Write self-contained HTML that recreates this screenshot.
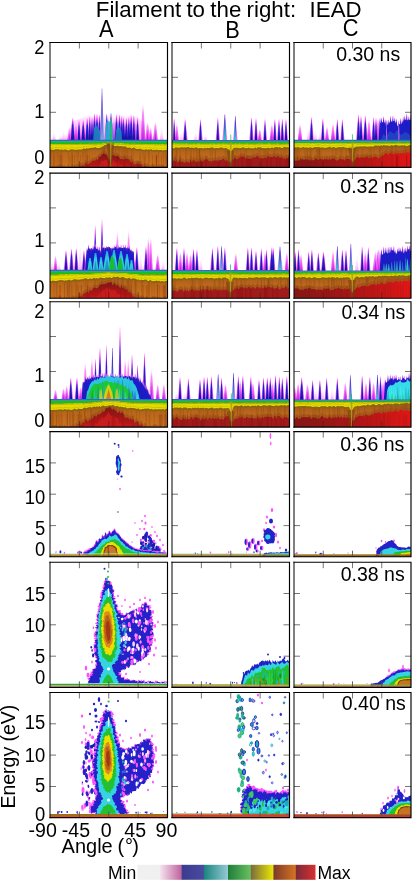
<!DOCTYPE html><html><head><meta charset="utf-8"><style>html,body{margin:0;padding:0;background:#fff;overflow:hidden}svg{display:block;will-change:transform}text{font-family:"Liberation Sans",sans-serif;fill:#000}</style></head><body>
<svg xmlns="http://www.w3.org/2000/svg" width="413" height="881" viewBox="0 0 413 881">
<defs>
<linearGradient id="gB" x1="0" y1="0" x2="0" y2="1">
 <stop offset="0" stop-color="#ff80ff" stop-opacity="0.6"/><stop offset="0.1" stop-color="#ff40ff"/><stop offset="0.22" stop-color="#a830e4"/><stop offset="0.34" stop-color="#3020d0"/><stop offset="0.65" stop-color="#1c1cc4"/><stop offset="1" stop-color="#16169e"/></linearGradient>
<filter id="soft" x="-5%" y="-5%" width="110%" height="110%"><feGaussianBlur stdDeviation="0.45"/></filter>
<linearGradient id="gH" x1="0" y1="0" x2="0" y2="1">
 <stop offset="0" stop-color="#ffffff" stop-opacity="0"/><stop offset="0.25" stop-color="#ffa0ff"/><stop offset="0.6" stop-color="#ff50ff"/><stop offset="1" stop-color="#ff40ff"/></linearGradient>
<linearGradient id="gM" x1="0" y1="0" x2="0" y2="1">
 <stop offset="0" stop-color="#ffffff" stop-opacity="0"/><stop offset="0.3" stop-color="#ff90ff"/><stop offset="1" stop-color="#f030f0"/></linearGradient>
<linearGradient id="gP" x1="0" y1="0" x2="0" y2="1">
 <stop offset="0" stop-color="#ffffff" stop-opacity="0"/><stop offset="1" stop-color="#ffa8ff"/></linearGradient>
<linearGradient id="gT" x1="0" y1="0" x2="0" y2="1">
 <stop offset="0" stop-color="#7040e0"/><stop offset="0.25" stop-color="#2a30d0"/><stop offset="0.6" stop-color="#2090c8"/><stop offset="1" stop-color="#30d0d0"/></linearGradient>
<linearGradient id="gBlk" x1="0" y1="0" x2="0" y2="1">
 <stop offset="0" stop-color="#ff60ff"/><stop offset="0.07" stop-color="#c040f0"/><stop offset="0.15" stop-color="#3a22d4"/><stop offset="0.3" stop-color="#1e1ed0"/><stop offset="1" stop-color="#1a1ab8"/></linearGradient>
<linearGradient id="gCy" x1="0" y1="0" x2="0" y2="1">
 <stop offset="0" stop-color="#20a0d8"/><stop offset="0.4" stop-color="#30d8e0"/><stop offset="1" stop-color="#28c0c8"/></linearGradient>
<linearGradient id="gRed" x1="0" y1="0" x2="0" y2="1">
 <stop offset="0" stop-color="#7e1414"/><stop offset="0.5" stop-color="#a81818"/><stop offset="1" stop-color="#c81c1c"/></linearGradient>
<linearGradient id="gRedR" x1="0" y1="0" x2="1" y2="0">
 <stop offset="0" stop-color="#861818"/><stop offset="0.5" stop-color="#a81818"/><stop offset="1" stop-color="#e01818"/></linearGradient>
<linearGradient id="gOr" x1="0" y1="0" x2="0" y2="1">
 <stop offset="0" stop-color="#94521a"/><stop offset="0.45" stop-color="#b8661c"/><stop offset="1" stop-color="#cc7420"/></linearGradient>
<clipPath id="cl00"><rect x="50.0" y="42.5" width="117.50" height="124.80"/></clipPath><clipPath id="cl01"><rect x="172.0" y="42.5" width="117.50" height="124.80"/></clipPath><clipPath id="cl02"><rect x="294.0" y="42.5" width="117.00" height="124.80"/></clipPath><clipPath id="cl10"><rect x="50.0" y="173.1" width="117.50" height="125.10"/></clipPath><clipPath id="cl11"><rect x="172.0" y="173.1" width="117.50" height="125.10"/></clipPath><clipPath id="cl12"><rect x="294.0" y="173.1" width="117.00" height="125.10"/></clipPath><clipPath id="cl20"><rect x="50.0" y="301.7" width="117.50" height="125.40"/></clipPath><clipPath id="cl21"><rect x="172.0" y="301.7" width="117.50" height="125.40"/></clipPath><clipPath id="cl22"><rect x="294.0" y="301.7" width="117.00" height="125.40"/></clipPath><clipPath id="cl30"><rect x="50.0" y="431.6" width="117.50" height="125.10"/></clipPath><clipPath id="cl31"><rect x="172.0" y="431.6" width="117.50" height="125.10"/></clipPath><clipPath id="cl32"><rect x="294.0" y="431.6" width="117.00" height="125.10"/></clipPath><clipPath id="cl40"><rect x="50.0" y="562.2" width="117.50" height="125.10"/></clipPath><clipPath id="cl41"><rect x="172.0" y="562.2" width="117.50" height="125.10"/></clipPath><clipPath id="cl42"><rect x="294.0" y="562.2" width="117.00" height="125.10"/></clipPath><clipPath id="cl50"><rect x="50.0" y="692.5" width="117.50" height="125.10"/></clipPath><clipPath id="cl51"><rect x="172.0" y="692.5" width="117.50" height="125.10"/></clipPath><clipPath id="cl52"><rect x="294.0" y="692.5" width="117.00" height="125.10"/></clipPath></defs>
<rect width="413" height="881" fill="#fff"/>
<g clip-path="url(#cl00)">
<g filter="url(#soft)">
<polygon points="68.0,140.2 72.0,121.0 80.0,119.0 92.0,113.0 100.0,112.0 112.0,112.0 124.0,115.0 136.0,116.0 142.0,121.0 146.0,140.2" fill="url(#gH)" opacity="0.35"/>
<polygon points="52.1,140.2 54.0,130.0 55.9,140.2" fill="url(#gP)" />
<polygon points="58.7,140.2 60.6,133.0 62.5,140.2" fill="url(#gP)" />
<polygon points="61.6,140.2 63.5,128.0 65.5,140.2" fill="url(#gP)" />
<polygon points="64.5,140.2 66.4,130.0 68.4,140.2" fill="url(#gP)" />
<polygon points="69.8,140.2 72.7,115.5 75.6,140.2" fill="url(#gH)" opacity="0.85"/>
<polygon points="76.7,140.2 79.0,117.5 81.3,140.2" fill="url(#gH)" opacity="0.85"/>
<polygon points="80.5,140.2 83.2,117.5 85.9,140.2" fill="url(#gH)" opacity="0.85"/>
<polygon points="84.6,140.2 87.2,115.5 89.8,140.2" fill="url(#gH)" opacity="0.85"/>
<polygon points="87.5,140.2 89.8,113.8 92.1,140.2" fill="url(#gH)" opacity="0.85"/>
<polygon points="91.6,140.2 94.5,111.5 97.4,140.2" fill="url(#gH)" opacity="0.85"/>
<polygon points="94.1,140.2 97.0,111.3 99.9,140.2" fill="url(#gH)" opacity="0.85"/>
<polygon points="97.0,140.2 99.5,112.5 102.0,140.2" fill="url(#gH)" opacity="0.85"/>
<polygon points="113.8,140.2 116.5,111.9 119.2,140.2" fill="url(#gH)" opacity="0.85"/>
<polygon points="116.8,140.2 119.5,112.3 122.2,140.2" fill="url(#gH)" opacity="0.85"/>
<polygon points="120.9,140.2 123.5,115.1 126.1,140.2" fill="url(#gH)" opacity="0.85"/>
<polygon points="123.8,140.2 126.4,115.5 129.0,140.2" fill="url(#gH)" opacity="0.85"/>
<polygon points="126.4,140.2 128.8,114.5 131.2,140.2" fill="url(#gH)" opacity="0.85"/>
<polygon points="128.6,140.2 131.2,112.5 133.8,140.2" fill="url(#gH)" opacity="0.85"/>
<polygon points="131.4,140.2 133.8,113.0 136.2,140.2" fill="url(#gH)" opacity="0.85"/>
<polygon points="135.3,140.2 137.6,115.0 139.9,140.2" fill="url(#gH)" opacity="0.85"/>
<polygon points="140.6,140.2 142.8,100.5 143.2,100.5 145.4,140.2" fill="url(#gM)" />
<polygon points="145.2,140.2 147.4,120.0 147.8,120.0 150.0,140.2" fill="url(#gM)" />
<polygon points="153.0,140.2 155.2,120.0 155.6,120.0 157.8,140.2" fill="url(#gM)" />
<polygon points="159.6,140.2 161.6,124.0 163.6,140.2" fill="url(#gP)" />
<polygon points="104.1,140.2 106.8,111.9 109.5,140.2" fill="url(#gH)" opacity="0.85"/>
<polygon points="108.1,140.2 111.0,110.7 113.9,140.2" fill="url(#gH)" opacity="0.85"/>
<polygon points="73.6,140.2 75.8,121.0 76.2,121.0 78.4,140.2" fill="url(#gM)" />
<polygon points="89.8,140.2 92.0,114.5 94.2,140.2" fill="url(#gH)" opacity="0.85"/>
<polygon points="111.7,140.2 113.8,116.0 114.2,116.0 116.3,140.2" fill="url(#gM)" />
<polygon points="119.5,140.2 121.8,113.5 124.1,140.2" fill="url(#gH)" opacity="0.85"/>
<polygon points="133.5,140.2 135.6,118.0 136.0,118.0 138.1,140.2" fill="url(#gM)" />
<polygon points="148.3,140.2 150.3,126.0 150.7,126.0 152.7,140.2" fill="url(#gM)" />
<polygon points="67.3,140.2 69.3,126.0 69.7,126.0 71.7,140.2" fill="url(#gM)" />
<polygon points="70.8,140.2 72.5,118.0 73.0,118.0 74.6,140.2" fill="url(#gB)" />
<polygon points="77.6,140.2 78.8,120.0 79.2,120.0 80.4,140.2" fill="url(#gB)" />
<polygon points="81.4,140.2 83.0,120.0 83.5,120.0 85.0,140.2" fill="url(#gB)" />
<polygon points="85.5,140.2 87.0,118.0 87.5,118.0 88.9,140.2" fill="url(#gB)" />
<polygon points="88.5,140.2 89.5,116.3 90.0,116.3 91.1,140.2" fill="url(#gB)" />
<polygon points="92.6,140.2 94.2,114.0 94.8,114.0 96.4,140.2" fill="url(#gB)" />
<polygon points="95.1,140.2 96.8,113.8 97.2,113.8 98.9,140.2" fill="url(#gB)" />
<polygon points="98.0,140.2 99.2,115.0 99.8,115.0 101.0,140.2" fill="url(#gB)" />
<polygon points="114.7,140.2 116.2,114.4 116.8,114.4 118.3,140.2" fill="url(#gB)" />
<polygon points="117.7,140.2 119.2,114.8 119.8,114.8 121.3,140.2" fill="url(#gB)" />
<polygon points="121.8,140.2 123.2,117.6 123.8,117.6 125.2,140.2" fill="url(#gB)" />
<polygon points="124.7,140.2 126.2,118.0 126.7,118.0 128.1,140.2" fill="url(#gB)" />
<polygon points="127.4,140.2 128.6,117.0 129.1,117.0 130.2,140.2" fill="url(#gB)" />
<polygon points="129.5,140.2 130.9,115.0 131.4,115.0 132.9,140.2" fill="url(#gB)" />
<polygon points="132.4,140.2 133.6,115.5 134.1,115.5 135.2,140.2" fill="url(#gB)" />
<polygon points="136.2,140.2 137.3,117.5 137.8,117.5 139.0,140.2" fill="url(#gB)" />
<polygon points="142.3,140.2 143.0,118.4 143.7,140.2" fill="#7a24d8" opacity="0.65"/>
<polygon points="146.9,140.2 147.6,129.1 148.3,140.2" fill="#7a24d8" opacity="0.65"/>
<polygon points="154.7,140.2 155.4,129.1 156.1,140.2" fill="#7a24d8" opacity="0.65"/>
<polygon points="105.0,140.2 106.5,114.4 107.0,114.4 108.6,140.2" fill="url(#gT)" />
<polygon points="109.1,140.2 110.8,113.2 111.2,113.2 112.9,140.2" fill="url(#gT)" />
<polygon points="75.3,140.2 76.0,129.6 76.7,140.2" fill="#7a24d8" opacity="0.65"/>
<polygon points="90.8,140.2 91.8,117.0 92.2,117.0 93.2,140.2" fill="url(#gB)" />
<polygon points="113.4,140.2 114.0,126.9 114.6,140.2" fill="#7a24d8" opacity="0.65"/>
<polygon points="120.5,140.2 121.5,116.0 122.0,116.0 123.1,140.2" fill="url(#gB)" />
<polygon points="135.2,140.2 135.8,128.0 136.4,140.2" fill="#7a24d8" opacity="0.65"/>
<polygon points="149.9,140.2 150.5,132.4 151.1,140.2" fill="#7a24d8" opacity="0.65"/>
<polygon points="68.9,140.2 69.5,132.4 70.1,140.2" fill="#7a24d8" opacity="0.65"/>
<polygon points="93.2,140.2 94.0,128.0 96.0,125.0 98.0,127.0 100.0,131.0 100.6,140.2" fill="#2290c0" opacity="0.8"/>
<polygon points="105.0,140.2 105.8,124.0 107.5,120.0 109.5,122.0 111.0,119.0 112.6,124.0 113.0,140.2" fill="#26a8cc" opacity="0.85"/>
<polygon points="115.0,140.2 116.0,130.0 118.0,126.0 120.0,128.0 121.6,132.0 122.0,140.2" fill="#2290c0" opacity="0.75"/>
<polygon points="99.9,140.2 102.0,86.1 104.1,140.2" fill="url(#gH)" opacity="0.85"/>
<polygon points="100.8,140.2 101.8,88.6 102.2,88.6 103.2,140.2" fill="url(#gT)" />
<polygon points="110.4,140.2 111.0,118.0 111.5,118.0 112.0,140.2" fill="#20c848" />
<polygon points="50.0,140.2 167.5,140.2 167.5,168.3 50.0,168.3" fill="url(#gOr)" />
<path d="M103.2 144.2V167.3 M115.8 144.2V167.3 M158.6 144.2V167.3 M104.7 144.2V167.3 M109.7 144.2V167.3 M119.0 144.2V167.3 M71.7 144.2V167.3 M110.1 144.2V167.3 M124.0 144.2V167.3 M143.2 144.2V167.3 M61.1 144.2V167.3 M85.6 144.2V167.3 M60.7 144.2V167.3 M145.1 144.2V167.3 M131.5 144.2V167.3 M54.9 144.2V167.3 M165.4 144.2V167.3 M163.4 144.2V167.3 M126.8 144.2V167.3 M122.3 144.2V167.3 M68.5 144.2V167.3 M51.8 144.2V167.3 M112.1 144.2V167.3 M57.0 144.2V167.3 M72.3 144.2V167.3 M78.4 144.2V167.3 M53.5 144.2V167.3 M104.5 144.2V167.3 M101.8 144.2V167.3 M149.0 144.2V167.3 M111.0 144.2V167.3 M125.2 144.2V167.3 M108.7 144.2V167.3 M127.8 144.2V167.3 M103.7 144.2V167.3 M82.7 144.2V167.3 M167.2 144.2V167.3 M167.0 144.2V167.3 M148.7 144.2V167.3 M133.2 144.2V167.3 M87.0 144.2V167.3 M77.0 144.2V167.3 M84.0 144.2V167.3 M58.3 144.2V167.3 M140.0 144.2V167.3" stroke="#7a3a0c" stroke-opacity="0.25" stroke-width="0.8"/>
<polygon points="50.0,165.6 51.1,165.9 52.2,165.7 53.3,165.7 54.4,165.6 55.5,166.3 56.6,165.0 57.7,166.2 58.8,164.1 59.9,165.0 61.0,165.1 62.1,164.4 63.2,166.3 64.3,164.9 65.4,166.4 66.5,166.9 67.6,164.6 68.7,166.6 69.8,166.3 70.9,165.8 72.0,163.7 73.1,165.0 74.2,165.5 75.3,164.4 76.4,164.2 77.5,164.4 78.6,163.9 79.7,164.9 80.8,162.9 81.9,162.5 83.0,162.6 84.1,162.9 85.2,160.3 86.3,159.2 87.4,161.8 88.5,161.1 89.6,160.6 90.7,159.4 91.8,158.2 92.9,157.6 94.0,157.6 95.1,157.7 96.2,155.9 97.3,157.0 98.4,156.1 99.5,152.9 100.6,154.2 101.7,151.5 102.8,151.3 103.9,150.0 105.0,151.4 106.1,151.1 107.2,152.9 108.3,155.5 109.4,156.3 110.5,158.9 111.6,153.3 112.7,151.9 113.8,152.0 114.9,152.9 116.0,153.5 117.1,153.1 118.2,153.2 119.3,154.3 120.4,156.1 121.5,156.0 122.6,156.0 123.7,156.9 124.8,155.4 125.9,155.4 127.0,155.8 128.1,156.3 129.2,156.4 130.3,158.8 131.4,160.1 132.5,158.0 133.6,160.2 134.7,161.5 135.8,161.3 136.9,159.8 138.0,161.8 139.1,161.0 140.2,161.1 141.3,161.0 142.4,163.0 143.5,164.7 144.6,162.5 145.7,163.0 146.8,164.2 147.9,163.5 149.0,164.9 150.1,165.8 151.2,165.0 152.3,163.8 153.4,163.8 154.5,164.4 155.6,165.9 156.7,166.8 157.8,165.5 158.9,164.3 160.0,164.7 161.1,165.4 162.2,164.5 163.3,164.6 164.4,165.7 165.5,167.0 166.6,165.1 167.5,166.0 167.5,168.3 50.0,168.3" fill="#94481a" opacity="0.55"/>
<polygon points="50.0,168.6 51.1,168.9 52.2,168.7 53.3,168.7 54.4,168.6 55.5,169.3 56.6,168.0 57.7,169.2 58.8,167.1 59.9,168.0 61.0,168.1 62.1,167.4 63.2,169.3 64.3,167.9 65.4,169.4 66.5,169.9 67.6,167.6 68.7,169.6 69.8,169.3 70.9,168.8 72.0,166.7 73.1,168.0 74.2,168.5 75.3,167.4 76.4,167.2 77.5,167.4 78.6,166.9 79.7,167.9 80.8,165.9 81.9,165.5 83.0,165.6 84.1,165.9 85.2,163.3 86.3,162.2 87.4,164.8 88.5,164.1 89.6,163.6 90.7,162.4 91.8,161.2 92.9,160.6 94.0,160.6 95.1,160.7 96.2,158.9 97.3,160.0 98.4,159.1 99.5,155.9 100.6,157.2 101.7,154.5 102.8,154.3 103.9,153.0 105.0,154.4 106.1,154.1 107.2,155.9 108.3,158.5 109.4,159.3 110.5,161.9 111.6,156.3 112.7,154.9 113.8,155.0 114.9,155.9 116.0,156.5 117.1,156.1 118.2,156.2 119.3,157.3 120.4,159.1 121.5,159.0 122.6,159.0 123.7,159.9 124.8,158.4 125.9,158.4 127.0,158.8 128.1,159.3 129.2,159.4 130.3,161.8 131.4,163.1 132.5,161.0 133.6,163.2 134.7,164.5 135.8,164.3 136.9,162.8 138.0,164.8 139.1,164.0 140.2,164.1 141.3,164.0 142.4,166.0 143.5,167.7 144.6,165.5 145.7,166.0 146.8,167.2 147.9,166.5 149.0,167.9 150.1,168.8 151.2,168.0 152.3,166.8 153.4,166.8 154.5,167.4 155.6,168.9 156.7,169.8 157.8,168.5 158.9,167.3 160.0,167.7 161.1,168.4 162.2,167.5 163.3,167.6 164.4,168.7 165.5,170.0 166.6,168.1 167.5,169.0 167.5,168.3 50.0,168.3" fill="url(#gRed)" />
<polygon points="50.0,169.1 51.1,170.2 52.2,170.7 53.3,168.1 54.4,169.9 55.5,169.7 56.6,169.5 57.7,167.3 58.8,167.0 59.9,168.3 61.0,169.7 62.1,167.8 63.2,168.7 64.3,168.0 65.4,170.0 66.5,170.4 67.6,168.2 68.7,170.5 69.8,166.9 70.9,169.7 72.0,170.0 73.1,167.2 74.2,169.3 75.3,168.7 76.4,170.2 77.5,167.3 78.6,168.5 79.7,169.8 80.8,168.9 81.9,167.6 83.0,166.7 84.1,169.9 85.2,168.1 86.3,170.1 87.4,166.8 88.5,169.4 89.6,169.3 90.7,169.7 91.8,166.2 92.9,167.6 94.0,166.3 95.1,169.0 96.2,167.2 97.3,168.1 98.4,164.5 99.5,164.7 100.6,163.8 101.7,160.3 102.8,160.4 103.9,160.9 105.0,159.8 106.1,159.9 107.2,160.4 108.3,164.3 109.4,163.8 110.5,165.6 111.6,163.5 112.7,161.7 113.8,159.9 114.9,162.4 116.0,163.8 117.1,161.9 118.2,162.5 119.3,165.7 120.4,165.3 121.5,165.0 122.6,165.0 123.7,168.7 124.8,167.4 125.9,167.9 127.0,167.2 128.1,168.6 129.2,169.0 130.3,167.4 131.4,166.5 132.5,170.1 133.6,169.8 134.7,166.4 135.8,168.5 136.9,169.0 138.0,168.0 139.1,169.2 140.2,170.1 141.3,168.7 142.4,168.0 143.5,167.3 144.6,167.5 145.7,167.2 146.8,167.0 147.9,167.5 149.0,169.9 150.1,168.7 151.2,169.8 152.3,170.3 153.4,169.9 154.5,167.0 155.6,170.4 156.7,167.2 157.8,169.8 158.9,170.1 160.0,169.4 161.1,168.5 162.2,167.3 163.3,167.3 164.4,169.5 165.5,168.0 166.6,169.1 167.5,169.0 167.5,168.3 50.0,168.3" fill="#cc1e1e" opacity="0.85"/>
<path d="M156.4 155.2V167.3 M130.6 155.2V167.3 M140.1 155.2V167.3 M156.3 155.2V167.3 M80.5 155.2V167.3 M124.7 155.2V167.3 M156.3 155.2V167.3 M152.5 155.2V167.3 M117.3 155.2V167.3 M69.9 155.2V167.3 M98.4 155.2V167.3 M166.8 155.2V167.3 M62.1 155.2V167.3 M87.5 155.2V167.3 M161.6 155.2V167.3 M102.8 155.2V167.3 M74.5 155.2V167.3 M87.2 155.2V167.3 M156.8 155.2V167.3 M89.4 155.2V167.3 M100.2 155.2V167.3 M123.8 155.2V167.3 M144.7 155.2V167.3 M107.8 155.2V167.3 M59.6 155.2V167.3 M117.4 155.2V167.3 M54.1 155.2V167.3 M61.1 155.2V167.3 M72.4 155.2V167.3 M131.5 155.2V167.3" stroke="#600808" stroke-opacity="0.18" stroke-width="0.8"/>
<polygon points="50.0,144.0 51.3,144.0 52.6,144.0 53.9,143.8 55.2,143.8 56.5,143.9 57.8,143.8 59.1,144.0 60.4,144.0 61.7,143.9 63.0,143.9 64.3,143.9 65.6,143.7 66.9,143.8 68.2,143.7 69.5,144.0 70.8,143.6 72.1,143.9 73.4,143.6 74.7,143.8 76.0,143.7 77.3,143.7 78.6,143.9 79.9,143.5 81.2,143.5 82.5,143.8 83.8,143.7 85.1,143.5 86.4,143.8 87.7,143.8 89.0,143.5 90.3,143.6 91.6,143.4 92.9,143.5 94.2,143.6 95.5,143.4 96.8,143.6 98.1,143.3 99.4,143.4 100.7,143.5 102.0,143.2 103.3,143.1 104.6,143.0 105.9,142.8 107.2,142.6 108.5,142.4 109.8,142.8 111.1,142.9 112.4,143.0 113.7,142.9 115.0,142.9 116.3,142.9 117.6,143.1 118.9,143.2 120.2,143.0 121.5,143.1 122.8,143.2 124.1,143.3 125.4,143.5 126.7,143.5 128.0,143.3 129.3,143.7 130.6,143.6 131.9,143.6 133.2,143.5 134.5,143.6 135.8,143.6 137.1,143.8 138.4,143.6 139.7,143.8 141.0,143.6 142.3,143.9 143.6,143.6 144.9,143.8 146.2,143.8 147.5,143.9 148.8,143.7 150.1,143.9 151.4,143.8 152.7,143.9 154.0,144.0 155.3,144.2 156.6,144.0 157.9,144.2 159.2,143.9 160.5,144.3 161.8,144.1 163.1,144.0 164.4,144.3 165.7,144.3 167.0,144.0 167.5,144.2 167.5,152.1 167.0,151.6 165.7,151.8 164.4,151.8 163.1,152.2 161.8,151.7 160.5,151.9 159.2,151.8 157.9,151.8 156.6,151.2 155.3,151.8 154.0,151.6 152.7,152.1 151.4,150.8 150.1,151.6 148.8,151.0 147.5,151.7 146.2,150.7 144.9,151.5 143.6,151.5 142.3,151.4 141.0,150.7 139.7,150.3 138.4,150.8 137.1,150.9 135.8,150.6 134.5,149.5 133.2,149.2 131.9,150.2 130.6,149.8 129.3,149.1 128.0,149.7 126.7,149.1 125.4,148.1 124.1,148.4 122.8,148.1 121.5,148.0 120.2,147.8 118.9,148.1 117.6,147.4 116.3,147.7 115.0,147.8 113.7,147.5 112.4,147.1 111.1,146.4 109.8,145.2 108.5,145.3 107.2,146.1 105.9,146.9 104.6,146.7 103.3,148.1 102.0,148.4 100.7,149.2 99.4,149.9 98.1,149.7 96.8,149.8 95.5,148.9 94.2,149.3 92.9,149.5 91.6,149.5 90.3,149.7 89.0,150.0 87.7,150.4 86.4,150.1 85.1,150.8 83.8,150.1 82.5,151.0 81.2,151.3 79.9,151.2 78.6,151.4 77.3,151.5 76.0,151.6 74.7,151.8 73.4,151.0 72.1,151.3 70.8,151.0 69.5,151.9 68.2,152.2 66.9,151.6 65.6,151.4 64.3,151.3 63.0,151.7 61.7,151.1 60.4,151.9 59.1,151.1 57.8,151.0 56.5,151.1 55.2,151.0 53.9,151.9 52.6,151.6 51.3,151.6 50.0,151.0" fill="#8a6414" />
<polygon points="50.0,144.0 51.3,144.0 52.6,144.0 53.9,143.8 55.2,143.8 56.5,143.9 57.8,143.8 59.1,144.0 60.4,144.0 61.7,143.9 63.0,143.9 64.3,143.9 65.6,143.7 66.9,143.8 68.2,143.7 69.5,144.0 70.8,143.6 72.1,143.9 73.4,143.6 74.7,143.8 76.0,143.7 77.3,143.7 78.6,143.9 79.9,143.5 81.2,143.5 82.5,143.8 83.8,143.7 85.1,143.5 86.4,143.8 87.7,143.8 89.0,143.5 90.3,143.6 91.6,143.4 92.9,143.5 94.2,143.6 95.5,143.4 96.8,143.6 98.1,143.3 99.4,143.4 100.7,143.5 102.0,143.2 103.3,143.1 104.6,143.0 105.9,142.8 107.2,142.6 108.5,142.4 109.8,142.8 111.1,142.9 112.4,143.0 113.7,142.9 115.0,142.9 116.3,142.9 117.6,143.1 118.9,143.2 120.2,143.0 121.5,143.1 122.8,143.2 124.1,143.3 125.4,143.5 126.7,143.5 128.0,143.3 129.3,143.7 130.6,143.6 131.9,143.6 133.2,143.5 134.5,143.6 135.8,143.6 137.1,143.8 138.4,143.6 139.7,143.8 141.0,143.6 142.3,143.9 143.6,143.6 144.9,143.8 146.2,143.8 147.5,143.9 148.8,143.7 150.1,143.9 151.4,143.8 152.7,143.9 154.0,144.0 155.3,144.2 156.6,144.0 157.9,144.2 159.2,143.9 160.5,144.3 161.8,144.1 163.1,144.0 164.4,144.3 165.7,144.3 167.0,144.0 167.5,144.2 167.5,150.3 167.0,149.8 165.7,150.0 164.4,150.0 163.1,150.4 161.8,149.9 160.5,150.1 159.2,150.0 157.9,150.0 156.6,149.4 155.3,150.0 154.0,149.8 152.7,150.3 151.4,149.0 150.1,149.8 148.8,149.2 147.5,149.9 146.2,148.9 144.9,149.7 143.6,149.7 142.3,149.6 141.0,148.9 139.7,148.5 138.4,149.0 137.1,149.1 135.8,148.8 134.5,147.7 133.2,147.4 131.9,148.4 130.6,148.0 129.3,147.3 128.0,147.9 126.7,147.3 125.4,146.3 124.1,146.6 122.8,146.3 121.5,146.2 120.2,146.0 118.9,146.3 117.6,145.6 116.3,145.9 115.0,146.0 113.7,145.7 112.4,145.3 111.1,144.6 109.8,143.4 108.5,143.5 107.2,144.3 105.9,145.1 104.6,144.9 103.3,146.3 102.0,146.6 100.7,147.4 99.4,148.1 98.1,147.9 96.8,148.0 95.5,147.1 94.2,147.5 92.9,147.7 91.6,147.7 90.3,147.9 89.0,148.2 87.7,148.6 86.4,148.3 85.1,149.0 83.8,148.3 82.5,149.2 81.2,149.5 79.9,149.4 78.6,149.6 77.3,149.7 76.0,149.8 74.7,150.0 73.4,149.2 72.1,149.5 70.8,149.2 69.5,150.1 68.2,150.4 66.9,149.8 65.6,149.6 64.3,149.5 63.0,149.9 61.7,149.3 60.4,150.1 59.1,149.3 57.8,149.2 56.5,149.3 55.2,149.2 53.9,150.1 52.6,149.8 51.3,149.8 50.0,149.2" fill="#e4dc00" />
<polygon points="50.0,144.4 51.3,144.4 52.6,144.4 53.9,144.2 55.2,144.2 56.5,144.3 57.8,144.2 59.1,144.4 60.4,144.4 61.7,144.3 63.0,144.3 64.3,144.3 65.6,144.1 66.9,144.2 68.2,144.1 69.5,144.4 70.8,144.0 72.1,144.3 73.4,144.0 74.7,144.2 76.0,144.1 77.3,144.1 78.6,144.3 79.9,143.9 81.2,143.9 82.5,144.2 83.8,144.1 85.1,143.9 86.4,144.2 87.7,144.2 89.0,143.9 90.3,144.0 91.6,143.8 92.9,143.9 94.2,144.0 95.5,143.8 96.8,144.0 98.1,143.7 99.4,143.8 100.7,143.9 102.0,143.6 103.3,143.5 104.6,143.4 105.9,143.2 107.2,143.0 108.5,142.8 109.8,143.2 111.1,143.3 112.4,143.4 113.7,143.3 115.0,143.3 116.3,143.3 117.6,143.5 118.9,143.6 120.2,143.4 121.5,143.5 122.8,143.6 124.1,143.7 125.4,143.9 126.7,143.9 128.0,143.7 129.3,144.1 130.6,144.0 131.9,144.0 133.2,143.9 134.5,144.0 135.8,144.0 137.1,144.2 138.4,144.0 139.7,144.2 141.0,144.0 142.3,144.3 143.6,144.0 144.9,144.2 146.2,144.2 147.5,144.3 148.8,144.1 150.1,144.3 151.4,144.2 152.7,144.3 154.0,144.4 155.3,144.6 156.6,144.4 157.9,144.6 159.2,144.3 160.5,144.7 161.8,144.5 163.1,144.4 164.4,144.7 165.7,144.7 167.0,144.4 167.5,144.6 167.5,145.5 167.0,145.3 165.7,145.6 164.4,145.6 163.1,145.3 161.8,145.4 160.5,145.6 159.2,145.2 157.9,145.5 156.6,145.3 155.3,145.5 154.0,145.3 152.7,145.2 151.4,145.1 150.1,145.2 148.8,145.0 147.5,145.2 146.2,145.1 144.9,145.1 143.6,144.9 142.3,145.2 141.0,144.9 139.7,145.1 138.4,144.9 137.1,145.1 135.8,144.9 134.5,144.9 133.2,144.8 131.9,144.9 130.6,144.9 129.3,145.0 128.0,144.6 126.7,144.8 125.4,144.8 124.1,144.6 122.8,144.5 121.5,144.4 120.2,144.3 118.9,144.5 117.6,144.4 116.3,144.2 115.0,144.2 113.7,144.2 112.4,144.3 111.1,144.2 109.8,144.1 108.5,143.7 107.2,143.9 105.9,144.1 104.6,144.3 103.3,144.4 102.0,144.5 100.7,144.8 99.4,144.7 98.1,144.6 96.8,144.9 95.5,144.7 94.2,144.9 92.9,144.8 91.6,144.7 90.3,144.9 89.0,144.8 87.7,145.1 86.4,145.1 85.1,144.8 83.8,145.0 82.5,145.1 81.2,144.8 79.9,144.8 78.6,145.2 77.3,145.0 76.0,145.0 74.7,145.1 73.4,144.9 72.1,145.2 70.8,144.9 69.5,145.3 68.2,145.0 66.9,145.1 65.6,145.0 64.3,145.2 63.0,145.2 61.7,145.2 60.4,145.3 59.1,145.3 57.8,145.1 56.5,145.2 55.2,145.1 53.9,145.1 52.6,145.3 51.3,145.3 50.0,145.3" fill="#a8a010" opacity="0.8"/>
<polygon points="50.0,147.0 51.3,147.6 52.6,147.6 53.9,147.9 55.2,147.0 56.5,147.1 57.8,147.0 59.1,147.1 60.4,147.9 61.7,147.1 63.0,147.7 64.3,147.3 65.6,147.4 66.9,147.6 68.2,148.2 69.5,147.9 70.8,147.0 72.1,147.3 73.4,147.0 74.7,147.8 76.0,147.6 77.3,147.5 78.6,147.4 79.9,147.2 81.2,147.3 82.5,147.0 83.8,146.1 85.1,146.8 86.4,146.1 87.7,146.4 89.0,146.0 90.3,145.7 91.6,145.5 92.9,145.5 94.2,145.3 95.5,144.9 96.8,145.8 98.1,145.7 99.4,145.9 100.7,145.2 102.0,144.4 103.3,144.1 104.6,142.7 105.9,142.9 107.2,142.1 108.5,141.3 109.8,141.2 111.1,142.4 112.4,143.1 113.7,143.5 115.0,143.8 116.3,143.7 117.6,143.4 118.9,144.1 120.2,143.8 121.5,144.0 122.8,144.1 124.1,144.4 125.4,144.1 126.7,145.1 128.0,145.7 129.3,145.1 130.6,145.8 131.9,146.2 133.2,145.2 134.5,145.5 135.8,146.6 137.1,146.9 138.4,146.8 139.7,146.3 141.0,146.7 142.3,147.4 143.6,147.5 144.9,147.5 146.2,146.7 147.5,147.7 148.8,147.0 150.1,147.6 151.4,146.8 152.7,148.1 154.0,147.6 155.3,147.8 156.6,147.2 157.9,147.8 159.2,147.8 160.5,147.9 161.8,147.7 163.1,148.2 164.4,147.8 165.7,147.8 167.0,147.6 167.5,148.1 167.5,148.9 167.0,148.4 165.7,148.6 164.4,148.6 163.1,149.0 161.8,148.5 160.5,148.7 159.2,148.6 157.9,148.6 156.6,148.0 155.3,148.6 154.0,148.4 152.7,148.9 151.4,147.6 150.1,148.4 148.8,147.8 147.5,148.5 146.2,147.5 144.9,148.3 143.6,148.3 142.3,148.2 141.0,147.5 139.7,147.1 138.4,147.6 137.1,147.7 135.8,147.4 134.5,146.3 133.2,146.0 131.9,147.0 130.6,146.6 129.3,145.9 128.0,146.5 126.7,145.9 125.4,144.9 124.1,145.2 122.8,144.9 121.5,144.8 120.2,144.6 118.9,144.9 117.6,144.2 116.3,144.5 115.0,144.6 113.7,144.3 112.4,143.9 111.1,143.2 109.8,142.0 108.5,142.1 107.2,142.9 105.9,143.7 104.6,143.5 103.3,144.9 102.0,145.2 100.7,146.0 99.4,146.7 98.1,146.5 96.8,146.6 95.5,145.7 94.2,146.1 92.9,146.3 91.6,146.3 90.3,146.5 89.0,146.8 87.7,147.2 86.4,146.9 85.1,147.6 83.8,146.9 82.5,147.8 81.2,148.1 79.9,148.0 78.6,148.2 77.3,148.3 76.0,148.4 74.7,148.6 73.4,147.8 72.1,148.1 70.8,147.8 69.5,148.7 68.2,149.0 66.9,148.4 65.6,148.2 64.3,148.1 63.0,148.5 61.7,147.9 60.4,148.7 59.1,147.9 57.8,147.8 56.5,147.9 55.2,147.8 53.9,148.7 52.6,148.4 51.3,148.4 50.0,147.8" fill="#b0a010" opacity="0.45"/>
<polygon points="50.0,141.2 167.5,141.2 167.5,144.2 167.0,144.0 165.7,144.3 164.4,144.3 163.1,144.0 161.8,144.1 160.5,144.3 159.2,143.9 157.9,144.2 156.6,144.0 155.3,144.2 154.0,144.0 152.7,143.9 151.4,143.8 150.1,143.9 148.8,143.7 147.5,143.9 146.2,143.8 144.9,143.8 143.6,143.6 142.3,143.9 141.0,143.6 139.7,143.8 138.4,143.6 137.1,143.8 135.8,143.6 134.5,143.6 133.2,143.5 131.9,143.6 130.6,143.6 129.3,143.7 128.0,143.3 126.7,143.5 125.4,143.5 124.1,143.3 122.8,143.2 121.5,143.1 120.2,143.0 118.9,143.2 117.6,143.1 116.3,142.9 115.0,142.9 113.7,142.9 112.4,143.0 111.1,142.9 109.8,142.8 108.5,142.4 107.2,142.6 105.9,142.8 104.6,143.0 103.3,143.1 102.0,143.2 100.7,143.5 99.4,143.4 98.1,143.3 96.8,143.6 95.5,143.4 94.2,143.6 92.9,143.5 91.6,143.4 90.3,143.6 89.0,143.5 87.7,143.8 86.4,143.8 85.1,143.5 83.8,143.7 82.5,143.8 81.2,143.5 79.9,143.5 78.6,143.9 77.3,143.7 76.0,143.7 74.7,143.8 73.4,143.6 72.1,143.9 70.8,143.6 69.5,144.0 68.2,143.7 66.9,143.8 65.6,143.7 64.3,143.9 63.0,143.9 61.7,143.9 60.4,144.0 59.1,144.0 57.8,143.8 56.5,143.9 55.2,143.8 53.9,143.8 52.6,144.0 51.3,144.0 50.0,144.0" fill="#16c024" />
<polygon points="50.0,139.7 167.5,139.7 167.5,140.9 50.0,140.9" fill="#2a6cd4" />
<polygon points="50.0,140.9 167.5,140.9 167.5,141.4 50.0,141.4" fill="#30b8b0" />
<polygon points="106.3,143.2 114.3,143.2 111.6,167.3 109.6,167.3" fill="#7a3c10" opacity="0.55"/>
<polygon points="109.8,142.2 111.8,142.2 111.3,150.2 111.1,167.3 110.5,167.3 110.3,150.2" fill="#b0a018" opacity="0.9"/>
<polygon points="110.4,134.2 111.2,134.2 111.3,142.2 110.3,142.2" fill="#20b060" opacity="0.8"/>
</g>
</g>
<g clip-path="url(#cl01)">
<g filter="url(#soft)">
<polygon points="172.3,140.5 174.2,116.3 176.1,140.5" fill="url(#gH)" opacity="0.85"/>
<polygon points="174.8,140.5 176.6,121.7 177.0,121.7 178.8,140.5" fill="url(#gM)" />
<polygon points="179.4,140.5 181.2,130.0 183.0,140.5" fill="url(#gP)" />
<polygon points="182.8,140.5 185.2,117.0 187.6,140.5" fill="url(#gH)" opacity="0.85"/>
<polygon points="193.9,140.5 195.7,130.0 197.5,140.5" fill="url(#gP)" />
<polygon points="198.3,140.5 200.5,117.0 202.7,140.5" fill="url(#gH)" opacity="0.85"/>
<polygon points="203.6,140.5 205.4,133.0 207.2,140.5" fill="url(#gP)" />
<polygon points="215.7,140.5 217.8,115.5 220.0,140.5" fill="url(#gH)" opacity="0.85"/>
<polygon points="222.4,140.5 224.8,111.9 227.2,140.5" fill="url(#gH)" opacity="0.85"/>
<polygon points="233.2,140.5 235.3,113.8 237.5,140.5" fill="url(#gH)" opacity="0.85"/>
<polygon points="249.3,140.5 251.5,115.3 253.7,140.5" fill="url(#gH)" opacity="0.85"/>
<polygon points="253.8,140.5 256.0,116.0 258.1,140.5" fill="url(#gH)" opacity="0.85"/>
<polygon points="257.8,140.5 259.6,127.5 260.0,127.5 261.8,140.5" fill="url(#gM)" />
<polygon points="262.9,140.5 265.0,116.8 267.1,140.5" fill="url(#gH)" opacity="0.85"/>
<polygon points="269.6,140.5 271.6,122.3 272.0,122.3 274.1,140.5" fill="url(#gM)" />
<polygon points="272.7,140.5 274.8,116.8 276.9,140.5" fill="url(#gH)" opacity="0.85"/>
<polygon points="276.9,140.5 279.0,116.8 281.1,140.5" fill="url(#gH)" opacity="0.85"/>
<polygon points="280.2,140.5 282.3,116.5 284.4,140.5" fill="url(#gH)" opacity="0.85"/>
<polygon points="283.9,140.5 286.0,116.8 288.1,140.5" fill="url(#gH)" opacity="0.85"/>
<polygon points="173.2,140.5 173.9,118.8 174.4,118.8 175.2,140.5" fill="url(#gB)" />
<polygon points="176.3,140.5 176.8,130.2 177.3,140.5" fill="#7a24d8" opacity="0.65"/>
<polygon points="183.8,140.5 184.9,119.5 185.4,119.5 186.6,140.5" fill="url(#gB)" />
<polygon points="199.3,140.5 200.2,119.5 200.8,119.5 201.7,140.5" fill="url(#gB)" />
<polygon points="216.6,140.5 217.6,118.0 218.1,118.0 219.0,140.5" fill="url(#gB)" />
<polygon points="223.4,140.5 224.6,114.4 225.1,114.4 226.2,140.5" fill="url(#gT)" />
<polygon points="234.1,140.5 235.1,116.3 235.6,116.3 236.5,140.5" fill="url(#gT)" />
<polygon points="250.3,140.5 251.2,117.8 251.8,117.8 252.7,140.5" fill="url(#gB)" />
<polygon points="254.8,140.5 255.8,118.5 256.2,118.5 257.2,140.5" fill="url(#gB)" />
<polygon points="259.3,140.5 259.8,133.3 260.3,140.5" fill="#7a24d8" opacity="0.65"/>
<polygon points="263.8,140.5 264.8,119.3 265.2,119.3 266.2,140.5" fill="url(#gB)" />
<polygon points="271.2,140.5 271.8,130.5 272.4,140.5" fill="#7a24d8" opacity="0.65"/>
<polygon points="273.6,140.5 274.6,119.3 275.1,119.3 276.0,140.5" fill="url(#gB)" />
<polygon points="277.8,140.5 278.8,119.3 279.2,119.3 280.2,140.5" fill="url(#gB)" />
<polygon points="281.1,140.5 282.1,119.0 282.6,119.0 283.5,140.5" fill="url(#gB)" />
<polygon points="284.8,140.5 285.8,119.3 286.2,119.3 287.2,140.5" fill="url(#gB)" />
<polygon points="172.0,140.5 289.5,140.5 289.5,168.3 172.0,168.3" fill="url(#gOr)" />
<path d="M191.4 144.5V167.3 M253.0 144.5V167.3 M246.6 144.5V167.3 M228.3 144.5V167.3 M197.4 144.5V167.3 M265.1 144.5V167.3 M266.9 144.5V167.3 M232.2 144.5V167.3 M231.3 144.5V167.3 M199.7 144.5V167.3 M172.4 144.5V167.3 M215.6 144.5V167.3 M240.8 144.5V167.3 M180.1 144.5V167.3 M265.3 144.5V167.3 M199.3 144.5V167.3 M199.3 144.5V167.3 M177.0 144.5V167.3 M289.2 144.5V167.3 M258.8 144.5V167.3 M274.8 144.5V167.3 M244.4 144.5V167.3 M176.0 144.5V167.3 M210.6 144.5V167.3 M230.5 144.5V167.3 M185.6 144.5V167.3 M283.9 144.5V167.3 M215.3 144.5V167.3 M190.2 144.5V167.3 M268.1 144.5V167.3 M186.7 144.5V167.3 M281.0 144.5V167.3 M225.2 144.5V167.3 M236.9 144.5V167.3 M212.3 144.5V167.3 M229.0 144.5V167.3 M194.0 144.5V167.3 M176.4 144.5V167.3 M273.7 144.5V167.3 M199.6 144.5V167.3 M263.7 144.5V167.3 M196.5 144.5V167.3 M285.8 144.5V167.3 M277.0 144.5V167.3 M260.7 144.5V167.3" stroke="#7a3a0c" stroke-opacity="0.25" stroke-width="0.8"/>
<polygon points="172.0,159.2 173.1,157.4 174.2,157.4 175.3,158.7 176.4,156.9 177.5,159.2 178.6,159.2 179.7,156.8 180.8,158.9 181.9,158.3 183.0,158.7 184.1,159.7 185.2,159.8 186.3,157.9 187.4,159.3 188.5,159.1 189.6,159.7 190.7,156.6 191.8,159.5 192.9,157.2 194.0,156.9 195.1,158.4 196.2,159.1 197.3,159.5 198.4,157.6 199.5,159.1 200.6,156.5 201.7,159.4 202.8,157.2 203.9,158.0 205.0,156.6 206.1,156.3 207.2,156.1 208.3,158.0 209.4,157.8 210.5,158.6 211.6,158.7 212.7,157.2 213.8,158.6 214.9,156.4 216.0,158.6 217.1,156.5 218.2,158.7 219.3,156.9 220.4,157.0 221.5,157.2 222.6,155.7 223.7,155.7 224.8,157.2 225.9,158.2 227.0,156.7 228.1,158.6 229.2,159.1 230.3,160.6 231.4,160.2 232.5,156.2 233.6,156.5 234.7,154.0 235.8,155.9 236.9,156.4 238.0,155.6 239.1,155.2 240.2,153.4 241.3,153.6 242.4,154.0 243.5,153.5 244.6,153.6 245.7,156.3 246.8,154.3 247.9,156.0 249.0,155.6 250.1,155.6 251.2,156.0 252.3,155.3 253.4,154.1 254.5,154.5 255.6,154.2 256.7,153.1 257.8,153.1 258.9,154.7 260.0,154.6 261.1,156.0 262.2,154.9 263.3,155.6 264.4,154.5 265.5,154.8 266.6,155.6 267.7,153.1 268.8,153.1 269.9,154.4 271.0,153.9 272.1,154.4 273.2,153.2 274.3,153.6 275.4,153.4 276.5,155.0 277.6,153.2 278.7,153.2 279.8,155.3 280.9,154.5 282.0,153.2 283.1,156.1 284.2,154.7 285.3,156.2 286.4,155.2 287.5,154.9 288.6,154.5 289.5,154.8 289.5,168.3 172.0,168.3" fill="#94481a" opacity="0.55"/>
<polygon points="172.0,162.2 173.1,160.4 174.2,160.4 175.3,161.7 176.4,159.9 177.5,162.2 178.6,162.2 179.7,159.8 180.8,161.9 181.9,161.3 183.0,161.7 184.1,162.7 185.2,162.8 186.3,160.9 187.4,162.3 188.5,162.1 189.6,162.7 190.7,159.6 191.8,162.5 192.9,160.2 194.0,159.9 195.1,161.4 196.2,162.1 197.3,162.5 198.4,160.6 199.5,162.1 200.6,159.5 201.7,162.4 202.8,160.2 203.9,161.0 205.0,159.6 206.1,159.3 207.2,159.1 208.3,161.0 209.4,160.8 210.5,161.6 211.6,161.7 212.7,160.2 213.8,161.6 214.9,159.4 216.0,161.6 217.1,159.5 218.2,161.7 219.3,159.9 220.4,160.0 221.5,160.2 222.6,158.7 223.7,158.7 224.8,160.2 225.9,161.2 227.0,159.7 228.1,161.6 229.2,162.1 230.3,163.6 231.4,163.2 232.5,159.2 233.6,159.5 234.7,157.0 235.8,158.9 236.9,159.4 238.0,158.6 239.1,158.2 240.2,156.4 241.3,156.6 242.4,157.0 243.5,156.5 244.6,156.6 245.7,159.3 246.8,157.3 247.9,159.0 249.0,158.6 250.1,158.6 251.2,159.0 252.3,158.3 253.4,157.1 254.5,157.5 255.6,157.2 256.7,156.1 257.8,156.1 258.9,157.7 260.0,157.6 261.1,159.0 262.2,157.9 263.3,158.6 264.4,157.5 265.5,157.8 266.6,158.6 267.7,156.1 268.8,156.1 269.9,157.4 271.0,156.9 272.1,157.4 273.2,156.2 274.3,156.6 275.4,156.4 276.5,158.0 277.6,156.2 278.7,156.2 279.8,158.3 280.9,157.5 282.0,156.2 283.1,159.1 284.2,157.7 285.3,159.2 286.4,158.2 287.5,157.9 288.6,157.5 289.5,157.8 289.5,168.3 172.0,168.3" fill="#a01a1a" />
<path d="M235.3 155.5V167.3 M206.0 155.5V167.3 M175.5 155.5V167.3 M248.8 155.5V167.3 M196.7 155.5V167.3 M202.2 155.5V167.3 M218.7 155.5V167.3 M247.4 155.5V167.3 M288.2 155.5V167.3 M226.2 155.5V167.3 M288.7 155.5V167.3 M288.6 155.5V167.3 M200.5 155.5V167.3 M180.5 155.5V167.3 M190.8 155.5V167.3 M270.9 155.5V167.3 M242.4 155.5V167.3 M279.8 155.5V167.3 M286.2 155.5V167.3 M248.9 155.5V167.3 M234.9 155.5V167.3 M179.9 155.5V167.3 M174.8 155.5V167.3 M266.6 155.5V167.3 M251.0 155.5V167.3 M261.7 155.5V167.3 M238.5 155.5V167.3 M251.2 155.5V167.3 M247.0 155.5V167.3 M277.2 155.5V167.3" stroke="#600808" stroke-opacity="0.18" stroke-width="0.8"/>
<polygon points="172.0,143.5 173.3,143.2 174.6,143.1 175.9,143.5 177.2,143.2 178.5,143.2 179.8,143.4 181.1,143.3 182.4,143.5 183.7,143.2 185.0,143.5 186.3,143.3 187.6,143.4 188.9,143.5 190.2,143.4 191.5,143.5 192.8,143.4 194.1,143.2 195.4,143.5 196.7,143.4 198.0,143.3 199.3,143.2 200.6,143.5 201.9,143.4 203.2,143.5 204.5,143.5 205.8,143.5 207.1,143.4 208.4,143.4 209.7,143.4 211.0,143.3 212.3,143.6 213.6,143.3 214.9,143.5 216.2,143.6 217.5,143.4 218.8,143.2 220.1,143.5 221.4,143.5 222.7,143.3 224.0,143.2 225.3,143.4 226.6,143.2 227.9,143.6 229.2,143.4 230.5,143.4 231.8,143.4 233.1,143.5 234.4,143.6 235.7,143.3 237.0,143.4 238.3,143.4 239.6,143.3 240.9,143.5 242.2,143.4 243.5,143.4 244.8,143.5 246.1,143.4 247.4,143.3 248.7,143.6 250.0,143.4 251.3,143.4 252.6,143.4 253.9,143.6 255.2,143.6 256.5,143.4 257.8,143.4 259.1,143.3 260.4,143.6 261.7,143.3 263.0,143.5 264.3,143.4 265.6,143.4 266.9,143.4 268.2,143.3 269.5,143.3 270.8,143.5 272.1,143.6 273.4,143.5 274.7,143.4 276.0,143.6 277.3,143.3 278.6,143.4 279.9,143.6 281.2,143.7 282.5,143.5 283.8,143.6 285.1,143.5 286.4,143.5 287.7,143.5 289.0,143.7 289.5,143.5 289.5,149.1 289.0,149.2 287.7,148.7 286.4,149.2 285.1,148.6 283.8,148.8 282.5,149.8 281.2,149.8 279.9,148.8 278.6,149.2 277.3,148.7 276.0,148.8 274.7,149.1 273.4,150.0 272.1,149.1 270.8,149.7 269.5,150.0 268.2,149.4 266.9,150.0 265.6,149.8 264.3,150.1 263.0,149.7 261.7,149.9 260.4,148.8 259.1,149.4 257.8,148.9 256.5,150.2 255.2,149.1 253.9,150.2 252.6,149.7 251.3,150.2 250.0,149.7 248.7,149.2 247.4,150.1 246.1,149.9 244.8,150.0 243.5,149.1 242.2,149.3 240.9,149.8 239.6,150.1 238.3,149.5 237.0,149.5 235.7,149.6 234.4,149.5 233.1,150.2 231.8,152.3 230.5,153.0 229.2,151.4 227.9,150.7 226.6,150.1 225.3,149.5 224.0,150.2 222.7,149.5 221.4,149.3 220.1,149.3 218.8,150.0 217.5,149.7 216.2,149.9 214.9,150.0 213.6,149.7 212.3,149.1 211.0,149.4 209.7,149.9 208.4,149.8 207.1,149.5 205.8,150.0 204.5,149.5 203.2,150.3 201.9,149.8 200.6,149.8 199.3,149.7 198.0,150.0 196.7,149.0 195.4,149.4 194.1,149.9 192.8,149.6 191.5,149.4 190.2,149.8 188.9,148.9 187.6,148.9 186.3,149.4 185.0,149.1 183.7,149.4 182.4,149.0 181.1,149.0 179.8,149.5 178.5,149.3 177.2,149.6 175.9,148.8 174.6,150.0 173.3,150.0 172.0,150.0" fill="#8a6414" />
<polygon points="172.0,143.5 173.3,143.2 174.6,143.1 175.9,143.5 177.2,143.2 178.5,143.2 179.8,143.4 181.1,143.3 182.4,143.5 183.7,143.2 185.0,143.5 186.3,143.3 187.6,143.4 188.9,143.5 190.2,143.4 191.5,143.5 192.8,143.4 194.1,143.2 195.4,143.5 196.7,143.4 198.0,143.3 199.3,143.2 200.6,143.5 201.9,143.4 203.2,143.5 204.5,143.5 205.8,143.5 207.1,143.4 208.4,143.4 209.7,143.4 211.0,143.3 212.3,143.6 213.6,143.3 214.9,143.5 216.2,143.6 217.5,143.4 218.8,143.2 220.1,143.5 221.4,143.5 222.7,143.3 224.0,143.2 225.3,143.4 226.6,143.2 227.9,143.6 229.2,143.4 230.5,143.4 231.8,143.4 233.1,143.5 234.4,143.6 235.7,143.3 237.0,143.4 238.3,143.4 239.6,143.3 240.9,143.5 242.2,143.4 243.5,143.4 244.8,143.5 246.1,143.4 247.4,143.3 248.7,143.6 250.0,143.4 251.3,143.4 252.6,143.4 253.9,143.6 255.2,143.6 256.5,143.4 257.8,143.4 259.1,143.3 260.4,143.6 261.7,143.3 263.0,143.5 264.3,143.4 265.6,143.4 266.9,143.4 268.2,143.3 269.5,143.3 270.8,143.5 272.1,143.6 273.4,143.5 274.7,143.4 276.0,143.6 277.3,143.3 278.6,143.4 279.9,143.6 281.2,143.7 282.5,143.5 283.8,143.6 285.1,143.5 286.4,143.5 287.7,143.5 289.0,143.7 289.5,143.5 289.5,147.3 289.0,147.4 287.7,146.9 286.4,147.4 285.1,146.8 283.8,147.0 282.5,148.0 281.2,148.0 279.9,147.0 278.6,147.4 277.3,146.9 276.0,147.0 274.7,147.3 273.4,148.2 272.1,147.3 270.8,147.9 269.5,148.2 268.2,147.6 266.9,148.2 265.6,148.0 264.3,148.3 263.0,147.9 261.7,148.1 260.4,147.0 259.1,147.6 257.8,147.1 256.5,148.4 255.2,147.3 253.9,148.4 252.6,147.9 251.3,148.4 250.0,147.9 248.7,147.4 247.4,148.3 246.1,148.1 244.8,148.2 243.5,147.3 242.2,147.5 240.9,148.0 239.6,148.3 238.3,147.7 237.0,147.7 235.7,147.8 234.4,147.7 233.1,148.4 231.8,150.5 230.5,151.2 229.2,149.6 227.9,148.9 226.6,148.3 225.3,147.7 224.0,148.4 222.7,147.7 221.4,147.5 220.1,147.5 218.8,148.2 217.5,147.9 216.2,148.1 214.9,148.2 213.6,147.9 212.3,147.3 211.0,147.6 209.7,148.1 208.4,148.0 207.1,147.7 205.8,148.2 204.5,147.7 203.2,148.5 201.9,148.0 200.6,148.0 199.3,147.9 198.0,148.2 196.7,147.2 195.4,147.6 194.1,148.1 192.8,147.8 191.5,147.6 190.2,148.0 188.9,147.1 187.6,147.1 186.3,147.6 185.0,147.3 183.7,147.6 182.4,147.2 181.1,147.2 179.8,147.7 178.5,147.5 177.2,147.8 175.9,147.0 174.6,148.2 173.3,148.2 172.0,148.2" fill="#e4dc00" />
<polygon points="172.0,143.9 173.3,143.6 174.6,143.5 175.9,143.9 177.2,143.6 178.5,143.6 179.8,143.8 181.1,143.7 182.4,143.9 183.7,143.6 185.0,143.9 186.3,143.7 187.6,143.8 188.9,143.9 190.2,143.8 191.5,143.9 192.8,143.8 194.1,143.6 195.4,143.9 196.7,143.8 198.0,143.7 199.3,143.6 200.6,143.9 201.9,143.8 203.2,143.9 204.5,143.9 205.8,143.9 207.1,143.8 208.4,143.8 209.7,143.8 211.0,143.7 212.3,144.0 213.6,143.7 214.9,143.9 216.2,144.0 217.5,143.8 218.8,143.6 220.1,143.9 221.4,143.9 222.7,143.7 224.0,143.6 225.3,143.8 226.6,143.6 227.9,144.0 229.2,143.8 230.5,143.8 231.8,143.8 233.1,143.9 234.4,144.0 235.7,143.7 237.0,143.8 238.3,143.8 239.6,143.7 240.9,143.9 242.2,143.8 243.5,143.8 244.8,143.9 246.1,143.8 247.4,143.7 248.7,144.0 250.0,143.8 251.3,143.8 252.6,143.8 253.9,144.0 255.2,144.0 256.5,143.8 257.8,143.8 259.1,143.7 260.4,144.0 261.7,143.7 263.0,143.9 264.3,143.8 265.6,143.8 266.9,143.8 268.2,143.7 269.5,143.7 270.8,143.9 272.1,144.0 273.4,143.9 274.7,143.8 276.0,144.0 277.3,143.7 278.6,143.8 279.9,144.0 281.2,144.1 282.5,143.9 283.8,144.0 285.1,143.9 286.4,143.9 287.7,143.9 289.0,144.1 289.5,143.9 289.5,144.8 289.0,145.0 287.7,144.8 286.4,144.8 285.1,144.8 283.8,144.9 282.5,144.8 281.2,145.0 279.9,144.9 278.6,144.7 277.3,144.6 276.0,144.9 274.7,144.7 273.4,144.8 272.1,144.9 270.8,144.8 269.5,144.6 268.2,144.6 266.9,144.7 265.6,144.7 264.3,144.7 263.0,144.8 261.7,144.6 260.4,144.9 259.1,144.6 257.8,144.7 256.5,144.7 255.2,144.9 253.9,144.9 252.6,144.7 251.3,144.7 250.0,144.7 248.7,144.9 247.4,144.6 246.1,144.7 244.8,144.8 243.5,144.7 242.2,144.7 240.9,144.8 239.6,144.6 238.3,144.7 237.0,144.7 235.7,144.6 234.4,144.9 233.1,144.8 231.8,144.7 230.5,144.7 229.2,144.7 227.9,144.9 226.6,144.5 225.3,144.7 224.0,144.5 222.7,144.6 221.4,144.8 220.1,144.8 218.8,144.5 217.5,144.7 216.2,144.9 214.9,144.8 213.6,144.6 212.3,144.9 211.0,144.6 209.7,144.7 208.4,144.7 207.1,144.7 205.8,144.8 204.5,144.8 203.2,144.8 201.9,144.7 200.6,144.8 199.3,144.5 198.0,144.6 196.7,144.7 195.4,144.8 194.1,144.5 192.8,144.7 191.5,144.8 190.2,144.7 188.9,144.8 187.6,144.7 186.3,144.6 185.0,144.8 183.7,144.5 182.4,144.8 181.1,144.6 179.8,144.7 178.5,144.5 177.2,144.5 175.9,144.8 174.6,144.4 173.3,144.5 172.0,144.8" fill="#a8a010" opacity="0.8"/>
<polygon points="172.0,146.0 173.3,146.0 174.6,146.0 175.9,144.8 177.2,145.6 178.5,145.3 179.8,145.5 181.1,145.0 182.4,145.0 183.7,145.4 185.0,145.1 186.3,145.4 187.6,144.9 188.9,144.9 190.2,145.8 191.5,145.4 192.8,145.6 194.1,145.9 195.4,145.4 196.7,145.0 198.0,146.0 199.3,145.7 200.6,145.8 201.9,145.8 203.2,146.3 204.5,145.5 205.8,146.0 207.1,145.5 208.4,145.8 209.7,145.9 211.0,145.4 212.3,145.1 213.6,145.7 214.9,146.0 216.2,145.9 217.5,145.7 218.8,146.0 220.1,145.3 221.4,145.3 222.7,145.5 224.0,146.2 225.3,145.5 226.6,146.1 227.9,146.7 229.2,147.4 230.5,149.0 231.8,148.3 233.1,146.2 234.4,145.5 235.7,145.6 237.0,145.5 238.3,145.5 239.6,146.1 240.9,145.8 242.2,145.3 243.5,145.1 244.8,146.0 246.1,145.9 247.4,146.1 248.7,145.2 250.0,145.7 251.3,146.2 252.6,145.7 253.9,146.2 255.2,145.1 256.5,146.2 257.8,144.9 259.1,145.4 260.4,144.8 261.7,145.9 263.0,145.7 264.3,146.1 265.6,145.8 266.9,146.0 268.2,145.4 269.5,146.0 270.8,145.7 272.1,145.1 273.4,146.0 274.7,145.1 276.0,144.8 277.3,144.7 278.6,145.2 279.9,144.8 281.2,145.8 282.5,145.8 283.8,144.8 285.1,144.6 286.4,145.2 287.7,144.7 289.0,145.2 289.5,145.1 289.5,145.9 289.0,146.0 287.7,145.5 286.4,146.0 285.1,145.4 283.8,145.6 282.5,146.6 281.2,146.6 279.9,145.6 278.6,146.0 277.3,145.5 276.0,145.6 274.7,145.9 273.4,146.8 272.1,145.9 270.8,146.5 269.5,146.8 268.2,146.2 266.9,146.8 265.6,146.6 264.3,146.9 263.0,146.5 261.7,146.7 260.4,145.6 259.1,146.2 257.8,145.7 256.5,147.0 255.2,145.9 253.9,147.0 252.6,146.5 251.3,147.0 250.0,146.5 248.7,146.0 247.4,146.9 246.1,146.7 244.8,146.8 243.5,145.9 242.2,146.1 240.9,146.6 239.6,146.9 238.3,146.3 237.0,146.3 235.7,146.4 234.4,146.3 233.1,147.0 231.8,149.1 230.5,149.8 229.2,148.2 227.9,147.5 226.6,146.9 225.3,146.3 224.0,147.0 222.7,146.3 221.4,146.1 220.1,146.1 218.8,146.8 217.5,146.5 216.2,146.7 214.9,146.8 213.6,146.5 212.3,145.9 211.0,146.2 209.7,146.7 208.4,146.6 207.1,146.3 205.8,146.8 204.5,146.3 203.2,147.1 201.9,146.6 200.6,146.6 199.3,146.5 198.0,146.8 196.7,145.8 195.4,146.2 194.1,146.7 192.8,146.4 191.5,146.2 190.2,146.6 188.9,145.7 187.6,145.7 186.3,146.2 185.0,145.9 183.7,146.2 182.4,145.8 181.1,145.8 179.8,146.3 178.5,146.1 177.2,146.4 175.9,145.6 174.6,146.8 173.3,146.8 172.0,146.8" fill="#b0a010" opacity="0.45"/>
<polygon points="172.0,141.5 289.5,141.5 289.5,143.5 289.0,143.7 287.7,143.5 286.4,143.5 285.1,143.5 283.8,143.6 282.5,143.5 281.2,143.7 279.9,143.6 278.6,143.4 277.3,143.3 276.0,143.6 274.7,143.4 273.4,143.5 272.1,143.6 270.8,143.5 269.5,143.3 268.2,143.3 266.9,143.4 265.6,143.4 264.3,143.4 263.0,143.5 261.7,143.3 260.4,143.6 259.1,143.3 257.8,143.4 256.5,143.4 255.2,143.6 253.9,143.6 252.6,143.4 251.3,143.4 250.0,143.4 248.7,143.6 247.4,143.3 246.1,143.4 244.8,143.5 243.5,143.4 242.2,143.4 240.9,143.5 239.6,143.3 238.3,143.4 237.0,143.4 235.7,143.3 234.4,143.6 233.1,143.5 231.8,143.4 230.5,143.4 229.2,143.4 227.9,143.6 226.6,143.2 225.3,143.4 224.0,143.2 222.7,143.3 221.4,143.5 220.1,143.5 218.8,143.2 217.5,143.4 216.2,143.6 214.9,143.5 213.6,143.3 212.3,143.6 211.0,143.3 209.7,143.4 208.4,143.4 207.1,143.4 205.8,143.5 204.5,143.5 203.2,143.5 201.9,143.4 200.6,143.5 199.3,143.2 198.0,143.3 196.7,143.4 195.4,143.5 194.1,143.2 192.8,143.4 191.5,143.5 190.2,143.4 188.9,143.5 187.6,143.4 186.3,143.3 185.0,143.5 183.7,143.2 182.4,143.5 181.1,143.3 179.8,143.4 178.5,143.2 177.2,143.2 175.9,143.5 174.6,143.1 173.3,143.2 172.0,143.5" fill="#16c024" />
<polygon points="172.0,140.0 289.5,140.0 289.5,141.2 172.0,141.2" fill="#2a6cd4" />
<polygon points="172.0,141.2 289.5,141.2 289.5,141.7 172.0,141.7" fill="#30b8b0" />
<polygon points="226.3,150.8 234.3,150.8 231.6,167.3 229.6,167.3" fill="#7a3c10" opacity="0.55"/>
<polygon points="229.8,142.5 231.8,142.5 231.3,157.8 231.1,167.3 230.5,167.3 230.3,157.8" fill="#b0a018" opacity="0.9"/>
<polygon points="230.4,134.5 231.2,134.5 231.3,142.5 230.3,142.5" fill="#20b060" opacity="0.8"/>
</g>
</g>
<g clip-path="url(#cl02)">
<g filter="url(#soft)">
<polygon points="297.8,140.3 299.8,122.4 300.2,122.4 302.2,140.3" fill="url(#gM)" />
<polygon points="306.7,140.3 309.0,124.0 311.3,140.3" fill="url(#gP)" />
<polygon points="309.1,140.3 311.5,114.8 313.9,140.3" fill="url(#gH)" opacity="0.85"/>
<polygon points="313.7,140.3 315.5,128.0 317.3,140.3" fill="url(#gP)" />
<polygon points="318.2,140.3 320.0,130.0 321.8,140.3" fill="url(#gP)" />
<polygon points="320.7,140.3 322.8,116.3 324.9,140.3" fill="url(#gH)" opacity="0.85"/>
<polygon points="325.0,140.3 326.8,125.0 327.2,125.0 329.0,140.3" fill="url(#gM)" />
<polygon points="330.8,140.3 332.8,121.7 333.2,121.7 335.2,140.3" fill="url(#gM)" />
<polygon points="335.2,140.3 337.3,117.0 339.4,140.3" fill="url(#gH)" opacity="0.85"/>
<polygon points="340.2,140.3 342.4,117.0 344.5,140.3" fill="url(#gH)" opacity="0.85"/>
<polygon points="356.0,140.3 358.5,112.5 361.0,140.3" fill="url(#gH)" opacity="0.85"/>
<polygon points="358.6,140.3 361.0,113.5 363.4,140.3" fill="url(#gH)" opacity="0.85"/>
<polygon points="362.7,140.3 365.3,113.2 367.9,140.3" fill="url(#gH)" opacity="0.85"/>
<polygon points="366.8,140.3 368.8,117.0 369.2,117.0 371.2,140.3" fill="url(#gM)" />
<polygon points="371.2,140.3 373.6,115.0 376.0,140.3" fill="url(#gH)" opacity="0.85"/>
<polygon points="373.8,140.3 376.0,115.5 378.2,140.3" fill="url(#gH)" opacity="0.85"/>
<polygon points="375.8,140.3 377.8,116.0 378.2,116.0 380.2,140.3" fill="url(#gM)" />
<polygon points="299.4,140.3 300.0,130.5 300.6,140.3" fill="#7a24d8" opacity="0.65"/>
<polygon points="310.1,140.3 311.2,117.3 311.8,117.3 312.9,140.3" fill="url(#gB)" />
<polygon points="321.6,140.3 322.6,118.8 323.1,118.8 324.0,140.3" fill="url(#gB)" />
<polygon points="326.5,140.3 327.0,131.9 327.5,140.3" fill="#7a24d8" opacity="0.65"/>
<polygon points="332.4,140.3 333.0,130.1 333.6,140.3" fill="#7a24d8" opacity="0.65"/>
<polygon points="336.1,140.3 337.1,119.5 337.6,119.5 338.5,140.3" fill="url(#gB)" />
<polygon points="341.2,140.3 342.1,119.5 342.6,119.5 343.6,140.3" fill="url(#gB)" />
<polygon points="357.0,140.3 358.2,115.0 358.8,115.0 360.0,140.3" fill="url(#gB)" />
<polygon points="359.6,140.3 360.8,116.0 361.2,116.0 362.4,140.3" fill="url(#gB)" />
<polygon points="363.7,140.3 365.1,115.7 365.6,115.7 366.9,140.3" fill="url(#gB)" />
<polygon points="368.4,140.3 369.0,127.5 369.6,140.3" fill="#7a24d8" opacity="0.65"/>
<polygon points="372.2,140.3 373.4,117.5 373.9,117.5 375.0,140.3" fill="url(#gB)" />
<polygon points="374.8,140.3 375.8,118.0 376.2,118.0 377.2,140.3" fill="url(#gB)" />
<polygon points="377.4,140.3 378.0,126.9 378.6,140.3" fill="#7a24d8" opacity="0.65"/>
<polygon points="377.6,140.3 380.0,115.5 382.4,140.3" fill="url(#gH)" opacity="0.85"/>
<polygon points="379.1,140.3 381.6,115.6 384.1,140.3" fill="url(#gH)" opacity="0.85"/>
<polygon points="381.1,140.3 383.6,114.2 386.1,140.3" fill="url(#gH)" opacity="0.85"/>
<polygon points="382.5,140.3 385.2,116.9 387.9,140.3" fill="url(#gH)" opacity="0.85"/>
<polygon points="384.1,140.3 386.9,117.7 389.7,140.3" fill="url(#gH)" opacity="0.85"/>
<polygon points="386.5,140.3 388.8,117.3 391.1,140.3" fill="url(#gH)" opacity="0.85"/>
<polygon points="388.2,140.3 390.6,113.8 392.9,140.3" fill="url(#gH)" opacity="0.85"/>
<polygon points="390.3,140.3 392.9,113.6 395.5,140.3" fill="url(#gH)" opacity="0.85"/>
<polygon points="392.4,140.3 394.8,115.2 397.1,140.3" fill="url(#gH)" opacity="0.85"/>
<polygon points="394.0,140.3 396.5,116.6 399.0,140.3" fill="url(#gH)" opacity="0.85"/>
<polygon points="396.1,140.3 398.6,118.6 401.0,140.3" fill="url(#gH)" opacity="0.85"/>
<polygon points="398.2,140.3 400.8,115.9 403.3,140.3" fill="url(#gH)" opacity="0.85"/>
<polygon points="400.7,140.3 403.1,114.6 405.6,140.3" fill="url(#gH)" opacity="0.85"/>
<polygon points="402.1,140.3 404.8,113.2 407.4,140.3" fill="url(#gH)" opacity="0.85"/>
<polygon points="404.1,140.3 406.7,111.5 409.4,140.3" fill="url(#gH)" opacity="0.85"/>
<polygon points="406.4,140.3 408.8,113.7 411.3,140.3" fill="url(#gH)" opacity="0.85"/>
<polygon points="408.4,140.3 410.9,112.4 413.4,140.3" fill="url(#gH)" opacity="0.85"/>
<polygon points="380.5,140.3 380.0,123.2 381.5,122.3 383.0,122.2 384.5,122.6 386.0,125.9 387.5,124.8 389.0,123.2 390.5,120.9 392.0,121.7 393.5,121.1 395.0,121.4 396.5,124.5 398.0,126.5 399.5,123.8 401.0,124.5 402.5,121.9 404.0,120.3 405.5,119.5 407.0,120.4 408.5,119.5 410.0,119.9 411.5,119.6 412.0,119.0 411.5,140.3" fill="#1c1cb8" />
<polygon points="378.6,140.3 379.8,118.0 380.2,118.0 381.4,140.3" fill="url(#gBlk)" />
<polygon points="380.1,140.3 381.3,118.1 381.8,118.1 383.1,140.3" fill="url(#gBlk)" />
<polygon points="382.0,140.3 383.3,116.7 383.8,116.7 385.1,140.3" fill="url(#gBlk)" />
<polygon points="383.4,140.3 384.9,119.4 385.4,119.4 386.9,140.3" fill="url(#gBlk)" />
<polygon points="385.1,140.3 386.6,120.2 387.1,120.2 388.7,140.3" fill="url(#gBlk)" />
<polygon points="387.4,140.3 388.5,119.8 389.0,119.8 390.2,140.3" fill="url(#gBlk)" />
<polygon points="389.2,140.3 390.3,116.3 390.8,116.3 392.0,140.3" fill="url(#gBlk)" />
<polygon points="391.3,140.3 392.6,116.1 393.1,116.1 394.5,140.3" fill="url(#gBlk)" />
<polygon points="393.4,140.3 394.5,117.7 395.0,117.7 396.1,140.3" fill="url(#gBlk)" />
<polygon points="394.9,140.3 396.2,119.1 396.7,119.1 398.0,140.3" fill="url(#gBlk)" />
<polygon points="397.1,140.3 398.3,121.1 398.8,121.1 400.0,140.3" fill="url(#gBlk)" />
<polygon points="399.1,140.3 400.5,118.4 401.0,118.4 402.4,140.3" fill="url(#gBlk)" />
<polygon points="401.7,140.3 402.9,117.1 403.4,117.1 404.6,140.3" fill="url(#gBlk)" />
<polygon points="403.0,140.3 404.5,115.7 405.0,115.7 406.5,140.3" fill="url(#gBlk)" />
<polygon points="405.1,140.3 406.5,114.0 407.0,114.0 408.4,140.3" fill="url(#gBlk)" />
<polygon points="407.3,140.3 408.6,116.2 409.1,116.2 410.3,140.3" fill="url(#gBlk)" />
<polygon points="409.3,140.3 410.7,114.9 411.2,114.9 412.5,140.3" fill="url(#gBlk)" />
<polygon points="386.0,140.3 386.6,118.0 387.2,140.3" fill="url(#gM)" />
<polygon points="398.0,140.3 398.8,118.0 399.6,140.3" fill="url(#gM)" />
<polygon points="381.0,140.3 383.0,134.0 386.0,136.0 390.0,131.0 394.0,134.0 397.0,130.0 401.0,135.0 405.0,132.0 409.0,134.0 412.0,140.3" fill="#2a8ac8" opacity="0.35"/>
<polygon points="294.0,140.3 411.0,140.3 411.0,168.3 294.0,168.3" fill="url(#gOr)" />
<path d="M295.4 144.3V167.3 M307.2 144.3V167.3 M340.0 144.3V167.3 M374.0 144.3V167.3 M310.2 144.3V167.3 M307.2 144.3V167.3 M321.1 144.3V167.3 M382.6 144.3V167.3 M311.2 144.3V167.3 M380.7 144.3V167.3 M371.5 144.3V167.3 M310.0 144.3V167.3 M356.7 144.3V167.3 M346.4 144.3V167.3 M342.3 144.3V167.3 M410.6 144.3V167.3 M304.9 144.3V167.3 M296.4 144.3V167.3 M404.0 144.3V167.3 M341.1 144.3V167.3 M317.2 144.3V167.3 M332.6 144.3V167.3 M336.7 144.3V167.3 M405.7 144.3V167.3 M318.6 144.3V167.3 M319.4 144.3V167.3 M362.4 144.3V167.3 M358.0 144.3V167.3 M405.6 144.3V167.3 M392.1 144.3V167.3 M335.6 144.3V167.3 M317.9 144.3V167.3 M391.9 144.3V167.3 M409.7 144.3V167.3 M297.6 144.3V167.3 M380.0 144.3V167.3 M395.6 144.3V167.3 M370.2 144.3V167.3 M319.5 144.3V167.3 M387.2 144.3V167.3 M379.4 144.3V167.3 M316.7 144.3V167.3 M369.0 144.3V167.3 M319.6 144.3V167.3 M298.8 144.3V167.3" stroke="#7a3a0c" stroke-opacity="0.25" stroke-width="0.8"/>
<polygon points="294.0,156.0 295.1,157.8 296.2,157.8 297.3,157.6 298.4,157.3 299.5,157.5 300.6,155.0 301.7,156.8 302.8,155.7 303.9,157.0 305.0,156.2 306.1,156.5 307.2,156.5 308.3,156.6 309.4,157.2 310.5,157.7 311.6,155.9 312.7,157.2 313.8,157.4 314.9,156.0 316.0,155.2 317.1,156.2 318.2,157.0 319.3,156.3 320.4,155.3 321.5,156.8 322.6,155.7 323.7,157.3 324.8,155.2 325.9,156.4 327.0,155.8 328.1,157.5 329.2,155.1 330.3,157.2 331.4,155.9 332.5,155.7 333.6,155.3 334.7,156.0 335.8,157.2 336.9,157.4 338.0,157.3 339.1,156.3 340.2,155.3 341.3,156.2 342.4,156.7 343.5,155.8 344.6,157.8 345.7,155.4 346.8,155.9 347.9,156.0 349.0,156.0 350.1,155.9 351.2,157.5 352.3,158.9 353.4,160.5 354.5,157.4 355.6,155.7 356.7,154.2 357.8,153.7 358.9,154.8 360.0,155.2 361.1,153.4 362.2,155.0 363.3,153.8 364.4,155.1 365.5,154.2 366.6,153.6 367.7,153.6 368.8,155.4 369.9,154.7 371.0,153.4 372.1,155.7 373.2,154.0 374.3,154.0 375.4,153.2 376.5,154.0 377.6,154.8 378.7,155.7 379.8,154.0 380.9,154.0 382.0,152.1 383.1,153.0 384.2,151.2 385.3,150.6 386.4,149.9 387.5,151.4 388.6,151.8 389.7,149.4 390.8,150.3 391.9,149.3 393.0,151.1 394.1,151.5 395.2,149.3 396.3,150.8 397.4,149.7 398.5,150.1 399.6,150.4 400.7,149.9 401.8,150.6 402.9,149.7 404.0,150.1 405.1,149.7 406.2,149.9 407.3,149.1 408.4,149.7 409.5,148.9 410.6,150.3 411.0,150.0 411.0,168.3 294.0,168.3" fill="#94481a" opacity="0.55"/>
<polygon points="294.0,159.0 295.1,160.8 296.2,160.8 297.3,160.6 298.4,160.3 299.5,160.5 300.6,158.0 301.7,159.8 302.8,158.7 303.9,160.0 305.0,159.2 306.1,159.5 307.2,159.5 308.3,159.6 309.4,160.2 310.5,160.7 311.6,158.9 312.7,160.2 313.8,160.4 314.9,159.0 316.0,158.2 317.1,159.2 318.2,160.0 319.3,159.3 320.4,158.3 321.5,159.8 322.6,158.7 323.7,160.3 324.8,158.2 325.9,159.4 327.0,158.8 328.1,160.5 329.2,158.1 330.3,160.2 331.4,158.9 332.5,158.7 333.6,158.3 334.7,159.0 335.8,160.2 336.9,160.4 338.0,160.3 339.1,159.3 340.2,158.3 341.3,159.2 342.4,159.7 343.5,158.8 344.6,160.8 345.7,158.4 346.8,158.9 347.9,159.0 349.0,159.0 350.1,158.9 351.2,160.5 352.3,161.9 353.4,163.5 354.5,160.4 355.6,158.7 356.7,157.2 357.8,156.7 358.9,157.8 360.0,158.2 361.1,156.4 362.2,158.0 363.3,156.8 364.4,158.1 365.5,157.2 366.6,156.6 367.7,156.6 368.8,158.4 369.9,157.7 371.0,156.4 372.1,158.7 373.2,157.0 374.3,157.0 375.4,156.2 376.5,157.0 377.6,157.8 378.7,158.7 379.8,157.0 380.9,157.0 382.0,155.1 383.1,156.0 384.2,154.2 385.3,153.6 386.4,152.9 387.5,154.4 388.6,154.8 389.7,152.4 390.8,153.3 391.9,152.3 393.0,154.1 394.1,154.5 395.2,152.3 396.3,153.8 397.4,152.7 398.5,153.1 399.6,153.4 400.7,152.9 401.8,153.6 402.9,152.7 404.0,153.1 405.1,152.7 406.2,152.9 407.3,152.1 408.4,152.7 409.5,151.9 410.6,153.3 411.0,153.0 411.0,168.3 294.0,168.3" fill="url(#gRedR)" />
<path d="M347.7 155.3V167.3 M396.7 155.3V167.3 M297.7 155.3V167.3 M327.0 155.3V167.3 M406.5 155.3V167.3 M371.7 155.3V167.3 M309.0 155.3V167.3 M334.8 155.3V167.3 M396.9 155.3V167.3 M345.6 155.3V167.3 M297.3 155.3V167.3 M398.9 155.3V167.3 M309.2 155.3V167.3 M369.0 155.3V167.3 M366.5 155.3V167.3 M347.9 155.3V167.3 M406.6 155.3V167.3 M314.7 155.3V167.3 M364.8 155.3V167.3 M307.3 155.3V167.3 M407.0 155.3V167.3 M310.9 155.3V167.3 M354.0 155.3V167.3 M391.4 155.3V167.3 M397.3 155.3V167.3 M305.4 155.3V167.3 M396.6 155.3V167.3 M392.6 155.3V167.3 M330.9 155.3V167.3 M382.5 155.3V167.3" stroke="#600808" stroke-opacity="0.18" stroke-width="0.8"/>
<polygon points="294.0,142.8 295.3,142.9 296.6,142.9 297.9,143.1 299.2,143.0 300.5,143.1 301.8,142.8 303.1,143.0 304.4,143.1 305.7,143.0 307.0,143.1 308.3,143.1 309.6,142.9 310.9,142.7 312.2,143.0 313.5,142.8 314.8,142.7 316.1,143.0 317.4,143.1 318.7,143.1 320.0,143.1 321.3,142.8 322.6,142.7 323.9,142.7 325.2,143.1 326.5,142.7 327.8,142.7 329.1,142.7 330.4,142.7 331.7,142.7 333.0,142.8 334.3,142.7 335.6,142.8 336.9,143.0 338.2,142.7 339.5,143.0 340.8,142.9 342.1,142.9 343.4,142.9 344.7,142.9 346.0,142.9 347.3,142.7 348.6,142.7 349.9,142.7 351.2,142.8 352.5,143.0 353.8,142.8 355.1,142.6 356.4,142.8 357.7,142.9 359.0,142.8 360.3,142.9 361.6,142.6 362.9,142.6 364.2,142.8 365.5,142.6 366.8,142.7 368.1,142.7 369.4,142.6 370.7,142.6 372.0,142.5 373.3,142.9 374.6,142.8 375.9,142.9 377.2,142.7 378.5,142.9 379.8,142.9 381.1,142.7 382.4,142.7 383.7,142.7 385.0,142.6 386.3,142.6 387.6,142.8 388.9,142.6 390.2,142.8 391.5,142.7 392.8,142.7 394.1,142.8 395.4,142.7 396.7,142.5 398.0,142.5 399.3,142.4 400.6,142.4 401.9,142.8 403.2,142.7 404.5,142.8 405.8,142.7 407.1,142.5 408.4,142.8 409.7,142.8 411.0,142.6 411.0,142.6 411.0,147.2 411.0,147.1 409.7,146.5 408.4,147.2 407.1,147.9 405.8,147.7 404.5,146.9 403.2,147.2 401.9,147.1 400.6,147.2 399.3,147.6 398.0,147.4 396.7,146.7 395.4,146.6 394.1,147.4 392.8,147.3 391.5,146.8 390.2,147.6 388.9,147.8 387.6,147.0 386.3,147.2 385.0,147.3 383.7,146.6 382.4,147.8 381.1,146.8 379.8,147.7 378.5,147.3 377.2,147.6 375.9,147.1 374.6,147.6 373.3,148.4 372.0,148.2 370.7,148.0 369.4,148.3 368.1,148.3 366.8,148.6 365.5,148.0 364.2,148.1 362.9,148.2 361.6,148.0 360.3,148.4 359.0,148.2 357.7,148.2 356.4,148.3 355.1,149.3 353.8,150.2 352.5,150.8 351.2,150.1 349.9,150.0 348.6,149.8 347.3,149.7 346.0,149.3 344.7,149.3 343.4,148.6 342.1,149.0 340.8,148.9 339.5,149.0 338.2,148.7 336.9,149.6 335.6,149.8 334.3,148.8 333.0,148.9 331.7,149.9 330.4,148.6 329.1,148.6 327.8,149.4 326.5,149.2 325.2,149.7 323.9,149.6 322.6,149.0 321.3,149.4 320.0,149.3 318.7,148.5 317.4,149.1 316.1,148.8 314.8,148.8 313.5,149.2 312.2,149.7 310.9,149.0 309.6,149.1 308.3,149.7 307.0,149.0 305.7,149.2 304.4,149.2 303.1,148.5 301.8,149.5 300.5,149.5 299.2,149.2 297.9,148.6 296.6,149.4 295.3,149.1 294.0,149.0" fill="#8a6414" />
<polygon points="294.0,142.8 295.3,142.9 296.6,142.9 297.9,143.1 299.2,143.0 300.5,143.1 301.8,142.8 303.1,143.0 304.4,143.1 305.7,143.0 307.0,143.1 308.3,143.1 309.6,142.9 310.9,142.7 312.2,143.0 313.5,142.8 314.8,142.7 316.1,143.0 317.4,143.1 318.7,143.1 320.0,143.1 321.3,142.8 322.6,142.7 323.9,142.7 325.2,143.1 326.5,142.7 327.8,142.7 329.1,142.7 330.4,142.7 331.7,142.7 333.0,142.8 334.3,142.7 335.6,142.8 336.9,143.0 338.2,142.7 339.5,143.0 340.8,142.9 342.1,142.9 343.4,142.9 344.7,142.9 346.0,142.9 347.3,142.7 348.6,142.7 349.9,142.7 351.2,142.8 352.5,143.0 353.8,142.8 355.1,142.6 356.4,142.8 357.7,142.9 359.0,142.8 360.3,142.9 361.6,142.6 362.9,142.6 364.2,142.8 365.5,142.6 366.8,142.7 368.1,142.7 369.4,142.6 370.7,142.6 372.0,142.5 373.3,142.9 374.6,142.8 375.9,142.9 377.2,142.7 378.5,142.9 379.8,142.9 381.1,142.7 382.4,142.7 383.7,142.7 385.0,142.6 386.3,142.6 387.6,142.8 388.9,142.6 390.2,142.8 391.5,142.7 392.8,142.7 394.1,142.8 395.4,142.7 396.7,142.5 398.0,142.5 399.3,142.4 400.6,142.4 401.9,142.8 403.2,142.7 404.5,142.8 405.8,142.7 407.1,142.5 408.4,142.8 409.7,142.8 411.0,142.6 411.0,142.6 411.0,145.4 411.0,145.3 409.7,144.7 408.4,145.4 407.1,146.1 405.8,145.9 404.5,145.1 403.2,145.4 401.9,145.3 400.6,145.4 399.3,145.8 398.0,145.6 396.7,144.9 395.4,144.8 394.1,145.6 392.8,145.5 391.5,145.0 390.2,145.8 388.9,146.0 387.6,145.2 386.3,145.4 385.0,145.5 383.7,144.8 382.4,146.0 381.1,145.0 379.8,145.9 378.5,145.5 377.2,145.8 375.9,145.3 374.6,145.8 373.3,146.6 372.0,146.4 370.7,146.2 369.4,146.5 368.1,146.5 366.8,146.8 365.5,146.2 364.2,146.3 362.9,146.4 361.6,146.2 360.3,146.6 359.0,146.4 357.7,146.4 356.4,146.5 355.1,147.5 353.8,148.4 352.5,149.0 351.2,148.3 349.9,148.2 348.6,148.0 347.3,147.9 346.0,147.5 344.7,147.5 343.4,146.8 342.1,147.2 340.8,147.1 339.5,147.2 338.2,146.9 336.9,147.8 335.6,148.0 334.3,147.0 333.0,147.1 331.7,148.1 330.4,146.8 329.1,146.8 327.8,147.6 326.5,147.4 325.2,147.9 323.9,147.8 322.6,147.2 321.3,147.6 320.0,147.5 318.7,146.7 317.4,147.3 316.1,147.0 314.8,147.0 313.5,147.4 312.2,147.9 310.9,147.2 309.6,147.3 308.3,147.9 307.0,147.2 305.7,147.4 304.4,147.4 303.1,146.7 301.8,147.7 300.5,147.7 299.2,147.4 297.9,146.8 296.6,147.6 295.3,147.3 294.0,147.2" fill="#e4dc00" />
<polygon points="294.0,143.2 295.3,143.3 296.6,143.3 297.9,143.5 299.2,143.4 300.5,143.5 301.8,143.2 303.1,143.4 304.4,143.5 305.7,143.4 307.0,143.5 308.3,143.5 309.6,143.3 310.9,143.1 312.2,143.4 313.5,143.2 314.8,143.1 316.1,143.4 317.4,143.5 318.7,143.5 320.0,143.5 321.3,143.2 322.6,143.1 323.9,143.1 325.2,143.5 326.5,143.1 327.8,143.1 329.1,143.1 330.4,143.1 331.7,143.1 333.0,143.2 334.3,143.1 335.6,143.2 336.9,143.4 338.2,143.1 339.5,143.4 340.8,143.3 342.1,143.3 343.4,143.3 344.7,143.3 346.0,143.3 347.3,143.1 348.6,143.1 349.9,143.1 351.2,143.2 352.5,143.4 353.8,143.2 355.1,143.0 356.4,143.2 357.7,143.3 359.0,143.2 360.3,143.3 361.6,143.0 362.9,143.0 364.2,143.2 365.5,143.0 366.8,143.1 368.1,143.1 369.4,143.0 370.7,143.0 372.0,142.9 373.3,143.3 374.6,143.2 375.9,143.3 377.2,143.1 378.5,143.3 379.8,143.3 381.1,143.1 382.4,143.1 383.7,143.1 385.0,143.0 386.3,143.0 387.6,143.2 388.9,143.0 390.2,143.2 391.5,143.1 392.8,143.1 394.1,143.2 395.4,143.1 396.7,142.9 398.0,142.9 399.3,142.8 400.6,142.8 401.9,143.2 403.2,143.1 404.5,143.2 405.8,143.1 407.1,142.9 408.4,143.2 409.7,143.2 411.0,143.0 411.0,143.0 411.0,143.9 411.0,143.9 409.7,144.1 408.4,144.1 407.1,143.8 405.8,144.0 404.5,144.1 403.2,144.0 401.9,144.1 400.6,143.7 399.3,143.7 398.0,143.8 396.7,143.8 395.4,144.0 394.1,144.1 392.8,144.0 391.5,144.0 390.2,144.1 388.9,143.9 387.6,144.1 386.3,143.9 385.0,143.9 383.7,144.0 382.4,144.0 381.1,144.0 379.8,144.2 378.5,144.2 377.2,144.0 375.9,144.2 374.6,144.1 373.3,144.2 372.0,143.8 370.7,143.9 369.4,143.9 368.1,144.0 366.8,144.0 365.5,143.9 364.2,144.1 362.9,143.9 361.6,143.9 360.3,144.2 359.0,144.1 357.7,144.2 356.4,144.1 355.1,143.9 353.8,144.1 352.5,144.3 351.2,144.1 349.9,144.0 348.6,144.0 347.3,144.0 346.0,144.2 344.7,144.2 343.4,144.2 342.1,144.2 340.8,144.2 339.5,144.3 338.2,144.0 336.9,144.3 335.6,144.1 334.3,144.0 333.0,144.1 331.7,144.0 330.4,144.0 329.1,144.0 327.8,144.0 326.5,144.0 325.2,144.4 323.9,144.0 322.6,144.0 321.3,144.1 320.0,144.4 318.7,144.4 317.4,144.4 316.1,144.3 314.8,144.0 313.5,144.1 312.2,144.3 310.9,144.0 309.6,144.2 308.3,144.4 307.0,144.4 305.7,144.3 304.4,144.4 303.1,144.3 301.8,144.1 300.5,144.4 299.2,144.3 297.9,144.4 296.6,144.2 295.3,144.2 294.0,144.1" fill="#a8a010" opacity="0.8"/>
<polygon points="294.0,145.0 295.3,145.1 296.6,145.4 297.9,144.6 299.2,145.2 300.5,145.5 301.8,145.5 303.1,144.5 304.4,145.2 305.7,145.2 307.0,145.0 308.3,145.7 309.6,145.1 310.9,145.0 312.2,145.7 313.5,145.2 314.8,144.8 316.1,144.8 317.4,145.1 318.7,144.5 320.0,145.3 321.3,145.4 322.6,145.0 323.9,145.6 325.2,145.7 326.5,145.2 327.8,145.4 329.1,144.6 330.4,144.6 331.7,145.9 333.0,144.9 334.3,144.8 335.6,145.8 336.9,145.6 338.2,144.7 339.5,145.0 340.8,144.9 342.1,145.0 343.4,144.6 344.7,145.3 346.0,145.3 347.3,145.7 348.6,145.8 349.9,146.0 351.2,146.1 352.5,146.8 353.8,146.2 355.1,145.3 356.4,144.3 357.7,144.2 359.0,144.2 360.3,144.4 361.6,144.0 362.9,144.2 364.2,144.1 365.5,144.0 366.8,144.6 368.1,144.3 369.4,144.3 370.7,144.0 372.0,144.2 373.3,144.4 374.6,143.6 375.9,143.1 377.2,143.6 378.5,143.3 379.8,143.7 381.1,142.8 382.4,143.8 383.7,142.6 385.0,143.3 386.3,143.2 387.6,143.0 388.9,143.8 390.2,143.6 391.5,142.8 392.8,143.3 394.1,143.4 395.4,142.6 396.7,142.7 398.0,143.4 399.3,143.6 400.6,143.2 401.9,143.1 403.2,143.2 404.5,142.9 405.8,143.7 407.1,143.9 408.4,143.2 409.7,142.5 411.0,143.1 411.0,143.2 411.0,144.0 411.0,143.9 409.7,143.3 408.4,144.0 407.1,144.7 405.8,144.5 404.5,143.7 403.2,144.0 401.9,143.9 400.6,144.0 399.3,144.4 398.0,144.2 396.7,143.5 395.4,143.4 394.1,144.2 392.8,144.1 391.5,143.6 390.2,144.4 388.9,144.6 387.6,143.8 386.3,144.0 385.0,144.1 383.7,143.4 382.4,144.6 381.1,143.6 379.8,144.5 378.5,144.1 377.2,144.4 375.9,143.9 374.6,144.4 373.3,145.2 372.0,145.0 370.7,144.8 369.4,145.1 368.1,145.1 366.8,145.4 365.5,144.8 364.2,144.9 362.9,145.0 361.6,144.8 360.3,145.2 359.0,145.0 357.7,145.0 356.4,145.1 355.1,146.1 353.8,147.0 352.5,147.6 351.2,146.9 349.9,146.8 348.6,146.6 347.3,146.5 346.0,146.1 344.7,146.1 343.4,145.4 342.1,145.8 340.8,145.7 339.5,145.8 338.2,145.5 336.9,146.4 335.6,146.6 334.3,145.6 333.0,145.7 331.7,146.7 330.4,145.4 329.1,145.4 327.8,146.2 326.5,146.0 325.2,146.5 323.9,146.4 322.6,145.8 321.3,146.2 320.0,146.1 318.7,145.3 317.4,145.9 316.1,145.6 314.8,145.6 313.5,146.0 312.2,146.5 310.9,145.8 309.6,145.9 308.3,146.5 307.0,145.8 305.7,146.0 304.4,146.0 303.1,145.3 301.8,146.3 300.5,146.3 299.2,146.0 297.9,145.4 296.6,146.2 295.3,145.9 294.0,145.8" fill="#b0a010" opacity="0.45"/>
<polygon points="294.0,141.3 411.0,141.3 411.0,142.6 411.0,142.6 409.7,142.8 408.4,142.8 407.1,142.5 405.8,142.7 404.5,142.8 403.2,142.7 401.9,142.8 400.6,142.4 399.3,142.4 398.0,142.5 396.7,142.5 395.4,142.7 394.1,142.8 392.8,142.7 391.5,142.7 390.2,142.8 388.9,142.6 387.6,142.8 386.3,142.6 385.0,142.6 383.7,142.7 382.4,142.7 381.1,142.7 379.8,142.9 378.5,142.9 377.2,142.7 375.9,142.9 374.6,142.8 373.3,142.9 372.0,142.5 370.7,142.6 369.4,142.6 368.1,142.7 366.8,142.7 365.5,142.6 364.2,142.8 362.9,142.6 361.6,142.6 360.3,142.9 359.0,142.8 357.7,142.9 356.4,142.8 355.1,142.6 353.8,142.8 352.5,143.0 351.2,142.8 349.9,142.7 348.6,142.7 347.3,142.7 346.0,142.9 344.7,142.9 343.4,142.9 342.1,142.9 340.8,142.9 339.5,143.0 338.2,142.7 336.9,143.0 335.6,142.8 334.3,142.7 333.0,142.8 331.7,142.7 330.4,142.7 329.1,142.7 327.8,142.7 326.5,142.7 325.2,143.1 323.9,142.7 322.6,142.7 321.3,142.8 320.0,143.1 318.7,143.1 317.4,143.1 316.1,143.0 314.8,142.7 313.5,142.8 312.2,143.0 310.9,142.7 309.6,142.9 308.3,143.1 307.0,143.1 305.7,143.0 304.4,143.1 303.1,143.0 301.8,142.8 300.5,143.1 299.2,143.0 297.9,143.1 296.6,142.9 295.3,142.9 294.0,142.8" fill="#16c024" />
<polygon points="294.0,139.8 411.0,139.8 411.0,141.0 294.0,141.0" fill="#2a6cd4" />
<polygon points="294.0,141.0 411.0,141.0 411.0,141.5 294.0,141.5" fill="#30b8b0" />
<polygon points="348.1,147.5 356.1,147.5 353.4,167.3 351.4,167.3" fill="#7a3c10" opacity="0.55"/>
<polygon points="351.6,142.3 353.6,142.3 353.1,154.5 352.9,167.3 352.3,167.3 352.1,154.5" fill="#b0a018" opacity="0.9"/>
<polygon points="352.2,134.3 353.0,134.3 353.1,142.3 352.1,142.3" fill="#20b060" opacity="0.8"/>
</g>
</g>
<g clip-path="url(#cl10)">
<g filter="url(#soft)">
<polygon points="50.2,270.2 52.0,258.0 53.8,270.2" fill="url(#gP)" />
<polygon points="53.5,270.2 55.3,254.0 55.7,254.0 57.5,270.2" fill="url(#gM)" />
<polygon points="57.2,270.2 59.0,260.0 60.8,270.2" fill="url(#gP)" />
<polygon points="63.6,270.2 66.0,248.1 68.4,270.2" fill="url(#gH)" opacity="0.85"/>
<polygon points="69.1,270.2 71.5,246.5 73.9,270.2" fill="url(#gH)" opacity="0.85"/>
<polygon points="73.9,270.2 76.3,245.9 78.7,270.2" fill="url(#gH)" opacity="0.85"/>
<polygon points="78.4,270.2 80.2,236.8 82.0,270.2" fill="url(#gP)" />
<polygon points="81.5,270.2 83.9,248.1 86.3,270.2" fill="url(#gH)" opacity="0.85"/>
<polygon points="134.4,270.2 136.8,245.1 139.2,270.2" fill="url(#gH)" opacity="0.85"/>
<polygon points="138.9,270.2 140.7,250.0 142.5,270.2" fill="url(#gP)" />
<polygon points="143.6,270.2 146.0,244.3 148.4,270.2" fill="url(#gH)" opacity="0.85"/>
<polygon points="146.4,270.2 148.2,233.6 148.6,233.6 150.4,270.2" fill="url(#gM)" />
<polygon points="148.7,270.2 150.5,234.4 150.9,234.4 152.7,270.2" fill="url(#gM)" />
<polygon points="155.4,270.2 157.5,252.2 157.9,252.2 159.9,270.2" fill="url(#gM)" />
<polygon points="161.2,270.2 163.0,258.0 164.8,270.2" fill="url(#gP)" />
<polygon points="93.0,270.2 95.2,223.4 97.4,270.2" fill="url(#gH)" opacity="0.85"/>
<polygon points="99.8,270.2 102.0,216.9 104.2,270.2" fill="url(#gH)" opacity="0.85"/>
<polygon points="115.3,270.2 117.2,227.4 117.6,227.4 119.5,270.2" fill="url(#gM)" />
<polygon points="126.5,270.2 128.4,226.6 128.8,226.6 130.7,270.2" fill="url(#gM)" />
<polygon points="55.0,270.2 55.5,261.3 56.0,270.2" fill="#7a24d8" opacity="0.65"/>
<polygon points="64.6,270.2 65.8,250.6 66.2,250.6 67.4,270.2" fill="url(#gB)" />
<polygon points="70.1,270.2 71.2,249.0 71.8,249.0 72.9,270.2" fill="url(#gB)" />
<polygon points="74.9,270.2 76.0,248.4 76.5,248.4 77.7,270.2" fill="url(#gB)" />
<polygon points="82.5,270.2 83.7,250.6 84.2,250.6 85.3,270.2" fill="url(#gB)" />
<polygon points="135.4,270.2 136.6,247.6 137.1,247.6 138.2,270.2" fill="url(#gB)" />
<polygon points="144.6,270.2 145.8,246.8 146.2,246.8 147.4,270.2" fill="url(#gB)" />
<polygon points="147.9,270.2 148.4,250.1 148.9,270.2" fill="#7a24d8" opacity="0.65"/>
<polygon points="150.2,270.2 150.7,250.5 151.2,270.2" fill="#7a24d8" opacity="0.65"/>
<polygon points="157.1,270.2 157.7,260.3 158.3,270.2" fill="#7a24d8" opacity="0.65"/>
<polygon points="94.0,270.2 95.0,225.9 95.5,225.9 96.4,270.2" fill="url(#gB)" />
<polygon points="100.8,270.2 101.8,219.4 102.2,219.4 103.2,270.2" fill="url(#gB)" />
<polygon points="116.9,270.2 117.4,246.7 118.0,270.2" fill="#7a24d8" opacity="0.65"/>
<polygon points="128.0,270.2 128.6,246.2 129.2,270.2" fill="#7a24d8" opacity="0.65"/>
<polygon points="84.1,270.2 87.0,245.7 89.9,270.2" fill="url(#gH)" opacity="0.85"/>
<polygon points="85.9,270.2 88.6,242.6 91.4,270.2" fill="url(#gH)" opacity="0.85"/>
<polygon points="88.1,270.2 91.0,245.6 93.8,270.2" fill="url(#gH)" opacity="0.85"/>
<polygon points="90.4,270.2 93.1,243.2 95.9,270.2" fill="url(#gH)" opacity="0.85"/>
<polygon points="92.5,270.2 95.5,241.9 98.5,270.2" fill="url(#gH)" opacity="0.85"/>
<polygon points="95.0,270.2 97.7,244.1 100.4,270.2" fill="url(#gH)" opacity="0.85"/>
<polygon points="96.2,270.2 99.2,244.2 102.3,270.2" fill="url(#gH)" opacity="0.85"/>
<polygon points="97.7,270.2 100.8,247.8 103.9,270.2" fill="url(#gH)" opacity="0.85"/>
<polygon points="100.1,270.2 102.7,243.0 105.4,270.2" fill="url(#gH)" opacity="0.85"/>
<polygon points="101.9,270.2 104.4,244.3 106.9,270.2" fill="url(#gH)" opacity="0.85"/>
<polygon points="104.0,270.2 106.7,243.4 109.5,270.2" fill="url(#gH)" opacity="0.85"/>
<polygon points="106.2,270.2 108.7,243.4 111.2,270.2" fill="url(#gH)" opacity="0.85"/>
<polygon points="108.3,270.2 111.2,245.3 114.1,270.2" fill="url(#gH)" opacity="0.85"/>
<polygon points="110.1,270.2 113.0,244.0 115.9,270.2" fill="url(#gH)" opacity="0.85"/>
<polygon points="112.0,270.2 114.8,242.9 117.6,270.2" fill="url(#gH)" opacity="0.85"/>
<polygon points="113.8,270.2 116.8,241.7 119.8,270.2" fill="url(#gH)" opacity="0.85"/>
<polygon points="116.0,270.2 118.8,242.7 121.5,270.2" fill="url(#gH)" opacity="0.85"/>
<polygon points="118.2,270.2 121.1,242.5 123.9,270.2" fill="url(#gH)" opacity="0.85"/>
<polygon points="120.6,270.2 123.2,242.6 125.9,270.2" fill="url(#gH)" opacity="0.85"/>
<polygon points="122.6,270.2 125.4,242.5 128.2,270.2" fill="url(#gH)" opacity="0.85"/>
<polygon points="124.1,270.2 127.2,244.0 130.2,270.2" fill="url(#gH)" opacity="0.85"/>
<polygon points="126.6,270.2 129.6,243.5 132.7,270.2" fill="url(#gH)" opacity="0.85"/>
<polygon points="128.3,270.2 131.3,246.8 134.4,270.2" fill="url(#gH)" opacity="0.85"/>
<polygon points="130.4,270.2 133.1,248.7 135.8,270.2" fill="url(#gH)" opacity="0.85"/>
<polygon points="87.5,270.2 87.0,251.2 88.5,247.1 90.0,249.5 91.5,247.9 93.0,250.1 94.5,246.6 96.0,248.6 97.5,249.2 99.0,250.8 100.5,251.6 102.0,248.2 103.5,247.4 105.0,248.2 106.5,247.2 108.0,247.3 109.5,246.9 111.0,248.5 112.5,248.4 114.0,248.2 115.5,246.6 117.0,248.9 118.5,247.8 120.0,247.2 121.5,248.1 123.0,248.1 124.5,247.2 126.0,248.4 127.5,247.6 129.0,248.7 130.5,250.5 132.0,250.9 133.5,251.7 134.0,252.5 133.5,270.2" fill="#1c1cb8" />
<polygon points="85.1,270.2 86.8,248.2 87.2,248.2 88.9,270.2" fill="url(#gBlk)" />
<polygon points="86.9,270.2 88.4,245.1 88.9,245.1 90.4,270.2" fill="url(#gBlk)" />
<polygon points="89.1,270.2 90.7,248.1 91.2,248.1 92.8,270.2" fill="url(#gBlk)" />
<polygon points="91.3,270.2 92.9,245.7 93.4,245.7 94.9,270.2" fill="url(#gBlk)" />
<polygon points="93.5,270.2 95.3,244.4 95.8,244.4 97.5,270.2" fill="url(#gBlk)" />
<polygon points="95.9,270.2 97.5,246.6 98.0,246.6 99.5,270.2" fill="url(#gBlk)" />
<polygon points="97.2,270.2 99.0,246.7 99.5,246.7 101.3,270.2" fill="url(#gBlk)" />
<polygon points="98.7,270.2 100.6,250.3 101.1,250.3 102.9,270.2" fill="url(#gBlk)" />
<polygon points="101.0,270.2 102.5,245.5 103.0,245.5 104.5,270.2" fill="url(#gBlk)" />
<polygon points="102.8,270.2 104.2,246.8 104.7,246.8 106.0,270.2" fill="url(#gBlk)" />
<polygon points="104.9,270.2 106.5,245.9 107.0,245.9 108.5,270.2" fill="url(#gBlk)" />
<polygon points="107.1,270.2 108.4,245.9 108.9,245.9 110.2,270.2" fill="url(#gBlk)" />
<polygon points="109.2,270.2 110.9,247.8 111.4,247.8 113.1,270.2" fill="url(#gBlk)" />
<polygon points="111.1,270.2 112.8,246.5 113.3,246.5 115.0,270.2" fill="url(#gBlk)" />
<polygon points="112.9,270.2 114.5,245.4 115.0,245.4 116.6,270.2" fill="url(#gBlk)" />
<polygon points="114.8,270.2 116.5,244.2 117.0,244.2 118.8,270.2" fill="url(#gBlk)" />
<polygon points="117.0,270.2 118.5,245.2 119.0,245.2 120.6,270.2" fill="url(#gBlk)" />
<polygon points="119.2,270.2 120.8,245.0 121.3,245.0 122.9,270.2" fill="url(#gBlk)" />
<polygon points="121.6,270.2 123.0,245.1 123.5,245.1 124.9,270.2" fill="url(#gBlk)" />
<polygon points="123.6,270.2 125.1,245.0 125.6,245.0 127.2,270.2" fill="url(#gBlk)" />
<polygon points="125.1,270.2 126.9,246.5 127.4,246.5 129.3,270.2" fill="url(#gBlk)" />
<polygon points="127.6,270.2 129.4,246.0 129.9,246.0 131.7,270.2" fill="url(#gBlk)" />
<polygon points="129.3,270.2 131.1,249.3 131.6,249.3 133.4,270.2" fill="url(#gBlk)" />
<polygon points="131.3,270.2 132.8,251.2 133.3,251.2 134.8,270.2" fill="url(#gBlk)" />
<polygon points="87.5,270.2 89.2,258.0 90.8,258.0 92.5,270.2" fill="url(#gCy)" />
<polygon points="89.3,270.2 90.0,264.0 90.7,270.2" fill="#2448c8" opacity="0.45"/>
<polygon points="92.5,270.2 94.7,253.0 96.3,253.0 98.5,270.2" fill="url(#gCy)" />
<polygon points="94.3,270.2 95.5,259.0 96.7,270.2" fill="#2448c8" opacity="0.45"/>
<polygon points="98.5,270.2 100.2,257.0 101.8,257.0 103.5,270.2" fill="url(#gCy)" />
<polygon points="100.3,270.2 101.0,263.0 101.7,270.2" fill="#2448c8" opacity="0.45"/>
<polygon points="103.0,270.2 106.2,251.0 107.8,251.0 111.0,270.2" fill="url(#gCy)" />
<polygon points="104.8,270.2 107.0,257.0 109.2,270.2" fill="#2448c8" opacity="0.45"/>
<polygon points="110.0,270.2 113.2,250.0 114.8,250.0 118.0,270.2" fill="url(#gCy)" />
<polygon points="111.8,270.2 114.0,256.0 116.2,270.2" fill="#2448c8" opacity="0.45"/>
<polygon points="117.0,270.2 120.2,251.0 121.8,251.0 125.0,270.2" fill="url(#gCy)" />
<polygon points="118.8,270.2 121.0,257.0 123.2,270.2" fill="#2448c8" opacity="0.45"/>
<polygon points="124.0,270.2 126.2,254.0 127.8,254.0 130.0,270.2" fill="url(#gCy)" />
<polygon points="125.8,270.2 127.0,260.0 128.2,270.2" fill="#2448c8" opacity="0.45"/>
<polygon points="129.5,270.2 130.7,260.0 132.3,260.0 133.5,270.2" fill="url(#gCy)" />
<polygon points="131.3,270.2 131.5,266.0 131.7,270.2" fill="#2448c8" opacity="0.45"/>
<polygon points="109.0,270.2 110.5,258.0 112.0,255.0 113.5,258.0 115.0,270.2" fill="#18c030" />
<polygon points="117.5,270.2 119.0,260.0 120.5,257.0 122.0,262.0 123.0,270.2" fill="#18c030" />
<polygon points="50.0,270.2 167.5,270.2 167.5,299.2 50.0,299.2" fill="url(#gOr)" />
<path d="M94.8 274.2V298.2 M77.1 274.2V298.2 M69.5 274.2V298.2 M157.4 274.2V298.2 M117.9 274.2V298.2 M131.1 274.2V298.2 M115.0 274.2V298.2 M95.1 274.2V298.2 M136.0 274.2V298.2 M117.7 274.2V298.2 M141.8 274.2V298.2 M127.7 274.2V298.2 M148.6 274.2V298.2 M101.6 274.2V298.2 M68.2 274.2V298.2 M67.6 274.2V298.2 M135.0 274.2V298.2 M69.7 274.2V298.2 M126.9 274.2V298.2 M122.9 274.2V298.2 M57.0 274.2V298.2 M142.2 274.2V298.2 M53.9 274.2V298.2 M151.9 274.2V298.2 M148.8 274.2V298.2 M75.4 274.2V298.2 M135.3 274.2V298.2 M136.0 274.2V298.2 M64.7 274.2V298.2 M128.7 274.2V298.2 M64.5 274.2V298.2 M157.3 274.2V298.2 M130.9 274.2V298.2 M165.2 274.2V298.2 M56.3 274.2V298.2 M87.3 274.2V298.2 M122.8 274.2V298.2 M121.5 274.2V298.2 M71.4 274.2V298.2 M154.3 274.2V298.2 M149.5 274.2V298.2 M85.4 274.2V298.2 M67.1 274.2V298.2 M128.4 274.2V298.2 M97.8 274.2V298.2" stroke="#7a3a0c" stroke-opacity="0.25" stroke-width="0.8"/>
<polygon points="50.0,298.4 51.1,296.6 52.2,297.3 53.3,298.2 54.4,295.9 55.5,297.0 56.6,297.2 57.7,298.5 58.8,295.1 59.9,295.3 61.0,296.1 62.1,297.9 63.2,298.0 64.3,295.4 65.4,298.2 66.5,296.8 67.6,298.3 68.7,298.2 69.8,295.2 70.9,298.3 72.0,296.5 73.1,295.3 74.2,296.4 75.3,295.0 76.4,297.2 77.5,295.7 78.6,293.5 79.7,293.3 80.8,293.6 81.9,293.9 83.0,291.4 84.1,290.1 85.2,290.4 86.3,288.7 87.4,289.0 88.5,290.3 89.6,287.2 90.7,287.0 91.8,288.1 92.9,285.5 94.0,284.6 95.1,284.5 96.2,285.3 97.3,285.1 98.4,284.4 99.5,281.7 100.6,281.9 101.7,280.8 102.8,281.8 103.9,280.6 105.0,281.4 106.1,280.3 107.2,280.4 108.3,278.9 109.4,280.3 110.5,278.8 111.6,279.3 112.7,282.4 113.8,280.4 114.9,280.1 116.0,283.1 117.1,281.6 118.2,282.4 119.3,283.8 120.4,285.6 121.5,282.8 122.6,285.5 123.7,283.8 124.8,286.9 125.9,286.2 127.0,286.0 128.1,287.9 129.2,289.7 130.3,288.7 131.4,290.4 132.5,292.6 133.6,293.5 134.7,293.9 135.8,293.6 136.9,295.2 138.0,293.9 139.1,295.4 140.2,295.8 141.3,295.7 142.4,295.3 143.5,295.4 144.6,298.7 145.7,296.6 146.8,296.3 147.9,297.6 149.0,297.8 150.1,298.4 151.2,298.5 152.3,295.4 153.4,296.1 154.5,296.6 155.6,296.3 156.7,297.2 157.8,296.1 158.9,298.4 160.0,296.4 161.1,298.4 162.2,298.5 163.3,297.6 164.4,296.2 165.5,295.4 166.6,298.8 167.5,297.0 167.5,299.2 50.0,299.2" fill="#94481a" opacity="0.55"/>
<polygon points="50.0,301.4 51.1,299.6 52.2,300.3 53.3,301.2 54.4,298.9 55.5,300.0 56.6,300.2 57.7,301.5 58.8,298.1 59.9,298.3 61.0,299.1 62.1,300.9 63.2,301.0 64.3,298.4 65.4,301.2 66.5,299.8 67.6,301.3 68.7,301.2 69.8,298.2 70.9,301.3 72.0,299.5 73.1,298.3 74.2,299.4 75.3,298.0 76.4,300.2 77.5,298.7 78.6,296.5 79.7,296.3 80.8,296.6 81.9,296.9 83.0,294.4 84.1,293.1 85.2,293.4 86.3,291.7 87.4,292.0 88.5,293.3 89.6,290.2 90.7,290.0 91.8,291.1 92.9,288.5 94.0,287.6 95.1,287.5 96.2,288.3 97.3,288.1 98.4,287.4 99.5,284.7 100.6,284.9 101.7,283.8 102.8,284.8 103.9,283.6 105.0,284.4 106.1,283.3 107.2,283.4 108.3,281.9 109.4,283.3 110.5,281.8 111.6,282.3 112.7,285.4 113.8,283.4 114.9,283.1 116.0,286.1 117.1,284.6 118.2,285.4 119.3,286.8 120.4,288.6 121.5,285.8 122.6,288.5 123.7,286.8 124.8,289.9 125.9,289.2 127.0,289.0 128.1,290.9 129.2,292.7 130.3,291.7 131.4,293.4 132.5,295.6 133.6,296.5 134.7,296.9 135.8,296.6 136.9,298.2 138.0,296.9 139.1,298.4 140.2,298.8 141.3,298.7 142.4,298.3 143.5,298.4 144.6,301.7 145.7,299.6 146.8,299.3 147.9,300.6 149.0,300.8 150.1,301.4 151.2,301.5 152.3,298.4 153.4,299.1 154.5,299.6 155.6,299.3 156.7,300.2 157.8,299.1 158.9,301.4 160.0,299.4 161.1,301.4 162.2,301.5 163.3,300.6 164.4,299.2 165.5,298.4 166.6,301.8 167.5,300.0 167.5,299.2 50.0,299.2" fill="url(#gRed)" />
<polygon points="50.0,299.4 51.1,299.7 52.2,299.7 53.3,299.2 54.4,300.0 55.5,299.4 56.6,297.9 57.7,299.5 58.8,297.7 59.9,298.1 61.0,298.7 62.1,301.7 63.2,299.6 64.3,299.9 65.4,301.5 66.5,301.3 67.6,299.9 68.7,298.4 69.8,299.7 70.9,298.9 72.0,301.5 73.1,297.5 74.2,298.9 75.3,300.2 76.4,299.8 77.5,299.6 78.6,300.5 79.7,298.2 80.8,300.8 81.9,301.1 83.0,297.2 84.1,298.5 85.2,298.6 86.3,298.7 87.4,299.3 88.5,298.1 89.6,299.7 90.7,300.7 91.8,300.9 92.9,300.5 94.0,297.8 95.1,299.0 96.2,298.0 97.3,296.2 98.4,295.4 99.5,292.6 100.6,293.8 101.7,290.7 102.8,291.4 103.9,289.4 105.0,289.8 106.1,287.0 107.2,288.0 108.3,289.9 109.4,287.5 110.5,289.7 111.6,290.5 112.7,290.1 113.8,290.6 114.9,289.3 116.0,290.9 117.1,293.9 118.2,294.9 119.3,294.0 120.4,294.4 121.5,297.7 122.6,296.6 123.7,298.4 124.8,296.1 125.9,297.6 127.0,300.7 128.1,300.2 129.2,301.2 130.3,299.7 131.4,301.8 132.5,298.0 133.6,299.0 134.7,300.6 135.8,300.1 136.9,300.8 138.0,299.9 139.1,300.9 140.2,301.3 141.3,299.2 142.4,297.9 143.5,298.9 144.6,299.3 145.7,302.1 146.8,302.0 147.9,300.8 149.0,298.6 150.1,301.8 151.2,298.4 152.3,298.4 153.4,301.2 154.5,299.3 155.6,299.5 156.7,299.0 157.8,297.8 158.9,298.4 160.0,298.1 161.1,297.9 162.2,298.0 163.3,298.6 164.4,300.1 165.5,300.0 166.6,301.2 167.5,300.0 167.5,299.2 50.0,299.2" fill="#cc1e1e" opacity="0.85"/>
<path d="M108.5 285.2V298.2 M81.3 285.2V298.2 M124.9 285.2V298.2 M78.5 285.2V298.2 M105.6 285.2V298.2 M164.0 285.2V298.2 M60.0 285.2V298.2 M87.3 285.2V298.2 M129.5 285.2V298.2 M60.0 285.2V298.2 M68.0 285.2V298.2 M147.0 285.2V298.2 M165.1 285.2V298.2 M87.5 285.2V298.2 M72.2 285.2V298.2 M164.3 285.2V298.2 M88.6 285.2V298.2 M120.9 285.2V298.2 M121.4 285.2V298.2 M124.6 285.2V298.2 M157.6 285.2V298.2 M163.1 285.2V298.2 M131.4 285.2V298.2 M146.9 285.2V298.2 M143.3 285.2V298.2 M125.6 285.2V298.2 M100.6 285.2V298.2 M76.7 285.2V298.2 M81.3 285.2V298.2 M159.3 285.2V298.2" stroke="#600808" stroke-opacity="0.18" stroke-width="0.8"/>
<polygon points="50.0,274.7 51.3,274.4 52.6,274.4 53.9,274.4 55.2,274.6 56.5,274.5 57.8,274.6 59.1,274.2 60.4,274.3 61.7,274.1 63.0,274.2 64.3,274.2 65.6,274.0 66.9,274.1 68.2,274.2 69.5,274.1 70.8,274.0 72.1,274.1 73.4,274.1 74.7,273.8 76.0,274.1 77.3,274.0 78.6,273.8 79.9,273.7 81.2,274.0 82.5,273.7 83.8,273.6 85.1,273.6 86.4,273.8 87.7,273.7 89.0,273.7 90.3,273.7 91.6,273.5 92.9,273.6 94.2,273.3 95.5,273.3 96.8,273.3 98.1,273.1 99.4,273.2 100.7,273.0 102.0,272.9 103.3,272.6 104.6,272.6 105.9,272.5 107.2,272.3 108.5,272.3 109.8,272.3 111.1,272.4 112.4,272.6 113.7,272.5 115.0,272.6 116.3,272.6 117.6,272.6 118.9,272.9 120.2,272.9 121.5,272.9 122.8,272.8 124.1,273.1 125.4,272.9 126.7,273.1 128.0,273.5 129.3,273.5 130.6,273.6 131.9,273.8 133.2,274.0 134.5,274.1 135.8,274.0 137.1,274.0 138.4,274.3 139.7,274.4 141.0,274.4 142.3,274.7 143.6,274.7 144.9,274.5 146.2,274.6 147.5,274.5 148.8,274.7 150.1,274.6 151.4,274.5 152.7,274.5 154.0,274.6 155.3,274.5 156.6,274.7 157.9,274.8 159.2,274.6 160.5,274.5 161.8,274.9 163.1,274.7 164.4,274.5 165.7,274.5 167.0,274.5 167.5,274.7 167.5,282.8 167.0,283.1 165.7,282.6 164.4,283.2 163.1,283.1 161.8,282.9 160.5,283.2 159.2,282.5 157.9,282.8 156.6,282.2 155.3,282.9 154.0,282.9 152.7,283.0 151.4,282.6 150.1,281.6 148.8,282.8 147.5,282.6 146.2,281.3 144.9,281.3 143.6,281.9 142.3,281.9 141.0,281.3 139.7,282.2 138.4,281.0 137.1,281.5 135.8,280.5 134.5,280.4 133.2,280.1 131.9,280.6 130.6,280.9 129.3,279.4 128.0,280.1 126.7,280.2 125.4,279.8 124.1,279.2 122.8,278.6 121.5,279.1 120.2,279.6 118.9,279.0 117.6,278.4 116.3,278.7 115.0,279.1 113.7,278.4 112.4,279.5 111.1,279.7 109.8,278.8 108.5,279.6 107.2,279.4 105.9,279.2 104.6,280.0 103.3,279.9 102.0,279.7 100.7,279.0 99.4,279.9 98.1,280.3 96.8,279.9 95.5,280.4 94.2,279.5 92.9,280.1 91.6,280.7 90.3,280.0 89.0,280.8 87.7,281.1 86.4,280.0 85.1,280.0 83.8,280.6 82.5,281.0 81.2,281.0 79.9,281.2 78.6,281.5 77.3,281.2 76.0,281.4 74.7,280.9 73.4,281.4 72.1,282.1 70.8,282.2 69.5,281.4 68.2,281.8 66.9,282.3 65.6,282.1 64.3,282.6 63.0,282.0 61.7,282.1 60.4,281.6 59.1,282.3 57.8,282.3 56.5,282.9 55.2,282.8 53.9,282.6 52.6,282.2 51.3,283.0 50.0,282.2" fill="#8a6414" />
<polygon points="50.0,274.7 51.3,274.4 52.6,274.4 53.9,274.4 55.2,274.6 56.5,274.5 57.8,274.6 59.1,274.2 60.4,274.3 61.7,274.1 63.0,274.2 64.3,274.2 65.6,274.0 66.9,274.1 68.2,274.2 69.5,274.1 70.8,274.0 72.1,274.1 73.4,274.1 74.7,273.8 76.0,274.1 77.3,274.0 78.6,273.8 79.9,273.7 81.2,274.0 82.5,273.7 83.8,273.6 85.1,273.6 86.4,273.8 87.7,273.7 89.0,273.7 90.3,273.7 91.6,273.5 92.9,273.6 94.2,273.3 95.5,273.3 96.8,273.3 98.1,273.1 99.4,273.2 100.7,273.0 102.0,272.9 103.3,272.6 104.6,272.6 105.9,272.5 107.2,272.3 108.5,272.3 109.8,272.3 111.1,272.4 112.4,272.6 113.7,272.5 115.0,272.6 116.3,272.6 117.6,272.6 118.9,272.9 120.2,272.9 121.5,272.9 122.8,272.8 124.1,273.1 125.4,272.9 126.7,273.1 128.0,273.5 129.3,273.5 130.6,273.6 131.9,273.8 133.2,274.0 134.5,274.1 135.8,274.0 137.1,274.0 138.4,274.3 139.7,274.4 141.0,274.4 142.3,274.7 143.6,274.7 144.9,274.5 146.2,274.6 147.5,274.5 148.8,274.7 150.1,274.6 151.4,274.5 152.7,274.5 154.0,274.6 155.3,274.5 156.6,274.7 157.9,274.8 159.2,274.6 160.5,274.5 161.8,274.9 163.1,274.7 164.4,274.5 165.7,274.5 167.0,274.5 167.5,274.7 167.5,281.0 167.0,281.3 165.7,280.8 164.4,281.4 163.1,281.3 161.8,281.1 160.5,281.4 159.2,280.7 157.9,281.0 156.6,280.4 155.3,281.1 154.0,281.1 152.7,281.2 151.4,280.8 150.1,279.8 148.8,281.0 147.5,280.8 146.2,279.5 144.9,279.5 143.6,280.1 142.3,280.1 141.0,279.5 139.7,280.4 138.4,279.2 137.1,279.7 135.8,278.7 134.5,278.6 133.2,278.3 131.9,278.8 130.6,279.1 129.3,277.6 128.0,278.3 126.7,278.4 125.4,278.0 124.1,277.4 122.8,276.8 121.5,277.3 120.2,277.8 118.9,277.2 117.6,276.6 116.3,276.9 115.0,277.3 113.7,276.6 112.4,277.7 111.1,277.9 109.8,277.0 108.5,277.8 107.2,277.6 105.9,277.4 104.6,278.2 103.3,278.1 102.0,277.9 100.7,277.2 99.4,278.1 98.1,278.5 96.8,278.1 95.5,278.6 94.2,277.7 92.9,278.3 91.6,278.9 90.3,278.2 89.0,279.0 87.7,279.3 86.4,278.2 85.1,278.2 83.8,278.8 82.5,279.2 81.2,279.2 79.9,279.4 78.6,279.7 77.3,279.4 76.0,279.6 74.7,279.1 73.4,279.6 72.1,280.3 70.8,280.4 69.5,279.6 68.2,280.0 66.9,280.5 65.6,280.3 64.3,280.8 63.0,280.2 61.7,280.3 60.4,279.8 59.1,280.5 57.8,280.5 56.5,281.1 55.2,281.0 53.9,280.8 52.6,280.4 51.3,281.2 50.0,280.4" fill="#e4dc00" />
<polygon points="50.0,275.1 51.3,274.8 52.6,274.8 53.9,274.8 55.2,275.0 56.5,274.9 57.8,275.0 59.1,274.6 60.4,274.7 61.7,274.5 63.0,274.6 64.3,274.6 65.6,274.4 66.9,274.5 68.2,274.6 69.5,274.5 70.8,274.4 72.1,274.5 73.4,274.5 74.7,274.2 76.0,274.5 77.3,274.4 78.6,274.2 79.9,274.1 81.2,274.4 82.5,274.1 83.8,274.0 85.1,274.0 86.4,274.2 87.7,274.1 89.0,274.1 90.3,274.1 91.6,273.9 92.9,274.0 94.2,273.7 95.5,273.7 96.8,273.7 98.1,273.5 99.4,273.6 100.7,273.4 102.0,273.3 103.3,273.0 104.6,273.0 105.9,272.9 107.2,272.7 108.5,272.7 109.8,272.7 111.1,272.8 112.4,273.0 113.7,272.9 115.0,273.0 116.3,273.0 117.6,273.0 118.9,273.3 120.2,273.3 121.5,273.3 122.8,273.2 124.1,273.5 125.4,273.3 126.7,273.5 128.0,273.9 129.3,273.9 130.6,274.0 131.9,274.2 133.2,274.4 134.5,274.5 135.8,274.4 137.1,274.4 138.4,274.7 139.7,274.8 141.0,274.8 142.3,275.1 143.6,275.1 144.9,274.9 146.2,275.0 147.5,274.9 148.8,275.1 150.1,275.0 151.4,274.9 152.7,274.9 154.0,275.0 155.3,274.9 156.6,275.1 157.9,275.2 159.2,275.0 160.5,274.9 161.8,275.3 163.1,275.1 164.4,274.9 165.7,274.9 167.0,274.9 167.5,275.1 167.5,276.0 167.0,275.8 165.7,275.8 164.4,275.8 163.1,276.0 161.8,276.2 160.5,275.8 159.2,275.9 157.9,276.1 156.6,276.0 155.3,275.8 154.0,275.9 152.7,275.8 151.4,275.8 150.1,275.9 148.8,276.0 147.5,275.8 146.2,275.9 144.9,275.8 143.6,276.0 142.3,276.0 141.0,275.7 139.7,275.7 138.4,275.6 137.1,275.3 135.8,275.3 134.5,275.4 133.2,275.3 131.9,275.1 130.6,274.9 129.3,274.8 128.0,274.8 126.7,274.4 125.4,274.2 124.1,274.4 122.8,274.1 121.5,274.2 120.2,274.2 118.9,274.2 117.6,273.9 116.3,273.9 115.0,273.9 113.7,273.8 112.4,273.9 111.1,273.7 109.8,273.6 108.5,273.6 107.2,273.6 105.9,273.8 104.6,273.9 103.3,273.9 102.0,274.2 100.7,274.3 99.4,274.5 98.1,274.4 96.8,274.6 95.5,274.6 94.2,274.6 92.9,274.9 91.6,274.8 90.3,275.0 89.0,275.0 87.7,275.0 86.4,275.1 85.1,274.9 83.8,274.9 82.5,275.0 81.2,275.3 79.9,275.0 78.6,275.1 77.3,275.3 76.0,275.4 74.7,275.1 73.4,275.4 72.1,275.4 70.8,275.3 69.5,275.4 68.2,275.5 66.9,275.4 65.6,275.3 64.3,275.5 63.0,275.5 61.7,275.4 60.4,275.6 59.1,275.5 57.8,275.9 56.5,275.8 55.2,275.9 53.9,275.7 52.6,275.7 51.3,275.7 50.0,276.0" fill="#a8a010" opacity="0.8"/>
<polygon points="50.0,278.2 51.3,279.0 52.6,278.2 53.9,278.6 55.2,278.8 56.5,278.9 57.8,278.3 59.1,278.3 60.4,277.6 61.7,278.1 63.0,278.0 64.3,278.6 65.6,278.1 66.9,278.3 68.2,277.8 69.5,277.4 70.8,278.2 72.1,278.1 73.4,277.4 74.7,276.9 76.0,277.4 77.3,277.2 78.6,277.5 79.9,277.2 81.2,277.0 82.5,277.0 83.8,276.6 85.1,276.0 86.4,276.0 87.7,277.1 89.0,276.8 90.3,276.0 91.6,276.7 92.9,276.1 94.2,275.5 95.5,276.4 96.8,275.9 98.1,276.3 99.4,275.9 100.7,275.0 102.0,275.7 103.3,275.9 104.6,276.0 105.9,275.2 107.2,275.4 108.5,275.6 109.8,274.8 111.1,275.7 112.4,275.5 113.7,274.4 115.0,275.1 116.3,274.7 117.6,274.4 118.9,275.0 120.2,275.6 121.5,275.1 122.8,274.6 124.1,275.2 125.4,275.8 126.7,276.2 128.0,276.1 129.3,275.4 130.6,276.9 131.9,276.6 133.2,276.1 134.5,276.4 135.8,276.5 137.1,277.5 138.4,277.0 139.7,278.2 141.0,277.3 142.3,277.9 143.6,277.9 144.9,277.3 146.2,277.3 147.5,278.6 148.8,278.8 150.1,277.6 151.4,278.6 152.7,279.0 154.0,278.9 155.3,278.9 156.6,278.2 157.9,278.8 159.2,278.5 160.5,279.2 161.8,278.9 163.1,279.1 164.4,279.2 165.7,278.6 167.0,279.1 167.5,278.8 167.5,279.6 167.0,279.9 165.7,279.4 164.4,280.0 163.1,279.9 161.8,279.7 160.5,280.0 159.2,279.3 157.9,279.6 156.6,279.0 155.3,279.7 154.0,279.7 152.7,279.8 151.4,279.4 150.1,278.4 148.8,279.6 147.5,279.4 146.2,278.1 144.9,278.1 143.6,278.7 142.3,278.7 141.0,278.1 139.7,279.0 138.4,277.8 137.1,278.3 135.8,277.3 134.5,277.2 133.2,276.9 131.9,277.4 130.6,277.7 129.3,276.2 128.0,276.9 126.7,277.0 125.4,276.6 124.1,276.0 122.8,275.4 121.5,275.9 120.2,276.4 118.9,275.8 117.6,275.2 116.3,275.5 115.0,275.9 113.7,275.2 112.4,276.3 111.1,276.5 109.8,275.6 108.5,276.4 107.2,276.2 105.9,276.0 104.6,276.8 103.3,276.7 102.0,276.5 100.7,275.8 99.4,276.7 98.1,277.1 96.8,276.7 95.5,277.2 94.2,276.3 92.9,276.9 91.6,277.5 90.3,276.8 89.0,277.6 87.7,277.9 86.4,276.8 85.1,276.8 83.8,277.4 82.5,277.8 81.2,277.8 79.9,278.0 78.6,278.3 77.3,278.0 76.0,278.2 74.7,277.7 73.4,278.2 72.1,278.9 70.8,279.0 69.5,278.2 68.2,278.6 66.9,279.1 65.6,278.9 64.3,279.4 63.0,278.8 61.7,278.9 60.4,278.4 59.1,279.1 57.8,279.1 56.5,279.7 55.2,279.6 53.9,279.4 52.6,279.0 51.3,279.8 50.0,279.0" fill="#b0a010" opacity="0.45"/>
<polygon points="50.0,271.2 167.5,271.2 167.5,274.7 167.0,274.5 165.7,274.5 164.4,274.5 163.1,274.7 161.8,274.9 160.5,274.5 159.2,274.6 157.9,274.8 156.6,274.7 155.3,274.5 154.0,274.6 152.7,274.5 151.4,274.5 150.1,274.6 148.8,274.7 147.5,274.5 146.2,274.6 144.9,274.5 143.6,274.7 142.3,274.7 141.0,274.4 139.7,274.4 138.4,274.3 137.1,274.0 135.8,274.0 134.5,274.1 133.2,274.0 131.9,273.8 130.6,273.6 129.3,273.5 128.0,273.5 126.7,273.1 125.4,272.9 124.1,273.1 122.8,272.8 121.5,272.9 120.2,272.9 118.9,272.9 117.6,272.6 116.3,272.6 115.0,272.6 113.7,272.5 112.4,272.6 111.1,272.4 109.8,272.3 108.5,272.3 107.2,272.3 105.9,272.5 104.6,272.6 103.3,272.6 102.0,272.9 100.7,273.0 99.4,273.2 98.1,273.1 96.8,273.3 95.5,273.3 94.2,273.3 92.9,273.6 91.6,273.5 90.3,273.7 89.0,273.7 87.7,273.7 86.4,273.8 85.1,273.6 83.8,273.6 82.5,273.7 81.2,274.0 79.9,273.7 78.6,273.8 77.3,274.0 76.0,274.1 74.7,273.8 73.4,274.1 72.1,274.1 70.8,274.0 69.5,274.1 68.2,274.2 66.9,274.1 65.6,274.0 64.3,274.2 63.0,274.2 61.7,274.1 60.4,274.3 59.1,274.2 57.8,274.6 56.5,274.5 55.2,274.6 53.9,274.4 52.6,274.4 51.3,274.4 50.0,274.7" fill="#16c024" />
<polygon points="50.0,269.7 167.5,269.7 167.5,270.9 50.0,270.9" fill="#2a6cd4" />
<polygon points="50.0,270.9 167.5,270.9 167.5,271.4 50.0,271.4" fill="#30b8b0" />
</g>
</g>
<g clip-path="url(#cl11)">
<g filter="url(#soft)">
<polygon points="174.7,270.6 176.8,245.8 179.0,270.6" fill="url(#gH)" opacity="0.85"/>
<polygon points="178.4,270.6 180.2,250.0 180.6,250.0 182.4,270.6" fill="url(#gM)" />
<polygon points="181.8,270.6 184.0,245.8 186.2,270.6" fill="url(#gH)" opacity="0.85"/>
<polygon points="185.0,270.6 186.8,250.0 187.2,250.0 189.0,270.6" fill="url(#gM)" />
<polygon points="188.6,270.6 190.4,252.0 190.8,252.0 192.6,270.6" fill="url(#gM)" />
<polygon points="191.3,270.6 193.5,246.5 195.7,270.6" fill="url(#gH)" opacity="0.85"/>
<polygon points="194.8,270.6 196.9,247.5 199.1,270.6" fill="url(#gH)" opacity="0.85"/>
<polygon points="199.0,270.6 200.8,255.0 202.6,270.6" fill="url(#gP)" />
<polygon points="210.2,270.6 212.4,245.8 214.6,270.6" fill="url(#gH)" opacity="0.85"/>
<polygon points="215.7,270.6 217.8,243.7 220.0,270.6" fill="url(#gH)" opacity="0.85"/>
<polygon points="219.4,270.6 221.6,243.7 223.8,270.6" fill="url(#gH)" opacity="0.85"/>
<polygon points="222.7,270.6 224.8,245.5 227.0,270.6" fill="url(#gH)" opacity="0.85"/>
<polygon points="233.8,270.6 235.6,251.0 236.0,251.0 237.8,270.6" fill="url(#gM)" />
<polygon points="245.7,270.6 247.8,245.5 250.0,270.6" fill="url(#gH)" opacity="0.85"/>
<polygon points="249.3,270.6 251.5,245.5 253.7,270.6" fill="url(#gH)" opacity="0.85"/>
<polygon points="253.8,270.6 256.0,248.5 258.1,270.6" fill="url(#gH)" opacity="0.85"/>
<polygon points="259.2,270.6 261.3,246.3 263.4,270.6" fill="url(#gH)" opacity="0.85"/>
<polygon points="263.0,270.6 264.8,250.0 265.2,250.0 267.0,270.6" fill="url(#gM)" />
<polygon points="264.6,270.6 266.5,247.5 268.4,270.6" fill="url(#gH)" opacity="0.85"/>
<polygon points="269.2,270.6 271.8,244.8 274.4,270.6" fill="url(#gH)" opacity="0.85"/>
<polygon points="271.2,270.6 273.3,245.5 275.4,270.6" fill="url(#gH)" opacity="0.85"/>
<polygon points="277.4,270.6 280.0,244.0 282.6,270.6" fill="url(#gH)" opacity="0.85"/>
<polygon points="284.8,270.6 286.6,250.0 287.0,250.0 288.8,270.6" fill="url(#gM)" />
<polygon points="175.6,270.6 176.6,248.3 177.1,248.3 178.0,270.6" fill="url(#gB)" />
<polygon points="179.9,270.6 180.4,259.3 180.9,270.6" fill="#7a24d8" opacity="0.65"/>
<polygon points="182.8,270.6 183.8,248.3 184.2,248.3 185.2,270.6" fill="url(#gB)" />
<polygon points="186.5,270.6 187.0,259.3 187.5,270.6" fill="#7a24d8" opacity="0.65"/>
<polygon points="190.1,270.6 190.6,260.4 191.1,270.6" fill="#7a24d8" opacity="0.65"/>
<polygon points="192.3,270.6 193.2,249.0 193.8,249.0 194.7,270.6" fill="url(#gB)" />
<polygon points="195.7,270.6 196.7,250.0 197.2,250.0 198.1,270.6" fill="url(#gB)" />
<polygon points="211.2,270.6 212.2,248.3 212.7,248.3 213.6,270.6" fill="url(#gB)" />
<polygon points="216.6,270.6 217.6,246.2 218.1,246.2 219.0,270.6" fill="url(#gB)" />
<polygon points="220.4,270.6 221.3,246.2 221.8,246.2 222.8,270.6" fill="url(#gT)" />
<polygon points="223.6,270.6 224.6,248.0 225.1,248.0 226.0,270.6" fill="url(#gB)" />
<polygon points="235.3,270.6 235.8,259.8 236.3,270.6" fill="#7a24d8" opacity="0.65"/>
<polygon points="246.6,270.6 247.6,248.0 248.1,248.0 249.0,270.6" fill="url(#gB)" />
<polygon points="250.3,270.6 251.2,248.0 251.8,248.0 252.7,270.6" fill="url(#gB)" />
<polygon points="254.8,270.6 255.8,251.0 256.2,251.0 257.2,270.6" fill="url(#gB)" />
<polygon points="260.1,270.6 261.1,248.8 261.6,248.8 262.5,270.6" fill="url(#gB)" />
<polygon points="264.5,270.6 265.0,259.3 265.5,270.6" fill="#7a24d8" opacity="0.65"/>
<polygon points="265.5,270.6 266.2,250.0 266.8,250.0 267.5,270.6" fill="url(#gB)" />
<polygon points="270.1,270.6 271.6,247.3 272.1,247.3 273.5,270.6" fill="url(#gB)" />
<polygon points="272.1,270.6 273.1,248.0 273.6,248.0 274.5,270.6" fill="url(#gB)" />
<polygon points="278.3,270.6 279.8,246.5 280.2,246.5 281.7,270.6" fill="url(#gT)" />
<polygon points="286.3,270.6 286.8,259.3 287.3,270.6" fill="#7a24d8" opacity="0.65"/>
<polygon points="172.0,270.6 289.5,270.6 289.5,299.2 172.0,299.2" fill="url(#gOr)" />
<path d="M200.6 274.6V298.2 M231.0 274.6V298.2 M191.0 274.6V298.2 M268.5 274.6V298.2 M199.2 274.6V298.2 M236.9 274.6V298.2 M280.8 274.6V298.2 M218.7 274.6V298.2 M285.7 274.6V298.2 M257.9 274.6V298.2 M236.4 274.6V298.2 M245.9 274.6V298.2 M240.9 274.6V298.2 M214.3 274.6V298.2 M289.1 274.6V298.2 M219.5 274.6V298.2 M287.6 274.6V298.2 M272.2 274.6V298.2 M175.3 274.6V298.2 M202.3 274.6V298.2 M228.1 274.6V298.2 M267.7 274.6V298.2 M192.9 274.6V298.2 M244.4 274.6V298.2 M215.1 274.6V298.2 M264.3 274.6V298.2 M280.9 274.6V298.2 M261.5 274.6V298.2 M194.7 274.6V298.2 M261.3 274.6V298.2 M223.5 274.6V298.2 M270.4 274.6V298.2 M227.2 274.6V298.2 M278.5 274.6V298.2 M287.9 274.6V298.2 M268.8 274.6V298.2 M269.1 274.6V298.2 M268.2 274.6V298.2 M241.6 274.6V298.2 M192.5 274.6V298.2 M287.9 274.6V298.2 M226.5 274.6V298.2 M173.9 274.6V298.2 M223.0 274.6V298.2 M220.8 274.6V298.2" stroke="#7a3a0c" stroke-opacity="0.25" stroke-width="0.8"/>
<polygon points="172.0,289.0 173.1,287.7 174.2,287.4 175.3,287.5 176.4,288.3 177.5,289.0 178.6,287.2 179.7,286.6 180.8,287.0 181.9,286.0 183.0,287.9 184.1,289.0 185.2,286.4 186.3,288.2 187.4,286.4 188.5,288.7 189.6,287.5 190.7,287.0 191.8,285.8 192.9,286.2 194.0,288.6 195.1,286.3 196.2,287.7 197.3,287.5 198.4,287.1 199.5,287.9 200.6,286.0 201.7,287.8 202.8,285.8 203.9,286.3 205.0,287.8 206.1,286.2 207.2,286.0 208.3,287.2 209.4,287.6 210.5,285.6 211.6,287.7 212.7,287.4 213.8,285.5 214.9,287.3 216.0,285.5 217.1,287.3 218.2,287.4 219.3,286.7 220.4,286.6 221.5,288.0 222.6,286.1 223.7,286.9 224.8,287.0 225.9,285.6 227.0,288.3 228.1,286.1 229.2,289.1 230.3,289.2 231.4,287.9 232.5,287.5 233.6,287.0 234.7,285.3 235.8,286.3 236.9,283.5 238.0,286.0 239.1,286.1 240.2,283.9 241.3,285.0 242.4,283.5 243.5,285.2 244.6,285.6 245.7,284.3 246.8,285.9 247.9,284.1 249.0,283.5 250.1,284.9 251.2,285.7 252.3,284.3 253.4,284.0 254.5,285.4 255.6,285.5 256.7,283.7 257.8,283.8 258.9,285.3 260.0,285.8 261.1,283.8 262.2,285.3 263.3,285.4 264.4,283.4 265.5,285.5 266.6,284.8 267.7,283.6 268.8,283.7 269.9,284.1 271.0,285.5 272.1,283.7 273.2,285.1 274.3,286.0 275.4,285.1 276.5,285.5 277.6,283.6 278.7,286.3 279.8,286.3 280.9,286.0 282.0,284.0 283.1,285.1 284.2,285.6 285.3,283.6 286.4,283.6 287.5,286.1 288.6,285.0 289.5,284.8 289.5,299.2 172.0,299.2" fill="#94481a" opacity="0.55"/>
<polygon points="172.0,292.0 173.1,290.7 174.2,290.4 175.3,290.5 176.4,291.3 177.5,292.0 178.6,290.2 179.7,289.6 180.8,290.0 181.9,289.0 183.0,290.9 184.1,292.0 185.2,289.4 186.3,291.2 187.4,289.4 188.5,291.7 189.6,290.5 190.7,290.0 191.8,288.8 192.9,289.2 194.0,291.6 195.1,289.3 196.2,290.7 197.3,290.5 198.4,290.1 199.5,290.9 200.6,289.0 201.7,290.8 202.8,288.8 203.9,289.3 205.0,290.8 206.1,289.2 207.2,289.0 208.3,290.2 209.4,290.6 210.5,288.6 211.6,290.7 212.7,290.4 213.8,288.5 214.9,290.3 216.0,288.5 217.1,290.3 218.2,290.4 219.3,289.7 220.4,289.6 221.5,291.0 222.6,289.1 223.7,289.9 224.8,290.0 225.9,288.6 227.0,291.3 228.1,289.1 229.2,292.1 230.3,292.2 231.4,290.9 232.5,290.5 233.6,290.0 234.7,288.3 235.8,289.3 236.9,286.5 238.0,289.0 239.1,289.1 240.2,286.9 241.3,288.0 242.4,286.5 243.5,288.2 244.6,288.6 245.7,287.3 246.8,288.9 247.9,287.1 249.0,286.5 250.1,287.9 251.2,288.7 252.3,287.3 253.4,287.0 254.5,288.4 255.6,288.5 256.7,286.7 257.8,286.8 258.9,288.3 260.0,288.8 261.1,286.8 262.2,288.3 263.3,288.4 264.4,286.4 265.5,288.5 266.6,287.8 267.7,286.6 268.8,286.7 269.9,287.1 271.0,288.5 272.1,286.7 273.2,288.1 274.3,289.0 275.4,288.1 276.5,288.5 277.6,286.6 278.7,289.3 279.8,289.3 280.9,289.0 282.0,287.0 283.1,288.1 284.2,288.6 285.3,286.6 286.4,286.6 287.5,289.1 288.6,288.0 289.5,287.8 289.5,299.2 172.0,299.2" fill="#a01a1a" />
<path d="M208.2 285.6V298.2 M239.9 285.6V298.2 M203.2 285.6V298.2 M266.9 285.6V298.2 M226.9 285.6V298.2 M211.1 285.6V298.2 M277.4 285.6V298.2 M265.1 285.6V298.2 M273.0 285.6V298.2 M250.2 285.6V298.2 M193.8 285.6V298.2 M217.8 285.6V298.2 M200.1 285.6V298.2 M265.2 285.6V298.2 M173.1 285.6V298.2 M264.9 285.6V298.2 M191.6 285.6V298.2 M208.0 285.6V298.2 M245.9 285.6V298.2 M251.3 285.6V298.2 M232.2 285.6V298.2 M237.4 285.6V298.2 M241.2 285.6V298.2 M242.5 285.6V298.2 M184.7 285.6V298.2 M207.5 285.6V298.2 M174.4 285.6V298.2 M238.6 285.6V298.2 M206.6 285.6V298.2 M200.5 285.6V298.2" stroke="#600808" stroke-opacity="0.18" stroke-width="0.8"/>
<polygon points="172.0,274.2 173.3,273.8 174.6,274.1 175.9,274.0 177.2,274.2 178.5,273.9 179.8,274.1 181.1,273.8 182.4,274.2 183.7,273.9 185.0,273.8 186.3,273.9 187.6,274.0 188.9,273.7 190.2,273.9 191.5,273.7 192.8,273.7 194.1,273.8 195.4,273.8 196.7,273.8 198.0,274.0 199.3,273.8 200.6,274.0 201.9,274.0 203.2,274.0 204.5,274.0 205.8,273.9 207.1,273.9 208.4,274.0 209.7,273.9 211.0,273.7 212.3,273.8 213.6,273.8 214.9,273.7 216.2,273.6 217.5,273.7 218.8,273.9 220.1,273.9 221.4,273.9 222.7,273.8 224.0,273.6 225.3,273.6 226.6,273.8 227.9,273.8 229.2,273.7 230.5,273.6 231.8,273.6 233.1,273.6 234.4,273.6 235.7,273.8 237.0,273.6 238.3,273.7 239.6,273.7 240.9,273.7 242.2,273.8 243.5,273.8 244.8,273.5 246.1,273.9 247.4,273.8 248.7,273.8 250.0,273.6 251.3,273.8 252.6,273.8 253.9,273.5 255.2,273.7 256.5,273.8 257.8,273.7 259.1,273.8 260.4,273.6 261.7,273.7 263.0,273.4 264.3,273.7 265.6,273.5 266.9,273.7 268.2,273.7 269.5,273.5 270.8,273.4 272.1,273.4 273.4,273.6 274.7,273.4 276.0,273.7 277.3,273.6 278.6,273.5 279.9,273.6 281.2,273.4 282.5,273.5 283.8,273.3 285.1,273.5 286.4,273.6 287.7,273.4 289.0,273.6 289.5,273.5 289.5,279.1 289.0,278.9 287.7,279.2 286.4,279.4 285.1,279.2 283.8,278.8 282.5,279.7 281.2,278.6 279.9,279.1 278.6,279.0 277.3,279.9 276.0,278.8 274.7,278.8 273.4,279.4 272.1,279.8 270.8,278.9 269.5,279.3 268.2,279.5 266.9,279.9 265.6,279.0 264.3,279.1 263.0,279.1 261.7,279.4 260.4,279.1 259.1,279.7 257.8,279.0 256.5,278.9 255.2,279.4 253.9,279.4 252.6,279.9 251.3,279.3 250.0,279.2 248.7,279.1 247.4,280.2 246.1,279.7 244.8,279.6 243.5,279.9 242.2,279.9 240.9,279.8 239.6,279.3 238.3,280.3 237.0,279.2 235.7,279.6 234.4,279.4 233.1,279.6 231.8,282.1 230.5,284.8 229.2,281.6 227.9,280.2 226.6,280.0 225.3,279.1 224.0,279.3 222.7,279.4 221.4,280.5 220.1,279.6 218.8,279.4 217.5,280.3 216.2,279.7 214.9,280.2 213.6,280.2 212.3,279.5 211.0,279.7 209.7,279.7 208.4,280.1 207.1,279.3 205.8,279.5 204.5,279.2 203.2,280.5 201.9,280.1 200.6,279.6 199.3,280.1 198.0,279.9 196.7,279.3 195.4,279.5 194.1,279.8 192.8,279.7 191.5,279.4 190.2,280.2 188.9,279.5 187.6,280.2 186.3,280.6 185.0,279.4 183.7,279.2 182.4,280.4 181.1,280.2 179.8,280.2 178.5,279.9 177.2,280.5 175.9,280.2 174.6,279.8 173.3,280.4 172.0,280.1" fill="#8a6414" />
<polygon points="172.0,274.2 173.3,273.8 174.6,274.1 175.9,274.0 177.2,274.2 178.5,273.9 179.8,274.1 181.1,273.8 182.4,274.2 183.7,273.9 185.0,273.8 186.3,273.9 187.6,274.0 188.9,273.7 190.2,273.9 191.5,273.7 192.8,273.7 194.1,273.8 195.4,273.8 196.7,273.8 198.0,274.0 199.3,273.8 200.6,274.0 201.9,274.0 203.2,274.0 204.5,274.0 205.8,273.9 207.1,273.9 208.4,274.0 209.7,273.9 211.0,273.7 212.3,273.8 213.6,273.8 214.9,273.7 216.2,273.6 217.5,273.7 218.8,273.9 220.1,273.9 221.4,273.9 222.7,273.8 224.0,273.6 225.3,273.6 226.6,273.8 227.9,273.8 229.2,273.7 230.5,273.6 231.8,273.6 233.1,273.6 234.4,273.6 235.7,273.8 237.0,273.6 238.3,273.7 239.6,273.7 240.9,273.7 242.2,273.8 243.5,273.8 244.8,273.5 246.1,273.9 247.4,273.8 248.7,273.8 250.0,273.6 251.3,273.8 252.6,273.8 253.9,273.5 255.2,273.7 256.5,273.8 257.8,273.7 259.1,273.8 260.4,273.6 261.7,273.7 263.0,273.4 264.3,273.7 265.6,273.5 266.9,273.7 268.2,273.7 269.5,273.5 270.8,273.4 272.1,273.4 273.4,273.6 274.7,273.4 276.0,273.7 277.3,273.6 278.6,273.5 279.9,273.6 281.2,273.4 282.5,273.5 283.8,273.3 285.1,273.5 286.4,273.6 287.7,273.4 289.0,273.6 289.5,273.5 289.5,277.3 289.0,277.1 287.7,277.4 286.4,277.6 285.1,277.4 283.8,277.0 282.5,277.9 281.2,276.8 279.9,277.3 278.6,277.2 277.3,278.1 276.0,277.0 274.7,277.0 273.4,277.6 272.1,278.0 270.8,277.1 269.5,277.5 268.2,277.7 266.9,278.1 265.6,277.2 264.3,277.3 263.0,277.3 261.7,277.6 260.4,277.3 259.1,277.9 257.8,277.2 256.5,277.1 255.2,277.6 253.9,277.6 252.6,278.1 251.3,277.5 250.0,277.4 248.7,277.3 247.4,278.4 246.1,277.9 244.8,277.8 243.5,278.1 242.2,278.1 240.9,278.0 239.6,277.5 238.3,278.5 237.0,277.4 235.7,277.8 234.4,277.6 233.1,277.8 231.8,280.3 230.5,283.0 229.2,279.8 227.9,278.4 226.6,278.2 225.3,277.3 224.0,277.5 222.7,277.6 221.4,278.7 220.1,277.8 218.8,277.6 217.5,278.5 216.2,277.9 214.9,278.4 213.6,278.4 212.3,277.7 211.0,277.9 209.7,277.9 208.4,278.3 207.1,277.5 205.8,277.7 204.5,277.4 203.2,278.7 201.9,278.3 200.6,277.8 199.3,278.3 198.0,278.1 196.7,277.5 195.4,277.7 194.1,278.0 192.8,277.9 191.5,277.6 190.2,278.4 188.9,277.7 187.6,278.4 186.3,278.8 185.0,277.6 183.7,277.4 182.4,278.6 181.1,278.4 179.8,278.4 178.5,278.1 177.2,278.7 175.9,278.4 174.6,278.0 173.3,278.6 172.0,278.3" fill="#e4dc00" />
<polygon points="172.0,274.6 173.3,274.2 174.6,274.5 175.9,274.4 177.2,274.6 178.5,274.3 179.8,274.5 181.1,274.2 182.4,274.6 183.7,274.3 185.0,274.2 186.3,274.3 187.6,274.4 188.9,274.1 190.2,274.3 191.5,274.1 192.8,274.1 194.1,274.2 195.4,274.2 196.7,274.2 198.0,274.4 199.3,274.2 200.6,274.4 201.9,274.4 203.2,274.4 204.5,274.4 205.8,274.3 207.1,274.3 208.4,274.4 209.7,274.3 211.0,274.1 212.3,274.2 213.6,274.2 214.9,274.1 216.2,274.0 217.5,274.1 218.8,274.3 220.1,274.3 221.4,274.3 222.7,274.2 224.0,274.0 225.3,274.0 226.6,274.2 227.9,274.2 229.2,274.1 230.5,274.0 231.8,274.0 233.1,274.0 234.4,274.0 235.7,274.2 237.0,274.0 238.3,274.1 239.6,274.1 240.9,274.1 242.2,274.2 243.5,274.2 244.8,273.9 246.1,274.3 247.4,274.2 248.7,274.2 250.0,274.0 251.3,274.2 252.6,274.2 253.9,273.9 255.2,274.1 256.5,274.2 257.8,274.1 259.1,274.2 260.4,274.0 261.7,274.1 263.0,273.8 264.3,274.1 265.6,273.9 266.9,274.1 268.2,274.1 269.5,273.9 270.8,273.8 272.1,273.8 273.4,274.0 274.7,273.8 276.0,274.1 277.3,274.0 278.6,273.9 279.9,274.0 281.2,273.8 282.5,273.9 283.8,273.7 285.1,273.9 286.4,274.0 287.7,273.8 289.0,274.0 289.5,273.9 289.5,274.8 289.0,274.9 287.7,274.7 286.4,274.9 285.1,274.8 283.8,274.6 282.5,274.8 281.2,274.7 279.9,274.9 278.6,274.8 277.3,274.9 276.0,275.0 274.7,274.7 273.4,274.9 272.1,274.7 270.8,274.7 269.5,274.8 268.2,275.0 266.9,275.0 265.6,274.8 264.3,275.0 263.0,274.7 261.7,275.0 260.4,274.9 259.1,275.1 257.8,275.0 256.5,275.1 255.2,275.0 253.9,274.8 252.6,275.1 251.3,275.1 250.0,274.9 248.7,275.1 247.4,275.1 246.1,275.2 244.8,274.8 243.5,275.1 242.2,275.1 240.9,275.0 239.6,275.0 238.3,275.0 237.0,274.9 235.7,275.1 234.4,274.9 233.1,274.9 231.8,274.9 230.5,274.9 229.2,275.0 227.9,275.1 226.6,275.1 225.3,274.9 224.0,274.9 222.7,275.1 221.4,275.2 220.1,275.2 218.8,275.2 217.5,275.0 216.2,274.9 214.9,275.0 213.6,275.1 212.3,275.1 211.0,275.0 209.7,275.2 208.4,275.3 207.1,275.2 205.8,275.2 204.5,275.3 203.2,275.3 201.9,275.3 200.6,275.3 199.3,275.1 198.0,275.3 196.7,275.1 195.4,275.1 194.1,275.1 192.8,275.0 191.5,275.0 190.2,275.2 188.9,275.0 187.6,275.3 186.3,275.2 185.0,275.1 183.7,275.2 182.4,275.5 181.1,275.1 179.8,275.4 178.5,275.2 177.2,275.5 175.9,275.3 174.6,275.4 173.3,275.1 172.0,275.5" fill="#a8a010" opacity="0.8"/>
<polygon points="172.0,276.1 173.3,276.4 174.6,275.8 175.9,276.2 177.2,276.5 178.5,275.9 179.8,276.2 181.1,276.2 182.4,276.4 183.7,275.2 185.0,275.4 186.3,276.6 187.6,276.2 188.9,275.5 190.2,276.2 191.5,275.4 192.8,275.7 194.1,275.8 195.4,275.5 196.7,275.3 198.0,275.9 199.3,276.1 200.6,275.6 201.9,276.1 203.2,276.5 204.5,275.2 205.8,275.5 207.1,275.3 208.4,276.1 209.7,275.7 211.0,275.7 212.3,275.5 213.6,276.2 214.9,276.2 216.2,275.7 217.5,276.3 218.8,275.4 220.1,275.6 221.4,276.5 222.7,275.4 224.0,275.3 225.3,275.1 226.6,276.0 227.9,276.2 229.2,277.6 230.5,280.8 231.8,278.1 233.1,275.6 234.4,275.4 235.7,275.6 237.0,275.2 238.3,276.3 239.6,275.3 240.9,275.8 242.2,275.9 243.5,275.9 244.8,275.6 246.1,275.7 247.4,276.2 248.7,275.1 250.0,275.2 251.3,275.3 252.6,275.9 253.9,275.4 255.2,275.4 256.5,274.9 257.8,275.0 259.1,275.7 260.4,275.1 261.7,275.4 263.0,275.1 264.3,275.1 265.6,275.0 266.9,275.9 268.2,275.5 269.5,275.3 270.8,274.9 272.1,275.8 273.4,275.4 274.7,274.8 276.0,274.8 277.3,275.9 278.6,275.0 279.9,275.1 281.2,274.6 282.5,275.7 283.8,274.8 285.1,275.2 286.4,275.4 287.7,275.2 289.0,274.9 289.5,275.1 289.5,275.9 289.0,275.7 287.7,276.0 286.4,276.2 285.1,276.0 283.8,275.6 282.5,276.5 281.2,275.4 279.9,275.9 278.6,275.8 277.3,276.7 276.0,275.6 274.7,275.6 273.4,276.2 272.1,276.6 270.8,275.7 269.5,276.1 268.2,276.3 266.9,276.7 265.6,275.8 264.3,275.9 263.0,275.9 261.7,276.2 260.4,275.9 259.1,276.5 257.8,275.8 256.5,275.7 255.2,276.2 253.9,276.2 252.6,276.7 251.3,276.1 250.0,276.0 248.7,275.9 247.4,277.0 246.1,276.5 244.8,276.4 243.5,276.7 242.2,276.7 240.9,276.6 239.6,276.1 238.3,277.1 237.0,276.0 235.7,276.4 234.4,276.2 233.1,276.4 231.8,278.9 230.5,281.6 229.2,278.4 227.9,277.0 226.6,276.8 225.3,275.9 224.0,276.1 222.7,276.2 221.4,277.3 220.1,276.4 218.8,276.2 217.5,277.1 216.2,276.5 214.9,277.0 213.6,277.0 212.3,276.3 211.0,276.5 209.7,276.5 208.4,276.9 207.1,276.1 205.8,276.3 204.5,276.0 203.2,277.3 201.9,276.9 200.6,276.4 199.3,276.9 198.0,276.7 196.7,276.1 195.4,276.3 194.1,276.6 192.8,276.5 191.5,276.2 190.2,277.0 188.9,276.3 187.6,277.0 186.3,277.4 185.0,276.2 183.7,276.0 182.4,277.2 181.1,277.0 179.8,277.0 178.5,276.7 177.2,277.3 175.9,277.0 174.6,276.6 173.3,277.2 172.0,276.9" fill="#b0a010" opacity="0.45"/>
<polygon points="172.0,271.6 289.5,271.6 289.5,273.5 289.0,273.6 287.7,273.4 286.4,273.6 285.1,273.5 283.8,273.3 282.5,273.5 281.2,273.4 279.9,273.6 278.6,273.5 277.3,273.6 276.0,273.7 274.7,273.4 273.4,273.6 272.1,273.4 270.8,273.4 269.5,273.5 268.2,273.7 266.9,273.7 265.6,273.5 264.3,273.7 263.0,273.4 261.7,273.7 260.4,273.6 259.1,273.8 257.8,273.7 256.5,273.8 255.2,273.7 253.9,273.5 252.6,273.8 251.3,273.8 250.0,273.6 248.7,273.8 247.4,273.8 246.1,273.9 244.8,273.5 243.5,273.8 242.2,273.8 240.9,273.7 239.6,273.7 238.3,273.7 237.0,273.6 235.7,273.8 234.4,273.6 233.1,273.6 231.8,273.6 230.5,273.6 229.2,273.7 227.9,273.8 226.6,273.8 225.3,273.6 224.0,273.6 222.7,273.8 221.4,273.9 220.1,273.9 218.8,273.9 217.5,273.7 216.2,273.6 214.9,273.7 213.6,273.8 212.3,273.8 211.0,273.7 209.7,273.9 208.4,274.0 207.1,273.9 205.8,273.9 204.5,274.0 203.2,274.0 201.9,274.0 200.6,274.0 199.3,273.8 198.0,274.0 196.7,273.8 195.4,273.8 194.1,273.8 192.8,273.7 191.5,273.7 190.2,273.9 188.9,273.7 187.6,274.0 186.3,273.9 185.0,273.8 183.7,273.9 182.4,274.2 181.1,273.8 179.8,274.1 178.5,273.9 177.2,274.2 175.9,274.0 174.6,274.1 173.3,273.8 172.0,274.2" fill="#16c024" />
<polygon points="172.0,270.1 289.5,270.1 289.5,271.3 172.0,271.3" fill="#2a6cd4" />
<polygon points="172.0,271.3 289.5,271.3 289.5,271.8 172.0,271.8" fill="#30b8b0" />
<polygon points="226.0,282.0 234.0,282.0 231.3,298.2 229.3,298.2" fill="#7a3c10" opacity="0.55"/>
<polygon points="229.5,272.6 231.5,272.6 231.0,289.0 230.8,298.2 230.2,298.2 230.0,289.0" fill="#b0a018" opacity="0.9"/>
<polygon points="230.1,264.6 230.9,264.6 231.0,272.6 230.0,272.6" fill="#20b060" opacity="0.8"/>
</g>
</g>
<g clip-path="url(#cl12)">
<g filter="url(#soft)">
<polygon points="293.3,270.9 295.2,249.5 297.1,270.9" fill="url(#gH)" opacity="0.85"/>
<polygon points="296.4,270.9 298.5,247.3 300.6,270.9" fill="url(#gH)" opacity="0.85"/>
<polygon points="299.0,270.9 300.8,252.0 301.2,252.0 303.0,270.9" fill="url(#gM)" />
<polygon points="306.6,270.9 308.7,249.5 310.8,270.9" fill="url(#gH)" opacity="0.85"/>
<polygon points="309.8,270.9 311.9,247.3 314.0,270.9" fill="url(#gH)" opacity="0.85"/>
<polygon points="316.2,270.9 318.4,250.2 320.5,270.9" fill="url(#gH)" opacity="0.85"/>
<polygon points="320.9,270.9 323.5,249.5 326.1,270.9" fill="url(#gH)" opacity="0.85"/>
<polygon points="331.0,270.9 332.8,248.3 333.2,248.3 335.0,270.9" fill="url(#gM)" />
<polygon points="335.2,270.9 337.3,243.7 339.4,270.9" fill="url(#gH)" opacity="0.85"/>
<polygon points="340.2,270.9 342.4,247.3 344.5,270.9" fill="url(#gH)" opacity="0.85"/>
<polygon points="343.9,270.9 346.0,247.5 348.1,270.9" fill="url(#gH)" opacity="0.85"/>
<polygon points="348.9,270.9 350.8,241.5 352.7,270.9" fill="url(#gH)" opacity="0.85"/>
<polygon points="355.1,270.9 356.9,252.0 358.7,270.9" fill="url(#gP)" />
<polygon points="360.1,270.9 362.2,244.2 364.3,270.9" fill="url(#gH)" opacity="0.85"/>
<polygon points="363.1,270.9 365.1,250.0 365.5,250.0 367.6,270.9" fill="url(#gM)" />
<polygon points="366.2,270.9 368.3,244.9 370.4,270.9" fill="url(#gH)" opacity="0.85"/>
<polygon points="372.6,270.9 374.4,252.0 376.2,270.9" fill="url(#gP)" />
<polygon points="376.1,270.9 378.2,247.2 380.3,270.9" fill="url(#gH)" opacity="0.85"/>
<polygon points="294.2,270.9 294.9,252.0 295.4,252.0 296.2,270.9" fill="url(#gB)" />
<polygon points="297.3,270.9 298.2,249.8 298.8,249.8 299.7,270.9" fill="url(#gB)" />
<polygon points="300.5,270.9 301.0,260.5 301.5,270.9" fill="#7a24d8" opacity="0.65"/>
<polygon points="307.5,270.9 308.4,252.0 308.9,252.0 309.9,270.9" fill="url(#gB)" />
<polygon points="310.7,270.9 311.6,249.8 312.1,249.8 313.1,270.9" fill="url(#gB)" />
<polygon points="317.2,270.9 318.1,252.7 318.6,252.7 319.6,270.9" fill="url(#gB)" />
<polygon points="321.8,270.9 323.2,252.0 323.8,252.0 325.2,270.9" fill="url(#gB)" />
<polygon points="332.5,270.9 333.0,258.5 333.5,270.9" fill="#7a24d8" opacity="0.65"/>
<polygon points="336.1,270.9 337.1,246.2 337.6,246.2 338.5,270.9" fill="url(#gT)" />
<polygon points="341.2,270.9 342.1,249.8 342.6,249.8 343.6,270.9" fill="url(#gB)" />
<polygon points="344.8,270.9 345.8,250.0 346.2,250.0 347.2,270.9" fill="url(#gB)" />
<polygon points="349.8,270.9 350.6,244.0 351.1,244.0 351.8,270.9" fill="url(#gT)" />
<polygon points="361.0,270.9 361.9,246.7 362.4,246.7 363.4,270.9" fill="url(#gB)" />
<polygon points="364.7,270.9 365.3,259.4 365.9,270.9" fill="#7a24d8" opacity="0.65"/>
<polygon points="367.1,270.9 368.1,247.4 368.6,247.4 369.5,270.9" fill="url(#gB)" />
<polygon points="377.0,270.9 377.9,249.7 378.4,249.7 379.4,270.9" fill="url(#gB)" />
<polygon points="372.8,270.9 375.3,249.0 375.7,249.0 378.2,270.9" fill="url(#gM)" />
<polygon points="376.5,270.9 378.8,247.0 379.2,247.0 381.5,270.9" fill="url(#gM)" />
<polygon points="374.6,270.9 375.5,258.9 376.4,270.9" fill="#7a24d8" opacity="0.65"/>
<polygon points="378.2,270.9 379.0,257.8 379.8,270.9" fill="#7a24d8" opacity="0.65"/>
<polygon points="378.6,270.9 381.3,246.9 384.0,270.9" fill="url(#gH)" opacity="0.85"/>
<polygon points="381.3,270.9 383.7,244.7 386.2,270.9" fill="url(#gH)" opacity="0.85"/>
<polygon points="383.3,270.9 385.9,245.0 388.5,270.9" fill="url(#gH)" opacity="0.85"/>
<polygon points="385.8,270.9 388.2,244.8 390.6,270.9" fill="url(#gH)" opacity="0.85"/>
<polygon points="387.3,270.9 390.0,244.4 392.7,270.9" fill="url(#gH)" opacity="0.85"/>
<polygon points="389.1,270.9 391.7,244.6 394.3,270.9" fill="url(#gH)" opacity="0.85"/>
<polygon points="391.4,270.9 393.8,244.1 396.3,270.9" fill="url(#gH)" opacity="0.85"/>
<polygon points="393.0,270.9 395.5,248.1 398.0,270.9" fill="url(#gH)" opacity="0.85"/>
<polygon points="394.7,270.9 397.5,246.2 400.2,270.9" fill="url(#gH)" opacity="0.85"/>
<polygon points="396.5,270.9 399.1,245.1 401.7,270.9" fill="url(#gH)" opacity="0.85"/>
<polygon points="398.1,270.9 400.7,245.7 403.2,270.9" fill="url(#gH)" opacity="0.85"/>
<polygon points="399.9,270.9 402.6,243.9 405.3,270.9" fill="url(#gH)" opacity="0.85"/>
<polygon points="401.9,270.9 404.2,246.2 406.6,270.9" fill="url(#gH)" opacity="0.85"/>
<polygon points="403.4,270.9 405.8,245.2 408.1,270.9" fill="url(#gH)" opacity="0.85"/>
<polygon points="404.7,270.9 407.4,243.5 410.0,270.9" fill="url(#gH)" opacity="0.85"/>
<polygon points="406.8,270.9 409.3,243.2 411.8,270.9" fill="url(#gH)" opacity="0.85"/>
<polygon points="408.5,270.9 410.9,243.2 413.3,270.9" fill="url(#gH)" opacity="0.85"/>
<polygon points="381.8,270.9 381.3,255.1 382.8,254.3 384.3,253.5 385.8,251.8 387.3,253.6 388.8,253.2 390.3,252.3 391.8,249.9 393.3,250.4 394.8,252.4 396.3,254.1 397.8,251.6 399.3,251.4 400.8,250.7 402.3,252.6 403.8,253.3 405.3,251.1 406.8,252.1 408.3,248.7 409.8,250.9 411.3,251.1 412.0,250.0 411.5,270.9" fill="#1c1cb8" />
<polygon points="379.6,270.9 381.1,249.4 381.6,249.4 383.0,270.9" fill="url(#gBlk)" />
<polygon points="382.3,270.9 383.5,247.2 384.0,247.2 385.2,270.9" fill="url(#gBlk)" />
<polygon points="384.2,270.9 385.6,247.5 386.1,247.5 387.6,270.9" fill="url(#gBlk)" />
<polygon points="386.7,270.9 387.9,247.3 388.4,247.3 389.6,270.9" fill="url(#gBlk)" />
<polygon points="388.3,270.9 389.8,246.9 390.3,246.9 391.8,270.9" fill="url(#gBlk)" />
<polygon points="390.0,270.9 391.4,247.1 391.9,247.1 393.3,270.9" fill="url(#gBlk)" />
<polygon points="392.3,270.9 393.6,246.6 394.1,246.6 395.3,270.9" fill="url(#gBlk)" />
<polygon points="394.0,270.9 395.3,250.6 395.8,250.6 397.1,270.9" fill="url(#gBlk)" />
<polygon points="395.7,270.9 397.2,248.7 397.7,248.7 399.2,270.9" fill="url(#gBlk)" />
<polygon points="397.4,270.9 398.8,247.6 399.3,247.6 400.7,270.9" fill="url(#gBlk)" />
<polygon points="399.1,270.9 400.4,248.2 400.9,248.2 402.3,270.9" fill="url(#gBlk)" />
<polygon points="400.9,270.9 402.4,246.4 402.9,246.4 404.4,270.9" fill="url(#gBlk)" />
<polygon points="402.9,270.9 404.0,248.7 404.5,248.7 405.6,270.9" fill="url(#gBlk)" />
<polygon points="404.4,270.9 405.5,247.7 406.0,247.7 407.2,270.9" fill="url(#gBlk)" />
<polygon points="405.7,270.9 407.1,246.0 407.6,246.0 409.0,270.9" fill="url(#gBlk)" />
<polygon points="407.8,270.9 409.1,245.7 409.6,245.7 410.9,270.9" fill="url(#gBlk)" />
<polygon points="409.5,270.9 410.7,245.7 411.2,245.7 412.4,270.9" fill="url(#gBlk)" />
<polygon points="382.6,270.9 383.8,263.4 384.2,263.4 385.4,270.9" fill="#2a80c8" opacity="1.0"/>
<polygon points="384.9,270.9 386.1,263.5 386.5,263.5 387.8,270.9" fill="#26a0c4" opacity="1.0"/>
<polygon points="387.8,270.9 388.6,264.1 389.0,264.1 389.9,270.9" fill="#30c0d0" opacity="1.0"/>
<polygon points="390.4,270.9 391.5,262.1 391.9,262.1 393.0,270.9" fill="#2a80c8" opacity="1.0"/>
<polygon points="393.6,270.9 394.5,260.7 394.9,260.7 395.8,270.9" fill="#2a80c8" opacity="1.0"/>
<polygon points="396.1,270.9 396.8,261.1 397.2,261.1 397.8,270.9" fill="#30c0d0" opacity="1.0"/>
<polygon points="398.7,270.9 399.9,260.1 400.3,260.1 401.4,270.9" fill="#26a0c4" opacity="1.0"/>
<polygon points="401.9,270.9 402.5,262.0 402.9,262.0 403.5,270.9" fill="#2a80c8" opacity="1.0"/>
<polygon points="404.6,270.9 405.6,257.3 406.0,257.3 406.9,270.9" fill="#2a80c8" opacity="1.0"/>
<polygon points="406.2,270.9 407.3,259.0 407.7,259.0 408.8,270.9" fill="#30c0d0" opacity="1.0"/>
<polygon points="409.4,270.9 410.3,258.7 410.7,258.7 411.6,270.9" fill="#26a0c4" opacity="1.0"/>
<polygon points="294.0,270.9 411.0,270.9 411.0,299.2 294.0,299.2" fill="url(#gOr)" />
<path d="M351.9 274.9V298.2 M359.1 274.9V298.2 M388.7 274.9V298.2 M331.5 274.9V298.2 M331.6 274.9V298.2 M375.1 274.9V298.2 M350.9 274.9V298.2 M336.0 274.9V298.2 M341.4 274.9V298.2 M332.6 274.9V298.2 M313.6 274.9V298.2 M367.9 274.9V298.2 M398.6 274.9V298.2 M374.6 274.9V298.2 M368.3 274.9V298.2 M333.5 274.9V298.2 M344.7 274.9V298.2 M310.9 274.9V298.2 M379.3 274.9V298.2 M328.7 274.9V298.2 M328.1 274.9V298.2 M408.7 274.9V298.2 M333.8 274.9V298.2 M408.5 274.9V298.2 M366.3 274.9V298.2 M383.1 274.9V298.2 M367.5 274.9V298.2 M314.9 274.9V298.2 M377.4 274.9V298.2 M324.3 274.9V298.2 M341.7 274.9V298.2 M309.3 274.9V298.2 M300.8 274.9V298.2 M337.0 274.9V298.2 M295.6 274.9V298.2 M339.1 274.9V298.2 M393.5 274.9V298.2 M410.8 274.9V298.2 M343.5 274.9V298.2 M306.6 274.9V298.2 M334.5 274.9V298.2 M301.5 274.9V298.2 M319.4 274.9V298.2 M366.7 274.9V298.2 M366.2 274.9V298.2" stroke="#7a3a0c" stroke-opacity="0.25" stroke-width="0.8"/>
<polygon points="294.0,284.8 295.1,285.8 296.2,285.3 297.3,285.8 298.4,285.3 299.5,287.0 300.6,286.2 301.7,286.7 302.8,287.2 303.9,286.0 305.0,285.9 306.1,285.0 307.2,286.8 308.3,284.8 309.4,285.6 310.5,285.1 311.6,286.6 312.7,285.9 313.8,286.0 314.9,286.1 316.0,287.0 317.1,287.3 318.2,285.6 319.3,287.1 320.4,286.6 321.5,286.6 322.6,287.3 323.7,285.2 324.8,285.5 325.9,286.0 327.0,285.5 328.1,285.4 329.2,285.2 330.3,287.2 331.4,287.3 332.5,287.1 333.6,286.8 334.7,285.7 335.8,285.5 336.9,285.7 338.0,284.6 339.1,284.9 340.2,285.9 341.3,285.8 342.4,286.4 343.5,286.2 344.6,284.9 345.7,287.0 346.8,285.8 347.9,285.9 349.0,285.6 350.1,285.7 351.2,288.6 352.3,290.1 353.4,286.8 354.5,287.3 355.6,285.4 356.7,284.9 357.8,283.3 358.9,284.9 360.0,283.9 361.1,283.5 362.2,282.2 363.3,283.5 364.4,282.4 365.5,282.6 366.6,284.0 367.7,282.4 368.8,283.5 369.9,282.1 371.0,281.2 372.1,281.8 373.2,281.0 374.3,280.7 375.4,282.0 376.5,281.9 377.6,280.2 378.7,281.6 379.8,280.9 380.9,279.4 382.0,279.3 383.1,280.8 384.2,281.2 385.3,280.7 386.4,279.9 387.5,278.2 388.6,279.9 389.7,277.8 390.8,279.8 391.9,277.8 393.0,280.3 394.1,278.9 395.2,278.2 396.3,277.8 397.4,278.3 398.5,279.5 399.6,278.3 400.7,277.7 401.8,279.6 402.9,277.9 404.0,277.9 405.1,278.0 406.2,277.9 407.3,278.1 408.4,277.6 409.5,277.5 410.6,277.7 411.0,278.8 411.0,299.2 294.0,299.2" fill="#94481a" opacity="0.55"/>
<polygon points="294.0,287.8 295.1,288.8 296.2,288.3 297.3,288.8 298.4,288.3 299.5,290.0 300.6,289.2 301.7,289.7 302.8,290.2 303.9,289.0 305.0,288.9 306.1,288.0 307.2,289.8 308.3,287.8 309.4,288.6 310.5,288.1 311.6,289.6 312.7,288.9 313.8,289.0 314.9,289.1 316.0,290.0 317.1,290.3 318.2,288.6 319.3,290.1 320.4,289.6 321.5,289.6 322.6,290.3 323.7,288.2 324.8,288.5 325.9,289.0 327.0,288.5 328.1,288.4 329.2,288.2 330.3,290.2 331.4,290.3 332.5,290.1 333.6,289.8 334.7,288.7 335.8,288.5 336.9,288.7 338.0,287.6 339.1,287.9 340.2,288.9 341.3,288.8 342.4,289.4 343.5,289.2 344.6,287.9 345.7,290.0 346.8,288.8 347.9,288.9 349.0,288.6 350.1,288.7 351.2,291.6 352.3,293.1 353.4,289.8 354.5,290.3 355.6,288.4 356.7,287.9 357.8,286.3 358.9,287.9 360.0,286.9 361.1,286.5 362.2,285.2 363.3,286.5 364.4,285.4 365.5,285.6 366.6,287.0 367.7,285.4 368.8,286.5 369.9,285.1 371.0,284.2 372.1,284.8 373.2,284.0 374.3,283.7 375.4,285.0 376.5,284.9 377.6,283.2 378.7,284.6 379.8,283.9 380.9,282.4 382.0,282.3 383.1,283.8 384.2,284.2 385.3,283.7 386.4,282.9 387.5,281.2 388.6,282.9 389.7,280.8 390.8,282.8 391.9,280.8 393.0,283.3 394.1,281.9 395.2,281.2 396.3,280.8 397.4,281.3 398.5,282.5 399.6,281.3 400.7,280.7 401.8,282.6 402.9,280.9 404.0,280.9 405.1,281.0 406.2,280.9 407.3,281.1 408.4,280.6 409.5,280.5 410.6,280.7 411.0,281.8 411.0,299.2 294.0,299.2" fill="url(#gRedR)" />
<path d="M400.4 285.9V298.2 M328.4 285.9V298.2 M347.8 285.9V298.2 M310.0 285.9V298.2 M410.4 285.9V298.2 M312.1 285.9V298.2 M372.9 285.9V298.2 M364.0 285.9V298.2 M377.6 285.9V298.2 M342.0 285.9V298.2 M338.5 285.9V298.2 M340.8 285.9V298.2 M302.5 285.9V298.2 M331.4 285.9V298.2 M326.3 285.9V298.2 M385.4 285.9V298.2 M346.2 285.9V298.2 M305.3 285.9V298.2 M297.7 285.9V298.2 M334.5 285.9V298.2 M409.2 285.9V298.2 M297.0 285.9V298.2 M346.7 285.9V298.2 M384.0 285.9V298.2 M308.2 285.9V298.2 M388.0 285.9V298.2 M397.4 285.9V298.2 M390.7 285.9V298.2 M309.7 285.9V298.2 M402.9 285.9V298.2" stroke="#600808" stroke-opacity="0.18" stroke-width="0.8"/>
<polygon points="294.0,273.7 295.3,273.4 296.6,273.7 297.9,273.4 299.2,273.5 300.5,273.6 301.8,273.4 303.1,273.5 304.4,273.3 305.7,273.6 307.0,273.6 308.3,273.3 309.6,273.3 310.9,273.4 312.2,273.4 313.5,273.5 314.8,273.3 316.1,273.4 317.4,273.3 318.7,273.3 320.0,273.2 321.3,273.4 322.6,273.4 323.9,273.4 325.2,273.5 326.5,273.3 327.8,273.3 329.1,273.3 330.4,273.5 331.7,273.3 333.0,273.2 334.3,273.3 335.6,273.4 336.9,273.2 338.2,273.2 339.5,273.4 340.8,273.3 342.1,273.3 343.4,273.1 344.7,273.2 346.0,273.1 347.3,273.2 348.6,273.4 349.9,273.5 351.2,273.4 352.5,273.2 353.8,273.3 355.1,273.4 356.4,273.2 357.7,273.2 359.0,273.3 360.3,273.2 361.6,273.2 362.9,273.2 364.2,273.3 365.5,273.2 366.8,273.0 368.1,273.0 369.4,273.2 370.7,273.0 372.0,273.2 373.3,273.1 374.6,273.2 375.9,273.1 377.2,273.2 378.5,273.0 379.8,273.1 381.1,273.2 382.4,273.0 383.7,273.3 385.0,273.3 386.3,273.3 387.6,273.3 388.9,273.3 390.2,273.1 391.5,273.2 392.8,273.0 394.1,272.9 395.4,273.2 396.7,273.2 398.0,273.0 399.3,273.0 400.6,272.9 401.9,273.1 403.2,272.9 404.5,273.2 405.8,272.8 407.1,273.0 408.4,273.1 409.7,273.0 411.0,272.9 411.0,273.0 411.0,277.0 411.0,276.5 409.7,277.0 408.4,277.1 407.1,277.8 405.8,277.3 404.5,277.9 403.2,276.7 401.9,277.2 400.6,277.4 399.3,276.7 398.0,277.5 396.7,277.9 395.4,277.1 394.1,277.5 392.8,277.7 391.5,277.3 390.2,277.7 388.9,278.1 387.6,277.5 386.3,277.7 385.0,277.4 383.7,277.8 382.4,277.3 381.1,278.0 379.8,277.7 378.5,277.5 377.2,278.5 375.9,278.0 374.6,278.7 373.3,277.7 372.0,278.0 370.7,278.4 369.4,278.1 368.1,278.3 366.8,278.2 365.5,277.8 364.2,279.2 362.9,278.9 361.6,278.5 360.3,279.1 359.0,279.3 357.7,278.3 356.4,278.4 355.1,279.3 353.8,281.2 352.5,282.9 351.2,282.3 349.9,279.7 348.6,279.1 347.3,279.1 346.0,279.1 344.7,279.2 343.4,279.1 342.1,279.9 340.8,279.4 339.5,279.9 338.2,279.4 336.9,278.7 335.6,279.9 334.3,279.0 333.0,279.0 331.7,278.6 330.4,279.8 329.1,278.9 327.8,279.2 326.5,279.5 325.2,279.2 323.9,279.4 322.6,278.9 321.3,279.6 320.0,279.8 318.7,279.8 317.4,279.9 316.1,279.5 314.8,278.9 313.5,279.0 312.2,279.8 310.9,279.7 309.6,278.8 308.3,279.4 307.0,279.7 305.7,279.4 304.4,278.6 303.1,278.8 301.8,278.6 300.5,279.6 299.2,278.6 297.9,279.2 296.6,279.8 295.3,278.9 294.0,279.1" fill="#8a6414" />
<polygon points="294.0,273.7 295.3,273.4 296.6,273.7 297.9,273.4 299.2,273.5 300.5,273.6 301.8,273.4 303.1,273.5 304.4,273.3 305.7,273.6 307.0,273.6 308.3,273.3 309.6,273.3 310.9,273.4 312.2,273.4 313.5,273.5 314.8,273.3 316.1,273.4 317.4,273.3 318.7,273.3 320.0,273.2 321.3,273.4 322.6,273.4 323.9,273.4 325.2,273.5 326.5,273.3 327.8,273.3 329.1,273.3 330.4,273.5 331.7,273.3 333.0,273.2 334.3,273.3 335.6,273.4 336.9,273.2 338.2,273.2 339.5,273.4 340.8,273.3 342.1,273.3 343.4,273.1 344.7,273.2 346.0,273.1 347.3,273.2 348.6,273.4 349.9,273.5 351.2,273.4 352.5,273.2 353.8,273.3 355.1,273.4 356.4,273.2 357.7,273.2 359.0,273.3 360.3,273.2 361.6,273.2 362.9,273.2 364.2,273.3 365.5,273.2 366.8,273.0 368.1,273.0 369.4,273.2 370.7,273.0 372.0,273.2 373.3,273.1 374.6,273.2 375.9,273.1 377.2,273.2 378.5,273.0 379.8,273.1 381.1,273.2 382.4,273.0 383.7,273.3 385.0,273.3 386.3,273.3 387.6,273.3 388.9,273.3 390.2,273.1 391.5,273.2 392.8,273.0 394.1,272.9 395.4,273.2 396.7,273.2 398.0,273.0 399.3,273.0 400.6,272.9 401.9,273.1 403.2,272.9 404.5,273.2 405.8,272.8 407.1,273.0 408.4,273.1 409.7,273.0 411.0,272.9 411.0,273.0 411.0,275.2 411.0,274.7 409.7,275.2 408.4,275.3 407.1,276.0 405.8,275.5 404.5,276.1 403.2,274.9 401.9,275.4 400.6,275.6 399.3,274.9 398.0,275.7 396.7,276.1 395.4,275.3 394.1,275.7 392.8,275.9 391.5,275.5 390.2,275.9 388.9,276.3 387.6,275.7 386.3,275.9 385.0,275.6 383.7,276.0 382.4,275.5 381.1,276.2 379.8,275.9 378.5,275.7 377.2,276.7 375.9,276.2 374.6,276.9 373.3,275.9 372.0,276.2 370.7,276.6 369.4,276.3 368.1,276.5 366.8,276.4 365.5,276.0 364.2,277.4 362.9,277.1 361.6,276.7 360.3,277.3 359.0,277.5 357.7,276.5 356.4,276.6 355.1,277.5 353.8,279.4 352.5,281.1 351.2,280.5 349.9,277.9 348.6,277.3 347.3,277.3 346.0,277.3 344.7,277.4 343.4,277.3 342.1,278.1 340.8,277.6 339.5,278.1 338.2,277.6 336.9,276.9 335.6,278.1 334.3,277.2 333.0,277.2 331.7,276.8 330.4,278.0 329.1,277.1 327.8,277.4 326.5,277.7 325.2,277.4 323.9,277.6 322.6,277.1 321.3,277.8 320.0,278.0 318.7,278.0 317.4,278.1 316.1,277.7 314.8,277.1 313.5,277.2 312.2,278.0 310.9,277.9 309.6,277.0 308.3,277.6 307.0,277.9 305.7,277.6 304.4,276.8 303.1,277.0 301.8,276.8 300.5,277.8 299.2,276.8 297.9,277.4 296.6,278.0 295.3,277.1 294.0,277.3" fill="#e4dc00" />
<polygon points="294.0,274.1 295.3,273.8 296.6,274.1 297.9,273.8 299.2,273.9 300.5,274.0 301.8,273.8 303.1,273.9 304.4,273.7 305.7,274.0 307.0,274.0 308.3,273.7 309.6,273.7 310.9,273.8 312.2,273.8 313.5,273.9 314.8,273.7 316.1,273.8 317.4,273.7 318.7,273.7 320.0,273.6 321.3,273.8 322.6,273.8 323.9,273.8 325.2,273.9 326.5,273.7 327.8,273.7 329.1,273.7 330.4,273.9 331.7,273.7 333.0,273.6 334.3,273.7 335.6,273.8 336.9,273.6 338.2,273.6 339.5,273.8 340.8,273.7 342.1,273.7 343.4,273.5 344.7,273.6 346.0,273.5 347.3,273.6 348.6,273.8 349.9,273.9 351.2,273.8 352.5,273.6 353.8,273.7 355.1,273.8 356.4,273.6 357.7,273.6 359.0,273.7 360.3,273.6 361.6,273.6 362.9,273.6 364.2,273.7 365.5,273.6 366.8,273.4 368.1,273.4 369.4,273.6 370.7,273.4 372.0,273.6 373.3,273.5 374.6,273.6 375.9,273.5 377.2,273.6 378.5,273.4 379.8,273.5 381.1,273.6 382.4,273.4 383.7,273.7 385.0,273.7 386.3,273.7 387.6,273.7 388.9,273.7 390.2,273.5 391.5,273.6 392.8,273.4 394.1,273.3 395.4,273.6 396.7,273.6 398.0,273.4 399.3,273.4 400.6,273.3 401.9,273.5 403.2,273.3 404.5,273.6 405.8,273.2 407.1,273.4 408.4,273.5 409.7,273.4 411.0,273.3 411.0,273.4 411.0,274.3 411.0,274.2 409.7,274.3 408.4,274.4 407.1,274.3 405.8,274.1 404.5,274.5 403.2,274.2 401.9,274.4 400.6,274.2 399.3,274.3 398.0,274.3 396.7,274.5 395.4,274.5 394.1,274.2 392.8,274.3 391.5,274.5 390.2,274.4 388.9,274.6 387.6,274.6 386.3,274.6 385.0,274.6 383.7,274.6 382.4,274.3 381.1,274.5 379.8,274.4 378.5,274.3 377.2,274.5 375.9,274.4 374.6,274.5 373.3,274.4 372.0,274.5 370.7,274.3 369.4,274.5 368.1,274.3 366.8,274.3 365.5,274.5 364.2,274.6 362.9,274.5 361.6,274.5 360.3,274.5 359.0,274.6 357.7,274.5 356.4,274.5 355.1,274.7 353.8,274.6 352.5,274.5 351.2,274.7 349.9,274.8 348.6,274.7 347.3,274.5 346.0,274.4 344.7,274.5 343.4,274.4 342.1,274.6 340.8,274.6 339.5,274.7 338.2,274.5 336.9,274.5 335.6,274.7 334.3,274.6 333.0,274.5 331.7,274.6 330.4,274.8 329.1,274.6 327.8,274.6 326.5,274.6 325.2,274.8 323.9,274.7 322.6,274.7 321.3,274.7 320.0,274.5 318.7,274.6 317.4,274.6 316.1,274.7 314.8,274.6 313.5,274.8 312.2,274.7 310.9,274.7 309.6,274.6 308.3,274.6 307.0,274.9 305.7,274.9 304.4,274.6 303.1,274.8 301.8,274.7 300.5,274.9 299.2,274.8 297.9,274.7 296.6,275.0 295.3,274.7 294.0,275.0" fill="#a8a010" opacity="0.8"/>
<polygon points="294.0,275.1 295.3,274.9 296.6,275.8 297.9,275.2 299.2,274.6 300.5,275.6 301.8,274.6 303.1,274.8 304.4,274.6 305.7,275.4 307.0,275.7 308.3,275.4 309.6,274.8 310.9,275.7 312.2,275.8 313.5,275.0 314.8,274.9 316.1,275.5 317.4,275.9 318.7,275.8 320.0,275.8 321.3,275.6 322.6,274.9 323.9,275.4 325.2,275.2 326.5,275.5 327.8,275.2 329.1,274.9 330.4,275.8 331.7,274.6 333.0,275.0 334.3,275.0 335.6,275.9 336.9,274.7 338.2,275.4 339.5,275.9 340.8,275.4 342.1,275.9 343.4,275.1 344.7,275.2 346.0,275.1 347.3,275.1 348.6,275.1 349.9,275.7 351.2,278.3 352.5,278.9 353.8,277.2 355.1,275.3 356.4,274.4 357.7,274.3 359.0,275.3 360.3,275.1 361.6,274.5 362.9,274.9 364.2,275.2 365.5,273.8 366.8,274.2 368.1,274.3 369.4,274.1 370.7,274.4 372.0,274.0 373.3,273.7 374.6,274.7 375.9,274.0 377.2,274.5 378.5,273.5 379.8,273.7 381.1,274.0 382.4,273.3 383.7,273.8 385.0,273.4 386.3,273.7 387.6,273.5 388.9,274.1 390.2,273.7 391.5,273.3 392.8,273.7 394.1,273.5 395.4,273.1 396.7,273.9 398.0,273.5 399.3,272.7 400.6,273.4 401.9,273.2 403.2,272.7 404.5,273.9 405.8,273.3 407.1,273.8 408.4,273.1 409.7,273.0 411.0,272.5 411.0,273.0 411.0,273.8 411.0,273.3 409.7,273.8 408.4,273.9 407.1,274.6 405.8,274.1 404.5,274.7 403.2,273.5 401.9,274.0 400.6,274.2 399.3,273.5 398.0,274.3 396.7,274.7 395.4,273.9 394.1,274.3 392.8,274.5 391.5,274.1 390.2,274.5 388.9,274.9 387.6,274.3 386.3,274.5 385.0,274.2 383.7,274.6 382.4,274.1 381.1,274.8 379.8,274.5 378.5,274.3 377.2,275.3 375.9,274.8 374.6,275.5 373.3,274.5 372.0,274.8 370.7,275.2 369.4,274.9 368.1,275.1 366.8,275.0 365.5,274.6 364.2,276.0 362.9,275.7 361.6,275.3 360.3,275.9 359.0,276.1 357.7,275.1 356.4,275.2 355.1,276.1 353.8,278.0 352.5,279.7 351.2,279.1 349.9,276.5 348.6,275.9 347.3,275.9 346.0,275.9 344.7,276.0 343.4,275.9 342.1,276.7 340.8,276.2 339.5,276.7 338.2,276.2 336.9,275.5 335.6,276.7 334.3,275.8 333.0,275.8 331.7,275.4 330.4,276.6 329.1,275.7 327.8,276.0 326.5,276.3 325.2,276.0 323.9,276.2 322.6,275.7 321.3,276.4 320.0,276.6 318.7,276.6 317.4,276.7 316.1,276.3 314.8,275.7 313.5,275.8 312.2,276.6 310.9,276.5 309.6,275.6 308.3,276.2 307.0,276.5 305.7,276.2 304.4,275.4 303.1,275.6 301.8,275.4 300.5,276.4 299.2,275.4 297.9,276.0 296.6,276.6 295.3,275.7 294.0,275.9" fill="#b0a010" opacity="0.45"/>
<polygon points="294.0,271.9 411.0,271.9 411.0,273.0 411.0,272.9 409.7,273.0 408.4,273.1 407.1,273.0 405.8,272.8 404.5,273.2 403.2,272.9 401.9,273.1 400.6,272.9 399.3,273.0 398.0,273.0 396.7,273.2 395.4,273.2 394.1,272.9 392.8,273.0 391.5,273.2 390.2,273.1 388.9,273.3 387.6,273.3 386.3,273.3 385.0,273.3 383.7,273.3 382.4,273.0 381.1,273.2 379.8,273.1 378.5,273.0 377.2,273.2 375.9,273.1 374.6,273.2 373.3,273.1 372.0,273.2 370.7,273.0 369.4,273.2 368.1,273.0 366.8,273.0 365.5,273.2 364.2,273.3 362.9,273.2 361.6,273.2 360.3,273.2 359.0,273.3 357.7,273.2 356.4,273.2 355.1,273.4 353.8,273.3 352.5,273.2 351.2,273.4 349.9,273.5 348.6,273.4 347.3,273.2 346.0,273.1 344.7,273.2 343.4,273.1 342.1,273.3 340.8,273.3 339.5,273.4 338.2,273.2 336.9,273.2 335.6,273.4 334.3,273.3 333.0,273.2 331.7,273.3 330.4,273.5 329.1,273.3 327.8,273.3 326.5,273.3 325.2,273.5 323.9,273.4 322.6,273.4 321.3,273.4 320.0,273.2 318.7,273.3 317.4,273.3 316.1,273.4 314.8,273.3 313.5,273.5 312.2,273.4 310.9,273.4 309.6,273.3 308.3,273.3 307.0,273.6 305.7,273.6 304.4,273.3 303.1,273.5 301.8,273.4 300.5,273.6 299.2,273.5 297.9,273.4 296.6,273.7 295.3,273.4 294.0,273.7" fill="#16c024" />
<polygon points="294.0,270.4 411.0,270.4 411.0,271.6 294.0,271.6" fill="#2a6cd4" />
<polygon points="294.0,271.6 411.0,271.6 411.0,272.1 294.0,272.1" fill="#30b8b0" />
<polygon points="347.8,280.0 355.8,280.0 353.1,298.2 351.1,298.2" fill="#7a3c10" opacity="0.55"/>
<polygon points="351.3,272.9 353.3,272.9 352.8,287.0 352.6,298.2 352.0,298.2 351.8,287.0" fill="#b0a018" opacity="0.9"/>
<polygon points="351.9,264.9 352.7,264.9 352.8,272.9 351.8,272.9" fill="#20b060" opacity="0.8"/>
</g>
</g>
<g clip-path="url(#cl20)">
<g filter="url(#soft)">
<polygon points="53.5,399.6 55.3,388.3 55.7,388.3 57.5,399.6" fill="url(#gM)" />
<polygon points="61.5,399.6 63.3,386.8 63.7,386.8 65.5,399.6" fill="url(#gM)" />
<polygon points="64.7,399.6 66.5,384.0 66.9,384.0 68.7,399.6" fill="url(#gM)" />
<polygon points="68.4,399.6 70.8,375.5 73.2,399.6" fill="url(#gH)" opacity="0.85"/>
<polygon points="74.5,399.6 76.9,375.5 79.3,399.6" fill="url(#gH)" opacity="0.85"/>
<polygon points="78.7,399.6 80.5,385.4 80.9,385.4 82.7,399.6" fill="url(#gM)" />
<polygon points="149.2,399.6 151.3,366.5 151.7,366.5 153.8,399.6" fill="url(#gM)" />
<polygon points="155.7,399.6 157.5,382.0 157.9,382.0 159.7,399.6" fill="url(#gM)" />
<polygon points="161.9,399.6 163.7,382.0 164.1,382.0 165.9,399.6" fill="url(#gM)" />
<polygon points="83.0,399.6 85.1,358.5 85.5,358.5 87.5,399.6" fill="url(#gM)" />
<polygon points="89.7,399.6 91.7,353.4 92.1,353.4 94.2,399.6" fill="url(#gM)" />
<polygon points="93.3,399.6 95.5,356.7 97.7,399.6" fill="url(#gH)" opacity="0.85"/>
<polygon points="97.0,399.6 99.9,345.8 102.8,399.6" fill="url(#gH)" opacity="0.85"/>
<polygon points="104.2,399.6 106.4,342.9 108.6,399.6" fill="url(#gH)" opacity="0.85"/>
<polygon points="110.2,399.6 112.4,345.4 114.6,399.6" fill="url(#gH)" opacity="0.85"/>
<polygon points="117.8,399.6 120.0,324.5 122.2,399.6" fill="url(#gH)" opacity="0.85"/>
<polygon points="123.0,399.6 125.0,354.0 125.4,354.0 127.5,399.6" fill="url(#gM)" />
<polygon points="126.3,399.6 128.1,355.0 128.5,355.0 130.3,399.6" fill="url(#gM)" />
<polygon points="129.7,399.6 132.1,352.4 134.5,399.6" fill="url(#gH)" opacity="0.85"/>
<polygon points="135.4,399.6 137.6,362.5 139.8,399.6" fill="url(#gH)" opacity="0.85"/>
<polygon points="142.1,399.6 144.5,350.8 146.9,399.6" fill="url(#gH)" opacity="0.85"/>
<polygon points="55.0,399.6 55.5,393.4 56.0,399.6" fill="#7a24d8" opacity="0.65"/>
<polygon points="63.0,399.6 63.5,392.6 64.0,399.6" fill="#7a24d8" opacity="0.65"/>
<polygon points="66.2,399.6 66.7,391.0 67.2,399.6" fill="#7a24d8" opacity="0.65"/>
<polygon points="69.4,399.6 70.5,378.0 71.0,378.0 72.2,399.6" fill="url(#gB)" />
<polygon points="75.5,399.6 76.7,378.0 77.2,378.0 78.3,399.6" fill="url(#gB)" />
<polygon points="80.2,399.6 80.7,391.8 81.2,399.6" fill="#7a24d8" opacity="0.65"/>
<polygon points="150.9,399.6 151.5,381.4 152.1,399.6" fill="#7a24d8" opacity="0.65"/>
<polygon points="157.2,399.6 157.7,389.9 158.2,399.6" fill="#7a24d8" opacity="0.65"/>
<polygon points="163.4,399.6 163.9,389.9 164.4,399.6" fill="#7a24d8" opacity="0.65"/>
<polygon points="84.7,399.6 85.3,377.0 85.9,399.6" fill="#7a24d8" opacity="0.65"/>
<polygon points="91.3,399.6 91.9,374.2 92.5,399.6" fill="#7a24d8" opacity="0.65"/>
<polygon points="94.3,399.6 95.2,359.2 95.8,359.2 96.7,399.6" fill="url(#gB)" />
<polygon points="98.0,399.6 99.7,348.3 100.2,348.3 101.8,399.6" fill="url(#gB)" />
<polygon points="105.2,399.6 106.2,345.4 106.7,345.4 107.6,399.6" fill="url(#gB)" />
<polygon points="111.2,399.6 112.2,347.9 112.7,347.9 113.6,399.6" fill="url(#gT)" />
<polygon points="118.8,399.6 119.8,327.0 120.2,327.0 121.2,399.6" fill="url(#gB)" />
<polygon points="124.6,399.6 125.2,374.5 125.8,399.6" fill="#7a24d8" opacity="0.65"/>
<polygon points="127.8,399.6 128.3,375.1 128.8,399.6" fill="#7a24d8" opacity="0.65"/>
<polygon points="130.7,399.6 131.8,354.9 132.3,354.9 133.5,399.6" fill="url(#gB)" />
<polygon points="136.4,399.6 137.3,365.0 137.8,365.0 138.8,399.6" fill="url(#gB)" />
<polygon points="143.1,399.6 144.2,353.3 144.8,353.3 145.9,399.6" fill="url(#gB)" />
<polygon points="80.6,399.6 83.0,378.9 85.4,399.6" fill="url(#gH)" opacity="0.85"/>
<polygon points="83.1,399.6 85.5,373.6 87.9,399.6" fill="url(#gH)" opacity="0.85"/>
<polygon points="84.9,399.6 87.3,374.4 89.8,399.6" fill="url(#gH)" opacity="0.85"/>
<polygon points="86.4,399.6 89.2,373.2 91.9,399.6" fill="url(#gH)" opacity="0.85"/>
<polygon points="89.3,399.6 91.6,373.1 93.9,399.6" fill="url(#gH)" opacity="0.85"/>
<polygon points="91.3,399.6 93.7,371.9 96.1,399.6" fill="url(#gH)" opacity="0.85"/>
<polygon points="93.1,399.6 95.8,373.3 98.4,399.6" fill="url(#gH)" opacity="0.85"/>
<polygon points="95.2,399.6 97.8,372.5 100.4,399.6" fill="url(#gH)" opacity="0.85"/>
<polygon points="97.6,399.6 100.3,371.3 103.0,399.6" fill="url(#gH)" opacity="0.85"/>
<polygon points="99.7,399.6 102.4,370.7 105.1,399.6" fill="url(#gH)" opacity="0.85"/>
<polygon points="101.6,399.6 104.1,370.4 106.7,399.6" fill="url(#gH)" opacity="0.85"/>
<polygon points="104.0,399.6 106.5,371.5 109.1,399.6" fill="url(#gH)" opacity="0.85"/>
<polygon points="106.3,399.6 108.7,372.5 111.2,399.6" fill="url(#gH)" opacity="0.85"/>
<polygon points="108.2,399.6 110.8,371.0 113.4,399.6" fill="url(#gH)" opacity="0.85"/>
<polygon points="110.2,399.6 112.7,372.0 115.3,399.6" fill="url(#gH)" opacity="0.85"/>
<polygon points="112.7,399.6 115.2,371.4 117.7,399.6" fill="url(#gH)" opacity="0.85"/>
<polygon points="115.1,399.6 117.6,372.7 120.2,399.6" fill="url(#gH)" opacity="0.85"/>
<polygon points="116.9,399.6 119.2,372.5 121.6,399.6" fill="url(#gH)" opacity="0.85"/>
<polygon points="118.6,399.6 121.1,371.1 123.6,399.6" fill="url(#gH)" opacity="0.85"/>
<polygon points="119.9,399.6 122.6,371.7 125.3,399.6" fill="url(#gH)" opacity="0.85"/>
<polygon points="122.0,399.6 124.3,372.2 126.7,399.6" fill="url(#gH)" opacity="0.85"/>
<polygon points="124.1,399.6 126.7,372.9 129.2,399.6" fill="url(#gH)" opacity="0.85"/>
<polygon points="126.1,399.6 128.7,372.0 131.3,399.6" fill="url(#gH)" opacity="0.85"/>
<polygon points="128.2,399.6 130.9,372.1 133.6,399.6" fill="url(#gH)" opacity="0.85"/>
<polygon points="130.0,399.6 132.8,373.1 135.5,399.6" fill="url(#gH)" opacity="0.85"/>
<polygon points="132.6,399.6 135.2,371.4 137.7,399.6" fill="url(#gH)" opacity="0.85"/>
<polygon points="134.4,399.6 137.0,372.8 139.7,399.6" fill="url(#gH)" opacity="0.85"/>
<polygon points="136.0,399.6 138.8,374.0 141.6,399.6" fill="url(#gH)" opacity="0.85"/>
<polygon points="138.0,399.6 140.4,375.8 142.9,399.6" fill="url(#gH)" opacity="0.85"/>
<polygon points="139.8,399.6 142.1,378.2 144.5,399.6" fill="url(#gH)" opacity="0.85"/>
<polygon points="141.1,399.6 143.8,380.7 146.5,399.6" fill="url(#gH)" opacity="0.85"/>
<polygon points="143.7,399.6 146.1,383.4 148.6,399.6" fill="url(#gH)" opacity="0.85"/>
<polygon points="145.1,399.6 147.7,386.3 150.2,399.6" fill="url(#gH)" opacity="0.85"/>
<polygon points="147.4,399.6 149.9,391.2 152.5,399.6" fill="url(#gH)" opacity="0.85"/>
<polygon points="83.5,399.6 83.0,382.6 84.5,382.3 86.0,380.0 87.5,377.8 89.0,379.4 90.5,378.4 92.0,376.4 93.5,379.0 95.0,376.8 96.5,376.8 98.0,377.0 99.5,377.3 101.0,375.8 102.5,377.4 104.0,377.8 105.5,376.7 107.0,377.6 108.5,377.1 110.0,377.7 111.5,375.8 113.0,376.5 114.5,376.9 116.0,375.8 117.5,378.3 119.0,377.2 120.5,375.5 122.0,377.0 123.5,376.6 125.0,376.0 126.5,376.0 128.0,377.0 129.5,376.0 131.0,377.6 132.5,377.6 134.0,376.6 135.5,379.1 137.0,377.5 138.5,379.1 140.0,382.4 141.5,382.3 143.0,385.0 144.5,387.5 146.0,389.4 147.5,392.0 149.0,394.4 150.0,396.0 149.5,399.6" fill="#1c1cb8" />
<polygon points="81.6,399.6 82.8,381.4 83.2,381.4 84.4,399.6" fill="url(#gBlk)" />
<polygon points="84.1,399.6 85.2,376.1 85.7,376.1 86.9,399.6" fill="url(#gBlk)" />
<polygon points="85.9,399.6 87.1,376.9 87.6,376.9 88.8,399.6" fill="url(#gBlk)" />
<polygon points="87.4,399.6 88.9,375.7 89.4,375.7 91.0,399.6" fill="url(#gBlk)" />
<polygon points="90.2,399.6 91.3,375.6 91.8,375.6 93.0,399.6" fill="url(#gBlk)" />
<polygon points="92.2,399.6 93.4,374.4 93.9,374.4 95.1,399.6" fill="url(#gBlk)" />
<polygon points="94.0,399.6 95.5,375.8 96.0,375.8 97.5,399.6" fill="url(#gBlk)" />
<polygon points="96.2,399.6 97.6,375.0 98.1,375.0 99.5,399.6" fill="url(#gBlk)" />
<polygon points="98.6,399.6 100.0,373.8 100.5,373.8 102.0,399.6" fill="url(#gBlk)" />
<polygon points="100.7,399.6 102.2,373.2 102.7,373.2 104.2,399.6" fill="url(#gBlk)" />
<polygon points="102.5,399.6 103.9,372.9 104.4,372.9 105.7,399.6" fill="url(#gBlk)" />
<polygon points="105.0,399.6 106.3,374.0 106.8,374.0 108.1,399.6" fill="url(#gBlk)" />
<polygon points="107.2,399.6 108.5,375.0 109.0,375.0 110.2,399.6" fill="url(#gBlk)" />
<polygon points="109.2,399.6 110.5,373.5 111.0,373.5 112.4,399.6" fill="url(#gBlk)" />
<polygon points="111.1,399.6 112.5,374.5 113.0,374.5 114.3,399.6" fill="url(#gBlk)" />
<polygon points="113.7,399.6 115.0,373.9 115.5,373.9 116.8,399.6" fill="url(#gBlk)" />
<polygon points="116.1,399.6 117.4,375.2 117.9,375.2 119.2,399.6" fill="url(#gBlk)" />
<polygon points="117.8,399.6 119.0,375.0 119.5,375.0 120.7,399.6" fill="url(#gBlk)" />
<polygon points="119.6,399.6 120.8,373.6 121.3,373.6 122.6,399.6" fill="url(#gBlk)" />
<polygon points="120.9,399.6 122.4,374.2 122.9,374.2 124.4,399.6" fill="url(#gBlk)" />
<polygon points="123.0,399.6 124.1,374.7 124.6,374.7 125.7,399.6" fill="url(#gBlk)" />
<polygon points="125.1,399.6 126.4,375.4 126.9,375.4 128.2,399.6" fill="url(#gBlk)" />
<polygon points="127.0,399.6 128.4,374.5 128.9,374.5 130.3,399.6" fill="url(#gBlk)" />
<polygon points="129.2,399.6 130.7,374.6 131.2,374.6 132.6,399.6" fill="url(#gBlk)" />
<polygon points="131.0,399.6 132.5,375.6 133.0,375.6 134.5,399.6" fill="url(#gBlk)" />
<polygon points="133.6,399.6 134.9,373.9 135.4,373.9 136.8,399.6" fill="url(#gBlk)" />
<polygon points="135.4,399.6 136.8,375.3 137.3,375.3 138.7,399.6" fill="url(#gBlk)" />
<polygon points="137.0,399.6 138.6,376.5 139.1,376.5 140.6,399.6" fill="url(#gBlk)" />
<polygon points="139.0,399.6 140.2,378.3 140.7,378.3 141.9,399.6" fill="url(#gBlk)" />
<polygon points="140.7,399.6 141.9,380.7 142.4,380.7 143.5,399.6" fill="url(#gBlk)" />
<polygon points="142.1,399.6 143.6,383.2 144.1,383.2 145.5,399.6" fill="url(#gBlk)" />
<polygon points="144.6,399.6 145.9,385.9 146.4,385.9 147.7,399.6" fill="url(#gBlk)" />
<polygon points="146.1,399.6 147.4,388.8 147.9,388.8 149.3,399.6" fill="url(#gBlk)" />
<polygon points="148.4,399.6 149.7,393.7 150.2,393.7 151.5,399.6" fill="url(#gBlk)" />
<polygon points="86.0,399.6 87.0,391.7 88.3,389.4 89.6,385.0 90.9,383.1 92.2,381.3 93.5,381.3 94.8,379.0 96.1,380.5 97.4,378.1 98.7,379.7 100.0,376.9 101.3,377.5 102.6,377.4 103.9,378.1 105.2,377.4 106.5,375.8 107.8,376.6 109.1,377.1 110.4,375.1 111.7,377.1 113.0,377.2 114.3,377.7 115.6,375.7 116.9,377.2 118.2,376.4 119.5,377.8 120.8,377.4 122.1,375.6 123.4,378.4 124.7,378.3 126.0,377.2 127.3,379.5 128.6,377.6 129.9,380.2 131.2,380.5 132.5,380.2 133.8,383.7 135.1,385.1 136.4,387.4 137.7,391.5 139.0,395.8 139.0,397.0 140.0,399.6" fill="#2cc4dc" />
<polygon points="87.2,399.6 87.8,395.0 88.2,395.0 88.8,399.6" fill="#24a0d0" opacity="0.75"/>
<polygon points="89.2,399.6 89.7,392.9 90.1,392.9 90.5,399.6" fill="#20b8a0" opacity="0.75"/>
<polygon points="91.0,399.6 91.8,391.2 92.2,391.2 93.0,399.6" fill="#20b8a0" opacity="0.75"/>
<polygon points="93.6,399.6 94.5,387.2 94.9,387.2 95.8,399.6" fill="#20b8a0" opacity="0.75"/>
<polygon points="95.2,399.6 96.1,384.9 96.5,384.9 97.4,399.6" fill="#38e0e8" opacity="0.75"/>
<polygon points="97.8,399.6 98.7,384.1 99.1,384.1 100.0,399.6" fill="#24a0d0" opacity="0.75"/>
<polygon points="100.5,399.6 101.2,382.0 101.6,382.0 102.4,399.6" fill="#24a0d0" opacity="0.75"/>
<polygon points="101.9,399.6 102.9,383.1 103.3,383.1 104.3,399.6" fill="#38e0e8" opacity="0.75"/>
<polygon points="104.3,399.6 105.1,382.1 105.5,382.1 106.3,399.6" fill="#2050d0" opacity="0.75"/>
<polygon points="106.3,399.6 106.7,383.2 107.1,383.2 107.5,399.6" fill="#24a0d0" opacity="0.75"/>
<polygon points="108.0,399.6 108.9,382.3 109.3,382.3 110.1,399.6" fill="#24a0d0" opacity="0.75"/>
<polygon points="110.6,399.6 111.5,380.9 111.9,380.9 112.7,399.6" fill="#20b8a0" opacity="0.75"/>
<polygon points="113.3,399.6 114.0,381.0 114.4,381.0 115.2,399.6" fill="#2050d0" opacity="0.75"/>
<polygon points="115.0,399.6 115.8,383.2 116.2,383.2 117.0,399.6" fill="#38e0e8" opacity="0.75"/>
<polygon points="117.3,399.6 117.8,379.9 118.2,379.9 118.7,399.6" fill="#2050d0" opacity="0.75"/>
<polygon points="119.1,399.6 119.5,380.7 119.9,380.7 120.4,399.6" fill="#24a0d0" opacity="0.75"/>
<polygon points="121.1,399.6 122.0,379.9 122.4,379.9 123.3,399.6" fill="#2050d0" opacity="0.75"/>
<polygon points="123.4,399.6 123.9,385.6 124.3,385.6 124.8,399.6" fill="#24a0d0" opacity="0.75"/>
<polygon points="125.9,399.6 126.4,382.3 126.8,382.3 127.2,399.6" fill="#24a0d0" opacity="0.75"/>
<polygon points="128.4,399.6 128.9,388.5 129.3,388.5 129.7,399.6" fill="#24a0d0" opacity="0.75"/>
<polygon points="130.1,399.6 130.8,387.3 131.2,387.3 131.9,399.6" fill="#24a0d0" opacity="0.75"/>
<polygon points="131.6,399.6 132.5,390.5 132.9,390.5 133.8,399.6" fill="#2050d0" opacity="0.75"/>
<polygon points="134.0,399.6 134.8,391.1 135.2,391.1 135.9,399.6" fill="#2050d0" opacity="0.75"/>
<polygon points="136.2,399.6 137.0,394.4 137.4,394.4 138.2,399.6" fill="#38e0e8" opacity="0.75"/>
<polygon points="87.0,399.6 88.0,395.3 89.3,391.5 90.6,388.9 91.9,387.1 93.2,385.2 94.5,383.6 95.8,384.0 97.1,383.9 98.4,384.3 99.7,382.6 101.0,384.1 102.3,381.5 103.6,382.7 104.9,380.7 106.2,381.1 107.5,380.6 108.8,382.9 110.1,382.1 111.4,382.0 112.7,383.0 114.0,383.5 115.3,382.1 116.6,383.7 117.9,382.4 119.2,384.1 120.5,384.9 121.8,384.2 123.1,385.5 124.4,386.8 125.7,386.0 127.0,388.9 128.3,388.6 129.6,390.8 130.9,392.6 132.0,395.0 133.0,399.6" fill="#1cc83a" />
<polygon points="88.2,399.6 88.8,393.2 89.2,393.2 89.8,399.6" fill="#2ac0c0" opacity="0.8"/>
<polygon points="90.7,399.6 91.0,392.5 91.4,392.5 91.7,399.6" fill="#18a830" opacity="0.8"/>
<polygon points="91.8,399.6 92.4,390.0 92.8,390.0 93.5,399.6" fill="#18a830" opacity="0.8"/>
<polygon points="93.7,399.6 94.5,390.3 94.9,390.3 95.6,399.6" fill="#2ac0c0" opacity="0.8"/>
<polygon points="96.6,399.6 97.1,389.5 97.5,389.5 98.0,399.6" fill="#30d048" opacity="0.8"/>
<polygon points="98.8,399.6 99.5,389.7 99.9,389.7 100.7,399.6" fill="#40d8a0" opacity="0.8"/>
<polygon points="100.6,399.6 101.2,387.8 101.6,387.8 102.2,399.6" fill="#40d8a0" opacity="0.8"/>
<polygon points="103.0,399.6 103.4,384.7 103.8,384.7 104.1,399.6" fill="#40d8a0" opacity="0.8"/>
<polygon points="104.6,399.6 105.2,387.1 105.6,387.1 106.2,399.6" fill="#2ac0c0" opacity="0.8"/>
<polygon points="106.9,399.6 107.6,387.1 108.0,387.1 108.7,399.6" fill="#30d048" opacity="0.8"/>
<polygon points="109.0,399.6 109.5,384.8 109.9,384.8 110.5,399.6" fill="#2ac0c0" opacity="0.8"/>
<polygon points="111.4,399.6 111.9,388.0 112.3,388.0 112.8,399.6" fill="#30d048" opacity="0.8"/>
<polygon points="113.0,399.6 113.5,388.1 113.9,388.1 114.4,399.6" fill="#18a830" opacity="0.8"/>
<polygon points="115.1,399.6 115.9,389.5 116.3,389.5 117.1,399.6" fill="#40d8a0" opacity="0.8"/>
<polygon points="116.6,399.6 117.4,385.5 117.8,385.5 118.6,399.6" fill="#2ac0c0" opacity="0.8"/>
<polygon points="118.5,399.6 119.3,388.9 119.7,388.9 120.5,399.6" fill="#40d8a0" opacity="0.8"/>
<polygon points="120.9,399.6 121.3,390.0 121.7,390.0 122.0,399.6" fill="#2ac0c0" opacity="0.8"/>
<polygon points="123.0,399.6 123.7,390.4 124.1,390.4 124.8,399.6" fill="#2ac0c0" opacity="0.8"/>
<polygon points="124.9,399.6 125.5,392.1 125.9,392.1 126.5,399.6" fill="#40d8a0" opacity="0.8"/>
<polygon points="127.2,399.6 127.6,395.5 128.0,395.5 128.5,399.6" fill="#30d048" opacity="0.8"/>
<polygon points="129.2,399.6 129.7,392.9 130.1,392.9 130.7,399.6" fill="#18a830" opacity="0.8"/>
<polygon points="97.2,399.6 98.0,382.0 98.8,399.6" fill="#2040c8" opacity="0.5"/>
<polygon points="102.2,399.6 103.0,380.0 103.8,399.6" fill="#2040c8" opacity="0.5"/>
<polygon points="116.2,399.6 117.0,380.0 117.8,399.6" fill="#2040c8" opacity="0.5"/>
<polygon points="122.2,399.6 123.0,381.0 123.8,399.6" fill="#2040c8" opacity="0.5"/>
<polygon points="128.2,399.6 129.0,383.0 129.8,399.6" fill="#2040c8" opacity="0.5"/>
<polygon points="103.5,399.6 105.0,392.0 107.0,387.0 108.5,384.0 110.0,387.0 112.0,392.0 113.5,399.6" fill="#d8d010" />
<polygon points="106.0,399.6 107.5,393.0 108.6,389.0 109.7,393.0 111.0,399.6" fill="#d08020" />
<polygon points="99.0,399.6 100.0,391.0 101.0,389.0 102.0,392.0 103.0,399.6" fill="#c8d020" opacity="0.8"/>
<polygon points="115.0,399.6 116.0,390.0 117.0,388.0 118.0,391.0 119.0,399.6" fill="#c8d020" opacity="0.8"/>
<polygon points="50.0,399.6 167.5,399.6 167.5,428.1 50.0,428.1" fill="url(#gOr)" />
<path d="M88.0 403.6V427.1 M122.9 403.6V427.1 M51.0 403.6V427.1 M165.5 403.6V427.1 M146.6 403.6V427.1 M167.4 403.6V427.1 M80.9 403.6V427.1 M73.4 403.6V427.1 M56.4 403.6V427.1 M72.8 403.6V427.1 M52.8 403.6V427.1 M131.3 403.6V427.1 M93.0 403.6V427.1 M145.8 403.6V427.1 M139.4 403.6V427.1 M91.0 403.6V427.1 M69.6 403.6V427.1 M90.9 403.6V427.1 M53.6 403.6V427.1 M126.2 403.6V427.1 M72.3 403.6V427.1 M67.5 403.6V427.1 M154.4 403.6V427.1 M101.4 403.6V427.1 M161.2 403.6V427.1 M165.2 403.6V427.1 M128.0 403.6V427.1 M79.3 403.6V427.1 M67.4 403.6V427.1 M79.0 403.6V427.1 M136.6 403.6V427.1 M110.1 403.6V427.1 M85.0 403.6V427.1 M52.0 403.6V427.1 M91.3 403.6V427.1 M96.1 403.6V427.1 M58.1 403.6V427.1 M79.3 403.6V427.1 M84.7 403.6V427.1 M98.9 403.6V427.1 M108.0 403.6V427.1 M116.5 403.6V427.1 M149.8 403.6V427.1 M84.7 403.6V427.1 M61.1 403.6V427.1" stroke="#7a3a0c" stroke-opacity="0.25" stroke-width="0.8"/>
<polygon points="50.0,425.5 51.1,427.8 52.2,424.8 53.3,425.1 54.4,425.6 55.5,424.8 56.6,425.1 57.7,427.2 58.8,425.8 59.9,424.1 61.0,427.2 62.1,424.7 63.2,426.9 64.3,423.9 65.4,426.3 66.5,426.0 67.6,426.1 68.7,427.5 69.8,426.6 70.9,424.9 72.0,425.4 73.1,423.8 74.2,425.9 75.3,424.4 76.4,422.5 77.5,424.0 78.6,423.9 79.7,420.5 80.8,422.3 81.9,421.5 83.0,418.4 84.1,420.2 85.2,417.0 86.3,415.9 87.4,418.4 88.5,418.2 89.6,416.0 90.7,417.2 91.8,415.1 92.9,415.6 94.0,413.3 95.1,412.6 96.2,413.9 97.3,411.9 98.4,410.8 99.5,411.8 100.6,410.6 101.7,410.1 102.8,407.8 103.9,409.4 105.0,407.2 106.1,404.8 107.2,405.6 108.3,405.0 109.4,403.6 110.5,403.8 111.6,406.2 112.7,406.7 113.8,405.3 114.9,407.5 116.0,407.5 117.1,409.5 118.2,409.9 119.3,407.8 120.4,410.4 121.5,409.0 122.6,409.7 123.7,411.0 124.8,414.4 125.9,414.7 127.0,414.8 128.1,414.3 129.2,416.7 130.3,414.7 131.4,417.0 132.5,416.0 133.6,416.5 134.7,420.6 135.8,418.6 136.9,418.2 138.0,420.0 139.1,422.4 140.2,421.9 141.3,420.0 142.4,421.9 143.5,424.5 144.6,422.8 145.7,423.4 146.8,424.6 147.9,426.3 149.0,426.4 150.1,424.7 151.2,426.1 152.3,425.7 153.4,424.5 154.5,424.1 155.6,424.6 156.7,424.5 157.8,424.9 158.9,427.0 160.0,424.4 161.1,425.9 162.2,427.9 163.3,427.2 164.4,425.7 165.5,424.0 166.6,426.2 167.5,426.0 167.5,428.1 50.0,428.1" fill="#94481a" opacity="0.55"/>
<polygon points="50.0,428.5 51.1,430.8 52.2,427.8 53.3,428.1 54.4,428.6 55.5,427.8 56.6,428.1 57.7,430.2 58.8,428.8 59.9,427.1 61.0,430.2 62.1,427.7 63.2,429.9 64.3,426.9 65.4,429.3 66.5,429.0 67.6,429.1 68.7,430.5 69.8,429.6 70.9,427.9 72.0,428.4 73.1,426.8 74.2,428.9 75.3,427.4 76.4,425.5 77.5,427.0 78.6,426.9 79.7,423.5 80.8,425.3 81.9,424.5 83.0,421.4 84.1,423.2 85.2,420.0 86.3,418.9 87.4,421.4 88.5,421.2 89.6,419.0 90.7,420.2 91.8,418.1 92.9,418.6 94.0,416.3 95.1,415.6 96.2,416.9 97.3,414.9 98.4,413.8 99.5,414.8 100.6,413.6 101.7,413.1 102.8,410.8 103.9,412.4 105.0,410.2 106.1,407.8 107.2,408.6 108.3,408.0 109.4,406.6 110.5,406.8 111.6,409.2 112.7,409.7 113.8,408.3 114.9,410.5 116.0,410.5 117.1,412.5 118.2,412.9 119.3,410.8 120.4,413.4 121.5,412.0 122.6,412.7 123.7,414.0 124.8,417.4 125.9,417.7 127.0,417.8 128.1,417.3 129.2,419.7 130.3,417.7 131.4,420.0 132.5,419.0 133.6,419.5 134.7,423.6 135.8,421.6 136.9,421.2 138.0,423.0 139.1,425.4 140.2,424.9 141.3,423.0 142.4,424.9 143.5,427.5 144.6,425.8 145.7,426.4 146.8,427.6 147.9,429.3 149.0,429.4 150.1,427.7 151.2,429.1 152.3,428.7 153.4,427.5 154.5,427.1 155.6,427.6 156.7,427.5 157.8,427.9 158.9,430.0 160.0,427.4 161.1,428.9 162.2,430.9 163.3,430.2 164.4,428.7 165.5,427.0 166.6,429.2 167.5,429.0 167.5,428.1 50.0,428.1" fill="url(#gRed)" />
<polygon points="50.0,431.4 51.1,429.1 52.2,428.7 53.3,431.5 54.4,428.0 55.5,429.8 56.6,430.1 57.7,430.4 58.8,428.1 59.9,430.4 61.0,429.7 62.1,431.4 63.2,427.4 64.3,431.9 65.4,428.1 66.5,431.1 67.6,429.6 68.7,431.2 69.8,428.0 70.9,428.6 72.0,427.5 73.1,430.8 74.2,429.6 75.3,428.0 76.4,427.9 77.5,427.3 78.6,427.9 79.7,429.6 80.8,429.0 81.9,430.2 83.0,427.2 84.1,430.8 85.2,431.5 86.3,430.3 87.4,430.3 88.5,430.8 89.6,427.1 90.7,428.8 91.8,427.0 92.9,429.3 94.0,426.8 95.1,423.5 96.2,423.8 97.3,424.1 98.4,421.8 99.5,418.7 100.6,421.5 101.7,416.2 102.8,418.8 103.9,418.4 105.0,416.5 106.1,416.6 107.2,413.7 108.3,411.8 109.4,413.6 110.5,415.4 111.6,416.1 112.7,415.0 113.8,418.6 114.9,415.2 116.0,418.3 117.1,417.0 118.2,419.6 119.3,424.3 120.4,421.8 121.5,427.6 122.6,428.8 123.7,429.5 124.8,426.9 125.9,428.9 127.0,430.0 128.1,427.2 129.2,428.2 130.3,427.2 131.4,430.8 132.5,431.2 133.6,431.3 134.7,430.5 135.8,429.6 136.9,427.2 138.0,429.2 139.1,430.6 140.2,430.6 141.3,427.1 142.4,427.1 143.5,427.5 144.6,431.5 145.7,427.6 146.8,429.0 147.9,429.4 149.0,431.4 150.1,427.9 151.2,428.5 152.3,431.0 153.4,427.7 154.5,428.1 155.6,427.5 156.7,432.0 157.8,428.5 158.9,429.8 160.0,429.3 161.1,432.2 162.2,430.9 163.3,430.4 164.4,429.9 165.5,428.9 166.6,431.6 167.5,430.0 167.5,428.1 50.0,428.1" fill="#cc1e1e" opacity="0.85"/>
<path d="M81.9 414.6V427.1 M113.7 414.6V427.1 M133.2 414.6V427.1 M162.6 414.6V427.1 M93.4 414.6V427.1 M112.6 414.6V427.1 M94.0 414.6V427.1 M114.6 414.6V427.1 M148.9 414.6V427.1 M166.7 414.6V427.1 M159.1 414.6V427.1 M160.3 414.6V427.1 M56.4 414.6V427.1 M78.4 414.6V427.1 M161.2 414.6V427.1 M116.1 414.6V427.1 M67.0 414.6V427.1 M123.0 414.6V427.1 M159.9 414.6V427.1 M77.2 414.6V427.1 M91.5 414.6V427.1 M70.3 414.6V427.1 M164.8 414.6V427.1 M74.0 414.6V427.1 M80.4 414.6V427.1 M59.3 414.6V427.1 M61.9 414.6V427.1 M51.9 414.6V427.1 M50.5 414.6V427.1 M112.0 414.6V427.1" stroke="#600808" stroke-opacity="0.18" stroke-width="0.8"/>
<polygon points="50.0,403.3 51.3,403.5 52.6,403.7 53.9,403.4 55.2,403.4 56.5,403.4 57.8,403.5 59.1,403.4 60.4,403.4 61.7,403.5 63.0,403.4 64.3,403.2 65.6,403.2 66.9,403.3 68.2,403.3 69.5,403.1 70.8,403.3 72.1,403.2 73.4,403.3 74.7,403.0 76.0,403.1 77.3,402.9 78.6,403.1 79.9,403.0 81.2,403.0 82.5,402.9 83.8,403.2 85.1,403.0 86.4,402.8 87.7,402.7 89.0,402.5 90.3,402.6 91.6,402.5 92.9,402.2 94.2,401.9 95.5,402.1 96.8,401.7 98.1,401.5 99.4,401.5 100.7,401.4 102.0,401.4 103.3,401.0 104.6,400.9 105.9,400.9 107.2,400.6 108.5,400.7 109.8,400.6 111.1,400.8 112.4,400.9 113.7,400.7 115.0,400.9 116.3,400.9 117.6,401.3 118.9,401.1 120.2,401.4 121.5,401.7 122.8,401.5 124.1,401.8 125.4,401.9 126.7,402.1 128.0,402.5 129.3,402.3 130.6,402.6 131.9,402.4 133.2,402.7 134.5,402.4 135.8,402.4 137.1,402.8 138.4,402.4 139.7,402.7 141.0,402.5 142.3,402.7 143.6,402.6 144.9,402.8 146.2,402.8 147.5,402.8 148.8,402.6 150.1,402.9 151.4,402.7 152.7,402.8 154.0,402.9 155.3,403.0 156.6,402.9 157.9,402.9 159.2,402.8 160.5,403.1 161.8,403.0 163.1,403.1 164.4,403.2 165.7,403.1 167.0,402.9 167.5,403.0 167.5,411.0 167.0,410.5 165.7,410.6 164.4,411.7 163.1,410.5 161.8,411.2 160.5,411.1 159.2,411.1 157.9,411.1 156.6,411.2 155.3,410.8 154.0,411.3 152.7,411.2 151.4,410.5 150.1,411.2 148.8,410.3 147.5,410.2 146.2,410.5 144.9,410.3 143.6,410.9 142.3,410.9 141.0,411.4 139.7,411.4 138.4,410.1 137.1,410.9 135.8,410.4 134.5,410.1 133.2,409.8 131.9,409.8 130.6,409.6 129.3,409.8 128.0,410.0 126.7,410.1 125.4,408.8 124.1,409.2 122.8,408.9 121.5,408.8 120.2,408.2 118.9,408.8 117.6,407.6 116.3,407.7 115.0,408.0 113.7,407.1 112.4,406.5 111.1,407.5 109.8,406.8 108.5,407.6 107.2,407.5 105.9,408.0 104.6,407.7 103.3,407.4 102.0,407.6 100.7,408.9 99.4,407.8 98.1,408.9 96.8,408.0 95.5,408.9 94.2,408.4 92.9,408.6 91.6,409.5 90.3,408.6 89.0,409.1 87.7,409.2 86.4,410.1 85.1,409.4 83.8,409.5 82.5,410.7 81.2,410.7 79.9,410.7 78.6,410.4 77.3,411.1 76.0,411.2 74.7,410.4 73.4,411.1 72.1,411.7 70.8,411.7 69.5,411.2 68.2,411.4 66.9,411.3 65.6,411.2 64.3,410.8 63.0,411.9 61.7,411.2 60.4,411.0 59.1,411.2 57.8,411.6 56.5,411.6 55.2,411.8 53.9,411.6 52.6,411.8 51.3,411.8 50.0,411.5" fill="#8a6414" />
<polygon points="50.0,403.3 51.3,403.5 52.6,403.7 53.9,403.4 55.2,403.4 56.5,403.4 57.8,403.5 59.1,403.4 60.4,403.4 61.7,403.5 63.0,403.4 64.3,403.2 65.6,403.2 66.9,403.3 68.2,403.3 69.5,403.1 70.8,403.3 72.1,403.2 73.4,403.3 74.7,403.0 76.0,403.1 77.3,402.9 78.6,403.1 79.9,403.0 81.2,403.0 82.5,402.9 83.8,403.2 85.1,403.0 86.4,402.8 87.7,402.7 89.0,402.5 90.3,402.6 91.6,402.5 92.9,402.2 94.2,401.9 95.5,402.1 96.8,401.7 98.1,401.5 99.4,401.5 100.7,401.4 102.0,401.4 103.3,401.0 104.6,400.9 105.9,400.9 107.2,400.6 108.5,400.7 109.8,400.6 111.1,400.8 112.4,400.9 113.7,400.7 115.0,400.9 116.3,400.9 117.6,401.3 118.9,401.1 120.2,401.4 121.5,401.7 122.8,401.5 124.1,401.8 125.4,401.9 126.7,402.1 128.0,402.5 129.3,402.3 130.6,402.6 131.9,402.4 133.2,402.7 134.5,402.4 135.8,402.4 137.1,402.8 138.4,402.4 139.7,402.7 141.0,402.5 142.3,402.7 143.6,402.6 144.9,402.8 146.2,402.8 147.5,402.8 148.8,402.6 150.1,402.9 151.4,402.7 152.7,402.8 154.0,402.9 155.3,403.0 156.6,402.9 157.9,402.9 159.2,402.8 160.5,403.1 161.8,403.0 163.1,403.1 164.4,403.2 165.7,403.1 167.0,402.9 167.5,403.0 167.5,409.2 167.0,408.7 165.7,408.8 164.4,409.9 163.1,408.7 161.8,409.4 160.5,409.3 159.2,409.3 157.9,409.3 156.6,409.4 155.3,409.0 154.0,409.5 152.7,409.4 151.4,408.7 150.1,409.4 148.8,408.5 147.5,408.4 146.2,408.7 144.9,408.5 143.6,409.1 142.3,409.1 141.0,409.6 139.7,409.6 138.4,408.3 137.1,409.1 135.8,408.6 134.5,408.3 133.2,408.0 131.9,408.0 130.6,407.8 129.3,408.0 128.0,408.2 126.7,408.3 125.4,407.0 124.1,407.4 122.8,407.1 121.5,407.0 120.2,406.4 118.9,407.0 117.6,405.8 116.3,405.9 115.0,406.2 113.7,405.3 112.4,404.7 111.1,405.7 109.8,405.0 108.5,405.8 107.2,405.7 105.9,406.2 104.6,405.9 103.3,405.6 102.0,405.8 100.7,407.1 99.4,406.0 98.1,407.1 96.8,406.2 95.5,407.1 94.2,406.6 92.9,406.8 91.6,407.7 90.3,406.8 89.0,407.3 87.7,407.4 86.4,408.3 85.1,407.6 83.8,407.7 82.5,408.9 81.2,408.9 79.9,408.9 78.6,408.6 77.3,409.3 76.0,409.4 74.7,408.6 73.4,409.3 72.1,409.9 70.8,409.9 69.5,409.4 68.2,409.6 66.9,409.5 65.6,409.4 64.3,409.0 63.0,410.1 61.7,409.4 60.4,409.2 59.1,409.4 57.8,409.8 56.5,409.8 55.2,410.0 53.9,409.8 52.6,410.0 51.3,410.0 50.0,409.7" fill="#e4dc00" />
<polygon points="50.0,403.7 51.3,403.9 52.6,404.1 53.9,403.8 55.2,403.8 56.5,403.8 57.8,403.9 59.1,403.8 60.4,403.8 61.7,403.9 63.0,403.8 64.3,403.6 65.6,403.6 66.9,403.7 68.2,403.7 69.5,403.5 70.8,403.7 72.1,403.6 73.4,403.7 74.7,403.4 76.0,403.5 77.3,403.3 78.6,403.5 79.9,403.4 81.2,403.4 82.5,403.3 83.8,403.6 85.1,403.4 86.4,403.2 87.7,403.1 89.0,402.9 90.3,403.0 91.6,402.9 92.9,402.6 94.2,402.3 95.5,402.5 96.8,402.1 98.1,401.9 99.4,401.9 100.7,401.8 102.0,401.8 103.3,401.4 104.6,401.3 105.9,401.3 107.2,401.0 108.5,401.1 109.8,401.0 111.1,401.2 112.4,401.3 113.7,401.1 115.0,401.3 116.3,401.3 117.6,401.7 118.9,401.5 120.2,401.8 121.5,402.1 122.8,401.9 124.1,402.2 125.4,402.3 126.7,402.5 128.0,402.9 129.3,402.7 130.6,403.0 131.9,402.8 133.2,403.1 134.5,402.8 135.8,402.8 137.1,403.2 138.4,402.8 139.7,403.1 141.0,402.9 142.3,403.1 143.6,403.0 144.9,403.2 146.2,403.2 147.5,403.2 148.8,403.0 150.1,403.3 151.4,403.1 152.7,403.2 154.0,403.3 155.3,403.4 156.6,403.3 157.9,403.3 159.2,403.2 160.5,403.5 161.8,403.4 163.1,403.5 164.4,403.6 165.7,403.5 167.0,403.3 167.5,403.4 167.5,404.3 167.0,404.2 165.7,404.4 164.4,404.5 163.1,404.4 161.8,404.3 160.5,404.4 159.2,404.1 157.9,404.2 156.6,404.2 155.3,404.3 154.0,404.2 152.7,404.1 151.4,404.0 150.1,404.2 148.8,403.9 147.5,404.1 146.2,404.1 144.9,404.1 143.6,403.9 142.3,404.0 141.0,403.8 139.7,404.0 138.4,403.7 137.1,404.1 135.8,403.7 134.5,403.7 133.2,404.0 131.9,403.7 130.6,403.9 129.3,403.6 128.0,403.8 126.7,403.4 125.4,403.2 124.1,403.1 122.8,402.8 121.5,403.0 120.2,402.7 118.9,402.4 117.6,402.6 116.3,402.2 115.0,402.2 113.7,402.0 112.4,402.2 111.1,402.1 109.8,401.9 108.5,402.0 107.2,401.9 105.9,402.2 104.6,402.2 103.3,402.3 102.0,402.7 100.7,402.7 99.4,402.8 98.1,402.8 96.8,403.0 95.5,403.4 94.2,403.2 92.9,403.5 91.6,403.8 90.3,403.9 89.0,403.8 87.7,404.0 86.4,404.1 85.1,404.3 83.8,404.5 82.5,404.2 81.2,404.3 79.9,404.3 78.6,404.4 77.3,404.2 76.0,404.4 74.7,404.3 73.4,404.6 72.1,404.5 70.8,404.6 69.5,404.4 68.2,404.6 66.9,404.6 65.6,404.5 64.3,404.5 63.0,404.7 61.7,404.8 60.4,404.7 59.1,404.7 57.8,404.8 56.5,404.7 55.2,404.7 53.9,404.7 52.6,405.0 51.3,404.8 50.0,404.6" fill="#a8a010" opacity="0.8"/>
<polygon points="50.0,407.5 51.3,407.8 52.6,407.8 53.9,407.6 55.2,407.8 56.5,407.6 57.8,407.6 59.1,407.2 60.4,407.0 61.7,407.2 63.0,407.9 64.3,406.8 65.6,407.2 66.9,407.3 68.2,407.4 69.5,407.2 70.8,407.7 72.1,407.7 73.4,407.1 74.7,406.4 76.0,407.2 77.3,407.1 78.6,406.4 79.9,406.7 81.2,406.7 82.5,406.7 83.8,405.5 85.1,405.4 86.4,406.1 87.7,405.2 89.0,405.1 90.3,404.6 91.6,405.5 92.9,404.6 94.2,404.4 95.5,404.9 96.8,404.0 98.1,404.9 99.4,403.8 100.7,404.9 102.0,403.6 103.3,403.4 104.6,403.7 105.9,404.0 107.2,403.5 108.5,403.6 109.8,402.8 111.1,403.5 112.4,402.5 113.7,403.1 115.0,404.0 116.3,403.7 117.6,403.6 118.9,404.8 120.2,404.2 121.5,404.8 122.8,404.9 124.1,405.2 125.4,404.8 126.7,406.1 128.0,406.0 129.3,405.8 130.6,405.6 131.9,405.8 133.2,405.8 134.5,406.1 135.8,406.4 137.1,406.9 138.4,406.1 139.7,407.4 141.0,407.4 142.3,406.9 143.6,406.9 144.9,406.3 146.2,406.5 147.5,406.2 148.8,406.3 150.1,407.2 151.4,406.5 152.7,407.2 154.0,407.3 155.3,406.8 156.6,407.2 157.9,407.1 159.2,407.1 160.5,407.1 161.8,407.2 163.1,406.5 164.4,407.7 165.7,406.6 167.0,406.5 167.5,407.0 167.5,407.8 167.0,407.3 165.7,407.4 164.4,408.5 163.1,407.3 161.8,408.0 160.5,407.9 159.2,407.9 157.9,407.9 156.6,408.0 155.3,407.6 154.0,408.1 152.7,408.0 151.4,407.3 150.1,408.0 148.8,407.1 147.5,407.0 146.2,407.3 144.9,407.1 143.6,407.7 142.3,407.7 141.0,408.2 139.7,408.2 138.4,406.9 137.1,407.7 135.8,407.2 134.5,406.9 133.2,406.6 131.9,406.6 130.6,406.4 129.3,406.6 128.0,406.8 126.7,406.9 125.4,405.6 124.1,406.0 122.8,405.7 121.5,405.6 120.2,405.0 118.9,405.6 117.6,404.4 116.3,404.5 115.0,404.8 113.7,403.9 112.4,403.3 111.1,404.3 109.8,403.6 108.5,404.4 107.2,404.3 105.9,404.8 104.6,404.5 103.3,404.2 102.0,404.4 100.7,405.7 99.4,404.6 98.1,405.7 96.8,404.8 95.5,405.7 94.2,405.2 92.9,405.4 91.6,406.3 90.3,405.4 89.0,405.9 87.7,406.0 86.4,406.9 85.1,406.2 83.8,406.3 82.5,407.5 81.2,407.5 79.9,407.5 78.6,407.2 77.3,407.9 76.0,408.0 74.7,407.2 73.4,407.9 72.1,408.5 70.8,408.5 69.5,408.0 68.2,408.2 66.9,408.1 65.6,408.0 64.3,407.6 63.0,408.7 61.7,408.0 60.4,407.8 59.1,408.0 57.8,408.4 56.5,408.4 55.2,408.6 53.9,408.4 52.6,408.6 51.3,408.6 50.0,408.3" fill="#b0a010" opacity="0.45"/>
<polygon points="50.0,400.6 167.5,400.6 167.5,403.0 167.0,402.9 165.7,403.1 164.4,403.2 163.1,403.1 161.8,403.0 160.5,403.1 159.2,402.8 157.9,402.9 156.6,402.9 155.3,403.0 154.0,402.9 152.7,402.8 151.4,402.7 150.1,402.9 148.8,402.6 147.5,402.8 146.2,402.8 144.9,402.8 143.6,402.6 142.3,402.7 141.0,402.5 139.7,402.7 138.4,402.4 137.1,402.8 135.8,402.4 134.5,402.4 133.2,402.7 131.9,402.4 130.6,402.6 129.3,402.3 128.0,402.5 126.7,402.1 125.4,401.9 124.1,401.8 122.8,401.5 121.5,401.7 120.2,401.4 118.9,401.1 117.6,401.3 116.3,400.9 115.0,400.9 113.7,400.7 112.4,400.9 111.1,400.8 109.8,400.6 108.5,400.7 107.2,400.6 105.9,400.9 104.6,400.9 103.3,401.0 102.0,401.4 100.7,401.4 99.4,401.5 98.1,401.5 96.8,401.7 95.5,402.1 94.2,401.9 92.9,402.2 91.6,402.5 90.3,402.6 89.0,402.5 87.7,402.7 86.4,402.8 85.1,403.0 83.8,403.2 82.5,402.9 81.2,403.0 79.9,403.0 78.6,403.1 77.3,402.9 76.0,403.1 74.7,403.0 73.4,403.3 72.1,403.2 70.8,403.3 69.5,403.1 68.2,403.3 66.9,403.3 65.6,403.2 64.3,403.2 63.0,403.4 61.7,403.5 60.4,403.4 59.1,403.4 57.8,403.5 56.5,403.4 55.2,403.4 53.9,403.4 52.6,403.7 51.3,403.5 50.0,403.3" fill="#16c024" />
<polygon points="50.0,399.1 167.5,399.1 167.5,400.3 50.0,400.3" fill="#2a6cd4" />
<polygon points="50.0,400.3 167.5,400.3 167.5,400.8 50.0,400.8" fill="#30b8b0" />
</g>
</g>
<g clip-path="url(#cl21)">
<g filter="url(#soft)">
<polygon points="175.0,399.6 176.8,390.0 178.6,399.6" fill="url(#gP)" />
<polygon points="177.8,399.6 180.0,374.8 182.2,399.6" fill="url(#gH)" opacity="0.85"/>
<polygon points="183.0,399.6 184.8,390.0 186.6,399.6" fill="url(#gP)" />
<polygon points="186.2,399.6 188.4,376.3 190.6,399.6" fill="url(#gH)" opacity="0.85"/>
<polygon points="197.8,399.6 200.0,377.0 202.2,399.6" fill="url(#gH)" opacity="0.85"/>
<polygon points="201.9,399.6 204.1,374.8 206.2,399.6" fill="url(#gH)" opacity="0.85"/>
<polygon points="205.2,399.6 207.3,374.8 209.5,399.6" fill="url(#gH)" opacity="0.85"/>
<polygon points="209.2,399.6 211.4,374.1 213.6,399.6" fill="url(#gH)" opacity="0.85"/>
<polygon points="216.0,399.6 218.2,371.9 220.3,399.6" fill="url(#gH)" opacity="0.85"/>
<polygon points="219.4,399.6 221.6,375.5 223.8,399.6" fill="url(#gH)" opacity="0.85"/>
<polygon points="223.5,399.6 225.3,382.0 225.7,382.0 227.5,399.6" fill="url(#gM)" />
<polygon points="231.6,399.6 233.5,370.8 235.4,399.6" fill="url(#gH)" opacity="0.85"/>
<polygon points="236.2,399.6 238.3,373.8 240.5,399.6" fill="url(#gH)" opacity="0.85"/>
<polygon points="238.3,399.6 240.1,378.0 240.5,378.0 242.3,399.6" fill="url(#gM)" />
<polygon points="240.7,399.6 242.8,373.5 245.0,399.6" fill="url(#gH)" opacity="0.85"/>
<polygon points="248.7,399.6 250.8,374.5 253.0,399.6" fill="url(#gH)" opacity="0.85"/>
<polygon points="251.0,399.6 252.8,380.0 253.2,380.0 255.0,399.6" fill="url(#gM)" />
<polygon points="256.9,399.6 259.0,377.5 261.1,399.6" fill="url(#gH)" opacity="0.85"/>
<polygon points="261.4,399.6 263.5,375.5 265.6,399.6" fill="url(#gH)" opacity="0.85"/>
<polygon points="264.9,399.6 267.3,375.3 269.7,399.6" fill="url(#gH)" opacity="0.85"/>
<polygon points="267.9,399.6 270.3,375.3 272.7,399.6" fill="url(#gH)" opacity="0.85"/>
<polygon points="270.5,399.6 272.3,380.0 272.7,380.0 274.5,399.6" fill="url(#gM)" />
<polygon points="273.4,399.6 275.5,373.0 277.6,399.6" fill="url(#gH)" opacity="0.85"/>
<polygon points="277.2,399.6 279.3,374.5 281.4,399.6" fill="url(#gH)" opacity="0.85"/>
<polygon points="280.2,399.6 282.3,375.5 284.4,399.6" fill="url(#gH)" opacity="0.85"/>
<polygon points="284.7,399.6 286.8,373.8 288.9,399.6" fill="url(#gH)" opacity="0.85"/>
<polygon points="178.8,399.6 179.8,377.3 180.2,377.3 181.2,399.6" fill="url(#gB)" />
<polygon points="187.2,399.6 188.2,378.8 188.7,378.8 189.6,399.6" fill="url(#gB)" />
<polygon points="198.8,399.6 199.8,379.5 200.2,379.5 201.2,399.6" fill="url(#gB)" />
<polygon points="202.9,399.6 203.8,377.3 204.3,377.3 205.3,399.6" fill="url(#gB)" />
<polygon points="206.1,399.6 207.1,377.3 207.6,377.3 208.5,399.6" fill="url(#gB)" />
<polygon points="210.2,399.6 211.2,376.6 211.7,376.6 212.6,399.6" fill="url(#gB)" />
<polygon points="217.0,399.6 217.9,374.4 218.4,374.4 219.4,399.6" fill="url(#gT)" />
<polygon points="220.4,399.6 221.3,378.0 221.8,378.0 222.8,399.6" fill="url(#gB)" />
<polygon points="225.0,399.6 225.5,389.9 226.0,399.6" fill="#7a24d8" opacity="0.65"/>
<polygon points="232.5,399.6 233.2,373.3 233.8,373.3 234.5,399.6" fill="url(#gT)" />
<polygon points="237.1,399.6 238.1,376.3 238.6,376.3 239.5,399.6" fill="url(#gB)" />
<polygon points="239.8,399.6 240.3,387.7 240.8,399.6" fill="#7a24d8" opacity="0.65"/>
<polygon points="241.6,399.6 242.6,376.0 243.1,376.0 244.0,399.6" fill="url(#gB)" />
<polygon points="249.6,399.6 250.6,377.0 251.1,377.0 252.0,399.6" fill="url(#gB)" />
<polygon points="252.5,399.6 253.0,388.8 253.5,399.6" fill="#7a24d8" opacity="0.65"/>
<polygon points="257.8,399.6 258.8,380.0 259.2,380.0 260.2,399.6" fill="url(#gB)" />
<polygon points="262.3,399.6 263.2,378.0 263.8,378.0 264.7,399.6" fill="url(#gB)" />
<polygon points="265.9,399.6 267.1,377.8 267.6,377.8 268.7,399.6" fill="url(#gB)" />
<polygon points="268.9,399.6 270.1,377.8 270.6,377.8 271.7,399.6" fill="url(#gB)" />
<polygon points="272.0,399.6 272.5,388.8 273.0,399.6" fill="#7a24d8" opacity="0.65"/>
<polygon points="274.3,399.6 275.2,375.5 275.8,375.5 276.7,399.6" fill="url(#gB)" />
<polygon points="278.1,399.6 279.1,377.0 279.6,377.0 280.5,399.6" fill="url(#gB)" />
<polygon points="281.1,399.6 282.1,378.0 282.6,378.0 283.5,399.6" fill="url(#gB)" />
<polygon points="285.6,399.6 286.6,376.3 287.1,376.3 288.0,399.6" fill="url(#gB)" />
<polygon points="172.0,399.6 289.5,399.6 289.5,428.1 172.0,428.1" fill="url(#gOr)" />
<path d="M231.4 403.6V427.1 M225.3 403.6V427.1 M237.6 403.6V427.1 M217.1 403.6V427.1 M270.1 403.6V427.1 M190.7 403.6V427.1 M224.9 403.6V427.1 M261.6 403.6V427.1 M243.2 403.6V427.1 M278.4 403.6V427.1 M205.9 403.6V427.1 M214.1 403.6V427.1 M207.8 403.6V427.1 M187.5 403.6V427.1 M180.9 403.6V427.1 M232.4 403.6V427.1 M207.0 403.6V427.1 M240.1 403.6V427.1 M284.9 403.6V427.1 M288.9 403.6V427.1 M263.5 403.6V427.1 M210.9 403.6V427.1 M217.1 403.6V427.1 M277.6 403.6V427.1 M199.5 403.6V427.1 M268.8 403.6V427.1 M200.8 403.6V427.1 M224.6 403.6V427.1 M237.5 403.6V427.1 M284.8 403.6V427.1 M258.0 403.6V427.1 M270.6 403.6V427.1 M213.0 403.6V427.1 M213.0 403.6V427.1 M274.2 403.6V427.1 M240.8 403.6V427.1 M256.5 403.6V427.1 M183.5 403.6V427.1 M179.3 403.6V427.1 M222.2 403.6V427.1 M208.1 403.6V427.1 M203.3 403.6V427.1 M267.9 403.6V427.1 M280.1 403.6V427.1 M198.4 403.6V427.1" stroke="#7a3a0c" stroke-opacity="0.25" stroke-width="0.8"/>
<polygon points="172.0,417.0 173.1,413.9 174.2,417.1 175.3,415.0 176.4,413.8 177.5,414.0 178.6,415.7 179.7,416.2 180.8,417.0 181.9,416.9 183.0,414.1 184.1,417.1 185.2,414.0 186.3,416.9 187.4,415.4 188.5,415.9 189.6,416.6 190.7,414.4 191.8,413.8 192.9,417.0 194.0,414.2 195.1,414.6 196.2,413.8 197.3,415.0 198.4,414.6 199.5,415.3 200.6,417.2 201.7,415.4 202.8,415.1 203.9,416.4 205.0,416.1 206.1,414.1 207.2,416.7 208.3,416.5 209.4,414.3 210.5,415.4 211.6,415.8 212.7,414.7 213.8,415.9 214.9,415.7 216.0,414.9 217.1,416.3 218.2,413.8 219.3,416.0 220.4,416.2 221.5,415.8 222.6,416.7 223.7,416.3 224.8,414.9 225.9,413.3 227.0,413.4 228.1,413.1 229.2,414.0 230.3,418.1 231.4,419.4 232.5,418.2 233.6,417.8 234.7,415.6 235.8,415.9 236.9,415.1 238.0,416.4 239.1,412.7 240.2,415.7 241.3,413.8 242.4,413.5 243.5,415.7 244.6,414.6 245.7,415.6 246.8,413.8 247.9,414.0 249.0,415.4 250.1,415.2 251.2,414.6 252.3,414.6 253.4,415.4 254.5,415.4 255.6,415.3 256.7,415.6 257.8,412.7 258.9,416.2 260.0,413.7 261.1,415.8 262.2,413.8 263.3,415.6 264.4,413.5 265.5,414.0 266.6,413.4 267.7,413.7 268.8,413.7 269.9,414.2 271.0,413.8 272.1,414.2 273.2,416.1 274.3,413.3 275.4,412.8 276.5,416.4 277.6,412.6 278.7,413.6 279.8,412.7 280.9,415.6 282.0,414.2 283.1,416.4 284.2,413.5 285.3,414.8 286.4,413.4 287.5,414.9 288.6,415.2 289.5,414.5 289.5,428.1 172.0,428.1" fill="#94481a" opacity="0.55"/>
<polygon points="172.0,420.0 173.1,416.9 174.2,420.1 175.3,418.0 176.4,416.8 177.5,417.0 178.6,418.7 179.7,419.2 180.8,420.0 181.9,419.9 183.0,417.1 184.1,420.1 185.2,417.0 186.3,419.9 187.4,418.4 188.5,418.9 189.6,419.6 190.7,417.4 191.8,416.8 192.9,420.0 194.0,417.2 195.1,417.6 196.2,416.8 197.3,418.0 198.4,417.6 199.5,418.3 200.6,420.2 201.7,418.4 202.8,418.1 203.9,419.4 205.0,419.1 206.1,417.1 207.2,419.7 208.3,419.5 209.4,417.3 210.5,418.4 211.6,418.8 212.7,417.7 213.8,418.9 214.9,418.7 216.0,417.9 217.1,419.3 218.2,416.8 219.3,419.0 220.4,419.2 221.5,418.8 222.6,419.7 223.7,419.3 224.8,417.9 225.9,416.3 227.0,416.4 228.1,416.1 229.2,417.0 230.3,421.1 231.4,422.4 232.5,421.2 233.6,420.8 234.7,418.6 235.8,418.9 236.9,418.1 238.0,419.4 239.1,415.7 240.2,418.7 241.3,416.8 242.4,416.5 243.5,418.7 244.6,417.6 245.7,418.6 246.8,416.8 247.9,417.0 249.0,418.4 250.1,418.2 251.2,417.6 252.3,417.6 253.4,418.4 254.5,418.4 255.6,418.3 256.7,418.6 257.8,415.7 258.9,419.2 260.0,416.7 261.1,418.8 262.2,416.8 263.3,418.6 264.4,416.5 265.5,417.0 266.6,416.4 267.7,416.7 268.8,416.7 269.9,417.2 271.0,416.8 272.1,417.2 273.2,419.1 274.3,416.3 275.4,415.8 276.5,419.4 277.6,415.6 278.7,416.6 279.8,415.7 280.9,418.6 282.0,417.2 283.1,419.4 284.2,416.5 285.3,417.8 286.4,416.4 287.5,417.9 288.6,418.2 289.5,417.5 289.5,428.1 172.0,428.1" fill="#a01a1a" />
<path d="M195.9 414.6V427.1 M182.9 414.6V427.1 M249.5 414.6V427.1 M240.9 414.6V427.1 M246.5 414.6V427.1 M213.7 414.6V427.1 M225.0 414.6V427.1 M276.4 414.6V427.1 M268.1 414.6V427.1 M203.1 414.6V427.1 M204.1 414.6V427.1 M180.7 414.6V427.1 M258.0 414.6V427.1 M176.8 414.6V427.1 M251.8 414.6V427.1 M283.9 414.6V427.1 M271.5 414.6V427.1 M215.8 414.6V427.1 M267.1 414.6V427.1 M187.4 414.6V427.1 M262.4 414.6V427.1 M193.2 414.6V427.1 M251.8 414.6V427.1 M174.9 414.6V427.1 M231.3 414.6V427.1 M281.0 414.6V427.1 M197.0 414.6V427.1 M184.1 414.6V427.1 M221.8 414.6V427.1 M172.9 414.6V427.1" stroke="#600808" stroke-opacity="0.18" stroke-width="0.8"/>
<polygon points="172.0,402.7 173.3,402.8 174.6,402.8 175.9,403.0 177.2,402.9 178.5,402.9 179.8,402.9 181.1,402.6 182.4,402.9 183.7,402.7 185.0,402.8 186.3,402.6 187.6,402.7 188.9,402.9 190.2,402.6 191.5,402.6 192.8,402.7 194.1,402.7 195.4,402.7 196.7,402.7 198.0,402.6 199.3,402.5 200.6,402.7 201.9,402.6 203.2,402.7 204.5,402.7 205.8,402.8 207.1,402.7 208.4,402.7 209.7,402.8 211.0,402.9 212.3,402.8 213.6,402.5 214.9,402.6 216.2,402.9 217.5,402.9 218.8,402.6 220.1,402.6 221.4,402.5 222.7,402.5 224.0,402.5 225.3,402.9 226.6,402.8 227.9,402.6 229.2,402.5 230.5,402.8 231.8,402.7 233.1,402.8 234.4,402.6 235.7,402.8 237.0,402.8 238.3,402.7 239.6,402.7 240.9,402.7 242.2,402.6 243.5,402.8 244.8,402.5 246.1,402.6 247.4,402.6 248.7,402.6 250.0,402.7 251.3,402.4 252.6,402.6 253.9,402.6 255.2,402.5 256.5,402.6 257.8,402.7 259.1,402.6 260.4,402.6 261.7,402.5 263.0,402.8 264.3,402.7 265.6,402.6 266.9,402.4 268.2,402.5 269.5,402.6 270.8,402.4 272.1,402.5 273.4,402.5 274.7,402.4 276.0,402.7 277.3,402.7 278.6,402.4 279.9,402.4 281.2,402.4 282.5,402.6 283.8,402.4 285.1,402.6 286.4,402.7 287.7,402.3 289.0,402.6 289.5,402.5 289.5,407.3 289.0,406.7 287.7,406.7 286.4,407.8 285.1,406.9 283.8,407.1 282.5,407.2 281.2,406.8 279.9,407.3 278.6,407.5 277.3,407.6 276.0,406.8 274.7,408.1 273.4,407.5 272.1,407.7 270.8,407.1 269.5,406.9 268.2,407.4 266.9,407.6 265.6,407.4 264.3,406.9 263.0,407.0 261.7,407.9 260.4,407.7 259.1,407.5 257.8,406.9 256.5,408.0 255.2,407.3 253.9,407.7 252.6,407.3 251.3,407.8 250.0,408.3 248.7,407.2 247.4,407.6 246.1,407.9 244.8,407.4 243.5,408.3 242.2,407.4 240.9,407.1 239.6,407.9 238.3,407.9 237.0,407.3 235.7,407.5 234.4,407.5 233.1,409.6 231.8,413.6 230.5,413.5 229.2,410.4 227.9,409.8 226.6,410.0 225.3,410.0 224.0,410.0 222.7,410.2 221.4,409.6 220.1,409.3 218.8,410.4 217.5,409.9 216.2,410.0 214.9,410.1 213.6,410.3 212.3,409.4 211.0,409.5 209.7,409.9 208.4,410.4 207.1,409.7 205.8,409.5 204.5,410.4 203.2,409.3 201.9,409.9 200.6,409.5 199.3,410.1 198.0,409.1 196.7,410.1 195.4,409.3 194.1,409.7 192.8,409.4 191.5,410.3 190.2,409.9 188.9,409.7 187.6,410.2 186.3,409.4 185.0,409.2 183.7,409.1 182.4,410.2 181.1,409.4 179.8,409.3 178.5,409.9 177.2,409.1 175.9,409.5 174.6,409.1 173.3,410.2 172.0,409.7" fill="#8a6414" />
<polygon points="172.0,402.7 173.3,402.8 174.6,402.8 175.9,403.0 177.2,402.9 178.5,402.9 179.8,402.9 181.1,402.6 182.4,402.9 183.7,402.7 185.0,402.8 186.3,402.6 187.6,402.7 188.9,402.9 190.2,402.6 191.5,402.6 192.8,402.7 194.1,402.7 195.4,402.7 196.7,402.7 198.0,402.6 199.3,402.5 200.6,402.7 201.9,402.6 203.2,402.7 204.5,402.7 205.8,402.8 207.1,402.7 208.4,402.7 209.7,402.8 211.0,402.9 212.3,402.8 213.6,402.5 214.9,402.6 216.2,402.9 217.5,402.9 218.8,402.6 220.1,402.6 221.4,402.5 222.7,402.5 224.0,402.5 225.3,402.9 226.6,402.8 227.9,402.6 229.2,402.5 230.5,402.8 231.8,402.7 233.1,402.8 234.4,402.6 235.7,402.8 237.0,402.8 238.3,402.7 239.6,402.7 240.9,402.7 242.2,402.6 243.5,402.8 244.8,402.5 246.1,402.6 247.4,402.6 248.7,402.6 250.0,402.7 251.3,402.4 252.6,402.6 253.9,402.6 255.2,402.5 256.5,402.6 257.8,402.7 259.1,402.6 260.4,402.6 261.7,402.5 263.0,402.8 264.3,402.7 265.6,402.6 266.9,402.4 268.2,402.5 269.5,402.6 270.8,402.4 272.1,402.5 273.4,402.5 274.7,402.4 276.0,402.7 277.3,402.7 278.6,402.4 279.9,402.4 281.2,402.4 282.5,402.6 283.8,402.4 285.1,402.6 286.4,402.7 287.7,402.3 289.0,402.6 289.5,402.5 289.5,405.5 289.0,404.9 287.7,404.9 286.4,406.0 285.1,405.1 283.8,405.3 282.5,405.4 281.2,405.0 279.9,405.5 278.6,405.7 277.3,405.8 276.0,405.0 274.7,406.3 273.4,405.7 272.1,405.9 270.8,405.3 269.5,405.1 268.2,405.6 266.9,405.8 265.6,405.6 264.3,405.1 263.0,405.2 261.7,406.1 260.4,405.9 259.1,405.7 257.8,405.1 256.5,406.2 255.2,405.5 253.9,405.9 252.6,405.5 251.3,406.0 250.0,406.5 248.7,405.4 247.4,405.8 246.1,406.1 244.8,405.6 243.5,406.5 242.2,405.6 240.9,405.3 239.6,406.1 238.3,406.1 237.0,405.5 235.7,405.7 234.4,405.7 233.1,407.8 231.8,411.8 230.5,411.7 229.2,408.6 227.9,408.0 226.6,408.2 225.3,408.2 224.0,408.2 222.7,408.4 221.4,407.8 220.1,407.5 218.8,408.6 217.5,408.1 216.2,408.2 214.9,408.3 213.6,408.5 212.3,407.6 211.0,407.7 209.7,408.1 208.4,408.6 207.1,407.9 205.8,407.7 204.5,408.6 203.2,407.5 201.9,408.1 200.6,407.7 199.3,408.3 198.0,407.3 196.7,408.3 195.4,407.5 194.1,407.9 192.8,407.6 191.5,408.5 190.2,408.1 188.9,407.9 187.6,408.4 186.3,407.6 185.0,407.4 183.7,407.3 182.4,408.4 181.1,407.6 179.8,407.5 178.5,408.1 177.2,407.3 175.9,407.7 174.6,407.3 173.3,408.4 172.0,407.9" fill="#e4dc00" />
<polygon points="172.0,403.1 173.3,403.2 174.6,403.2 175.9,403.4 177.2,403.3 178.5,403.3 179.8,403.3 181.1,403.0 182.4,403.3 183.7,403.1 185.0,403.2 186.3,403.0 187.6,403.1 188.9,403.3 190.2,403.0 191.5,403.0 192.8,403.1 194.1,403.1 195.4,403.1 196.7,403.1 198.0,403.0 199.3,402.9 200.6,403.1 201.9,403.0 203.2,403.1 204.5,403.1 205.8,403.2 207.1,403.1 208.4,403.1 209.7,403.2 211.0,403.3 212.3,403.2 213.6,402.9 214.9,403.0 216.2,403.3 217.5,403.3 218.8,403.0 220.1,403.0 221.4,402.9 222.7,402.9 224.0,402.9 225.3,403.3 226.6,403.2 227.9,403.0 229.2,402.9 230.5,403.2 231.8,403.1 233.1,403.2 234.4,403.0 235.7,403.2 237.0,403.2 238.3,403.1 239.6,403.1 240.9,403.1 242.2,403.0 243.5,403.2 244.8,402.9 246.1,403.0 247.4,403.0 248.7,403.0 250.0,403.1 251.3,402.8 252.6,403.0 253.9,403.0 255.2,402.9 256.5,403.0 257.8,403.1 259.1,403.0 260.4,403.0 261.7,402.9 263.0,403.2 264.3,403.1 265.6,403.0 266.9,402.8 268.2,402.9 269.5,403.0 270.8,402.8 272.1,402.9 273.4,402.9 274.7,402.8 276.0,403.1 277.3,403.1 278.6,402.8 279.9,402.8 281.2,402.8 282.5,403.0 283.8,402.8 285.1,403.0 286.4,403.1 287.7,402.7 289.0,403.0 289.5,402.9 289.5,403.8 289.0,403.9 287.7,403.6 286.4,404.0 285.1,403.9 283.8,403.7 282.5,403.9 281.2,403.7 279.9,403.7 278.6,403.7 277.3,404.0 276.0,404.0 274.7,403.7 273.4,403.8 272.1,403.8 270.8,403.7 269.5,403.9 268.2,403.8 266.9,403.7 265.6,403.9 264.3,404.0 263.0,404.1 261.7,403.8 260.4,403.9 259.1,403.9 257.8,404.0 256.5,403.9 255.2,403.8 253.9,403.9 252.6,403.9 251.3,403.7 250.0,404.0 248.7,403.9 247.4,403.9 246.1,403.9 244.8,403.8 243.5,404.1 242.2,403.9 240.9,404.0 239.6,404.0 238.3,404.0 237.0,404.1 235.7,404.1 234.4,403.9 233.1,404.1 231.8,404.0 230.5,404.1 229.2,403.8 227.9,403.9 226.6,404.1 225.3,404.2 224.0,403.8 222.7,403.8 221.4,403.8 220.1,403.9 218.8,403.9 217.5,404.2 216.2,404.2 214.9,403.9 213.6,403.8 212.3,404.1 211.0,404.2 209.7,404.1 208.4,404.0 207.1,404.0 205.8,404.1 204.5,404.0 203.2,404.0 201.9,403.9 200.6,404.0 199.3,403.8 198.0,403.9 196.7,404.0 195.4,404.0 194.1,404.0 192.8,404.0 191.5,403.9 190.2,403.9 188.9,404.2 187.6,404.0 186.3,403.9 185.0,404.1 183.7,404.0 182.4,404.2 181.1,403.9 179.8,404.2 178.5,404.2 177.2,404.2 175.9,404.3 174.6,404.1 173.3,404.1 172.0,404.0" fill="#a8a010" opacity="0.8"/>
<polygon points="172.0,405.7 173.3,406.2 174.6,405.1 175.9,405.5 177.2,405.1 178.5,405.9 179.8,405.3 181.1,405.4 182.4,406.2 183.7,405.1 185.0,405.2 186.3,405.4 187.6,406.2 188.9,405.7 190.2,405.9 191.5,406.3 192.8,405.4 194.1,405.7 195.4,405.3 196.7,406.1 198.0,405.1 199.3,406.1 200.6,405.5 201.9,405.9 203.2,405.3 204.5,406.4 205.8,405.5 207.1,405.7 208.4,406.4 209.7,405.9 211.0,405.5 212.3,405.4 213.6,406.3 214.9,406.1 216.2,406.0 217.5,405.9 218.8,406.4 220.1,405.3 221.4,405.6 222.7,406.2 224.0,406.0 225.3,406.0 226.6,406.0 227.9,405.8 229.2,406.4 230.5,409.5 231.8,409.6 233.1,405.6 234.4,403.5 235.7,403.5 237.0,403.3 238.3,403.9 239.6,403.9 240.9,403.1 242.2,403.4 243.5,404.3 244.8,403.4 246.1,403.9 247.4,403.6 248.7,403.2 250.0,404.3 251.3,403.8 252.6,403.3 253.9,403.7 255.2,403.3 256.5,404.0 257.8,402.9 259.1,403.5 260.4,403.7 261.7,403.9 263.0,403.0 264.3,402.9 265.6,403.4 266.9,403.6 268.2,403.4 269.5,402.9 270.8,403.1 272.1,403.7 273.4,403.5 274.7,404.1 276.0,402.8 277.3,403.6 278.6,403.5 279.9,403.3 281.2,402.8 282.5,403.2 283.8,403.1 285.1,402.9 286.4,403.8 287.7,402.7 289.0,402.7 289.5,403.3 289.5,404.1 289.0,403.5 287.7,403.5 286.4,404.6 285.1,403.7 283.8,403.9 282.5,404.0 281.2,403.6 279.9,404.1 278.6,404.3 277.3,404.4 276.0,403.6 274.7,404.9 273.4,404.3 272.1,404.5 270.8,403.9 269.5,403.7 268.2,404.2 266.9,404.4 265.6,404.2 264.3,403.7 263.0,403.8 261.7,404.7 260.4,404.5 259.1,404.3 257.8,403.7 256.5,404.8 255.2,404.1 253.9,404.5 252.6,404.1 251.3,404.6 250.0,405.1 248.7,404.0 247.4,404.4 246.1,404.7 244.8,404.2 243.5,405.1 242.2,404.2 240.9,403.9 239.6,404.7 238.3,404.7 237.0,404.1 235.7,404.3 234.4,404.3 233.1,406.4 231.8,410.4 230.5,410.3 229.2,407.2 227.9,406.6 226.6,406.8 225.3,406.8 224.0,406.8 222.7,407.0 221.4,406.4 220.1,406.1 218.8,407.2 217.5,406.7 216.2,406.8 214.9,406.9 213.6,407.1 212.3,406.2 211.0,406.3 209.7,406.7 208.4,407.2 207.1,406.5 205.8,406.3 204.5,407.2 203.2,406.1 201.9,406.7 200.6,406.3 199.3,406.9 198.0,405.9 196.7,406.9 195.4,406.1 194.1,406.5 192.8,406.2 191.5,407.1 190.2,406.7 188.9,406.5 187.6,407.0 186.3,406.2 185.0,406.0 183.7,405.9 182.4,407.0 181.1,406.2 179.8,406.1 178.5,406.7 177.2,405.9 175.9,406.3 174.6,405.9 173.3,407.0 172.0,406.5" fill="#b0a010" opacity="0.45"/>
<polygon points="172.0,400.6 289.5,400.6 289.5,402.5 289.0,402.6 287.7,402.3 286.4,402.7 285.1,402.6 283.8,402.4 282.5,402.6 281.2,402.4 279.9,402.4 278.6,402.4 277.3,402.7 276.0,402.7 274.7,402.4 273.4,402.5 272.1,402.5 270.8,402.4 269.5,402.6 268.2,402.5 266.9,402.4 265.6,402.6 264.3,402.7 263.0,402.8 261.7,402.5 260.4,402.6 259.1,402.6 257.8,402.7 256.5,402.6 255.2,402.5 253.9,402.6 252.6,402.6 251.3,402.4 250.0,402.7 248.7,402.6 247.4,402.6 246.1,402.6 244.8,402.5 243.5,402.8 242.2,402.6 240.9,402.7 239.6,402.7 238.3,402.7 237.0,402.8 235.7,402.8 234.4,402.6 233.1,402.8 231.8,402.7 230.5,402.8 229.2,402.5 227.9,402.6 226.6,402.8 225.3,402.9 224.0,402.5 222.7,402.5 221.4,402.5 220.1,402.6 218.8,402.6 217.5,402.9 216.2,402.9 214.9,402.6 213.6,402.5 212.3,402.8 211.0,402.9 209.7,402.8 208.4,402.7 207.1,402.7 205.8,402.8 204.5,402.7 203.2,402.7 201.9,402.6 200.6,402.7 199.3,402.5 198.0,402.6 196.7,402.7 195.4,402.7 194.1,402.7 192.8,402.7 191.5,402.6 190.2,402.6 188.9,402.9 187.6,402.7 186.3,402.6 185.0,402.8 183.7,402.7 182.4,402.9 181.1,402.6 179.8,402.9 178.5,402.9 177.2,402.9 175.9,403.0 174.6,402.8 173.3,402.8 172.0,402.7" fill="#16c024" />
<polygon points="172.0,399.1 289.5,399.1 289.5,400.3 172.0,400.3" fill="#2a6cd4" />
<polygon points="172.0,400.3 289.5,400.3 289.5,400.8 172.0,400.8" fill="#30b8b0" />
<polygon points="226.8,411.3 234.8,411.3 232.1,427.1 230.1,427.1" fill="#7a3c10" opacity="0.55"/>
<polygon points="230.3,401.6 232.3,401.6 231.8,418.3 231.6,427.1 231.0,427.1 230.8,418.3" fill="#b0a018" opacity="0.9"/>
<polygon points="230.9,393.6 231.7,393.6 231.8,401.6 230.8,401.6" fill="#20b060" opacity="0.8"/>
</g>
</g>
<g clip-path="url(#cl22)">
<g filter="url(#soft)">
<polygon points="292.7,399.9 294.5,385.0 294.9,385.0 296.7,399.9" fill="url(#gM)" />
<polygon points="295.9,399.9 297.9,381.0 298.3,381.0 300.4,399.9" fill="url(#gM)" />
<polygon points="299.1,399.9 301.7,374.8 304.3,399.9" fill="url(#gH)" opacity="0.85"/>
<polygon points="305.2,399.9 307.3,381.7 307.7,381.7 309.8,399.9" fill="url(#gM)" />
<polygon points="310.5,399.9 312.6,377.8 314.8,399.9" fill="url(#gH)" opacity="0.85"/>
<polygon points="314.4,399.9 316.2,385.0 318.0,399.9" fill="url(#gP)" />
<polygon points="317.8,399.9 319.9,377.8 322.0,399.9" fill="url(#gH)" opacity="0.85"/>
<polygon points="321.0,399.9 322.8,385.0 324.6,399.9" fill="url(#gP)" />
<polygon points="324.6,399.9 326.7,375.5 328.8,399.9" fill="url(#gH)" opacity="0.85"/>
<polygon points="330.4,399.9 332.2,385.0 334.0,399.9" fill="url(#gP)" />
<polygon points="335.2,399.9 337.3,375.5 339.4,399.9" fill="url(#gH)" opacity="0.85"/>
<polygon points="343.3,399.9 345.1,380.0 345.5,380.0 347.3,399.9" fill="url(#gM)" />
<polygon points="348.5,399.9 350.4,372.7 352.3,399.9" fill="url(#gH)" opacity="0.85"/>
<polygon points="360.3,399.9 362.2,373.2 364.1,399.9" fill="url(#gH)" opacity="0.85"/>
<polygon points="364.0,399.9 365.8,380.0 366.2,380.0 368.0,399.9" fill="url(#gM)" />
<polygon points="367.7,399.9 369.8,374.5 371.9,399.9" fill="url(#gH)" opacity="0.85"/>
<polygon points="371.6,399.9 373.4,380.0 373.8,380.0 375.6,399.9" fill="url(#gM)" />
<polygon points="375.4,399.9 377.5,372.5 379.6,399.9" fill="url(#gH)" opacity="0.85"/>
<polygon points="378.4,399.9 380.5,373.9 382.6,399.9" fill="url(#gH)" opacity="0.85"/>
<polygon points="380.8,399.9 382.6,380.0 383.0,380.0 384.8,399.9" fill="url(#gM)" />
<polygon points="294.2,399.9 294.7,391.7 295.2,399.9" fill="#7a24d8" opacity="0.65"/>
<polygon points="297.5,399.9 298.1,389.5 298.7,399.9" fill="#7a24d8" opacity="0.65"/>
<polygon points="300.0,399.9 301.4,377.3 301.9,377.3 303.4,399.9" fill="url(#gB)" />
<polygon points="306.9,399.9 307.5,389.9 308.1,399.9" fill="#7a24d8" opacity="0.65"/>
<polygon points="311.4,399.9 312.4,380.3 312.9,380.3 313.8,399.9" fill="url(#gB)" />
<polygon points="318.7,399.9 319.6,380.3 320.1,380.3 321.1,399.9" fill="url(#gB)" />
<polygon points="325.5,399.9 326.4,378.0 326.9,378.0 327.9,399.9" fill="url(#gB)" />
<polygon points="336.1,399.9 337.1,378.0 337.6,378.0 338.5,399.9" fill="url(#gB)" />
<polygon points="344.8,399.9 345.3,389.0 345.8,399.9" fill="#7a24d8" opacity="0.65"/>
<polygon points="349.4,399.9 350.1,375.2 350.6,375.2 351.4,399.9" fill="url(#gT)" />
<polygon points="361.2,399.9 361.9,375.7 362.4,375.7 363.2,399.9" fill="url(#gB)" />
<polygon points="365.5,399.9 366.0,389.0 366.5,399.9" fill="#7a24d8" opacity="0.65"/>
<polygon points="368.6,399.9 369.6,377.0 370.1,377.0 371.0,399.9" fill="url(#gB)" />
<polygon points="373.1,399.9 373.6,389.0 374.1,399.9" fill="#7a24d8" opacity="0.65"/>
<polygon points="376.3,399.9 377.2,375.0 377.8,375.0 378.7,399.9" fill="url(#gT)" />
<polygon points="379.3,399.9 380.2,376.4 380.8,376.4 381.7,399.9" fill="url(#gB)" />
<polygon points="382.3,399.9 382.8,389.0 383.3,399.9" fill="#7a24d8" opacity="0.65"/>
<polygon points="382.0,399.9 384.3,377.0 384.7,377.0 387.0,399.9" fill="url(#gM)" />
<polygon points="383.8,399.9 384.5,387.3 385.2,399.9" fill="#7a24d8" opacity="0.65"/>
<polygon points="382.8,399.9 385.5,377.6 388.2,399.9" fill="url(#gH)" opacity="0.85"/>
<polygon points="385.4,399.9 388.0,373.1 390.6,399.9" fill="url(#gH)" opacity="0.85"/>
<polygon points="387.6,399.9 390.3,372.7 392.9,399.9" fill="url(#gH)" opacity="0.85"/>
<polygon points="389.8,399.9 392.5,373.3 395.3,399.9" fill="url(#gH)" opacity="0.85"/>
<polygon points="391.4,399.9 394.1,373.3 396.9,399.9" fill="url(#gH)" opacity="0.85"/>
<polygon points="393.3,399.9 396.1,372.4 398.9,399.9" fill="url(#gH)" opacity="0.85"/>
<polygon points="396.0,399.9 398.3,374.6 400.7,399.9" fill="url(#gH)" opacity="0.85"/>
<polygon points="397.7,399.9 400.1,374.1 402.6,399.9" fill="url(#gH)" opacity="0.85"/>
<polygon points="399.8,399.9 402.6,372.8 405.3,399.9" fill="url(#gH)" opacity="0.85"/>
<polygon points="401.5,399.9 404.2,373.5 406.9,399.9" fill="url(#gH)" opacity="0.85"/>
<polygon points="404.2,399.9 406.7,373.7 409.1,399.9" fill="url(#gH)" opacity="0.85"/>
<polygon points="406.5,399.9 409.1,371.1 411.6,399.9" fill="url(#gH)" opacity="0.85"/>
<polygon points="408.1,399.9 410.7,372.1 413.4,399.9" fill="url(#gH)" opacity="0.85"/>
<polygon points="386.0,399.9 385.5,383.4 387.0,381.8 388.5,381.3 390.0,378.8 391.5,378.3 393.0,380.3 394.5,378.7 396.0,378.6 397.5,380.3 399.0,378.8 400.5,381.1 402.0,379.5 403.5,377.8 405.0,380.1 406.5,378.9 408.0,377.2 409.5,379.3 411.0,378.9 412.0,378.0 411.5,399.9" fill="#1c1cb8" />
<polygon points="383.8,399.9 385.2,380.1 385.8,380.1 387.2,399.9" fill="url(#gBlk)" />
<polygon points="386.3,399.9 387.7,375.6 388.2,375.6 389.7,399.9" fill="url(#gBlk)" />
<polygon points="388.6,399.9 390.0,375.2 390.5,375.2 391.9,399.9" fill="url(#gBlk)" />
<polygon points="390.8,399.9 392.3,375.8 392.8,375.8 394.3,399.9" fill="url(#gBlk)" />
<polygon points="392.3,399.9 393.9,375.8 394.4,375.8 395.9,399.9" fill="url(#gBlk)" />
<polygon points="394.3,399.9 395.8,374.9 396.3,374.9 397.9,399.9" fill="url(#gBlk)" />
<polygon points="396.9,399.9 398.1,377.1 398.6,377.1 399.8,399.9" fill="url(#gBlk)" />
<polygon points="398.6,399.9 399.9,376.6 400.4,376.6 401.7,399.9" fill="url(#gBlk)" />
<polygon points="400.8,399.9 402.3,375.3 402.8,375.3 404.3,399.9" fill="url(#gBlk)" />
<polygon points="402.4,399.9 403.9,376.0 404.4,376.0 405.9,399.9" fill="url(#gBlk)" />
<polygon points="405.2,399.9 406.4,376.2 406.9,376.2 408.1,399.9" fill="url(#gBlk)" />
<polygon points="407.5,399.9 408.8,373.6 409.3,373.6 410.7,399.9" fill="url(#gBlk)" />
<polygon points="409.1,399.9 410.5,374.6 411.0,374.6 412.4,399.9" fill="url(#gBlk)" />
<polygon points="386.5,399.9 387.0,391.3 388.2,387.2 389.4,385.9 390.6,384.7 391.8,385.6 393.0,385.0 394.2,384.3 395.4,382.2 396.6,382.8 397.8,382.3 399.0,381.4 400.2,380.6 401.4,382.2 402.6,382.5 403.8,382.5 405.0,382.2 406.2,382.1 407.4,379.1 408.6,380.7 409.8,381.8 411.0,380.1 412.0,380.0 412.0,399.9" fill="#36dce8" />
<polygon points="386.8,399.9 387.8,390.4 388.2,390.4 389.2,399.9" fill="#22b4c0" opacity="0.8"/>
<polygon points="388.9,399.9 389.6,387.0 390.0,387.0 390.7,399.9" fill="#40f0f0" opacity="0.8"/>
<polygon points="390.6,399.9 391.4,386.6 391.8,386.6 392.7,399.9" fill="#40f0f0" opacity="0.8"/>
<polygon points="392.7,399.9 393.4,386.7 393.8,386.7 394.4,399.9" fill="#40f0f0" opacity="0.8"/>
<polygon points="394.7,399.9 395.5,389.6 395.9,389.6 396.7,399.9" fill="#40f0f0" opacity="0.8"/>
<polygon points="397.0,399.9 397.6,386.8 398.0,386.8 398.5,399.9" fill="#2a9ad0" opacity="0.8"/>
<polygon points="399.3,399.9 400.3,386.4 400.7,386.4 401.7,399.9" fill="#40f0f0" opacity="0.8"/>
<polygon points="402.0,399.9 403.0,388.7 403.4,388.7 404.4,399.9" fill="#40f0f0" opacity="0.8"/>
<polygon points="405.1,399.9 405.7,387.4 406.1,387.4 406.7,399.9" fill="#2a9ad0" opacity="0.8"/>
<polygon points="407.2,399.9 408.3,388.9 408.7,388.9 409.7,399.9" fill="#22b4c0" opacity="0.8"/>
<polygon points="409.5,399.9 410.2,387.7 410.6,387.7 411.4,399.9" fill="#40f0f0" opacity="0.8"/>
<polygon points="387.7,399.9 388.8,396.2 389.2,396.2 390.3,399.9" fill="#20c8a0" opacity="0.7"/>
<polygon points="390.5,399.9 391.8,394.0 392.2,394.0 393.5,399.9" fill="#28c070" opacity="0.7"/>
<polygon points="394.2,399.9 395.4,394.7 395.8,394.7 396.9,399.9" fill="#28c070" opacity="0.7"/>
<polygon points="396.8,399.9 397.9,395.0 398.3,395.0 399.5,399.9" fill="#28c070" opacity="0.7"/>
<polygon points="399.2,399.9 400.0,394.7 400.4,394.7 401.2,399.9" fill="#20c8a0" opacity="0.7"/>
<polygon points="401.7,399.9 402.7,393.6 403.1,393.6 404.1,399.9" fill="#28c070" opacity="0.7"/>
<polygon points="404.6,399.9 405.7,393.8 406.1,393.8 407.2,399.9" fill="#20c8a0" opacity="0.7"/>
<polygon points="407.8,399.9 408.9,394.9 409.3,394.9 410.5,399.9" fill="#28c070" opacity="0.7"/>
<polygon points="294.0,399.9 411.0,399.9 411.0,428.1 294.0,428.1" fill="url(#gOr)" />
<path d="M303.8 403.9V427.1 M314.2 403.9V427.1 M374.0 403.9V427.1 M312.9 403.9V427.1 M405.1 403.9V427.1 M392.8 403.9V427.1 M380.9 403.9V427.1 M348.5 403.9V427.1 M390.8 403.9V427.1 M322.5 403.9V427.1 M364.6 403.9V427.1 M337.4 403.9V427.1 M351.4 403.9V427.1 M406.8 403.9V427.1 M319.3 403.9V427.1 M382.3 403.9V427.1 M383.7 403.9V427.1 M304.2 403.9V427.1 M410.1 403.9V427.1 M346.5 403.9V427.1 M357.6 403.9V427.1 M329.3 403.9V427.1 M359.2 403.9V427.1 M406.3 403.9V427.1 M334.8 403.9V427.1 M379.8 403.9V427.1 M385.8 403.9V427.1 M395.6 403.9V427.1 M374.8 403.9V427.1 M344.5 403.9V427.1 M333.7 403.9V427.1 M339.0 403.9V427.1 M337.7 403.9V427.1 M397.7 403.9V427.1 M390.9 403.9V427.1 M319.1 403.9V427.1 M325.0 403.9V427.1 M299.2 403.9V427.1 M403.0 403.9V427.1 M300.9 403.9V427.1 M339.7 403.9V427.1 M315.5 403.9V427.1 M317.0 403.9V427.1 M404.1 403.9V427.1 M345.0 403.9V427.1" stroke="#7a3a0c" stroke-opacity="0.25" stroke-width="0.8"/>
<polygon points="294.0,414.6 295.1,416.2 296.2,414.6 297.3,414.1 298.4,415.9 299.5,415.7 300.6,415.5 301.7,413.4 302.8,414.6 303.9,414.3 305.0,414.1 306.1,414.3 307.2,414.1 308.3,414.8 309.4,413.3 310.5,414.9 311.6,416.1 312.7,414.6 313.8,414.1 314.9,415.2 316.0,414.1 317.1,415.8 318.2,415.7 319.3,415.4 320.4,414.6 321.5,413.1 322.6,413.2 323.7,414.3 324.8,415.4 325.9,414.0 327.0,415.9 328.1,414.7 329.2,413.2 330.3,414.5 331.4,415.8 332.5,413.7 333.6,415.3 334.7,414.7 335.8,413.5 336.9,415.1 338.0,413.3 339.1,414.0 340.2,415.0 341.3,412.8 342.4,415.2 343.5,413.7 344.6,414.5 345.7,414.5 346.8,415.5 347.9,413.8 349.0,414.7 350.1,414.4 351.2,414.9 352.3,416.7 353.4,417.6 354.5,416.7 355.6,414.0 356.7,414.6 357.8,413.6 358.9,413.0 360.0,412.6 361.1,413.1 362.2,413.0 363.3,411.7 364.4,413.9 365.5,410.7 366.6,411.9 367.7,412.4 368.8,412.5 369.9,412.5 371.0,412.0 372.1,410.8 373.2,411.8 374.3,409.6 375.4,410.0 376.5,409.7 377.6,409.4 378.7,409.1 379.8,409.6 380.9,410.7 382.0,410.3 383.1,408.4 384.2,410.1 385.3,408.6 386.4,410.6 387.5,408.1 388.6,409.0 389.7,408.4 390.8,407.8 391.9,409.2 393.0,408.5 394.1,408.9 395.2,406.4 396.3,407.8 397.4,408.6 398.5,409.0 399.6,407.2 400.7,406.6 401.8,406.8 402.9,407.4 404.0,408.2 405.1,407.0 406.2,407.8 407.3,407.5 408.4,407.7 409.5,407.9 410.6,407.9 411.0,407.5 411.0,428.1 294.0,428.1" fill="#94481a" opacity="0.55"/>
<polygon points="294.0,417.6 295.1,419.2 296.2,417.6 297.3,417.1 298.4,418.9 299.5,418.7 300.6,418.5 301.7,416.4 302.8,417.6 303.9,417.3 305.0,417.1 306.1,417.3 307.2,417.1 308.3,417.8 309.4,416.3 310.5,417.9 311.6,419.1 312.7,417.6 313.8,417.1 314.9,418.2 316.0,417.1 317.1,418.8 318.2,418.7 319.3,418.4 320.4,417.6 321.5,416.1 322.6,416.2 323.7,417.3 324.8,418.4 325.9,417.0 327.0,418.9 328.1,417.7 329.2,416.2 330.3,417.5 331.4,418.8 332.5,416.7 333.6,418.3 334.7,417.7 335.8,416.5 336.9,418.1 338.0,416.3 339.1,417.0 340.2,418.0 341.3,415.8 342.4,418.2 343.5,416.7 344.6,417.5 345.7,417.5 346.8,418.5 347.9,416.8 349.0,417.7 350.1,417.4 351.2,417.9 352.3,419.7 353.4,420.6 354.5,419.7 355.6,417.0 356.7,417.6 357.8,416.6 358.9,416.0 360.0,415.6 361.1,416.1 362.2,416.0 363.3,414.7 364.4,416.9 365.5,413.7 366.6,414.9 367.7,415.4 368.8,415.5 369.9,415.5 371.0,415.0 372.1,413.8 373.2,414.8 374.3,412.6 375.4,413.0 376.5,412.7 377.6,412.4 378.7,412.1 379.8,412.6 380.9,413.7 382.0,413.3 383.1,411.4 384.2,413.1 385.3,411.6 386.4,413.6 387.5,411.1 388.6,412.0 389.7,411.4 390.8,410.8 391.9,412.2 393.0,411.5 394.1,411.9 395.2,409.4 396.3,410.8 397.4,411.6 398.5,412.0 399.6,410.2 400.7,409.6 401.8,409.8 402.9,410.4 404.0,411.2 405.1,410.0 406.2,410.8 407.3,410.5 408.4,410.7 409.5,410.9 410.6,410.9 411.0,410.5 411.0,428.1 294.0,428.1" fill="url(#gRedR)" />
<path d="M311.0 414.9V427.1 M347.2 414.9V427.1 M384.2 414.9V427.1 M376.5 414.9V427.1 M379.6 414.9V427.1 M344.7 414.9V427.1 M387.6 414.9V427.1 M356.3 414.9V427.1 M303.4 414.9V427.1 M347.3 414.9V427.1 M299.6 414.9V427.1 M403.2 414.9V427.1 M404.8 414.9V427.1 M333.2 414.9V427.1 M330.2 414.9V427.1 M383.9 414.9V427.1 M317.9 414.9V427.1 M314.9 414.9V427.1 M316.1 414.9V427.1 M334.6 414.9V427.1 M367.3 414.9V427.1 M406.7 414.9V427.1 M318.7 414.9V427.1 M405.9 414.9V427.1 M359.0 414.9V427.1 M399.4 414.9V427.1 M389.7 414.9V427.1 M312.8 414.9V427.1 M369.9 414.9V427.1 M308.5 414.9V427.1" stroke="#600808" stroke-opacity="0.18" stroke-width="0.8"/>
<polygon points="294.0,402.0 295.3,402.0 296.6,402.0 297.9,402.0 299.2,402.1 300.5,402.2 301.8,402.1 303.1,402.1 304.4,402.0 305.7,402.0 307.0,402.1 308.3,402.2 309.6,402.0 310.9,402.0 312.2,401.8 313.5,402.1 314.8,402.0 316.1,402.0 317.4,401.8 318.7,402.0 320.0,402.0 321.3,401.8 322.6,401.9 323.9,402.0 325.2,402.1 326.5,402.0 327.8,402.0 329.1,402.1 330.4,402.1 331.7,401.8 333.0,401.9 334.3,401.7 335.6,402.1 336.9,402.0 338.2,401.8 339.5,401.8 340.8,401.8 342.1,402.0 343.4,401.9 344.7,401.7 346.0,402.0 347.3,401.8 348.6,401.8 349.9,402.1 351.2,402.1 352.5,402.1 353.8,402.1 355.1,401.9 356.4,401.7 357.7,401.8 359.0,401.9 360.3,402.1 361.6,401.8 362.9,401.7 364.2,402.1 365.5,402.0 366.8,402.0 368.1,401.9 369.4,401.8 370.7,401.8 372.0,401.7 373.3,401.8 374.6,401.9 375.9,402.0 377.2,402.0 378.5,401.9 379.8,401.7 381.1,402.0 382.4,401.7 383.7,401.7 385.0,401.9 386.3,401.9 387.6,402.0 388.9,401.9 390.2,402.0 391.5,402.0 392.8,402.0 394.1,402.0 395.4,401.8 396.7,401.9 398.0,401.9 399.3,401.6 400.6,401.8 401.9,401.8 403.2,401.9 404.5,401.7 405.8,401.9 407.1,401.7 408.4,401.8 409.7,401.8 411.0,401.7 411.0,401.8 411.0,405.0 411.0,404.3 409.7,405.1 408.4,405.3 407.1,404.5 405.8,404.5 404.5,404.9 403.2,405.3 401.9,405.1 400.6,405.3 399.3,406.1 398.0,405.2 396.7,405.3 395.4,405.0 394.1,405.3 392.8,406.4 391.5,405.2 390.2,406.1 388.9,405.2 387.6,405.3 386.3,406.1 385.0,405.5 383.7,406.1 382.4,406.4 381.1,406.9 379.8,405.9 378.5,405.8 377.2,406.9 375.9,407.0 374.6,406.3 373.3,405.8 372.0,406.4 370.7,406.7 369.4,407.3 368.1,406.1 366.8,406.7 365.5,407.6 364.2,406.8 362.9,407.2 361.6,407.4 360.3,407.8 359.0,408.0 357.7,407.2 356.4,408.2 355.1,408.0 353.8,409.2 352.5,411.2 351.2,412.5 349.9,410.5 348.6,408.3 347.3,408.9 346.0,408.9 344.7,408.7 343.4,408.0 342.1,408.1 340.8,407.8 339.5,408.4 338.2,407.6 336.9,408.0 335.6,408.8 334.3,407.7 333.0,407.7 331.7,408.9 330.4,407.8 329.1,407.7 327.8,408.9 326.5,408.6 325.2,407.9 323.9,408.0 322.6,408.0 321.3,407.8 320.0,408.9 318.7,408.9 317.4,408.6 316.1,408.4 314.8,408.6 313.5,408.5 312.2,408.8 310.9,408.0 309.6,408.4 308.3,407.7 307.0,408.3 305.7,407.6 304.4,407.7 303.1,407.7 301.8,407.8 300.5,408.0 299.2,407.7 297.9,408.0 296.6,408.3 295.3,408.2 294.0,408.8" fill="#8a6414" />
<polygon points="294.0,402.0 295.3,402.0 296.6,402.0 297.9,402.0 299.2,402.1 300.5,402.2 301.8,402.1 303.1,402.1 304.4,402.0 305.7,402.0 307.0,402.1 308.3,402.2 309.6,402.0 310.9,402.0 312.2,401.8 313.5,402.1 314.8,402.0 316.1,402.0 317.4,401.8 318.7,402.0 320.0,402.0 321.3,401.8 322.6,401.9 323.9,402.0 325.2,402.1 326.5,402.0 327.8,402.0 329.1,402.1 330.4,402.1 331.7,401.8 333.0,401.9 334.3,401.7 335.6,402.1 336.9,402.0 338.2,401.8 339.5,401.8 340.8,401.8 342.1,402.0 343.4,401.9 344.7,401.7 346.0,402.0 347.3,401.8 348.6,401.8 349.9,402.1 351.2,402.1 352.5,402.1 353.8,402.1 355.1,401.9 356.4,401.7 357.7,401.8 359.0,401.9 360.3,402.1 361.6,401.8 362.9,401.7 364.2,402.1 365.5,402.0 366.8,402.0 368.1,401.9 369.4,401.8 370.7,401.8 372.0,401.7 373.3,401.8 374.6,401.9 375.9,402.0 377.2,402.0 378.5,401.9 379.8,401.7 381.1,402.0 382.4,401.7 383.7,401.7 385.0,401.9 386.3,401.9 387.6,402.0 388.9,401.9 390.2,402.0 391.5,402.0 392.8,402.0 394.1,402.0 395.4,401.8 396.7,401.9 398.0,401.9 399.3,401.6 400.6,401.8 401.9,401.8 403.2,401.9 404.5,401.7 405.8,401.9 407.1,401.7 408.4,401.8 409.7,401.8 411.0,401.7 411.0,401.8 411.0,403.2 411.0,402.5 409.7,403.3 408.4,403.5 407.1,402.7 405.8,402.7 404.5,403.1 403.2,403.5 401.9,403.3 400.6,403.5 399.3,404.3 398.0,403.4 396.7,403.5 395.4,403.2 394.1,403.5 392.8,404.6 391.5,403.4 390.2,404.3 388.9,403.4 387.6,403.5 386.3,404.3 385.0,403.7 383.7,404.3 382.4,404.6 381.1,405.1 379.8,404.1 378.5,404.0 377.2,405.1 375.9,405.2 374.6,404.5 373.3,404.0 372.0,404.6 370.7,404.9 369.4,405.5 368.1,404.3 366.8,404.9 365.5,405.8 364.2,405.0 362.9,405.4 361.6,405.6 360.3,406.0 359.0,406.2 357.7,405.4 356.4,406.4 355.1,406.2 353.8,407.4 352.5,409.4 351.2,410.7 349.9,408.7 348.6,406.5 347.3,407.1 346.0,407.1 344.7,406.9 343.4,406.2 342.1,406.3 340.8,406.0 339.5,406.6 338.2,405.8 336.9,406.2 335.6,407.0 334.3,405.9 333.0,405.9 331.7,407.1 330.4,406.0 329.1,405.9 327.8,407.1 326.5,406.8 325.2,406.1 323.9,406.2 322.6,406.2 321.3,406.0 320.0,407.1 318.7,407.1 317.4,406.8 316.1,406.6 314.8,406.8 313.5,406.7 312.2,407.0 310.9,406.2 309.6,406.6 308.3,405.9 307.0,406.5 305.7,405.8 304.4,405.9 303.1,405.9 301.8,406.0 300.5,406.2 299.2,405.9 297.9,406.2 296.6,406.5 295.3,406.4 294.0,407.0" fill="#e4dc00" />
<polygon points="294.0,402.4 295.3,402.4 296.6,402.4 297.9,402.4 299.2,402.5 300.5,402.6 301.8,402.5 303.1,402.5 304.4,402.4 305.7,402.4 307.0,402.5 308.3,402.6 309.6,402.4 310.9,402.4 312.2,402.2 313.5,402.5 314.8,402.4 316.1,402.4 317.4,402.2 318.7,402.4 320.0,402.4 321.3,402.2 322.6,402.3 323.9,402.4 325.2,402.5 326.5,402.4 327.8,402.4 329.1,402.5 330.4,402.5 331.7,402.2 333.0,402.3 334.3,402.1 335.6,402.5 336.9,402.4 338.2,402.2 339.5,402.2 340.8,402.2 342.1,402.4 343.4,402.3 344.7,402.1 346.0,402.4 347.3,402.2 348.6,402.2 349.9,402.5 351.2,402.5 352.5,402.5 353.8,402.5 355.1,402.3 356.4,402.1 357.7,402.2 359.0,402.3 360.3,402.5 361.6,402.2 362.9,402.1 364.2,402.5 365.5,402.4 366.8,402.4 368.1,402.3 369.4,402.2 370.7,402.2 372.0,402.1 373.3,402.2 374.6,402.3 375.9,402.4 377.2,402.4 378.5,402.3 379.8,402.1 381.1,402.4 382.4,402.1 383.7,402.1 385.0,402.3 386.3,402.3 387.6,402.4 388.9,402.3 390.2,402.4 391.5,402.4 392.8,402.4 394.1,402.4 395.4,402.2 396.7,402.3 398.0,402.3 399.3,402.0 400.6,402.2 401.9,402.2 403.2,402.3 404.5,402.1 405.8,402.3 407.1,402.1 408.4,402.2 409.7,402.2 411.0,402.1 411.0,402.2 411.0,403.1 411.0,403.0 409.7,403.1 408.4,403.1 407.1,403.0 405.8,403.2 404.5,403.0 403.2,403.2 401.9,403.1 400.6,403.1 399.3,402.9 398.0,403.2 396.7,403.2 395.4,403.1 394.1,403.3 392.8,403.3 391.5,403.3 390.2,403.3 388.9,403.2 387.6,403.3 386.3,403.2 385.0,403.2 383.7,403.0 382.4,403.0 381.1,403.3 379.8,403.0 378.5,403.2 377.2,403.3 375.9,403.3 374.6,403.2 373.3,403.1 372.0,403.0 370.7,403.1 369.4,403.1 368.1,403.2 366.8,403.3 365.5,403.3 364.2,403.4 362.9,403.0 361.6,403.1 360.3,403.4 359.0,403.2 357.7,403.1 356.4,403.0 355.1,403.2 353.8,403.4 352.5,403.4 351.2,403.4 349.9,403.4 348.6,403.1 347.3,403.1 346.0,403.3 344.7,403.0 343.4,403.2 342.1,403.3 340.8,403.1 339.5,403.1 338.2,403.1 336.9,403.3 335.6,403.4 334.3,403.0 333.0,403.2 331.7,403.1 330.4,403.4 329.1,403.4 327.8,403.3 326.5,403.3 325.2,403.4 323.9,403.3 322.6,403.2 321.3,403.1 320.0,403.3 318.7,403.3 317.4,403.1 316.1,403.3 314.8,403.3 313.5,403.4 312.2,403.1 310.9,403.3 309.6,403.3 308.3,403.5 307.0,403.4 305.7,403.3 304.4,403.3 303.1,403.4 301.8,403.4 300.5,403.5 299.2,403.4 297.9,403.3 296.6,403.3 295.3,403.3 294.0,403.3" fill="#a8a010" opacity="0.8"/>
<polygon points="294.0,404.8 295.3,404.2 296.6,404.3 297.9,404.0 299.2,403.7 300.5,404.0 301.8,403.8 303.1,403.7 304.4,403.7 305.7,403.6 307.0,404.3 308.3,403.7 309.6,404.4 310.9,404.0 312.2,404.8 313.5,404.5 314.8,404.6 316.1,404.4 317.4,404.6 318.7,404.9 320.0,404.9 321.3,403.8 322.6,404.0 323.9,404.0 325.2,403.9 326.5,404.6 327.8,404.9 329.1,403.7 330.4,403.8 331.7,404.9 333.0,403.7 334.3,403.7 335.6,404.8 336.9,404.0 338.2,403.6 339.5,404.4 340.8,403.8 342.1,404.1 343.4,404.0 344.7,404.7 346.0,404.9 347.3,404.9 348.6,404.3 349.9,406.5 351.2,408.5 352.5,407.2 353.8,405.2 355.1,404.0 356.4,404.2 357.7,403.2 359.0,404.0 360.3,403.8 361.6,403.4 362.9,403.2 364.2,402.8 365.5,403.6 366.8,402.7 368.1,402.1 369.4,403.3 370.7,402.7 372.0,402.4 373.3,401.8 374.6,402.3 375.9,403.0 377.2,402.9 378.5,401.8 379.8,401.9 381.1,402.9 382.4,402.4 383.7,402.1 385.0,401.5 386.3,402.1 387.6,401.3 388.9,401.2 390.2,402.1 391.5,401.2 392.8,402.4 394.1,401.3 395.4,401.0 396.7,401.3 398.0,401.2 399.3,402.1 400.6,401.3 401.9,401.1 403.2,401.3 404.5,400.9 405.8,400.5 407.1,400.5 408.4,401.3 409.7,401.1 411.0,400.3 411.0,401.0 411.0,401.8 411.0,401.1 409.7,401.9 408.4,402.1 407.1,401.3 405.8,401.3 404.5,401.7 403.2,402.1 401.9,401.9 400.6,402.1 399.3,402.9 398.0,402.0 396.7,402.1 395.4,401.8 394.1,402.1 392.8,403.2 391.5,402.0 390.2,402.9 388.9,402.0 387.6,402.1 386.3,402.9 385.0,402.3 383.7,402.9 382.4,403.2 381.1,403.7 379.8,402.7 378.5,402.6 377.2,403.7 375.9,403.8 374.6,403.1 373.3,402.6 372.0,403.2 370.7,403.5 369.4,404.1 368.1,402.9 366.8,403.5 365.5,404.4 364.2,403.6 362.9,404.0 361.6,404.2 360.3,404.6 359.0,404.8 357.7,404.0 356.4,405.0 355.1,404.8 353.8,406.0 352.5,408.0 351.2,409.3 349.9,407.3 348.6,405.1 347.3,405.7 346.0,405.7 344.7,405.5 343.4,404.8 342.1,404.9 340.8,404.6 339.5,405.2 338.2,404.4 336.9,404.8 335.6,405.6 334.3,404.5 333.0,404.5 331.7,405.7 330.4,404.6 329.1,404.5 327.8,405.7 326.5,405.4 325.2,404.7 323.9,404.8 322.6,404.8 321.3,404.6 320.0,405.7 318.7,405.7 317.4,405.4 316.1,405.2 314.8,405.4 313.5,405.3 312.2,405.6 310.9,404.8 309.6,405.2 308.3,404.5 307.0,405.1 305.7,404.4 304.4,404.5 303.1,404.5 301.8,404.6 300.5,404.8 299.2,404.5 297.9,404.8 296.6,405.1 295.3,405.0 294.0,405.6" fill="#b0a010" opacity="0.45"/>
<polygon points="294.0,400.9 411.0,400.9 411.0,401.8 411.0,401.7 409.7,401.8 408.4,401.8 407.1,401.7 405.8,401.9 404.5,401.7 403.2,401.9 401.9,401.8 400.6,401.8 399.3,401.6 398.0,401.9 396.7,401.9 395.4,401.8 394.1,402.0 392.8,402.0 391.5,402.0 390.2,402.0 388.9,401.9 387.6,402.0 386.3,401.9 385.0,401.9 383.7,401.7 382.4,401.7 381.1,402.0 379.8,401.7 378.5,401.9 377.2,402.0 375.9,402.0 374.6,401.9 373.3,401.8 372.0,401.7 370.7,401.8 369.4,401.8 368.1,401.9 366.8,402.0 365.5,402.0 364.2,402.1 362.9,401.7 361.6,401.8 360.3,402.1 359.0,401.9 357.7,401.8 356.4,401.7 355.1,401.9 353.8,402.1 352.5,402.1 351.2,402.1 349.9,402.1 348.6,401.8 347.3,401.8 346.0,402.0 344.7,401.7 343.4,401.9 342.1,402.0 340.8,401.8 339.5,401.8 338.2,401.8 336.9,402.0 335.6,402.1 334.3,401.7 333.0,401.9 331.7,401.8 330.4,402.1 329.1,402.1 327.8,402.0 326.5,402.0 325.2,402.1 323.9,402.0 322.6,401.9 321.3,401.8 320.0,402.0 318.7,402.0 317.4,401.8 316.1,402.0 314.8,402.0 313.5,402.1 312.2,401.8 310.9,402.0 309.6,402.0 308.3,402.2 307.0,402.1 305.7,402.0 304.4,402.0 303.1,402.1 301.8,402.1 300.5,402.2 299.2,402.1 297.9,402.0 296.6,402.0 295.3,402.0 294.0,402.0" fill="#16c024" />
<polygon points="294.0,399.4 411.0,399.4 411.0,400.6 294.0,400.6" fill="#2a6cd4" />
<polygon points="294.0,400.6 411.0,400.6 411.0,401.1 294.0,401.1" fill="#30b8b0" />
<polygon points="347.0,410.0 355.0,410.0 352.3,427.1 350.3,427.1" fill="#7a3c10" opacity="0.55"/>
<polygon points="350.5,401.9 352.5,401.9 352.0,417.0 351.8,427.1 351.2,427.1 351.0,417.0" fill="#b0a018" opacity="0.9"/>
<polygon points="351.1,393.9 351.9,393.9 352.0,401.9 351.0,401.9" fill="#20b060" opacity="0.8"/>
</g>
</g>
<g clip-path="url(#cl30)">
<g filter="url(#soft)">
<polygon points="116.5,456.0 117.6,455.2 119.0,455.0 119.0,456.1 119.5,457.1 120.3,457.9 120.4,459.0 120.8,460.0 120.9,461.0 120.8,462.0 120.7,463.0 121.5,464.0 121.6,465.0 121.2,466.0 120.7,467.0 121.0,468.0 120.5,469.0 121.1,470.1 120.5,471.0 120.3,472.0 119.5,473.1 119.4,474.5 118.6,475.5 117.6,474.6 116.3,474.5 116.8,473.4 116.0,472.3 116.1,471.2 116.7,470.2 117.2,469.1 116.8,468.0 116.5,467.0 116.2,466.0 116.2,465.0 115.7,464.1 115.7,463.0 115.8,462.0 115.9,461.0 116.0,460.0 115.9,459.0 116.0,458.0 116.1,457.0" fill="#2222c8" />
<polygon points="117.6,459.0 119.0,458.2 118.8,459.4 119.0,460.6 119.9,461.6 120.0,462.8 119.9,464.0 119.5,465.1 119.5,466.2 119.5,467.2 119.7,468.3 119.4,469.4 119.4,470.5 117.9,471.0 118.0,470.0 118.0,469.0 117.7,468.0 117.9,467.0 117.9,466.0 118.0,465.0 118.1,464.0 118.3,463.0 118.2,462.0 117.8,461.0 117.6,460.0" fill="#34d4e0" />
<ellipse cx="114.7" cy="443.8" rx="1.00" ry="1.00" fill="#2222c8" />
<ellipse cx="118.5" cy="445.0" rx="1.00" ry="1.00" fill="#2222c8" />
<ellipse cx="118.8" cy="447.0" rx="0.80" ry="0.80" fill="#1a1aa8" />
<ellipse cx="121.5" cy="476.5" rx="1.10" ry="1.10" fill="#1a1aa8" />
<ellipse cx="120.0" cy="489.0" rx="0.90" ry="0.90" fill="#ff50ff" />
<ellipse cx="132.8" cy="451.0" rx="0.80" ry="0.80" fill="#ff50ff" />
<ellipse cx="117.5" cy="479.0" rx="0.60" ry="0.60" fill="#ff50ff" />
<ellipse cx="118.0" cy="512.0" rx="0.70" ry="0.70" fill="#2222c8" />
<ellipse cx="64.5" cy="552.6" rx="0.68" ry="0.87" fill="#ff50ff" />
<ellipse cx="78.2" cy="552.7" rx="0.95" ry="1.01" fill="#2222c8" />
<ellipse cx="64.4" cy="553.5" rx="0.74" ry="0.94" fill="#ff50ff" />
<ellipse cx="80.6" cy="551.8" rx="0.82" ry="0.97" fill="#ff50ff" />
<ellipse cx="55.6" cy="553.1" rx="0.58" ry="0.49" fill="#ff50ff" />
<ellipse cx="86.2" cy="553.1" rx="0.63" ry="0.96" fill="#ff50ff" />
<ellipse cx="90.2" cy="552.9" rx="0.96" ry="1.47" fill="#2222c8" />
<ellipse cx="78.1" cy="553.4" rx="0.57" ry="0.51" fill="#2222c8" />
<ellipse cx="60.4" cy="551.9" rx="0.98" ry="1.55" fill="#2222c8" />
<ellipse cx="89.2" cy="552.3" rx="0.92" ry="1.06" fill="#ff50ff" />
<ellipse cx="78.4" cy="552.7" rx="0.95" ry="1.63" fill="#ff50ff" />
<ellipse cx="56.1" cy="552.1" rx="0.80" ry="0.77" fill="#ff50ff" />
<ellipse cx="89.4" cy="553.4" rx="0.95" ry="0.86" fill="#ff50ff" />
<ellipse cx="81.2" cy="552.8" rx="0.99" ry="1.08" fill="#2222c8" />
<ellipse cx="145.0" cy="516.0" rx="0.80" ry="1.20" fill="#ff50ff" />
<ellipse cx="142.0" cy="521.0" rx="0.80" ry="1.20" fill="#ff50ff" />
<ellipse cx="145.5" cy="523.0" rx="1.00" ry="1.60" fill="#ff50ff" />
<ellipse cx="144.3" cy="529.0" rx="1.00" ry="1.20" fill="#ff50ff" />
<ellipse cx="155.0" cy="532.0" rx="0.80" ry="1.00" fill="#ff50ff" />
<ellipse cx="157.0" cy="536.0" rx="0.90" ry="1.30" fill="#ff50ff" />
<ellipse cx="140.0" cy="529.0" rx="0.80" ry="1.00" fill="#ff50ff" />
<ellipse cx="135.0" cy="523.0" rx="0.60" ry="0.90" fill="#ff50ff" />
<ellipse cx="152.0" cy="527.0" rx="0.70" ry="1.00" fill="#ff50ff" />
<ellipse cx="160.0" cy="540.0" rx="0.80" ry="1.20" fill="#ff50ff" />
<ellipse cx="163.0" cy="545.0" rx="0.80" ry="1.20" fill="#ff50ff" />
<ellipse cx="137.0" cy="535.0" rx="0.80" ry="1.00" fill="#ff50ff" />
<ellipse cx="132.0" cy="542.0" rx="0.70" ry="0.80" fill="#ff50ff" />
<ellipse cx="138.8" cy="554.3" rx="0.74" ry="1.47" fill="#ff90ff" />
<ellipse cx="152.7" cy="554.7" rx="0.71" ry="1.05" fill="#ff50ff" />
<ellipse cx="144.7" cy="544.1" rx="1.08" ry="1.72" fill="#ff50ff" />
<ellipse cx="154.1" cy="540.9" rx="1.09" ry="1.14" fill="#ff50ff" />
<ellipse cx="146.8" cy="534.8" rx="1.01" ry="1.82" fill="#ff50ff" />
<ellipse cx="159.5" cy="547.9" rx="1.06" ry="1.32" fill="#ff50ff" />
<ellipse cx="163.9" cy="552.2" rx="1.21" ry="2.13" fill="#ff50ff" />
<ellipse cx="158.5" cy="548.4" rx="0.65" ry="1.29" fill="#ff90ff" />
<ellipse cx="142.4" cy="554.4" rx="0.70" ry="0.78" fill="#ff50ff" />
<ellipse cx="150.6" cy="535.4" rx="1.25" ry="1.30" fill="#ff50ff" />
<ellipse cx="162.2" cy="554.1" rx="1.04" ry="1.77" fill="#ff50ff" />
<ellipse cx="144.5" cy="546.7" rx="0.62" ry="1.15" fill="#ff50ff" />
<ellipse cx="144.7" cy="548.1" rx="0.64" ry="0.81" fill="#ff50ff" />
<ellipse cx="142.8" cy="544.9" rx="0.65" ry="0.92" fill="#ff50ff" />
<ellipse cx="151.4" cy="547.1" rx="0.95" ry="1.78" fill="#ff50ff" />
<ellipse cx="150.5" cy="546.8" rx="0.89" ry="1.37" fill="#ff90ff" />
<ellipse cx="143.2" cy="552.8" rx="1.12" ry="2.13" fill="#ff90ff" />
<ellipse cx="158.6" cy="550.6" rx="1.19" ry="1.96" fill="#ff50ff" />
<ellipse cx="146.7" cy="547.1" rx="0.96" ry="1.48" fill="#ff90ff" />
<ellipse cx="144.7" cy="543.8" rx="1.18" ry="1.36" fill="#ff50ff" />
<ellipse cx="153.6" cy="541.1" rx="1.16" ry="1.38" fill="#ff50ff" />
<ellipse cx="145.8" cy="534.9" rx="0.79" ry="1.19" fill="#ff90ff" />
<ellipse cx="146.3" cy="534.9" rx="1.12" ry="1.92" fill="#ff90ff" />
<ellipse cx="151.1" cy="539.7" rx="0.72" ry="1.44" fill="#ff90ff" />
<ellipse cx="152.3" cy="549.7" rx="1.24" ry="1.33" fill="#ff50ff" />
<ellipse cx="158.4" cy="547.9" rx="1.13" ry="1.96" fill="#ff50ff" />
<ellipse cx="149.7" cy="550.6" rx="0.92" ry="1.63" fill="#ff50ff" />
<ellipse cx="148.3" cy="549.2" rx="0.92" ry="1.73" fill="#ff50ff" />
<ellipse cx="155.9" cy="549.9" rx="0.77" ry="1.31" fill="#ff50ff" />
<ellipse cx="140.9" cy="539.9" rx="1.07" ry="1.43" fill="#ff50ff" />
<ellipse cx="141.1" cy="542.0" rx="0.65" ry="1.15" fill="#ff90ff" />
<ellipse cx="144.5" cy="546.0" rx="0.84" ry="0.90" fill="#ff50ff" />
<ellipse cx="139.8" cy="550.6" rx="0.83" ry="0.92" fill="#ff50ff" />
<ellipse cx="155.5" cy="554.7" rx="0.75" ry="0.82" fill="#ff90ff" />
<ellipse cx="145.0" cy="546.0" rx="1.00" ry="1.97" fill="#ff90ff" />
<ellipse cx="157.8" cy="546.3" rx="0.70" ry="0.98" fill="#ff90ff" />
<ellipse cx="142.9" cy="538.8" rx="0.80" ry="1.17" fill="#ff50ff" />
<ellipse cx="155.5" cy="553.5" rx="1.20" ry="1.90" fill="#ff50ff" />
<ellipse cx="163.4" cy="553.5" rx="1.21" ry="1.86" fill="#ff50ff" />
<ellipse cx="153.4" cy="554.7" rx="0.62" ry="1.16" fill="#ff50ff" />
<ellipse cx="157.9" cy="553.4" rx="0.70" ry="0.91" fill="#ff50ff" />
<ellipse cx="155.8" cy="543.3" rx="0.64" ry="1.24" fill="#ff50ff" />
<ellipse cx="142.4" cy="542.5" rx="1.02" ry="1.31" fill="#ff50ff" />
<ellipse cx="153.0" cy="542.0" rx="0.79" ry="1.56" fill="#ff50ff" />
<ellipse cx="163.6" cy="551.6" rx="0.64" ry="1.05" fill="#ff90ff" />
<ellipse cx="157.0" cy="551.5" rx="0.90" ry="0.94" fill="#ff90ff" />
<ellipse cx="149.5" cy="551.0" rx="1.01" ry="1.84" fill="#ff50ff" />
<ellipse cx="160.9" cy="549.1" rx="0.78" ry="0.84" fill="#ff50ff" />
<ellipse cx="143.3" cy="544.4" rx="1.17" ry="1.39" fill="#ff50ff" />
<ellipse cx="144.5" cy="539.1" rx="1.19" ry="2.07" fill="#ff90ff" />
<ellipse cx="151.9" cy="547.1" rx="1.23" ry="2.13" fill="#ff90ff" />
<ellipse cx="148.2" cy="542.3" rx="0.71" ry="1.26" fill="#ff50ff" />
<ellipse cx="145.8" cy="540.0" rx="0.78" ry="1.33" fill="#ff50ff" />
<ellipse cx="158.7" cy="548.6" rx="0.89" ry="1.49" fill="#ff90ff" />
<ellipse cx="143.5" cy="543.2" rx="1.20" ry="1.76" fill="#ff90ff" />
<ellipse cx="159.4" cy="550.8" rx="0.72" ry="1.15" fill="#ff90ff" />
<ellipse cx="146.6" cy="550.4" rx="1.17" ry="1.48" fill="#ff90ff" />
<ellipse cx="141.0" cy="553.9" rx="1.19" ry="2.15" fill="#ff50ff" />
<ellipse cx="146.5" cy="554.5" rx="0.61" ry="0.62" fill="#ff50ff" />
<ellipse cx="150.4" cy="554.2" rx="1.11" ry="1.26" fill="#ff90ff" />
<ellipse cx="148.2" cy="550.6" rx="1.09" ry="1.60" fill="#2222c8" />
<ellipse cx="141.7" cy="553.1" rx="1.12" ry="1.26" fill="#1a1aa8" />
<ellipse cx="153.5" cy="551.1" rx="0.73" ry="1.21" fill="#2222c8" />
<ellipse cx="143.0" cy="551.0" rx="1.35" ry="2.65" fill="#2222c8" />
<ellipse cx="153.2" cy="549.9" rx="1.44" ry="1.46" fill="#2222c8" />
<ellipse cx="149.3" cy="537.3" rx="0.97" ry="1.72" fill="#2222c8" />
<ellipse cx="141.0" cy="542.9" rx="0.93" ry="1.78" fill="#1a1aa8" />
<ellipse cx="156.6" cy="548.0" rx="1.38" ry="2.50" fill="#1a1aa8" />
<ellipse cx="152.1" cy="545.6" rx="0.92" ry="1.76" fill="#1a1aa8" />
<ellipse cx="154.0" cy="552.7" rx="0.82" ry="1.15" fill="#1a1aa8" />
<ellipse cx="145.5" cy="538.8" rx="1.27" ry="2.17" fill="#2222c8" />
<ellipse cx="151.7" cy="541.9" rx="1.36" ry="1.80" fill="#2222c8" />
<ellipse cx="146.7" cy="536.7" rx="1.08" ry="1.55" fill="#2222c8" />
<ellipse cx="158.3" cy="547.7" rx="0.75" ry="1.35" fill="#2222c8" />
<ellipse cx="152.0" cy="544.8" rx="0.89" ry="1.15" fill="#1a1aa8" />
<ellipse cx="150.7" cy="550.0" rx="1.02" ry="1.37" fill="#2222c8" />
<ellipse cx="142.3" cy="553.5" rx="1.10" ry="2.04" fill="#2222c8" />
<ellipse cx="150.8" cy="542.1" rx="1.46" ry="2.24" fill="#1a1aa8" />
<ellipse cx="145.4" cy="535.4" rx="1.17" ry="2.11" fill="#1a1aa8" />
<ellipse cx="141.9" cy="554.4" rx="1.40" ry="1.96" fill="#2222c8" />
<ellipse cx="143.3" cy="537.5" rx="1.33" ry="1.75" fill="#1a1aa8" />
<ellipse cx="152.2" cy="549.6" rx="1.27" ry="1.66" fill="#1a1aa8" />
<ellipse cx="149.1" cy="544.2" rx="0.95" ry="1.14" fill="#2222c8" />
<ellipse cx="161.7" cy="553.2" rx="1.23" ry="1.25" fill="#1a1aa8" />
<ellipse cx="157.5" cy="551.2" rx="1.22" ry="1.84" fill="#2222c8" />
<ellipse cx="141.6" cy="543.7" rx="1.26" ry="1.29" fill="#1a1aa8" />
<ellipse cx="146.0" cy="540.2" rx="1.16" ry="1.86" fill="#2222c8" />
<ellipse cx="158.6" cy="554.2" rx="0.84" ry="1.67" fill="#1a1aa8" />
<ellipse cx="157.6" cy="551.4" rx="1.14" ry="1.82" fill="#2222c8" />
<ellipse cx="152.7" cy="545.8" rx="0.74" ry="1.27" fill="#2222c8" />
<ellipse cx="148.8" cy="536.8" rx="0.87" ry="1.40" fill="#1a1aa8" />
<ellipse cx="151.3" cy="545.1" rx="1.24" ry="1.39" fill="#1a1aa8" />
<ellipse cx="149.5" cy="554.2" rx="0.94" ry="1.04" fill="#2222c8" />
<ellipse cx="145.4" cy="536.5" rx="1.13" ry="1.88" fill="#1a1aa8" />
<ellipse cx="145.7" cy="538.6" rx="1.24" ry="1.79" fill="#2222c8" />
<ellipse cx="141.8" cy="551.0" rx="1.34" ry="2.33" fill="#1a1aa8" />
<ellipse cx="145.8" cy="546.7" rx="1.24" ry="2.47" fill="#2222c8" />
<ellipse cx="142.9" cy="549.5" rx="1.42" ry="1.49" fill="#1a1aa8" />
<ellipse cx="152.2" cy="549.5" rx="0.85" ry="1.37" fill="#2222c8" />
<ellipse cx="155.8" cy="550.3" rx="1.12" ry="1.67" fill="#1a1aa8" />
<ellipse cx="146.0" cy="544.0" rx="1.18" ry="1.36" fill="#1a1aa8" />
<ellipse cx="144.9" cy="549.5" rx="1.29" ry="2.46" fill="#2222c8" />
<ellipse cx="149.0" cy="540.5" rx="0.87" ry="0.92" fill="#1a1aa8" />
<ellipse cx="146.7" cy="534.0" rx="1.42" ry="2.38" fill="#2222c8" />
<ellipse cx="147.6" cy="546.4" rx="1.21" ry="1.39" fill="#2222c8" />
<ellipse cx="152.4" cy="550.9" rx="0.81" ry="1.02" fill="#2222c8" />
<ellipse cx="153.4" cy="552.8" rx="0.88" ry="1.64" fill="#2222c8" />
<ellipse cx="159.3" cy="550.6" rx="1.36" ry="2.24" fill="#2222c8" />
<ellipse cx="150.4" cy="552.6" rx="0.77" ry="0.92" fill="#2222c8" />
<ellipse cx="153.1" cy="548.1" rx="0.85" ry="1.52" fill="#1a1aa8" />
<ellipse cx="143.1" cy="545.6" rx="0.83" ry="1.54" fill="#1a1aa8" />
<ellipse cx="148.5" cy="546.5" rx="1.46" ry="2.26" fill="#2222c8" />
<ellipse cx="140.7" cy="551.4" rx="0.88" ry="1.46" fill="#1a1aa8" />
<ellipse cx="142.3" cy="550.8" rx="1.17" ry="1.83" fill="#1a1aa8" />
<ellipse cx="140.0" cy="551.9" rx="0.72" ry="1.20" fill="#1a1aa8" />
<ellipse cx="146.2" cy="549.1" rx="1.50" ry="2.35" fill="#2222c8" />
<ellipse cx="150.5" cy="539.3" rx="1.41" ry="2.06" fill="#2222c8" />
<ellipse cx="149.4" cy="553.4" rx="1.39" ry="1.63" fill="#2222c8" />
<ellipse cx="149.1" cy="548.8" rx="1.26" ry="2.36" fill="#2222c8" />
<ellipse cx="158.0" cy="550.8" rx="0.95" ry="1.42" fill="#2222c8" />
<ellipse cx="153.6" cy="547.9" rx="1.03" ry="1.49" fill="#1a1aa8" />
<ellipse cx="142.6" cy="547.2" rx="1.38" ry="2.09" fill="#2222c8" />
<ellipse cx="150.9" cy="544.7" rx="1.29" ry="2.28" fill="#2222c8" />
<ellipse cx="153.1" cy="549.4" rx="0.88" ry="1.68" fill="#2222c8" />
<ellipse cx="148.4" cy="553.4" rx="1.14" ry="1.66" fill="#1a1aa8" />
<ellipse cx="145.0" cy="550.9" rx="1.03" ry="1.85" fill="#2222c8" />
<ellipse cx="143.1" cy="542.4" rx="0.99" ry="1.24" fill="#2222c8" />
<ellipse cx="142.0" cy="550.6" rx="0.82" ry="1.60" fill="#1a1aa8" />
<ellipse cx="150.0" cy="538.3" rx="1.06" ry="1.29" fill="#2222c8" />
<ellipse cx="150.0" cy="553.5" rx="1.29" ry="1.49" fill="#1a1aa8" />
<ellipse cx="140.4" cy="549.2" rx="1.05" ry="1.17" fill="#2222c8" />
<ellipse cx="149.7" cy="554.2" rx="1.09" ry="2.03" fill="#2222c8" />
<ellipse cx="153.8" cy="544.7" rx="1.36" ry="2.45" fill="#1a1aa8" />
<ellipse cx="158.7" cy="554.4" rx="0.71" ry="1.16" fill="#2222c8" />
<ellipse cx="158.2" cy="550.1" rx="1.40" ry="1.54" fill="#2222c8" />
<ellipse cx="142.4" cy="550.4" rx="1.36" ry="1.68" fill="#2222c8" />
<ellipse cx="153.7" cy="554.5" rx="1.19" ry="1.70" fill="#1a1aa8" />
<ellipse cx="152.8" cy="553.7" rx="1.25" ry="1.29" fill="#2222c8" />
<ellipse cx="149.5" cy="538.3" rx="0.90" ry="1.12" fill="#2222c8" />
<ellipse cx="152.4" cy="550.6" rx="1.22" ry="1.75" fill="#2222c8" />
<ellipse cx="141.5" cy="548.0" rx="1.40" ry="2.60" fill="#2222c8" />
<ellipse cx="154.1" cy="550.7" rx="1.17" ry="2.15" fill="#2222c8" />
<ellipse cx="150.9" cy="550.6" rx="0.87" ry="1.42" fill="#2222c8" />
<ellipse cx="151.1" cy="544.7" rx="1.08" ry="1.46" fill="#2222c8" />
<ellipse cx="149.0" cy="544.5" rx="0.84" ry="0.94" fill="#2222c8" />
<ellipse cx="148.9" cy="549.7" rx="0.91" ry="0.95" fill="#20a8b8" />
<ellipse cx="146.3" cy="552.7" rx="1.19" ry="1.97" fill="#34d4e0" />
<ellipse cx="150.2" cy="550.8" rx="1.10" ry="1.16" fill="#34d4e0" />
<ellipse cx="146.0" cy="553.6" rx="0.97" ry="1.66" fill="#20a8b8" />
<ellipse cx="146.0" cy="551.6" rx="1.24" ry="1.35" fill="#20a8b8" />
<ellipse cx="143.1" cy="547.9" rx="0.94" ry="1.21" fill="#20a8b8" />
<ellipse cx="150.1" cy="547.5" rx="0.82" ry="0.83" fill="#20a8b8" />
<ellipse cx="146.4" cy="545.9" rx="1.23" ry="1.82" fill="#20a8b8" />
<ellipse cx="154.9" cy="552.7" rx="0.96" ry="1.14" fill="#34d4e0" />
<ellipse cx="154.9" cy="551.8" rx="0.90" ry="0.93" fill="#34d4e0" />
<ellipse cx="150.5" cy="549.7" rx="1.02" ry="1.89" fill="#20a8b8" />
<ellipse cx="142.4" cy="551.2" rx="1.22" ry="1.71" fill="#20a8b8" />
<polygon points="82.5,554.0 83.0,552.6 84.0,551.5 84.8,550.6 85.9,550.4 86.8,549.6 88.0,549.5 88.7,548.4 89.9,548.1 91.3,548.1 92.0,547.0 93.0,546.5 93.7,545.7 94.0,544.5 95.0,544.0 95.4,543.0 95.5,541.9 95.8,540.9 96.5,540.0 97.6,540.7 98.0,542.0 98.0,540.8 99.2,539.8 99.4,538.7 99.4,537.4 99.9,538.5 101.0,539.0 101.7,538.0 101.4,536.6 101.9,535.6 102.5,534.5 103.1,535.8 104.0,537.0 104.5,536.1 105.0,535.1 105.3,534.1 104.6,532.9 105.4,532.0 105.8,533.1 106.3,534.1 107.0,535.0 107.5,534.1 107.6,533.0 108.3,532.3 108.4,531.2 109.7,530.7 109.7,529.6 109.7,530.9 110.5,531.9 111.0,533.0 111.5,531.9 112.7,531.3 113.0,530.0 114.1,529.1 115.1,528.1 115.0,529.2 115.4,530.2 116.1,531.0 116.5,532.0 118.0,533.0 119.1,534.0 120.0,535.2 120.4,536.2 121.1,537.0 121.5,538.0 122.8,538.5 123.6,539.6 124.6,540.1 125.1,541.3 126.5,541.4 127.0,542.5 128.3,542.9 128.9,544.3 130.0,545.0 131.1,545.4 132.0,546.3 133.0,546.8 134.0,547.5 135.1,547.7 135.8,548.8 137.1,548.3 138.0,549.0 139.0,549.0 140.1,548.9 141.0,549.6 142.0,549.3 143.0,549.5 144.0,550.2 145.0,550.0 146.0,549.9 147.0,550.3 148.0,550.8 149.0,549.9 150.1,550.0 151.0,550.3 152.0,551.0 153.0,550.9 154.0,550.6 155.0,551.0 156.0,550.9 157.0,550.8 158.0,551.2 159.0,550.8 160.0,551.7 161.0,552.0 162.0,552.2 163.0,552.0 164.0,552.4 165.1,551.3 166.0,552.0 166.9,552.9 166.9,554.3 168.0,555.0 167.0,554.7 166.0,555.1 165.0,554.4 164.0,554.8 163.0,554.6 162.0,555.2 161.0,555.3 160.0,555.0 158.9,555.3 157.9,555.0 156.9,554.3 155.9,555.1 154.9,555.4 153.9,555.4 152.9,555.2 151.9,554.5 150.9,555.0 149.9,555.0 148.9,555.3 147.9,554.2 146.9,554.8 145.9,555.1 144.9,555.3 143.9,555.3 142.8,555.1 141.8,554.5 140.8,555.1 139.8,555.2 138.8,554.7 137.8,554.9 136.8,554.0 135.8,555.1 134.8,554.6 133.8,554.3 132.8,554.7 131.8,554.0 130.8,554.6 129.8,554.9 128.8,554.6 127.8,555.1 126.8,554.6 125.7,554.8 124.8,554.0 123.7,554.1 122.7,554.5 121.7,555.0 120.7,554.7 119.7,554.7 118.7,554.8 117.7,554.7 116.7,554.0 115.7,554.8 114.7,554.9 113.7,553.9 112.7,554.3 111.7,553.8 110.7,554.4 109.7,553.8 108.7,554.1 107.7,553.9 106.6,554.0 105.6,554.3 104.6,554.7 103.6,554.6 102.6,553.8 101.6,553.7 100.6,553.7 99.6,554.4 98.6,554.0 97.6,553.8 96.6,554.0 95.6,553.8 94.6,554.1 93.6,553.9 92.6,553.9 91.5,554.4 90.6,553.6 89.5,553.5 88.5,554.6 87.5,553.5 86.5,553.5 85.5,553.8 84.5,554.6 83.5,553.5" fill="#ff50ff" />
<polygon points="82.5,555.0 83.4,553.8 84.0,552.5 85.1,552.3 86.2,551.8 87.2,551.5 88.0,550.5 89.2,550.1 90.3,549.7 90.7,548.1 92.0,548.0 92.7,547.2 93.9,546.9 94.4,545.9 95.0,545.0 95.8,544.2 95.3,542.8 96.1,542.0 96.5,541.0 97.5,541.8 98.0,543.0 98.4,541.9 98.8,540.7 98.5,539.4 99.4,538.4 100.4,539.0 101.0,540.0 101.1,538.8 102.2,537.9 102.4,536.7 102.5,535.5 103.6,536.5 104.0,538.0 104.6,537.1 104.1,535.9 105.0,535.0 104.7,533.9 105.4,533.0 106.5,533.7 106.1,535.2 107.0,536.0 107.1,534.9 107.6,534.0 108.9,533.6 109.2,532.6 109.0,531.4 109.7,530.6 109.6,531.9 110.5,532.9 111.0,534.0 111.8,533.1 112.0,531.8 113.0,531.0 114.4,530.4 115.1,529.1 115.2,530.2 115.3,531.2 115.7,532.2 116.5,533.0 118.0,534.0 119.2,534.9 120.0,536.2 120.6,537.1 121.4,537.9 121.5,539.0 122.8,539.5 123.6,540.6 124.8,540.9 125.5,541.9 126.1,542.9 127.0,543.5 128.4,543.9 128.9,545.3 130.0,546.0 131.1,546.5 132.1,547.1 132.8,548.2 134.0,548.5 135.0,548.9 136.1,549.0 137.0,549.6 138.0,550.0 139.0,550.4 140.1,549.8 140.9,551.0 142.1,550.0 143.0,551.0 143.9,551.3 145.0,551.0 146.1,550.5 147.0,551.5 148.0,551.1 149.0,551.5 150.1,550.9 151.1,551.1 152.0,551.3 152.9,552.3 154.0,551.5 155.0,552.0 156.0,552.4 157.0,552.7 158.0,552.8 159.0,552.2 160.0,552.3 161.0,552.6 162.0,553.0 163.0,552.3 164.0,553.1 165.0,553.3 166.0,553.0 166.3,554.2 167.8,554.7 168.0,556.0 167.0,555.5 166.0,556.5 165.0,556.2 164.0,555.8 163.0,555.4 162.0,556.1 161.0,555.4 160.0,555.9 158.9,556.1 157.9,556.1 156.9,556.3 155.9,556.4 154.9,556.3 153.9,555.6 152.9,555.2 151.9,556.2 150.9,556.3 149.9,555.2 148.9,555.7 147.9,555.9 146.9,556.1 145.9,555.6 144.9,555.3 143.9,555.8 142.9,555.8 141.8,556.2 140.8,555.2 139.8,556.2 138.8,555.7 137.8,555.2 136.8,556.1 135.8,555.3 134.8,555.1 133.8,555.4 132.8,555.2 131.8,556.0 130.8,555.6 129.8,556.0 128.8,555.1 127.8,555.8 126.8,555.6 125.8,554.9 124.8,555.1 123.7,554.9 122.7,555.5 121.7,555.5 120.7,555.2 119.7,555.5 118.7,555.7 117.7,555.5 116.7,555.8 115.7,555.5 114.7,554.8 113.7,554.8 112.7,555.2 111.7,555.3 110.7,555.5 109.7,555.8 108.6,555.6 107.7,555.0 106.6,554.8 105.6,555.4 104.6,554.9 103.6,554.9 102.6,555.0 101.6,555.0 100.6,554.9 99.6,555.4 98.6,554.9 97.6,555.4 96.6,555.2 95.6,554.8 94.6,554.9 93.6,555.4 92.6,554.6 91.6,554.9 90.5,555.0 89.5,555.7 88.5,555.0 87.5,555.4 86.5,554.8 85.5,555.1 84.5,554.6 83.5,554.8" fill="#2222c8" />
<polygon points="86.0,556.0 87.0,555.6 87.9,554.9 88.4,553.9 89.0,553.0 90.0,552.5 90.5,551.4 91.8,551.5 92.5,550.7 93.5,550.4 94.1,549.5 95.0,549.0 95.9,548.4 96.2,547.2 97.4,546.8 98.0,546.0 98.5,545.0 99.1,544.1 99.9,543.4 100.5,542.5 101.3,541.8 101.5,540.6 102.5,540.0 103.8,539.3 105.0,538.5 105.9,539.1 107.0,539.0 107.4,537.9 108.6,537.2 109.1,536.1 109.5,535.0 110.1,536.0 111.3,536.2 112.0,537.0 112.4,535.9 113.8,535.8 114.5,535.0 115.0,534.0 115.8,534.8 116.9,535.4 117.5,536.4 118.0,537.5 118.6,538.5 119.7,539.1 119.8,540.5 121.0,541.0 121.7,541.9 122.9,542.3 123.3,543.5 124.3,544.1 125.0,545.0 125.5,546.0 126.4,546.6 127.5,546.8 128.2,547.5 129.0,548.1 130.0,548.5 130.9,549.3 131.8,549.9 133.2,549.2 134.1,550.0 135.0,550.7 136.0,551.0 137.0,550.9 138.0,551.4 139.1,551.0 139.9,552.1 141.0,551.9 142.1,551.5 143.0,552.4 144.0,552.1 145.0,552.5 146.0,552.2 147.0,552.7 148.0,552.4 149.0,552.6 150.0,553.4 151.0,553.3 152.1,552.6 153.0,553.6 154.1,552.8 155.0,553.3 156.0,554.1 157.0,553.8 158.0,553.6 159.0,553.8 160.0,554.0 161.0,554.0 162.0,553.7 163.0,554.8 164.0,553.8 165.0,554.3 166.0,554.5 166.0,556.0 165.0,555.7 164.0,556.1 163.0,555.4 162.0,556.3 161.0,555.4 160.0,555.5 159.0,555.8 158.0,555.5 157.0,556.1 156.0,555.6 155.0,555.6 154.0,556.0 153.0,556.0 152.0,555.8 151.0,556.1 150.0,556.5 149.0,555.7 148.0,556.3 147.0,556.0 146.0,555.7 145.0,556.4 144.0,556.6 143.0,556.5 142.0,555.9 141.0,556.2 140.0,556.3 139.0,556.1 138.0,555.5 137.0,556.3 136.0,556.1 135.0,555.5 134.0,555.9 133.0,556.3 132.0,556.0 131.0,556.0 130.0,556.4 129.0,556.1 128.0,556.2 127.0,555.6 126.0,556.2 125.0,555.8 124.0,555.4 123.0,555.5 122.0,556.1 121.0,555.9 120.0,556.2 119.0,556.1 118.0,556.0 117.0,555.6 116.0,555.5 115.0,556.3 114.0,556.6 113.0,556.1 112.0,556.5 111.0,556.6 110.0,555.7 109.0,556.5 108.0,555.7 107.0,556.2 106.0,555.5 105.0,555.6 104.0,556.5 103.0,556.4 102.0,555.5 101.0,555.9 100.0,556.1 99.0,555.7 98.0,555.6 97.0,556.0 96.0,556.0 95.0,556.5 94.0,556.2 93.0,556.4 92.0,555.8 91.0,555.9 90.0,556.4 89.0,555.8 88.0,556.5 87.0,556.5" fill="#34d4e0" />
<polygon points="92.0,556.0 92.6,555.1 93.3,554.1 94.5,553.8 94.7,552.5 95.9,552.1 96.6,551.2 97.1,550.2 98.2,549.8 99.0,549.0 99.4,547.8 100.5,547.3 101.0,546.2 101.9,545.5 103.0,545.0 103.7,544.3 104.8,544.1 105.1,542.8 106.0,542.3 107.0,542.0 108.1,541.6 109.2,541.5 110.0,540.6 111.0,540.0 112.0,539.6 113.1,540.1 113.9,538.7 115.0,539.0 115.8,540.0 117.1,540.1 118.0,541.0 119.1,541.4 119.8,542.2 120.4,543.1 121.0,544.0 121.6,545.0 122.9,545.2 123.4,546.3 124.2,547.1 125.3,547.6 126.0,548.5 127.0,549.1 128.2,549.0 129.2,549.5 130.2,550.2 130.9,551.2 132.0,551.4 133.0,552.0 134.0,551.9 135.0,552.4 136.0,552.4 137.0,552.4 137.9,553.2 139.0,553.2 140.1,552.9 141.0,553.4 142.0,553.5 142.9,554.1 144.0,554.1 145.0,554.0 146.0,553.8 146.9,554.8 148.0,553.8 149.0,554.3 150.0,554.8 151.0,554.2 152.0,554.7 153.1,554.2 154.0,555.1 155.0,555.0 155.0,556.0 154.0,555.7 153.0,555.9 152.0,555.5 151.0,556.2 150.0,555.8 149.0,555.9 148.0,555.9 147.0,556.1 146.0,555.6 145.0,555.5 144.0,556.0 143.0,555.8 142.0,556.5 141.0,555.8 140.0,555.8 139.0,555.4 138.0,555.6 137.0,556.3 136.0,556.1 135.0,555.8 134.0,556.6 133.0,556.0 132.0,556.4 131.0,556.5 130.0,556.5 129.0,555.7 128.0,556.4 127.0,556.3 126.0,556.1 125.0,555.6 124.0,556.5 123.0,556.1 122.0,555.9 121.0,555.5 120.0,555.6 119.0,555.6 118.0,556.3 117.0,556.1 116.0,556.2 115.0,555.5 114.0,555.5 113.0,556.4 112.0,556.4 111.0,556.3 110.0,556.3 109.0,556.0 108.0,555.9 107.0,556.3 106.0,556.6 105.0,556.1 104.0,556.2 103.0,555.9 102.0,555.5 101.0,555.8 100.0,556.0 99.0,555.9 98.0,555.8 97.0,556.5 96.0,555.5 95.0,555.7 94.0,555.6 93.0,555.6" fill="#22c030" />
<polygon points="100.0,556.0 100.1,554.9 101.2,554.2 100.8,552.9 101.7,552.1 101.5,550.9 102.0,549.9 103.1,549.2 103.0,548.0 103.4,547.1 104.4,546.6 105.0,545.7 105.6,545.0 106.3,544.2 107.0,543.5 107.9,542.9 109.1,543.2 109.9,542.2 110.9,542.0 112.0,542.0 113.2,542.1 114.1,542.8 115.0,543.4 116.0,544.0 116.5,545.1 117.7,545.5 118.7,546.1 119.4,547.0 120.0,548.0 120.2,549.3 121.6,549.8 121.7,551.1 122.5,551.9 123.0,553.0 123.2,554.1 123.8,554.9 124.0,556.0 123.0,555.8 122.0,556.0 121.0,555.9 120.0,555.6 119.0,555.9 118.0,556.4 117.0,556.4 116.0,555.6 115.0,556.0 114.0,556.3 113.0,555.6 112.0,555.9 111.0,555.8 110.0,555.6 109.0,556.2 108.0,556.1 107.0,555.6 106.0,556.4 105.0,555.7 104.0,556.4 103.0,555.8 102.0,555.8 101.0,555.6" fill="#e8e000" />
<polygon points="102.8,556.0 103.0,555.0 103.1,554.0 103.2,552.9 103.9,552.1 103.5,550.9 104.1,550.0 104.6,549.1 104.5,548.0 105.1,547.1 106.1,546.8 107.0,546.3 107.5,545.3 108.5,545.0 109.6,544.9 110.8,545.2 111.9,545.0 113.0,545.0 113.8,545.9 114.9,546.3 115.8,547.1 116.5,548.0 117.1,548.9 117.0,550.0 116.9,551.1 117.4,552.0 117.5,553.1 118.1,554.0 118.1,555.0 118.5,556.0 117.5,556.3 116.4,556.2 115.4,555.9 114.3,555.8 113.3,556.1 112.2,556.3 111.2,556.2 110.1,556.2 109.1,556.2 108.0,555.8 107.0,556.2 105.9,555.7 104.9,555.7 103.8,556.4" fill="#7a4010" />
<polygon points="103.8,556.0 104.1,555.0 104.2,553.9 104.6,552.9 104.5,551.8 105.3,550.9 105.5,549.9 105.5,548.8 106.4,548.2 107.0,547.3 108.0,546.9 108.8,546.2 109.8,546.1 110.8,546.1 111.8,546.6 112.8,546.3 113.5,547.5 114.9,547.8 115.6,549.0 115.6,550.1 116.0,551.0 116.5,552.0 116.8,553.0 116.8,554.0 117.2,555.0 117.4,556.0 116.4,555.9 115.3,555.9 114.3,556.3 113.2,555.8 112.2,555.6 111.1,555.6 110.1,555.9 109.0,556.4 108.0,556.4 106.9,556.3 105.9,555.6 104.8,556.2" fill="#c87a28" />
<polygon points="107.6,546.0 108.6,546.0 108.4,555.0 107.8,555.0" fill="#a02010" />
<polygon points="50.0,553.4 167.5,553.4 167.5,554.3 50.0,554.3" fill="#a8ecd0" />
<polygon points="50.0,554.3 167.5,554.3 167.5,555.4 50.0,555.4" fill="#b89810" />
<polygon points="50.0,555.4 167.5,555.4 167.5,557.0 50.0,557.0" fill="#7a4a10" />
</g>
</g>
<g clip-path="url(#cl31)">
<g filter="url(#soft)">
<ellipse cx="270.4" cy="436.0" rx="0.80" ry="3.20" fill="#ff50ff" />
<ellipse cx="270.8" cy="443.5" rx="0.70" ry="2.00" fill="#ff50ff" />
<ellipse cx="272.0" cy="510.0" rx="1.20" ry="2.00" fill="#ff50ff" />
<ellipse cx="267.0" cy="517.0" rx="1.00" ry="1.60" fill="#ff50ff" />
<ellipse cx="264.0" cy="530.0" rx="1.00" ry="1.80" fill="#ff50ff" />
<ellipse cx="276.0" cy="535.0" rx="1.10" ry="2.20" fill="#ff50ff" />
<ellipse cx="278.0" cy="542.0" rx="1.00" ry="1.60" fill="#ff50ff" />
<ellipse cx="262.0" cy="541.0" rx="1.00" ry="1.20" fill="#ff50ff" />
<ellipse cx="274.0" cy="527.0" rx="1.20" ry="1.50" fill="#ff50ff" />
<ellipse cx="266.0" cy="523.0" rx="0.80" ry="1.20" fill="#ff50ff" />
<ellipse cx="280.0" cy="548.0" rx="0.80" ry="1.20" fill="#ff50ff" />
<polygon points="264.0,531.0 264.4,529.9 265.7,529.7 266.4,528.9 267.0,528.0 268.0,528.2 269.1,528.1 269.9,529.1 271.0,529.0 271.4,530.1 272.4,530.6 273.1,531.4 274.1,532.0 274.5,533.0 275.3,533.9 274.8,535.0 274.6,536.0 275.4,536.9 274.5,538.0 275.0,539.0 274.8,540.3 274.3,541.4 274.1,542.6 273.0,543.5 271.9,542.9 271.0,543.4 269.9,543.3 269.0,543.7 268.0,544.0 266.7,543.7 266.1,542.7 265.4,541.8 264.5,541.0 263.8,540.1 264.7,538.9 263.7,538.0 263.2,537.1 263.5,536.0 264.0,535.0 263.2,533.9 264.4,533.1 263.8,532.0" fill="#2222c8" />
<ellipse cx="267.8" cy="537.0" rx="2.60" ry="2.40" fill="#34d4e0" />
<ellipse cx="271.0" cy="521.0" rx="2.00" ry="2.60" fill="#2222c8" />
<ellipse cx="246.4" cy="542.0" rx="1.50" ry="3.60" fill="#ff50ff" />
<ellipse cx="245.5" cy="542.0" rx="1.00" ry="3.00" fill="#2222c8" />
<ellipse cx="249.9" cy="545.0" rx="1.50" ry="3.80" fill="#ff50ff" />
<ellipse cx="249.0" cy="545.0" rx="1.00" ry="3.20" fill="#2222c8" />
<ellipse cx="253.2" cy="541.0" rx="1.50" ry="3.10" fill="#ff50ff" />
<ellipse cx="252.3" cy="541.0" rx="1.00" ry="2.50" fill="#2222c8" />
<ellipse cx="255.9" cy="547.0" rx="1.50" ry="3.40" fill="#ff50ff" />
<ellipse cx="255.0" cy="547.0" rx="1.00" ry="2.80" fill="#2222c8" />
<ellipse cx="258.9" cy="543.0" rx="1.50" ry="2.80" fill="#ff50ff" />
<ellipse cx="258.0" cy="543.0" rx="1.00" ry="2.20" fill="#2222c8" />
<ellipse cx="261.9" cy="548.0" rx="1.50" ry="2.60" fill="#ff50ff" />
<ellipse cx="261.0" cy="548.0" rx="1.00" ry="2.00" fill="#2222c8" />
<ellipse cx="247.9" cy="549.0" rx="1.30" ry="2.10" fill="#ff50ff" />
<ellipse cx="247.0" cy="549.0" rx="0.80" ry="1.50" fill="#2222c8" />
<ellipse cx="257.4" cy="551.0" rx="1.30" ry="1.80" fill="#ff50ff" />
<ellipse cx="256.5" cy="551.0" rx="0.80" ry="1.20" fill="#2222c8" />
<polygon points="262.0,556.0 263.3,554.9 264.0,553.3 265.2,552.9 266.4,552.6 267.6,553.3 268.8,552.5 270.0,552.6 271.3,552.3 272.7,552.7 274.0,552.4 275.3,552.8 276.7,552.3 278.0,552.5 279.4,552.7 280.8,552.1 282.2,552.2 283.6,552.3 285.0,551.8 286.3,551.7 287.6,551.7 288.8,551.4 290.0,551.0 290.4,552.2 289.7,553.5 289.9,554.8 290.0,556.0 288.8,556.2 287.6,556.2 286.3,555.7 285.1,555.9 283.9,555.6 282.7,555.8 281.5,555.6 280.3,555.9 279.0,555.8 277.8,555.9 276.6,556.2 275.4,555.6 274.2,556.2 273.0,555.8 271.7,555.6 270.5,555.9 269.3,556.3 268.1,555.7 266.9,555.9 265.7,556.3 264.4,556.4 263.2,556.0" fill="#2222c8" />
<polygon points="264.0,556.0 265.2,555.2 266.0,554.0 267.2,554.1 268.4,554.0 269.6,553.4 270.8,553.6 272.0,553.4 273.3,553.3 274.7,553.4 276.0,553.1 277.3,553.1 278.7,553.3 280.0,553.3 281.2,553.0 282.5,553.1 283.7,552.7 285.0,552.7 286.3,552.9 287.5,552.7 288.8,552.6 290.0,552.5 289.9,554.2 290.0,556.0 288.8,556.1 287.5,556.3 286.3,555.8 285.0,555.9 283.8,555.9 282.6,555.9 281.3,555.7 280.1,556.1 278.9,555.8 277.6,556.1 276.4,556.0 275.1,555.9 273.9,556.1 272.7,556.2 271.4,556.0 270.2,555.9 269.0,555.9 267.7,556.0 266.5,555.9 265.2,556.2" fill="#34d4e0" />
<ellipse cx="286.0" cy="550.0" rx="1.20" ry="1.50" fill="#2222c8" />
<ellipse cx="232.0" cy="553.7" rx="0.47" ry="0.47" fill="#ff50ff" />
<ellipse cx="228.7" cy="552.2" rx="0.70" ry="1.13" fill="#ff50ff" />
<ellipse cx="197.7" cy="553.8" rx="0.41" ry="0.67" fill="#2222c8" />
<ellipse cx="254.0" cy="552.2" rx="0.61" ry="0.93" fill="#2222c8" />
<ellipse cx="210.5" cy="552.6" rx="0.78" ry="1.16" fill="#ff50ff" />
<ellipse cx="195.3" cy="553.2" rx="0.67" ry="0.59" fill="#2222c8" />
<ellipse cx="226.9" cy="553.3" rx="0.41" ry="0.46" fill="#ff50ff" />
<ellipse cx="246.6" cy="552.1" rx="0.44" ry="0.71" fill="#ff50ff" />
<polygon points="172.0,553.8 289.5,553.8 289.5,554.6 172.0,554.6" fill="#70c070" />
<polygon points="172.0,554.6 289.5,554.6 289.5,555.6 172.0,555.6" fill="#a88010" />
<polygon points="172.0,555.6 289.5,555.6 289.5,557.0 172.0,557.0" fill="#7a4a10" />
</g>
</g>
<g clip-path="url(#cl32)">
<g filter="url(#soft)">
<ellipse cx="381.5" cy="541.0" rx="0.80" ry="1.20" fill="#ff50ff" />
<ellipse cx="385.5" cy="542.0" rx="0.70" ry="1.00" fill="#ff50ff" />
<ellipse cx="394.0" cy="541.0" rx="0.80" ry="1.40" fill="#ff50ff" />
<ellipse cx="392.5" cy="544.0" rx="0.70" ry="1.00" fill="#ff50ff" />
<ellipse cx="297.0" cy="553.0" rx="0.80" ry="1.00" fill="#ff50ff" />
<ellipse cx="376.0" cy="548.0" rx="0.60" ry="0.80" fill="#ff50ff" />
<polygon points="376.0,557.0 375.5,556.0 375.7,555.0 376.1,554.0 376.6,553.0 376.0,552.0 376.5,551.0 376.9,549.5 378.0,548.5 378.6,547.6 379.8,547.5 380.1,546.4 381.4,546.3 382.0,545.5 383.1,545.0 383.8,543.9 385.0,543.7 386.0,543.0 387.0,542.3 387.9,541.6 389.0,541.0 390.3,541.0 391.0,540.0 392.3,540.3 393.3,540.9 394.0,542.0 394.2,543.1 395.3,543.5 396.1,544.2 396.6,545.1 397.0,546.0 398.1,546.2 398.8,547.3 400.1,546.8 401.0,547.5 402.0,547.2 403.0,547.6 404.0,547.6 405.0,547.5 406.1,547.9 407.1,547.6 408.0,546.8 408.9,546.5 410.1,547.1 411.0,546.5 410.5,547.6 411.8,548.5 411.0,549.7 411.0,550.7 411.3,551.8 411.9,552.8 411.3,553.9 411.5,554.9 412.3,555.9 412.0,557.0 411.0,556.8 410.0,557.3 409.0,557.6 408.0,557.2 407.0,557.2 406.0,557.1 405.0,556.8 404.0,556.6 403.0,556.4 402.0,556.4 401.0,556.4 400.0,556.7 399.0,557.2 398.0,557.4 397.0,556.9 396.0,556.9 395.0,556.8 394.0,557.5 393.0,557.4 392.0,556.5 391.0,556.9 390.0,556.8 389.0,557.5 388.0,557.1 387.0,556.5 386.0,556.8 385.0,556.4 384.0,557.4 383.0,557.1 382.0,556.6 381.0,557.1 380.0,556.7 379.0,556.9 378.0,557.5 377.0,557.5" fill="#2222c8" />
<polygon points="379.0,557.0 379.0,555.9 379.4,554.9 379.9,554.0 380.6,553.1 380.7,552.0 381.0,551.0 382.1,550.7 382.9,549.7 384.0,549.5 385.0,549.0 386.1,549.0 387.0,548.4 388.1,548.4 389.1,548.1 390.0,547.5 391.0,547.6 392.1,547.5 393.0,548.3 394.1,548.0 395.0,548.5 396.1,548.4 396.9,549.3 397.9,549.7 398.9,550.0 400.0,550.0 401.0,550.3 402.0,549.6 403.0,549.4 404.0,549.4 405.0,550.0 406.0,549.5 407.0,549.1 408.0,549.1 409.0,548.9 410.0,548.8 411.0,548.7 412.0,549.0 412.1,550.0 412.3,551.0 412.2,552.0 411.7,553.0 412.3,554.0 411.7,555.0 411.8,556.0 412.0,557.0 411.0,556.9 410.0,556.9 409.0,556.8 408.0,556.9 407.0,557.2 406.0,557.1 405.0,557.2 404.0,557.1 403.0,556.6 402.0,557.1 401.0,557.3 400.0,557.0 399.0,556.7 398.0,557.0 397.0,556.8 396.0,557.3 395.0,557.4 394.0,556.9 393.0,557.4 392.0,557.2 391.0,557.1 390.0,557.2 389.0,557.4 388.0,557.4 387.0,556.6 386.0,556.8 385.0,556.6 384.0,557.0 383.0,556.6 382.0,556.7 381.0,556.9 380.0,557.0" fill="#34d4e0" />
<polygon points="392.0,557.0 392.6,556.0 393.3,555.0 394.0,554.1 394.3,552.9 395.0,552.0 396.0,552.0 397.0,552.0 398.0,551.9 399.0,551.4 400.0,551.5 401.0,551.5 402.0,551.3 403.0,551.2 404.0,551.3 405.0,550.9 406.0,550.8 407.0,550.7 408.0,551.0 409.0,550.7 410.0,550.5 411.0,550.4 412.0,550.5 412.0,551.6 412.3,552.7 411.9,553.8 411.9,554.8 412.0,555.9 412.0,557.0 411.0,556.8 410.0,556.7 409.0,557.0 408.0,556.9 407.0,557.2 406.0,557.3 405.0,556.7 404.0,557.1 403.0,557.2 402.0,556.8 401.0,556.9 400.0,557.2 399.0,557.1 398.0,557.2 397.0,557.1 396.0,557.3 395.0,557.0 394.0,557.1 393.0,557.1" fill="#22c030" />
<polygon points="399.0,557.0 399.5,556.0 400.0,555.0 400.7,554.1 401.0,553.0 402.0,553.1 403.0,553.0 404.0,552.6 405.0,552.9 406.0,552.5 407.0,552.4 408.0,552.2 409.0,552.0 410.0,552.2 411.0,551.9 412.0,552.0 412.1,553.0 411.9,554.0 411.8,555.0 411.8,556.0 412.0,557.0 411.0,557.2 410.0,557.3 409.0,557.1 408.0,557.0 407.0,556.8 406.0,556.8 405.0,556.7 404.0,556.9 403.0,556.9 402.0,557.1 401.0,557.1 400.0,557.2" fill="#e8e000" />
<polygon points="404.0,557.0 404.7,556.0 405.5,555.1 406.0,554.0 407.0,554.1 408.0,554.1 409.0,553.6 410.0,553.9 411.0,553.6 412.0,553.5 411.9,554.7 411.8,555.8 412.0,557.0 411.0,556.7 410.0,557.1 409.0,557.1 408.0,556.9 407.0,556.9 406.0,556.8 405.0,557.1" fill="#e08a20" />
<ellipse cx="320.3" cy="554.0" rx="0.78" ry="1.31" fill="#2222c8" />
<ellipse cx="296.0" cy="553.4" rx="0.50" ry="0.58" fill="#2222c8" />
<ellipse cx="315.8" cy="552.6" rx="0.56" ry="1.00" fill="#2222c8" />
<ellipse cx="321.6" cy="553.7" rx="0.76" ry="0.73" fill="#2222c8" />
<ellipse cx="334.0" cy="553.6" rx="0.48" ry="0.47" fill="#2222c8" />
<ellipse cx="348.2" cy="553.0" rx="0.75" ry="0.61" fill="#ff50ff" />
<polygon points="294.0,554.3 411.0,554.3 411.0,555.3 294.0,555.3" fill="#a88010" />
<polygon points="294.0,555.3 411.0,555.3 411.0,557.0 294.0,557.0" fill="#7a4a10" />
</g>
</g>
<g clip-path="url(#cl40)">
<g filter="url(#soft)">
<ellipse cx="86.0" cy="668.0" rx="1.20" ry="2.50" fill="#ff50ff" />
<ellipse cx="88.0" cy="675.0" rx="1.50" ry="2.50" fill="#ff50ff" />
<ellipse cx="90.0" cy="680.0" rx="1.20" ry="1.50" fill="#ff50ff" />
<ellipse cx="92.0" cy="662.0" rx="0.80" ry="1.50" fill="#ff50ff" />
<ellipse cx="125.0" cy="600.0" rx="0.80" ry="1.20" fill="#ff50ff" />
<ellipse cx="153.0" cy="612.0" rx="1.00" ry="2.00" fill="#ff50ff" />
<ellipse cx="155.0" cy="626.0" rx="1.00" ry="2.00" fill="#ff50ff" />
<ellipse cx="155.0" cy="640.0" rx="0.90" ry="1.80" fill="#ff50ff" />
<ellipse cx="154.0" cy="655.0" rx="1.00" ry="1.50" fill="#ff50ff" />
<ellipse cx="149.0" cy="664.0" rx="0.80" ry="1.20" fill="#ff50ff" />
<ellipse cx="140.0" cy="600.0" rx="0.80" ry="1.20" fill="#ff50ff" />
<ellipse cx="134.0" cy="604.0" rx="0.90" ry="1.20" fill="#ff50ff" />
<ellipse cx="118.0" cy="596.0" rx="0.80" ry="1.20" fill="#ff50ff" />
<ellipse cx="150.0" cy="600.0" rx="1.00" ry="1.50" fill="#ff50ff" />
<ellipse cx="156.0" cy="648.0" rx="0.80" ry="1.50" fill="#ff50ff" />
<ellipse cx="126.0" cy="674.0" rx="0.90" ry="1.20" fill="#ff50ff" />
<ellipse cx="140.0" cy="672.0" rx="0.80" ry="1.00" fill="#ff50ff" />
<ellipse cx="97.0" cy="683.0" rx="0.80" ry="1.00" fill="#ff50ff" />
<ellipse cx="158.0" cy="622.0" rx="0.80" ry="1.40" fill="#ff50ff" />
<ellipse cx="145.0" cy="598.0" rx="0.80" ry="1.20" fill="#ff50ff" />
<ellipse cx="93.0" cy="670.0" rx="0.80" ry="1.20" fill="#ff50ff" />
<ellipse cx="130.0" cy="607.0" rx="0.80" ry="1.20" fill="#ff50ff" />
<ellipse cx="122.0" cy="606.0" rx="0.70" ry="1.10" fill="#ff50ff" />
<ellipse cx="102.2" cy="614.4" rx="0.86" ry="1.06" fill="#1a1aa8" />
<ellipse cx="102.4" cy="673.7" rx="0.86" ry="1.47" fill="#ff50ff" />
<ellipse cx="149.7" cy="641.8" rx="0.53" ry="0.95" fill="#1a1aa8" />
<ellipse cx="131.6" cy="637.7" rx="0.51" ry="0.56" fill="#ff50ff" />
<ellipse cx="144.9" cy="606.9" rx="0.54" ry="0.72" fill="#ff50ff" />
<ellipse cx="114.6" cy="646.3" rx="0.58" ry="0.91" fill="#1a1aa8" />
<ellipse cx="113.5" cy="673.9" rx="0.91" ry="1.66" fill="#ff50ff" />
<ellipse cx="92.1" cy="650.4" rx="0.68" ry="1.34" fill="#1a1aa8" />
<ellipse cx="89.4" cy="682.7" rx="1.08" ry="1.86" fill="#ff50ff" />
<ellipse cx="124.9" cy="647.6" rx="0.99" ry="1.28" fill="#1a1aa8" />
<ellipse cx="93.4" cy="627.7" rx="0.73" ry="1.28" fill="#ff50ff" />
<ellipse cx="126.7" cy="647.2" rx="1.01" ry="1.10" fill="#ff50ff" />
<ellipse cx="144.8" cy="640.2" rx="0.75" ry="1.32" fill="#ff50ff" />
<ellipse cx="117.5" cy="623.7" rx="1.04" ry="1.79" fill="#ff50ff" />
<ellipse cx="111.8" cy="629.9" rx="0.53" ry="0.64" fill="#ff50ff" />
<ellipse cx="92.7" cy="683.2" rx="0.65" ry="0.99" fill="#ff50ff" />
<ellipse cx="117.5" cy="657.9" rx="0.76" ry="1.33" fill="#ff50ff" />
<ellipse cx="124.4" cy="651.7" rx="0.82" ry="1.23" fill="#1a1aa8" />
<ellipse cx="97.4" cy="663.8" rx="0.50" ry="0.71" fill="#ff50ff" />
<ellipse cx="146.5" cy="646.0" rx="0.82" ry="1.28" fill="#ff50ff" />
<ellipse cx="110.3" cy="658.9" rx="0.60" ry="1.17" fill="#ff50ff" />
<ellipse cx="109.7" cy="660.0" rx="0.66" ry="1.28" fill="#2222c8" />
<ellipse cx="132.1" cy="632.0" rx="0.77" ry="1.41" fill="#1a1aa8" />
<ellipse cx="144.0" cy="634.7" rx="0.86" ry="1.52" fill="#1a1aa8" />
<ellipse cx="119.4" cy="631.5" rx="0.67" ry="1.33" fill="#ff50ff" />
<ellipse cx="123.2" cy="635.0" rx="0.73" ry="0.96" fill="#ff50ff" />
<ellipse cx="124.7" cy="656.3" rx="0.66" ry="1.01" fill="#2222c8" />
<ellipse cx="97.9" cy="619.4" rx="0.91" ry="1.64" fill="#ff50ff" />
<ellipse cx="102.0" cy="646.5" rx="0.50" ry="0.90" fill="#1a1aa8" />
<ellipse cx="109.3" cy="674.8" rx="0.83" ry="1.02" fill="#ff50ff" />
<ellipse cx="131.8" cy="639.2" rx="1.09" ry="1.98" fill="#2222c8" />
<ellipse cx="101.8" cy="618.7" rx="1.00" ry="1.69" fill="#ff50ff" />
<ellipse cx="107.8" cy="651.7" rx="1.00" ry="1.74" fill="#ff50ff" />
<ellipse cx="131.3" cy="683.0" rx="0.84" ry="1.06" fill="#1a1aa8" />
<ellipse cx="109.1" cy="650.2" rx="0.66" ry="1.06" fill="#ff50ff" />
<ellipse cx="133.7" cy="659.3" rx="0.79" ry="1.05" fill="#2222c8" />
<ellipse cx="91.3" cy="647.3" rx="0.91" ry="1.28" fill="#2222c8" />
<ellipse cx="140.2" cy="614.9" rx="0.94" ry="1.56" fill="#2222c8" />
<ellipse cx="151.5" cy="619.5" rx="0.84" ry="1.28" fill="#2222c8" />
<ellipse cx="120.1" cy="631.1" rx="1.00" ry="1.33" fill="#ff50ff" />
<ellipse cx="140.7" cy="610.3" rx="0.79" ry="1.00" fill="#1a1aa8" />
<ellipse cx="141.5" cy="612.3" rx="1.09" ry="1.78" fill="#ff50ff" />
<ellipse cx="106.0" cy="608.8" rx="0.82" ry="0.97" fill="#ff50ff" />
<ellipse cx="120.9" cy="659.6" rx="0.60" ry="0.78" fill="#2222c8" />
<ellipse cx="121.1" cy="648.3" rx="1.05" ry="1.99" fill="#ff50ff" />
<ellipse cx="113.3" cy="602.1" rx="0.53" ry="0.57" fill="#ff50ff" />
<ellipse cx="144.9" cy="616.9" rx="0.70" ry="1.33" fill="#ff50ff" />
<ellipse cx="93.1" cy="655.4" rx="1.03" ry="2.06" fill="#1a1aa8" />
<ellipse cx="105.5" cy="630.6" rx="0.82" ry="1.16" fill="#2222c8" />
<ellipse cx="105.2" cy="598.8" rx="0.52" ry="0.54" fill="#1a1aa8" />
<polygon points="103.5,582.2 104.1,581.3 104.7,580.2 106.0,580.2 107.2,579.4 107.8,581.8 109.0,581.0 109.9,581.6 111.0,581.2 111.1,582.1 111.9,582.8 111.2,584.0 111.9,584.7 111.6,585.8 112.3,586.5 113.0,587.2 112.1,588.3 113.4,589.2 114.4,590.1 114.5,591.1 113.0,592.3 114.7,593.1 113.4,594.3 114.0,595.2 113.9,596.2 115.8,596.6 113.9,598.1 116.3,598.3 114.2,599.9 114.5,600.7 116.6,601.1 116.0,602.2 115.7,603.3 116.0,604.2 118.1,604.5 116.9,605.9 118.7,606.2 116.8,608.0 117.8,608.6 117.3,609.8 119.0,610.2 120.6,609.9 120.7,611.1 120.7,612.5 121.4,613.1 123.0,612.9 123.0,614.2 124.2,615.2 125.2,614.9 125.9,613.1 126.8,612.5 128.1,613.9 129.0,613.2 129.7,612.5 130.9,612.8 131.6,611.9 132.3,611.2 132.6,609.8 133.7,609.6 135.0,610.2 135.8,609.6 137.0,609.8 137.4,608.5 138.7,608.8 139.2,607.8 140.0,607.2 141.6,607.4 141.9,606.2 142.0,604.7 142.5,603.6 144.0,603.7 144.6,602.1 145.6,601.7 147.0,602.7 147.1,604.2 147.8,604.8 148.8,605.2 150.0,605.2 151.4,605.8 150.0,607.1 151.8,607.6 149.8,609.0 150.7,609.8 150.6,610.7 151.2,611.5 152.0,612.3 152.0,613.2 151.1,614.2 150.8,615.2 153.1,615.9 152.6,616.9 151.8,617.9 152.1,618.8 153.0,619.7 153.0,620.6 151.6,621.7 153.7,622.4 154.0,623.3 152.7,624.4 154.1,625.2 153.5,626.2 152.2,627.0 153.9,628.1 152.0,628.9 153.6,629.9 152.0,630.8 152.3,631.7 152.3,632.6 153.8,633.7 153.9,634.6 154.2,635.6 153.7,636.5 152.1,637.3 153.9,638.4 152.5,639.2 153.2,640.2 152.1,641.0 153.2,642.1 152.5,642.9 152.7,643.9 151.2,644.6 152.8,645.8 150.0,646.3 151.1,647.4 150.6,648.3 151.0,649.3 151.0,650.2 150.4,651.0 148.7,650.9 148.4,651.8 148.0,652.7 149.4,654.9 147.4,654.7 146.0,654.9 146.2,656.2 146.0,657.2 145.1,657.7 144.0,657.8 143.9,659.5 142.2,658.6 141.2,659.0 141.4,661.3 139.9,660.7 139.0,661.2 138.0,661.4 137.4,662.5 136.1,662.0 134.9,661.8 134.0,662.3 133.9,664.4 133.2,665.2 131.4,663.8 131.0,665.2 130.0,665.3 128.8,665.2 127.8,665.5 127.7,667.6 126.4,667.2 125.9,668.4 124.4,667.5 123.6,668.2 123.0,669.2 122.7,670.4 121.4,670.4 120.4,670.8 120.3,672.2 119.0,672.2 120.3,672.3 120.2,673.6 121.7,673.5 121.3,675.0 120.8,676.6 121.7,677.1 123.0,677.2 124.4,676.3 124.4,678.8 125.4,678.8 126.3,679.1 127.9,677.5 128.1,679.9 129.5,678.7 129.8,680.7 131.0,680.2 132.0,679.7 132.9,679.9 133.9,679.4 134.7,681.6 135.7,679.7 136.6,681.7 137.6,680.7 138.6,679.6 139.4,681.2 140.4,680.9 141.4,679.5 142.2,681.9 143.2,680.3 144.2,679.6 145.0,681.9 146.0,681.2 146.9,681.9 147.9,680.9 148.8,680.4 149.7,681.4 150.7,681.6 151.6,682.0 152.6,681.4 153.5,681.7 154.4,682.1 155.4,680.6 156.3,680.6 157.3,681.5 158.2,682.4 159.1,682.5 160.0,682.7 161.0,681.7 162.0,681.6 162.9,682.5 164.1,680.8 165.0,681.7 166.1,680.8 167.0,682.2 167.0,683.7 166.1,682.7 165.2,682.2 164.3,683.2 163.4,682.9 162.5,684.1 161.5,682.8 160.6,684.9 159.7,684.1 158.8,684.1 157.9,682.6 157.0,684.7 156.1,684.7 155.2,684.9 154.3,682.7 153.4,684.3 152.5,682.5 151.5,684.3 150.6,682.7 149.7,684.6 148.8,682.5 147.9,682.3 147.0,682.6 146.1,683.1 145.2,682.5 144.3,682.5 143.4,682.3 142.5,684.4 141.5,682.7 140.6,682.9 139.7,684.2 138.8,684.7 137.9,682.5 137.0,683.8 136.1,683.6 135.2,682.5 134.3,683.7 133.4,684.4 132.5,683.1 131.5,683.6 130.6,684.4 129.7,683.1 128.8,682.5 127.9,684.5 127.0,682.8 126.1,682.9 125.2,683.6 124.3,684.6 123.4,683.2 122.5,684.4 121.5,684.4 120.6,682.6 119.7,684.4 118.8,684.9 117.9,682.7 117.0,682.2 116.1,684.3 115.2,684.0 114.3,683.6 113.4,682.9 112.5,685.2 111.5,683.3 110.6,684.5 109.7,682.4 108.8,684.0 107.9,682.4 107.0,683.8 106.1,683.2 105.2,685.1 104.3,684.6 103.4,684.3 102.5,684.1 101.5,684.7 100.6,683.9 99.7,684.9 98.8,683.5 97.9,682.3 97.0,682.6 96.1,683.3 95.2,682.3 94.3,683.0 93.4,683.3 92.5,683.8 91.5,685.0 90.6,682.5 89.7,682.5 88.8,682.8 87.9,683.1 87.0,683.7 88.1,683.0 88.7,682.2 89.0,681.3 88.6,680.3 88.0,679.2 87.1,677.7 90.1,678.1 89.5,676.7 89.6,675.7 90.0,674.8 90.0,673.7 91.0,673.2 90.3,671.6 92.3,671.7 92.8,670.9 91.9,669.2 94.6,669.7 94.0,668.2 95.5,667.6 95.8,666.6 95.3,665.2 95.3,664.1 96.0,663.2 95.8,662.3 95.3,661.5 96.9,660.3 96.6,659.4 96.4,658.5 95.2,657.8 95.0,656.9 95.4,655.9 94.0,655.2 94.5,654.2 93.5,653.3 95.9,652.3 93.7,651.5 93.6,650.6 94.2,649.7 93.0,648.8 94.3,647.8 93.1,647.0 95.1,646.0 92.8,645.2 94.0,644.2 95.0,643.3 93.5,642.3 95.1,641.5 95.2,640.6 95.7,639.7 93.5,638.6 95.9,637.8 93.5,636.7 94.2,635.8 93.2,634.8 94.8,634.0 93.6,633.0 95.1,632.1 95.0,631.2 96.4,630.5 96.1,629.5 95.8,628.5 94.3,627.3 97.1,626.7 95.4,625.5 97.3,624.9 95.0,623.6 95.6,622.7 97.7,622.1 97.2,621.0 95.7,619.9 96.6,619.0 97.0,618.2 97.0,617.2 96.4,616.2 96.5,615.2 96.2,614.2 97.6,613.5 97.5,612.5 97.5,611.6 98.0,610.7 97.8,609.7 98.0,608.8 99.3,608.1 97.7,606.9 97.6,605.9 99.0,605.2 99.0,604.3 98.7,603.3 99.5,602.5 100.8,601.8 101.2,600.9 101.0,599.9 101.5,599.1 99.7,597.8 100.2,596.9 99.7,595.9 101.0,595.2 100.5,594.2 100.6,593.3 100.7,592.4 101.2,591.6 103.1,591.0 102.0,589.9 103.3,589.2 102.4,588.1 102.5,587.2 103.4,586.3 103.4,585.3 103.4,584.3 104.5,583.4" fill="#ff50ff" />
<polygon points="104.5,583.0 105.6,582.7 105.2,580.5 107.0,581.0 108.2,580.7 109.3,580.8 110.0,582.0 109.6,583.1 110.0,583.9 109.7,585.0 112.4,585.0 111.7,586.2 113.1,586.7 112.0,588.0 113.0,588.9 112.2,590.0 113.9,590.8 113.5,591.9 112.1,593.1 112.6,594.0 113.8,594.9 113.0,596.0 113.0,597.0 112.5,598.0 115.3,598.2 113.1,599.8 113.6,600.5 115.0,601.1 115.8,601.8 115.0,603.0 114.0,604.4 116.2,604.6 117.2,605.2 117.5,606.1 115.6,607.8 116.7,608.4 116.4,609.6 117.0,610.4 118.0,611.0 118.6,611.7 118.3,613.4 120.3,612.7 120.5,613.8 120.6,615.1 122.0,615.0 123.1,615.2 124.2,615.8 125.0,614.7 126.1,615.0 126.8,612.7 128.0,614.0 128.5,612.8 129.4,612.5 130.0,611.5 131.0,611.5 131.7,610.7 132.8,610.8 134.0,611.0 135.1,610.9 135.4,609.6 136.3,609.1 136.9,608.2 137.8,607.9 139.0,608.0 140.7,608.4 140.9,607.0 141.6,606.2 141.5,604.4 143.0,604.5 144.2,604.9 144.7,602.8 146.0,603.5 147.0,603.8 146.5,606.0 148.0,605.7 149.0,606.0 149.0,606.9 148.9,607.9 148.6,608.9 149.0,609.8 151.0,610.2 151.8,611.0 151.1,612.1 151.5,612.9 151.0,614.0 152.0,614.8 149.8,616.0 150.1,616.9 152.0,617.6 151.0,618.7 152.0,619.5 150.4,620.7 152.0,621.4 152.7,622.3 152.9,623.2 152.0,624.2 153.0,625.1 152.1,626.1 152.5,627.0 151.2,627.8 152.7,628.9 153.2,629.9 150.6,630.6 152.1,631.6 153.4,632.7 153.4,633.6 153.2,634.5 151.5,635.3 150.9,636.2 152.0,637.2 153.0,638.2 151.9,639.1 151.5,640.0 149.8,640.7 151.2,641.8 149.6,642.5 149.9,643.5 152.4,644.8 150.1,645.4 150.0,646.3 150.4,647.3 151.1,648.4 149.8,649.1 151.4,650.3 150.0,651.0 149.6,651.9 149.0,652.6 147.2,652.5 146.8,653.4 147.8,655.3 146.7,655.7 146.9,657.0 144.5,656.5 145.0,658.0 143.5,657.5 143.6,659.6 142.2,659.1 141.3,659.7 141.2,661.5 139.3,660.3 138.8,661.4 138.0,662.0 136.7,661.6 136.2,662.8 136.0,664.8 134.7,664.3 134.2,665.6 132.1,663.4 131.2,664.0 130.4,664.6 130.0,666.0 129.4,667.0 128.9,668.2 126.8,666.3 125.8,666.5 126.1,669.4 124.7,668.7 124.4,670.3 122.5,668.8 122.0,670.0 120.7,669.9 121.1,672.2 119.6,671.9 118.7,672.3 118.0,673.0 119.2,673.2 118.2,675.2 119.9,675.0 121.0,675.3 120.8,676.6 120.9,677.7 122.0,678.0 123.2,677.4 124.0,678.1 124.1,680.5 125.4,679.8 126.5,679.5 127.3,680.1 128.6,679.2 129.4,679.8 130.0,681.0 131.0,680.5 131.9,681.4 132.9,680.3 133.8,680.4 134.8,679.9 135.6,681.8 136.6,680.6 137.4,682.8 138.4,682.7 139.5,680.3 140.4,680.9 141.2,682.3 142.2,680.9 143.2,680.7 144.0,683.3 145.0,682.0 145.9,682.3 146.9,682.0 147.8,683.0 148.7,683.1 149.7,681.2 150.7,680.9 151.6,682.0 152.5,682.0 153.4,682.2 154.4,683.0 155.3,682.9 156.2,683.9 157.2,681.1 158.1,682.1 159.1,682.0 160.0,682.5 160.9,683.7 162.1,681.9 163.1,681.8 164.0,682.7 165.0,682.7 166.0,683.0 166.0,684.5 165.1,685.2 164.2,685.3 163.3,683.1 162.4,684.7 161.5,683.3 160.6,684.3 159.7,685.9 158.7,682.9 157.8,683.4 156.9,683.0 156.0,683.1 155.1,683.4 154.2,685.6 153.3,684.5 152.4,685.4 151.5,684.8 150.6,685.9 149.7,684.9 148.8,682.9 147.9,685.3 147.0,683.6 146.0,684.6 145.1,684.7 144.2,683.0 143.3,682.9 142.4,684.3 141.5,683.8 140.6,685.6 139.7,685.2 138.8,683.0 137.9,684.2 137.0,684.4 136.1,683.7 135.2,685.9 134.3,684.2 133.3,684.5 132.4,683.4 131.5,685.6 130.6,683.0 129.7,685.8 128.8,685.5 127.9,684.2 127.0,683.9 126.1,685.3 125.2,685.7 124.3,683.3 123.4,685.3 122.5,684.2 121.6,684.1 120.7,684.8 119.7,684.2 118.8,684.4 117.9,683.1 117.0,685.4 116.1,683.8 115.2,685.3 114.3,684.8 113.4,684.0 112.5,685.1 111.6,685.1 110.7,683.7 109.8,685.9 108.9,684.6 108.0,682.9 107.0,682.9 106.1,685.9 105.2,685.4 104.3,685.3 103.4,683.1 102.5,683.3 101.6,683.3 100.7,684.9 99.8,685.6 98.9,683.4 98.0,683.8 97.1,684.1 96.2,682.9 95.3,684.0 94.3,686.1 93.4,683.5 92.5,685.1 91.6,684.0 90.7,683.1 89.8,685.7 88.9,685.7 88.0,684.5 87.0,683.3 88.6,682.7 87.9,681.6 89.1,681.0 89.0,680.0 90.1,679.5 89.0,677.9 90.7,677.6 90.0,676.2 91.1,675.7 92.7,675.4 92.0,674.0 93.4,673.7 91.9,671.7 93.3,671.4 93.4,670.3 93.1,669.0 95.0,669.0 96.2,668.3 96.2,667.2 95.5,665.7 97.3,665.3 97.0,664.0 97.0,663.1 96.5,662.2 95.0,661.6 95.1,660.6 97.5,659.3 97.4,658.4 96.1,657.7 96.9,656.6 95.9,655.9 95.5,655.0 94.3,654.1 94.2,653.2 94.8,652.3 96.6,651.3 96.2,650.4 96.4,649.5 96.5,648.6 94.2,647.8 94.3,646.9 93.8,646.0 95.0,645.0 96.0,644.1 96.4,643.2 94.9,642.2 95.7,641.3 94.3,640.3 96.8,639.5 96.7,638.6 97.1,637.7 96.6,636.7 96.9,635.8 94.3,634.7 96.6,633.9 95.4,632.9 96.0,632.0 97.5,631.3 97.2,630.3 97.6,629.4 97.5,628.4 95.9,627.2 97.7,626.5 95.7,625.3 98.2,624.7 98.3,623.8 96.5,622.5 98.5,621.9 97.5,620.8 97.1,619.8 98.8,619.1 98.0,618.0 97.3,616.9 96.8,615.9 97.5,615.1 98.1,614.2 99.9,613.6 100.4,612.7 98.4,611.4 99.7,610.7 99.1,609.6 101.1,609.0 99.8,607.9 101.2,607.2 100.0,606.0 99.0,604.8 101.8,604.5 99.5,603.1 102.2,602.7 100.2,601.3 99.9,600.3 101.1,599.6 102.2,598.9 101.1,597.7 102.2,597.0 102.0,596.0 102.2,595.1 102.0,594.2 102.7,593.4 101.9,592.3 103.5,591.7 101.4,590.4 104.5,590.0 103.5,588.9 103.5,588.0 104.4,587.1 104.7,586.2 104.6,585.1 103.9,583.9" fill="#2222c8" />
<ellipse cx="122.9" cy="618.6" rx="0.73" ry="0.97" fill="#ffd0ff" />
<ellipse cx="118.9" cy="617.6" rx="0.72" ry="0.73" fill="#ffffff" />
<ellipse cx="122.1" cy="619.1" rx="1.22" ry="1.37" fill="#ffffff" />
<ellipse cx="128.2" cy="615.4" rx="0.99" ry="1.20" fill="#ffffff" />
<ellipse cx="130.3" cy="615.7" rx="0.98" ry="1.87" fill="#ff50ff" />
<ellipse cx="127.2" cy="616.9" rx="0.95" ry="1.52" fill="#ff50ff" />
<ellipse cx="138.2" cy="612.6" rx="1.27" ry="2.03" fill="#ffffff" />
<ellipse cx="133.1" cy="613.2" rx="0.62" ry="0.76" fill="#ff50ff" />
<ellipse cx="137.7" cy="609.3" rx="0.88" ry="1.47" fill="#ffffff" />
<ellipse cx="142.9" cy="606.3" rx="0.92" ry="1.40" fill="#ffd0ff" />
<ellipse cx="143.3" cy="609.8" rx="0.81" ry="1.37" fill="#ff50ff" />
<ellipse cx="139.0" cy="609.8" rx="1.40" ry="2.68" fill="#ff50ff" />
<ellipse cx="147.1" cy="609.4" rx="0.94" ry="1.07" fill="#ffd0ff" />
<ellipse cx="146.9" cy="608.7" rx="1.18" ry="1.33" fill="#ff50ff" />
<ellipse cx="147.1" cy="610.4" rx="1.06" ry="2.11" fill="#ffd0ff" />
<ellipse cx="148.4" cy="622.3" rx="1.19" ry="1.98" fill="#ff50ff" />
<ellipse cx="151.2" cy="624.5" rx="0.77" ry="1.00" fill="#ffd0ff" />
<ellipse cx="148.1" cy="624.6" rx="0.72" ry="1.08" fill="#ff50ff" />
<ellipse cx="148.4" cy="637.9" rx="1.19" ry="2.17" fill="#ff50ff" />
<ellipse cx="147.0" cy="637.2" rx="0.69" ry="1.33" fill="#ff50ff" />
<ellipse cx="151.0" cy="632.4" rx="0.88" ry="1.58" fill="#ff50ff" />
<ellipse cx="148.3" cy="647.7" rx="1.20" ry="2.05" fill="#ff50ff" />
<ellipse cx="150.0" cy="650.8" rx="1.03" ry="1.15" fill="#ff50ff" />
<ellipse cx="150.4" cy="651.0" rx="0.69" ry="0.77" fill="#ff50ff" />
<ellipse cx="142.7" cy="653.2" rx="1.59" ry="2.38" fill="#ffffff" />
<ellipse cx="142.2" cy="656.3" rx="1.16" ry="2.13" fill="#ffd0ff" />
<ellipse cx="142.1" cy="657.4" rx="1.26" ry="2.02" fill="#ff50ff" />
<ellipse cx="133.7" cy="659.5" rx="1.22" ry="1.25" fill="#ff50ff" />
<ellipse cx="136.7" cy="661.0" rx="1.01" ry="1.30" fill="#ff50ff" />
<ellipse cx="134.7" cy="661.0" rx="1.39" ry="2.58" fill="#ffffff" />
<ellipse cx="124.9" cy="662.1" rx="1.27" ry="2.10" fill="#ff50ff" />
<ellipse cx="124.7" cy="662.1" rx="1.25" ry="1.52" fill="#ffffff" />
<ellipse cx="126.6" cy="666.7" rx="0.62" ry="0.97" fill="#ff50ff" />
<ellipse cx="121.3" cy="639.8" rx="1.20" ry="2.37" fill="#ffffff" />
<ellipse cx="122.0" cy="637.6" rx="1.01" ry="1.11" fill="#ff50ff" />
<ellipse cx="126.7" cy="637.5" rx="1.27" ry="2.51" fill="#ffffff" />
<ellipse cx="130.7" cy="630.5" rx="0.91" ry="1.27" fill="#ff50ff" />
<ellipse cx="130.1" cy="626.2" rx="0.63" ry="0.68" fill="#ffd0ff" />
<ellipse cx="127.5" cy="628.7" rx="0.62" ry="0.71" fill="#ff50ff" />
<ellipse cx="136.3" cy="621.5" rx="1.50" ry="2.08" fill="#ffffff" />
<ellipse cx="136.1" cy="617.4" rx="0.61" ry="0.95" fill="#ff50ff" />
<ellipse cx="139.8" cy="620.7" rx="1.14" ry="1.52" fill="#ffffff" />
<ellipse cx="144.2" cy="630.1" rx="1.09" ry="1.31" fill="#ff50ff" />
<ellipse cx="144.8" cy="630.7" rx="1.08" ry="2.11" fill="#ffd0ff" />
<ellipse cx="145.5" cy="629.0" rx="1.51" ry="2.18" fill="#ff50ff" />
<ellipse cx="137.3" cy="645.9" rx="1.35" ry="2.69" fill="#ffd0ff" />
<ellipse cx="142.6" cy="647.3" rx="1.45" ry="2.53" fill="#ff50ff" />
<ellipse cx="140.5" cy="642.3" rx="0.97" ry="1.82" fill="#ff50ff" />
<ellipse cx="133.5" cy="649.2" rx="1.00" ry="1.61" fill="#ffffff" />
<ellipse cx="130.9" cy="653.0" rx="0.65" ry="0.81" fill="#ffffff" />
<ellipse cx="132.6" cy="651.1" rx="1.56" ry="3.13" fill="#ffffff" />
<ellipse cx="135.9" cy="649.9" rx="1.01" ry="1.49" fill="#ff50ff" />
<ellipse cx="140.3" cy="637.1" rx="0.90" ry="1.03" fill="#ffffff" />
<ellipse cx="125.7" cy="634.4" rx="1.46" ry="1.86" fill="#ffd0ff" />
<ellipse cx="139.5" cy="637.3" rx="1.03" ry="2.20" fill="#ffd0ff" />
<ellipse cx="131.5" cy="651.7" rx="0.96" ry="2.00" fill="#ff50ff" />
<ellipse cx="133.3" cy="621.6" rx="1.11" ry="1.70" fill="#ff90ff" />
<ellipse cx="125.8" cy="626.7" rx="0.80" ry="1.65" fill="#ff50ff" />
<ellipse cx="144.0" cy="623.1" rx="0.81" ry="1.02" fill="#ff50ff" />
<ellipse cx="140.7" cy="642.1" rx="0.95" ry="1.48" fill="#ff90ff" />
<ellipse cx="140.7" cy="622.4" rx="0.65" ry="1.29" fill="#ff50ff" />
<ellipse cx="127.9" cy="649.7" rx="1.15" ry="2.34" fill="#ffd0ff" />
<ellipse cx="130.5" cy="638.3" rx="0.73" ry="0.83" fill="#ff50ff" />
<ellipse cx="131.4" cy="650.2" rx="0.83" ry="1.07" fill="#ff50ff" />
<ellipse cx="146.4" cy="622.2" rx="1.39" ry="2.30" fill="#ff90ff" />
<ellipse cx="131.5" cy="660.9" rx="0.73" ry="0.78" fill="#ffffff" />
<ellipse cx="136.1" cy="616.7" rx="0.63" ry="1.09" fill="#ff50ff" />
<ellipse cx="135.3" cy="611.4" rx="1.10" ry="2.21" fill="#ff50ff" />
<ellipse cx="136.3" cy="638.6" rx="1.47" ry="2.31" fill="#ff50ff" />
<ellipse cx="123.8" cy="625.2" rx="1.48" ry="3.00" fill="#ffd0ff" />
<ellipse cx="124.5" cy="649.9" rx="1.13" ry="1.47" fill="#ff50ff" />
<ellipse cx="130.1" cy="629.8" rx="1.22" ry="2.20" fill="#ffffff" />
<ellipse cx="125.2" cy="618.4" rx="1.18" ry="1.46" fill="#ff50ff" />
<ellipse cx="124.0" cy="638.4" rx="1.49" ry="2.74" fill="#ffffff" />
<ellipse cx="138.5" cy="625.5" rx="0.98" ry="1.13" fill="#ffffff" />
<ellipse cx="145.8" cy="621.8" rx="0.61" ry="1.01" fill="#ffd0ff" />
<ellipse cx="149.7" cy="642.8" rx="1.06" ry="2.28" fill="#ff50ff" />
<ellipse cx="141.7" cy="626.3" rx="0.76" ry="0.94" fill="#ffd0ff" />
<ellipse cx="135.7" cy="612.0" rx="0.85" ry="1.71" fill="#ffffff" />
<ellipse cx="134.7" cy="614.5" rx="0.92" ry="1.28" fill="#ff50ff" />
<ellipse cx="133.1" cy="620.5" rx="1.24" ry="2.03" fill="#ff50ff" />
<ellipse cx="131.4" cy="657.7" rx="1.46" ry="1.61" fill="#ff50ff" />
<ellipse cx="145.4" cy="619.1" rx="0.75" ry="1.11" fill="#ff90ff" />
<ellipse cx="133.6" cy="644.1" rx="1.43" ry="2.75" fill="#ffd0ff" />
<ellipse cx="132.4" cy="662.7" rx="1.15" ry="2.48" fill="#ff50ff" />
<ellipse cx="123.1" cy="627.9" rx="0.67" ry="1.27" fill="#ff90ff" />
<ellipse cx="145.3" cy="649.7" rx="1.09" ry="1.65" fill="#ffd0ff" />
<ellipse cx="141.5" cy="629.5" rx="0.66" ry="1.24" fill="#ffd0ff" />
<ellipse cx="126.4" cy="660.8" rx="1.15" ry="1.49" fill="#ff50ff" />
<ellipse cx="133.7" cy="652.4" rx="0.71" ry="1.36" fill="#ff50ff" />
<ellipse cx="129.2" cy="648.4" rx="1.36" ry="2.17" fill="#ffffff" />
<ellipse cx="128.9" cy="616.6" rx="1.13" ry="2.18" fill="#ffd0ff" />
<ellipse cx="140.3" cy="608.7" rx="1.29" ry="1.63" fill="#ff50ff" />
<ellipse cx="140.8" cy="613.6" rx="1.11" ry="1.86" fill="#ff50ff" />
<ellipse cx="143.9" cy="655.6" rx="0.81" ry="1.14" fill="#ffffff" />
<ellipse cx="135.1" cy="614.7" rx="1.12" ry="2.35" fill="#ffd0ff" />
<ellipse cx="142.7" cy="649.8" rx="1.12" ry="1.60" fill="#ffffff" />
<ellipse cx="143.9" cy="654.5" rx="1.11" ry="1.95" fill="#ff50ff" />
<ellipse cx="129.0" cy="624.3" rx="1.12" ry="2.25" fill="#ff90ff" />
<ellipse cx="125.6" cy="646.8" rx="0.98" ry="1.15" fill="#ffd0ff" />
<ellipse cx="150.9" cy="637.1" rx="1.26" ry="1.60" fill="#ff50ff" />
<ellipse cx="127.3" cy="639.4" rx="1.00" ry="1.63" fill="#ff90ff" />
<ellipse cx="136.9" cy="635.2" rx="1.02" ry="1.73" fill="#ff50ff" />
<ellipse cx="139.1" cy="623.4" rx="1.43" ry="2.40" fill="#ff50ff" />
<ellipse cx="129.5" cy="624.8" rx="1.37" ry="2.58" fill="#ff50ff" />
<ellipse cx="150.6" cy="620.9" rx="1.30" ry="2.38" fill="#ff50ff" />
<ellipse cx="122.5" cy="662.3" rx="1.37" ry="1.61" fill="#ff50ff" />
<ellipse cx="125.4" cy="643.0" rx="0.82" ry="1.46" fill="#ff50ff" />
<ellipse cx="128.0" cy="658.7" rx="0.60" ry="1.29" fill="#ffffff" />
<ellipse cx="129.2" cy="638.9" rx="1.28" ry="2.21" fill="#ffffff" />
<ellipse cx="126.2" cy="639.4" rx="1.10" ry="1.28" fill="#ffffff" />
<ellipse cx="132.1" cy="657.3" rx="1.29" ry="1.41" fill="#ff90ff" />
<ellipse cx="126.9" cy="617.0" rx="0.80" ry="1.05" fill="#ff50ff" />
<ellipse cx="141.7" cy="615.9" rx="0.66" ry="1.10" fill="#ff50ff" />
<ellipse cx="146.4" cy="622.4" rx="1.43" ry="2.55" fill="#ffd0ff" />
<ellipse cx="131.7" cy="662.5" rx="1.35" ry="2.62" fill="#ff50ff" />
<ellipse cx="135.6" cy="635.4" rx="1.23" ry="2.10" fill="#ff90ff" />
<ellipse cx="123.0" cy="654.2" rx="0.62" ry="0.73" fill="#ffffff" />
<ellipse cx="148.0" cy="640.4" rx="1.23" ry="2.62" fill="#ff50ff" />
<ellipse cx="138.7" cy="648.7" rx="1.11" ry="2.14" fill="#ffffff" />
<ellipse cx="124.9" cy="637.1" rx="0.90" ry="1.71" fill="#ffd0ff" />
<ellipse cx="124.2" cy="645.5" rx="1.39" ry="1.59" fill="#34d4e0" />
<ellipse cx="124.2" cy="634.6" rx="0.75" ry="1.14" fill="#20a8b8" />
<ellipse cx="124.7" cy="632.8" rx="0.87" ry="1.69" fill="#20a8b8" />
<ellipse cx="125.7" cy="642.5" rx="1.17" ry="1.44" fill="#34d4e0" />
<ellipse cx="119.0" cy="651.0" rx="1.31" ry="1.62" fill="#20a8b8" />
<ellipse cx="125.6" cy="629.5" rx="1.36" ry="2.18" fill="#20a8b8" />
<ellipse cx="124.1" cy="623.4" rx="1.38" ry="1.72" fill="#2a6ad0" />
<ellipse cx="120.6" cy="627.6" rx="0.76" ry="0.87" fill="#34d4e0" />
<ellipse cx="121.2" cy="652.6" rx="1.22" ry="2.07" fill="#2a6ad0" />
<ellipse cx="120.9" cy="625.2" rx="0.79" ry="1.32" fill="#2a6ad0" />
<ellipse cx="122.6" cy="629.8" rx="0.97" ry="1.81" fill="#34d4e0" />
<ellipse cx="118.2" cy="638.0" rx="1.15" ry="1.55" fill="#34d4e0" />
<polygon points="105.0,592.0 105.0,590.5 106.8,590.8 106.7,589.2 108.0,589.0 108.6,589.8 108.7,590.9 108.9,591.8 110.1,592.3 110.5,593.2 111.0,594.0 112.2,594.6 111.6,595.7 111.9,596.6 111.1,597.7 112.0,598.5 111.8,599.5 112.7,600.2 113.5,600.9 113.0,602.0 112.5,603.1 112.9,604.0 114.1,604.6 114.9,605.4 114.3,606.6 114.6,607.5 114.3,608.5 115.0,609.3 115.4,610.2 115.6,611.1 116.0,612.0 116.5,612.9 117.4,613.6 117.6,614.6 115.9,615.9 116.3,616.8 117.7,617.5 116.7,618.7 117.7,619.4 118.8,620.2 117.4,621.5 118.2,622.3 117.6,623.4 118.4,624.2 119.0,625.0 120.0,625.8 119.0,626.9 118.7,627.9 118.6,628.9 120.0,629.6 119.7,630.6 119.4,631.6 120.7,632.4 119.4,633.5 119.6,634.5 121.4,635.2 120.3,636.3 120.9,637.1 121.4,638.0 120.6,639.1 121.0,640.0 119.9,640.8 120.7,641.8 121.6,642.8 120.7,643.7 120.0,644.6 119.5,645.5 120.0,646.4 121.4,647.5 119.3,648.2 120.0,649.2 121.1,650.2 120.9,651.1 120.0,652.0 120.5,653.2 118.9,653.7 119.6,655.0 117.9,655.4 119.0,656.9 117.7,657.4 117.6,658.4 118.0,659.7 117.7,660.6 115.5,660.8 116.0,662.0 114.6,662.1 115.5,663.9 113.9,663.8 112.9,664.2 112.4,665.0 111.9,665.8 112.0,667.0 112.7,667.7 112.4,668.9 113.3,669.6 112.9,670.9 113.7,671.5 113.9,672.5 115.0,673.0 114.6,674.2 115.9,674.7 115.6,675.8 117.2,676.2 117.3,677.1 116.1,678.6 117.5,679.1 117.3,680.1 117.8,680.9 118.8,681.6 118.5,682.7 119.0,683.5 118.1,682.6 117.2,683.9 116.3,683.8 115.3,684.2 114.4,684.2 113.5,682.8 112.6,683.0 111.7,682.5 110.8,683.1 109.9,682.5 109.0,684.1 108.0,684.2 107.1,684.1 106.2,683.8 105.3,682.4 104.4,684.1 103.5,683.6 102.6,684.5 101.7,684.5 100.7,683.4 99.8,683.3 98.9,683.5 98.0,683.5 99.2,682.9 99.5,681.9 100.0,681.1 99.7,679.8 99.4,678.6 99.5,677.6 101.2,677.2 101.0,676.0 100.7,674.8 100.8,673.8 102.5,673.5 101.7,672.2 103.1,671.7 102.6,670.5 103.5,669.8 104.0,669.0 102.6,668.7 102.8,667.4 102.2,666.6 101.5,665.8 100.8,665.0 101.1,663.7 100.9,662.7 100.0,662.0 99.2,661.2 98.7,660.4 99.0,659.4 99.7,658.3 98.6,657.6 99.2,656.5 97.8,655.8 99.0,654.6 97.6,654.0 97.6,653.0 98.0,652.0 98.4,651.0 97.8,650.1 98.1,649.2 97.3,648.3 98.0,647.3 97.2,646.4 97.5,645.5 97.3,644.5 98.3,643.5 97.9,642.6 97.4,641.7 98.0,640.7 97.4,639.8 97.6,638.9 97.0,638.0 97.1,637.1 97.3,636.1 96.5,635.1 98.2,634.3 97.6,633.3 98.1,632.4 97.6,631.4 96.4,630.4 96.7,629.5 98.4,628.6 98.1,627.7 98.6,626.8 98.6,625.8 97.2,624.8 98.9,623.9 98.2,623.0 98.0,622.0 98.6,621.1 98.3,620.1 97.9,619.1 98.5,618.3 98.6,617.3 98.4,616.3 98.6,615.4 98.9,614.5 98.7,613.5 98.5,612.6 100.1,611.8 99.3,610.8 99.4,609.8 100.5,609.0 100.0,608.0 100.7,607.2 100.3,606.2 100.3,605.2 101.5,604.5 100.6,603.3 101.3,602.5 101.3,601.6 102.9,601.0 101.5,599.7 102.5,599.0 102.5,598.0 102.9,597.2 102.3,595.9 102.9,595.2 104.7,594.9 104.9,594.0 104.1,592.6" fill="#34d4e0" />
<ellipse cx="108.6" cy="593.0" rx="0.80" ry="5.00" fill="#f4f8ff" />
<ellipse cx="108.6" cy="669.0" rx="1.60" ry="1.40" fill="#ffffff" />
<polygon points="106.0,598.0 106.8,597.3 107.8,597.1 109.0,597.1 109.5,596.0 110.4,596.7 110.6,597.6 111.2,598.4 111.3,599.3 111.8,600.2 111.8,601.1 111.4,602.2 110.8,603.4 112.0,604.0 111.8,605.0 112.7,605.8 112.8,606.7 112.5,607.8 113.4,608.5 114.1,609.3 112.8,610.6 113.4,611.4 114.6,612.1 114.9,613.0 115.1,613.9 114.5,615.0 113.7,616.1 115.5,616.8 114.6,617.8 114.1,618.9 116.0,619.6 115.5,620.6 115.4,621.6 114.7,622.6 116.2,623.4 116.2,624.3 116.4,625.2 116.9,626.1 115.8,627.2 115.6,628.2 116.5,629.0 116.5,630.0 117.5,630.9 116.1,631.9 116.1,632.8 116.3,633.8 117.0,634.7 116.0,635.6 116.5,636.6 116.6,637.5 116.7,638.4 117.3,639.4 116.9,640.3 116.3,641.3 116.5,642.2 117.2,643.1 116.3,644.1 117.0,645.0 116.2,645.8 117.6,647.0 117.2,647.9 116.9,648.8 117.1,649.8 115.5,650.4 115.5,651.4 115.6,652.3 114.5,653.1 115.6,654.2 115.8,655.2 115.0,656.0 115.1,657.2 114.3,657.7 112.9,657.9 112.8,658.9 113.2,660.2 112.1,660.6 112.3,661.8 111.0,662.0 110.2,661.6 109.0,662.3 108.2,662.0 107.5,660.9 106.5,661.0 106.5,659.8 105.6,659.4 104.5,659.0 104.5,657.8 103.3,657.5 102.3,657.1 102.2,656.0 102.0,655.0 102.2,654.0 101.9,653.1 100.9,652.3 102.0,651.2 101.8,650.2 100.5,649.5 101.7,648.3 100.1,647.7 99.5,646.8 100.2,645.7 100.8,644.6 100.1,643.8 99.8,642.9 99.5,642.0 99.5,641.1 99.1,640.1 99.1,639.2 99.3,638.2 99.6,637.3 100.4,636.3 98.6,635.4 99.0,634.4 100.4,633.5 99.8,632.6 98.6,631.6 99.4,630.7 99.8,629.7 100.3,628.8 98.7,627.8 100.3,626.9 100.0,625.9 99.5,625.0 99.2,624.0 99.8,623.1 100.4,622.3 99.4,621.2 100.4,620.4 100.2,619.4 99.4,618.4 99.8,617.5 100.2,616.6 99.8,615.6 101.5,614.8 100.2,613.7 100.3,612.8 101.1,612.0 101.0,611.0 101.3,610.1 101.2,609.1 101.4,608.2 102.0,607.4 103.0,606.7 101.7,605.4 103.5,604.9 103.8,604.0 103.6,603.0 103.5,602.0 104.5,601.5 104.3,600.3 105.8,600.1 105.9,599.1" fill="#22c030" />
<polygon points="102.0,684.0 102.3,682.9 103.0,682.0 103.1,680.8 103.9,679.9 104.1,678.8 105.0,678.0 105.2,676.9 106.0,676.3 106.5,675.4 107.2,674.7 108.0,674.0 108.6,674.9 109.8,675.2 110.2,676.3 111.0,677.0 111.8,677.9 111.6,679.1 112.1,680.1 113.0,680.9 112.8,682.1 113.4,683.1 114.0,684.0 113.0,684.4 112.0,684.1 111.0,683.8 110.0,683.6 109.0,684.3 108.0,684.2 107.0,683.7 106.0,683.5 105.0,684.4 104.0,684.4 103.0,683.7" fill="#22c030" />
<polygon points="105.5,604.0 106.6,604.2 107.2,603.1 108.2,603.0 109.0,602.5 108.9,603.7 110.3,604.2 110.3,605.3 110.6,606.3 110.5,607.4 112.3,607.8 112.0,609.0 112.8,609.8 112.6,610.8 112.0,611.8 112.1,612.8 113.4,613.5 112.3,614.6 113.1,615.4 112.6,616.5 112.8,617.4 114.3,618.1 113.1,619.2 114.0,620.0 114.1,620.9 114.7,621.8 114.2,622.8 114.9,623.7 113.9,624.7 114.3,625.6 115.1,626.5 114.9,627.5 114.6,628.4 114.2,629.4 115.0,630.3 115.4,631.2 115.0,632.2 115.6,633.1 115.2,634.0 115.0,635.0 114.3,635.9 115.4,636.9 115.1,637.8 114.3,638.7 115.1,639.7 115.2,640.6 114.9,641.5 114.3,642.4 114.0,643.3 114.0,644.3 114.9,645.3 114.5,646.2 114.7,647.1 114.0,648.0 113.5,648.8 113.4,649.8 112.5,650.5 112.4,651.5 112.0,652.3 112.2,653.5 111.3,654.1 111.0,655.0 109.9,655.5 108.9,655.2 108.1,653.8 106.9,654.7 106.0,654.0 104.9,653.4 105.6,652.1 104.5,651.5 104.3,650.5 104.4,649.5 104.6,648.3 102.8,648.0 103.4,646.7 102.2,646.2 102.5,645.0 102.9,644.0 102.2,643.1 101.7,642.2 102.1,641.3 102.4,640.3 101.5,639.4 101.9,638.5 102.4,637.5 102.4,636.5 102.2,635.6 101.8,634.7 102.1,633.7 101.1,632.8 101.4,631.9 101.3,631.0 101.5,630.0 100.9,629.0 100.8,628.1 100.9,627.2 102.4,626.3 101.5,625.3 101.4,624.4 102.0,623.5 102.1,622.5 102.4,621.6 102.5,620.7 101.2,619.7 101.5,618.8 101.8,617.9 101.7,616.9 102.0,616.0 102.3,615.1 101.9,614.1 103.1,613.5 102.4,612.4 103.5,611.7 103.7,610.8 103.4,609.8 103.0,608.8 103.5,608.0 103.4,606.7 105.2,606.4 105.6,605.3" fill="#e8e000" />
<polygon points="105.0,612.0 106.0,611.6 107.0,611.4 108.0,611.2 109.0,611.0 109.5,611.8 109.6,612.8 110.1,613.6 110.8,614.3 110.7,615.3 111.4,616.1 111.6,617.0 111.5,618.0 111.9,618.9 111.2,619.9 111.9,620.8 111.9,621.7 111.6,622.7 111.7,623.6 112.2,624.5 112.7,625.3 112.5,626.3 112.8,627.2 112.2,628.2 113.4,629.0 113.0,630.0 113.1,630.9 112.7,631.8 112.8,632.8 112.8,633.7 112.5,634.6 113.1,635.6 112.3,636.4 112.2,637.4 113.2,638.3 112.8,639.2 112.7,640.2 112.7,641.1 112.5,642.0 112.1,642.8 112.1,643.8 111.3,644.5 110.6,645.3 110.2,646.1 110.0,647.0 110.0,648.0 108.9,648.1 108.1,647.2 107.1,646.9 106.0,647.0 105.9,646.1 105.7,645.1 105.0,644.4 105.3,643.3 104.4,642.6 104.6,641.6 104.0,640.8 104.0,639.8 103.2,639.0 103.5,638.0 103.2,637.1 103.8,636.1 103.1,635.2 103.6,634.3 103.7,633.3 103.4,632.4 103.4,631.5 102.9,630.6 103.2,629.6 103.7,628.7 103.7,627.8 103.1,626.9 103.0,625.9 103.0,625.0 103.7,624.2 103.2,623.2 103.6,622.3 102.8,621.4 103.1,620.5 103.9,619.6 103.6,618.7 104.0,617.8 103.6,616.9 103.8,616.0 104.6,615.1 103.9,613.8 104.4,612.9" fill="#e08a20" />
<polygon points="105.5,616.0 106.5,615.7 107.4,615.0 108.5,615.0 108.6,616.1 109.3,616.9 109.0,618.1 110.0,618.9 109.8,620.1 110.7,620.9 110.2,622.1 111.0,623.0 110.7,624.0 111.5,625.0 111.1,626.0 111.6,627.0 111.4,628.0 111.1,629.0 111.9,630.0 111.9,631.0 112.1,632.0 112.2,633.0 111.8,634.0 111.6,635.0 111.8,636.1 111.7,637.1 110.9,638.0 111.2,639.0 111.0,640.0 110.8,641.0 110.1,641.9 110.3,643.0 109.3,643.6 108.1,643.5 107.0,644.0 107.1,642.9 106.4,642.0 105.9,641.1 105.4,640.1 105.6,639.0 104.8,638.1 104.7,637.0 104.5,636.0 104.8,635.0 104.7,634.0 104.2,633.0 104.3,632.0 104.2,631.0 104.2,630.0 104.4,629.0 104.0,628.0 104.0,627.0 104.0,626.0 104.3,625.0 104.3,624.0 104.6,623.0 104.5,622.0 104.8,621.0 105.2,620.0 105.4,619.0 105.2,618.0 105.7,617.1" fill="#b86018" />
<polygon points="106.5,622.0 107.5,621.2 108.8,621.0 109.0,622.0 109.4,623.0 109.1,624.0 109.4,625.0 109.9,625.9 110.1,626.9 109.7,628.0 110.3,629.0 110.2,630.0 110.0,631.0 110.1,632.0 110.1,633.0 109.8,634.0 110.0,635.0 110.0,636.0 110.1,637.0 110.2,638.0 110.0,639.0 109.2,640.2 108.0,641.0 107.7,640.0 107.3,639.0 107.4,637.9 106.7,637.1 106.5,636.0 106.6,634.9 106.0,634.0 106.1,633.0 106.1,632.0 106.1,631.0 106.2,630.0 105.6,629.0 106.0,628.0 105.8,627.0 105.6,626.0 105.9,625.0 106.3,624.0 106.2,623.0" fill="#a03818" />
<ellipse cx="104.5" cy="568.8" rx="1.00" ry="1.00" fill="#2222c8" />
<ellipse cx="108.0" cy="571.5" rx="1.00" ry="1.00" fill="#22c030" />
<ellipse cx="108.0" cy="577.0" rx="1.00" ry="1.00" fill="#22c030" />
<ellipse cx="108.2" cy="583.5" rx="1.00" ry="1.00" fill="#22c030" />
<ellipse cx="106.3" cy="579.0" rx="1.30" ry="1.30" fill="#2222c8" />
<ellipse cx="111.0" cy="585.5" rx="1.00" ry="1.00" fill="#2222c8" />
<ellipse cx="113.0" cy="591.0" rx="0.80" ry="0.80" fill="#2222c8" />
<ellipse cx="106.3" cy="579.0" rx="0.60" ry="0.90" fill="#34d4e0" />
<polygon points="50.0,683.2 167.5,683.2 167.5,684.1 50.0,684.1" fill="#a8ecd0" />
<polygon points="50.0,684.1 167.5,684.1 167.5,685.5 50.0,685.5" fill="#30a830" />
<polygon points="50.0,685.5 167.5,685.5 167.5,686.3 50.0,686.3" fill="#b8a040" />
<polygon points="50.0,686.3 167.5,686.3 167.5,687.5 50.0,687.5" fill="#e09080" />
</g>
</g>
<g clip-path="url(#cl41)">
<g filter="url(#soft)">
<polygon points="241.3,685.0 241.3,683.7 242.3,678.7 243.3,674.1 244.3,674.1 245.3,671.5 246.3,670.8 247.3,671.3 248.3,669.5 249.3,671.2 250.3,668.8 251.3,667.4 252.3,665.2 253.3,666.9 254.3,664.3 255.3,664.5 256.3,664.7 257.3,663.6 258.3,665.0 259.3,662.6 260.3,662.1 261.3,661.0 262.3,660.5 263.3,660.7 264.3,662.1 265.3,660.3 266.3,661.4 267.3,660.0 268.3,662.1 269.3,659.2 270.3,661.7 271.3,662.4 272.3,662.5 273.3,660.9 274.3,662.2 275.3,660.0 276.3,662.6 277.3,662.4 278.3,661.3 279.3,662.0 280.3,660.5 281.3,661.5 282.3,659.3 283.3,658.3 284.3,658.9 285.3,661.3 286.3,661.4 287.3,659.8 288.3,661.1 289.3,661.9 290.3,660.1 291.0,660.7 291.0,685.0" fill="#2222c8" />
<polygon points="241.2,685.0 241.8,680.3 242.2,680.3 242.8,685.0" fill="#1a1aa8" opacity="1.0"/>
<polygon points="242.8,685.0 243.8,674.3 244.2,674.3 245.3,685.0" fill="#1a1aa8" opacity="1.0"/>
<polygon points="245.1,685.0 246.0,670.7 246.4,670.7 247.3,685.0" fill="#1a1aa8" opacity="1.0"/>
<polygon points="247.2,685.0 247.8,670.1 248.2,670.1 248.9,685.0" fill="#2222c8" opacity="1.0"/>
<polygon points="249.0,685.0 249.8,670.4 250.2,670.4 251.1,685.0" fill="#2222c8" opacity="1.0"/>
<polygon points="251.1,685.0 251.7,668.2 252.1,668.2 252.7,685.0" fill="#2222c8" opacity="1.0"/>
<polygon points="252.4,685.0 253.1,667.1 253.5,667.1 254.1,685.0" fill="#2222c8" opacity="1.0"/>
<polygon points="254.5,685.0 255.3,665.3 255.7,665.3 256.5,685.0" fill="#2222c8" opacity="1.0"/>
<polygon points="256.2,685.0 256.8,664.4 257.2,664.4 257.8,685.0" fill="#2222c8" opacity="1.0"/>
<polygon points="258.1,685.0 259.1,664.4 259.5,664.4 260.4,685.0" fill="#2222c8" opacity="1.0"/>
<polygon points="260.0,685.0 260.9,662.5 261.3,662.5 262.1,685.0" fill="#2222c8" opacity="1.0"/>
<polygon points="261.6,685.0 262.4,663.4 262.8,663.4 263.6,685.0" fill="#2222c8" opacity="1.0"/>
<polygon points="264.0,685.0 264.7,661.1 265.1,661.1 265.8,685.0" fill="#2222c8" opacity="1.0"/>
<polygon points="265.9,685.0 267.0,662.2 267.4,662.2 268.4,685.0" fill="#1a1aa8" opacity="1.0"/>
<polygon points="268.4,685.0 269.3,661.0 269.7,661.0 270.6,685.0" fill="#1a1aa8" opacity="1.0"/>
<polygon points="270.0,685.0 270.6,660.9 271.0,660.9 271.6,685.0" fill="#2222c8" opacity="1.0"/>
<polygon points="271.4,685.0 272.3,660.3 272.7,660.3 273.5,685.0" fill="#2222c8" opacity="1.0"/>
<polygon points="273.9,685.0 274.5,662.7 274.9,662.7 275.5,685.0" fill="#2222c8" opacity="1.0"/>
<polygon points="275.1,685.0 276.1,661.8 276.5,661.8 277.5,685.0" fill="#1a1aa8" opacity="1.0"/>
<polygon points="276.4,685.0 277.5,660.8 277.9,660.8 278.9,685.0" fill="#1a1aa8" opacity="1.0"/>
<polygon points="278.7,685.0 279.5,660.7 279.9,660.7 280.8,685.0" fill="#1a1aa8" opacity="1.0"/>
<polygon points="280.3,685.0 281.2,660.8 281.6,660.8 282.6,685.0" fill="#2222c8" opacity="1.0"/>
<polygon points="282.5,685.0 283.2,661.0 283.6,661.0 284.4,685.0" fill="#2222c8" opacity="1.0"/>
<polygon points="284.3,685.0 285.0,661.7 285.4,661.7 286.0,685.0" fill="#2222c8" opacity="1.0"/>
<polygon points="286.7,685.0 287.3,661.8 287.7,661.8 288.2,685.0" fill="#1a1aa8" opacity="1.0"/>
<polygon points="287.8,685.0 288.7,660.6 289.1,660.6 289.9,685.0" fill="#1a1aa8" opacity="1.0"/>
<polygon points="289.1,685.0 290.0,661.4 290.4,661.4 291.3,685.0" fill="#1a1aa8" opacity="1.0"/>
<polygon points="242.5,685.0 243.0,682.4 244.0,678.7 245.0,675.5 246.0,674.7 247.0,675.8 248.0,672.1 249.0,674.0 250.0,673.2 251.0,670.6 252.0,669.7 253.0,670.4 254.0,670.5 255.0,668.2 256.0,668.5 257.0,668.2 258.0,668.3 259.0,666.8 260.0,665.5 261.0,666.4 262.0,665.7 263.0,665.1 264.0,666.0 265.0,664.5 266.0,665.0 267.0,665.0 268.0,665.4 269.0,662.8 270.0,664.8 271.0,664.9 272.0,662.2 273.0,662.8 274.0,663.9 275.0,663.7 276.0,665.2 277.0,662.4 278.0,662.1 279.0,664.5 280.0,663.8 281.0,662.9 282.0,662.1 283.0,662.7 284.0,663.9 285.0,663.4 286.0,662.7 287.0,661.7 288.0,662.5 289.0,663.0 290.0,664.0 291.0,664.6 291.0,663.4 291.0,685.0" fill="#34d4e0" />
<polygon points="242.9,685.0 243.8,682.1 244.2,682.1 245.1,685.0" fill="#34d4e0" opacity="1.0"/>
<polygon points="245.4,685.0 246.1,677.2 246.5,677.2 247.2,685.0" fill="#40e0e8" opacity="1.0"/>
<polygon points="246.9,685.0 248.0,676.5 248.4,676.5 249.4,685.0" fill="#40e0e8" opacity="1.0"/>
<polygon points="249.2,685.0 250.0,674.9 250.4,674.9 251.2,685.0" fill="#34d4e0" opacity="1.0"/>
<polygon points="251.6,685.0 252.4,672.8 252.8,672.8 253.6,685.0" fill="#34d4e0" opacity="1.0"/>
<polygon points="253.4,685.0 254.0,670.8 254.4,670.8 255.1,685.0" fill="#40e0e8" opacity="1.0"/>
<polygon points="254.8,685.0 256.0,670.0 256.4,670.0 257.5,685.0" fill="#40e0e8" opacity="1.0"/>
<polygon points="256.4,685.0 257.6,668.9 258.0,668.9 259.1,685.0" fill="#40e0e8" opacity="1.0"/>
<polygon points="258.2,685.0 259.1,668.0 259.5,668.0 260.3,685.0" fill="#34d4e0" opacity="1.0"/>
<polygon points="260.0,685.0 260.9,669.0 261.3,669.0 262.3,685.0" fill="#40e0e8" opacity="1.0"/>
<polygon points="262.2,685.0 263.2,666.9 263.6,666.9 264.7,685.0" fill="#40e0e8" opacity="1.0"/>
<polygon points="264.1,685.0 264.9,669.1 265.3,669.1 266.1,685.0" fill="#28c0d0" opacity="1.0"/>
<polygon points="265.8,685.0 266.9,668.7 267.3,668.7 268.4,685.0" fill="#40e0e8" opacity="1.0"/>
<polygon points="267.9,685.0 268.6,667.6 269.0,667.6 269.7,685.0" fill="#28c0d0" opacity="1.0"/>
<polygon points="269.5,685.0 270.5,666.7 270.9,666.7 271.9,685.0" fill="#28c0d0" opacity="1.0"/>
<polygon points="272.3,685.0 273.0,667.5 273.4,667.5 274.1,685.0" fill="#34d4e0" opacity="1.0"/>
<polygon points="274.1,685.0 275.0,667.9 275.4,667.9 276.3,685.0" fill="#28c0d0" opacity="1.0"/>
<polygon points="276.3,685.0 277.3,666.1 277.7,666.1 278.8,685.0" fill="#40e0e8" opacity="1.0"/>
<polygon points="279.0,685.0 279.8,665.3 280.2,665.3 280.9,685.0" fill="#28c0d0" opacity="1.0"/>
<polygon points="281.2,685.0 281.9,665.4 282.3,665.4 283.0,685.0" fill="#40e0e8" opacity="1.0"/>
<polygon points="283.2,685.0 284.0,666.3 284.4,666.3 285.2,685.0" fill="#40e0e8" opacity="1.0"/>
<polygon points="284.3,685.0 285.5,667.1 285.9,667.1 287.1,685.0" fill="#34d4e0" opacity="1.0"/>
<polygon points="287.2,685.0 287.9,664.6 288.3,664.6 289.1,685.0" fill="#34d4e0" opacity="1.0"/>
<polygon points="288.8,685.0 289.8,666.4 290.2,666.4 291.2,685.0" fill="#40e0e8" opacity="1.0"/>
<polygon points="244.5,685.0 245.0,682.5 246.0,682.8 247.0,678.6 248.0,679.6 249.0,677.0 250.0,678.5 251.0,677.4 252.0,674.3 253.0,677.5 254.0,676.0 255.0,673.1 256.0,672.8 257.0,673.0 258.0,672.4 259.0,672.3 260.0,672.5 261.0,672.0 262.0,668.6 263.0,667.3 264.0,668.2 265.0,667.7 266.0,670.0 267.0,669.8 268.0,670.5 269.0,669.8 270.0,669.2 271.0,670.0 272.0,668.7 273.0,667.0 274.0,669.0 275.0,669.2 276.0,667.0 277.0,666.8 278.0,666.5 279.0,665.8 280.0,668.5 281.0,669.4 282.0,668.4 283.0,667.2 284.0,668.4 285.0,666.1 286.0,666.1 287.0,664.6 288.0,665.4 289.0,667.7 290.0,666.7 291.0,669.2 291.0,667.2 291.0,685.0" fill="#22c030" />
<polygon points="245.0,685.0 245.8,687.1 246.2,687.1 247.0,685.0" fill="#34d4e0" opacity="1.0"/>
<polygon points="247.1,685.0 248.1,684.9 248.5,684.9 249.5,685.0" fill="#18a828" opacity="1.0"/>
<polygon points="249.6,685.0 250.7,680.9 251.1,680.9 252.2,685.0" fill="#18a828" opacity="1.0"/>
<polygon points="251.5,685.0 252.4,678.1 252.8,678.1 253.7,685.0" fill="#34d4e0" opacity="1.0"/>
<polygon points="253.1,685.0 254.1,679.3 254.5,679.3 255.4,685.0" fill="#18a828" opacity="1.0"/>
<polygon points="255.1,685.0 255.7,677.7 256.1,677.7 256.6,685.0" fill="#34d4e0" opacity="1.0"/>
<polygon points="257.2,685.0 258.1,677.9 258.5,677.9 259.3,685.0" fill="#30d040" opacity="1.0"/>
<polygon points="258.7,685.0 259.8,676.3 260.2,676.3 261.2,685.0" fill="#22c030" opacity="1.0"/>
<polygon points="261.2,685.0 262.1,673.9 262.5,673.9 263.4,685.0" fill="#18a828" opacity="1.0"/>
<polygon points="263.8,685.0 264.5,675.5 264.9,675.5 265.6,685.0" fill="#18a828" opacity="1.0"/>
<polygon points="265.7,685.0 266.4,673.2 266.8,673.2 267.5,685.0" fill="#34d4e0" opacity="1.0"/>
<polygon points="268.1,685.0 269.1,670.3 269.5,670.3 270.4,685.0" fill="#30d040" opacity="1.0"/>
<polygon points="270.7,685.0 271.5,672.9 271.9,672.9 272.6,685.0" fill="#30d040" opacity="1.0"/>
<polygon points="272.6,685.0 273.2,669.7 273.6,669.7 274.1,685.0" fill="#18a828" opacity="1.0"/>
<polygon points="274.1,685.0 275.1,669.9 275.5,669.9 276.6,685.0" fill="#18a828" opacity="1.0"/>
<polygon points="277.1,685.0 277.8,673.2 278.2,673.2 278.9,685.0" fill="#18a828" opacity="1.0"/>
<polygon points="279.3,685.0 279.8,673.2 280.2,673.2 280.8,685.0" fill="#30d040" opacity="1.0"/>
<polygon points="281.0,685.0 282.1,670.2 282.5,670.2 283.6,685.0" fill="#34d4e0" opacity="1.0"/>
<polygon points="284.2,685.0 284.8,669.4 285.2,669.4 285.8,685.0" fill="#22c030" opacity="1.0"/>
<polygon points="285.9,685.0 286.7,672.2 287.1,672.2 287.9,685.0" fill="#22c030" opacity="1.0"/>
<polygon points="288.6,685.0 289.1,670.7 289.5,670.7 290.0,685.0" fill="#22c030" opacity="1.0"/>
<ellipse cx="267.2" cy="678.6" rx="1.26" ry="2.37" fill="#3ac840" />
<ellipse cx="265.9" cy="683.0" rx="1.19" ry="3.00" fill="#149020" />
<ellipse cx="262.3" cy="679.8" rx="1.25" ry="1.71" fill="#3ac840" />
<ellipse cx="285.9" cy="683.5" rx="0.70" ry="1.02" fill="#8a9020" />
<ellipse cx="264.0" cy="673.9" rx="1.06" ry="1.76" fill="#20b8a8" />
<ellipse cx="283.1" cy="677.9" rx="0.81" ry="1.37" fill="#3ac840" />
<ellipse cx="286.8" cy="679.4" rx="0.61" ry="1.16" fill="#20b8a8" />
<ellipse cx="262.8" cy="675.7" rx="0.98" ry="1.97" fill="#20b8a8" />
<ellipse cx="283.8" cy="683.3" rx="0.61" ry="0.85" fill="#3ac840" />
<ellipse cx="272.2" cy="680.5" rx="1.21" ry="2.16" fill="#3ac840" />
<ellipse cx="266.5" cy="675.9" rx="0.96" ry="2.03" fill="#20b8a8" />
<ellipse cx="276.8" cy="682.0" rx="1.12" ry="2.34" fill="#20b8a8" />
<ellipse cx="261.3" cy="679.8" rx="0.94" ry="1.53" fill="#8a9020" />
<ellipse cx="278.2" cy="683.7" rx="0.98" ry="1.36" fill="#3ac840" />
<ellipse cx="284.0" cy="672.6" rx="0.84" ry="1.89" fill="#20b8a8" />
<ellipse cx="279.2" cy="672.3" rx="0.76" ry="1.46" fill="#20b8a8" />
<ellipse cx="263.3" cy="679.6" rx="0.96" ry="1.41" fill="#149020" />
<ellipse cx="272.4" cy="674.6" rx="0.66" ry="1.60" fill="#20b8a8" />
<ellipse cx="278.5" cy="674.4" rx="0.67" ry="1.54" fill="#20b8a8" />
<ellipse cx="257.2" cy="675.9" rx="0.98" ry="1.26" fill="#20b8a8" />
<ellipse cx="287.0" cy="679.5" rx="1.10" ry="1.34" fill="#8a9020" />
<ellipse cx="281.4" cy="682.1" rx="0.92" ry="2.34" fill="#20b8a8" />
<ellipse cx="289.7" cy="675.7" rx="0.65" ry="1.13" fill="#3ac840" />
<ellipse cx="280.4" cy="675.9" rx="1.15" ry="2.49" fill="#149020" />
<ellipse cx="279.1" cy="683.0" rx="1.22" ry="2.06" fill="#8a9020" />
<ellipse cx="265.5" cy="682.0" rx="0.81" ry="1.37" fill="#8a9020" />
<ellipse cx="256.0" cy="680.0" rx="1.50" ry="2.00" fill="#a09020" opacity="0.7"/>
<ellipse cx="262.0" cy="682.0" rx="1.20" ry="1.50" fill="#a09020" opacity="0.7"/>
<ellipse cx="252.0" cy="682.0" rx="1.00" ry="1.20" fill="#a09020" opacity="0.7"/>
<ellipse cx="268.0" cy="654.5" rx="1.00" ry="1.00" fill="#2222c8" />
<ellipse cx="280.0" cy="657.0" rx="1.00" ry="1.00" fill="#2222c8" />
<ellipse cx="284.5" cy="658.0" rx="0.80" ry="1.20" fill="#2222c8" />
<ellipse cx="243.5" cy="673.0" rx="0.80" ry="1.00" fill="#2222c8" />
<ellipse cx="232.6" cy="682.8" rx="0.62" ry="1.05" fill="#2222c8" />
<ellipse cx="206.2" cy="682.9" rx="0.53" ry="0.89" fill="#2222c8" />
<ellipse cx="236.7" cy="682.9" rx="0.48" ry="0.86" fill="#2222c8" />
<ellipse cx="210.0" cy="683.7" rx="0.62" ry="1.07" fill="#2222c8" />
<ellipse cx="192.9" cy="682.8" rx="0.80" ry="1.40" fill="#2222c8" />
<ellipse cx="237.0" cy="683.7" rx="0.41" ry="0.48" fill="#ff50ff" />
<ellipse cx="176.0" cy="684.0" rx="0.47" ry="0.55" fill="#ff50ff" />
<ellipse cx="234.5" cy="682.6" rx="0.48" ry="0.67" fill="#2222c8" />
<ellipse cx="236.9" cy="683.0" rx="0.65" ry="0.94" fill="#ff50ff" />
<ellipse cx="210.5" cy="684.1" rx="0.79" ry="0.97" fill="#2222c8" />
<polygon points="172.0,684.3 289.5,684.3 289.5,685.2 172.0,685.2" fill="#70b040" />
<polygon points="172.0,685.2 289.5,685.2 289.5,686.2 172.0,686.2" fill="#c09020" />
<polygon points="172.0,686.2 289.5,686.2 289.5,687.5 172.0,687.5" fill="#b06030" />
</g>
</g>
<g clip-path="url(#cl42)">
<g filter="url(#soft)">
<polygon points="385.0,679.0 385.4,677.9 386.4,677.1 387.0,676.0 387.9,675.2 389.0,675.0 390.3,674.3 391.0,673.0 392.0,672.4 393.0,671.8 393.9,671.3 395.0,671.3 396.3,671.1 397.2,670.3 398.0,669.3 399.1,669.6 400.0,669.2 401.0,668.8 401.9,668.2 403.0,668.3 404.0,668.3 405.1,668.2 406.0,668.8 407.0,669.2 408.0,668.1 409.0,668.8 410.0,669.1 411.0,668.1 412.0,668.5 412.3,669.5 411.8,670.6 411.8,671.6 412.0,672.6 411.9,673.6 411.9,674.7 411.9,675.7 412.5,676.7 412.3,677.8 412.7,678.8 411.9,679.8 412.3,680.9 412.4,681.9 412.3,682.9 411.4,683.9 412.5,685.0 412.0,686.0 411.0,685.4 410.0,685.4 409.0,686.4 408.0,685.5 407.0,686.4 406.0,685.8 405.0,686.5 404.0,686.3 403.0,686.0 402.0,686.2 401.0,685.5 400.0,685.8 399.0,686.7 398.0,685.9 397.0,686.6 396.0,686.5 395.0,686.2 394.0,686.3 393.0,685.9 392.0,685.3 391.0,685.6 390.0,685.9 389.0,685.5 388.0,686.5 387.0,685.7 386.0,685.3 385.0,686.0 385.6,685.0 385.0,684.0 385.1,683.0 384.8,682.0 384.9,681.0 385.7,680.0" fill="#ff50ff" />
<ellipse cx="389.0" cy="670.5" rx="0.80" ry="2.00" fill="#ff50ff" />
<ellipse cx="403.0" cy="667.0" rx="0.80" ry="2.20" fill="#ff50ff" />
<polygon points="370.3,686.0 370.6,684.8 371.0,683.6 372.0,683.6 373.0,683.8 374.0,683.1 375.0,683.2 375.9,682.7 377.1,683.0 378.0,682.5 379.0,681.7 380.0,681.0 380.9,680.3 382.0,680.0 382.9,679.4 383.9,678.8 385.0,678.5 385.7,677.4 387.0,677.0 388.1,676.7 389.0,676.0 390.4,675.4 391.0,674.0 392.1,673.7 393.0,673.0 394.0,672.9 395.0,672.5 395.9,671.6 396.9,671.1 398.0,670.5 398.9,669.8 400.1,670.5 401.0,670.0 402.0,669.6 403.0,669.4 404.0,669.5 404.8,670.4 406.0,670.0 407.0,669.8 408.0,670.7 409.0,670.0 410.0,670.1 411.0,670.2 412.0,669.8 411.8,670.8 412.4,671.8 411.7,672.8 412.3,673.8 412.1,674.9 412.5,675.9 412.6,676.9 412.2,677.9 412.7,678.9 412.2,679.9 411.5,680.9 411.3,682.0 412.1,683.0 412.5,684.0 412.2,685.0 412.0,686.0 411.0,686.6 410.0,686.4 408.9,685.8 407.9,685.8 406.9,686.7 405.9,686.0 404.9,686.1 403.9,686.1 402.8,686.5 401.8,686.1 400.8,686.6 399.8,685.7 398.8,685.8 397.8,685.8 396.7,686.1 395.7,685.4 394.7,686.2 393.7,686.4 392.7,686.2 391.7,685.4 390.6,686.5 389.6,685.6 388.6,685.4 387.6,685.5 386.6,686.0 385.6,686.1 384.5,685.5 383.5,685.7 382.5,685.6 381.5,686.5 380.5,685.8 379.5,685.7 378.4,686.4 377.4,686.4 376.4,685.5 375.4,685.9 374.4,686.1 373.4,686.0 372.3,686.3 371.3,686.4" fill="#2222c8" />
<polygon points="382.0,686.0 382.9,685.0 382.7,683.5 383.5,682.5 384.7,682.0 385.0,680.6 386.0,680.0 387.0,679.3 388.2,679.0 389.0,678.0 389.9,677.3 391.0,676.8 391.8,675.8 393.0,675.5 394.2,675.4 395.2,674.9 395.9,673.7 397.0,673.5 397.9,672.8 399.0,672.9 400.0,672.6 401.0,672.3 402.0,672.4 403.0,671.9 404.0,672.0 405.0,671.8 406.0,671.4 407.0,671.4 408.0,671.3 409.0,671.7 410.0,671.6 411.0,671.7 412.0,671.5 411.6,672.5 412.2,673.6 412.2,674.6 412.0,675.6 411.6,676.7 412.2,677.7 412.2,678.8 412.1,679.8 411.8,680.8 412.2,681.9 412.3,682.9 411.8,683.9 411.9,685.0 412.0,686.0 411.0,685.9 410.0,686.5 409.0,686.3 408.0,686.4 407.0,686.1 406.0,685.6 405.0,685.5 404.0,685.7 403.0,686.1 402.0,685.9 401.0,685.6 400.0,686.2 399.0,686.1 398.0,685.8 397.0,686.2 396.0,686.0 395.0,686.1 394.0,685.7 393.0,686.0 392.0,686.4 391.0,686.5 390.0,685.9 389.0,686.4 388.0,685.8 387.0,686.3 386.0,686.0 385.0,686.2 384.0,685.8 383.0,686.4" fill="#34d4e0" />
<polygon points="388.5,686.0 389.0,685.0 389.4,683.9 390.0,683.0 391.5,682.0 392.5,681.6 393.2,680.7 394.0,680.0 394.8,679.1 396.1,678.8 397.0,678.0 397.9,677.3 398.9,677.1 400.0,677.0 400.9,676.4 402.0,676.6 403.1,676.5 404.0,676.0 405.0,676.0 406.0,675.7 407.0,676.1 408.0,676.0 409.0,675.6 410.0,675.4 411.0,675.7 412.0,675.5 411.6,676.5 411.7,677.6 411.7,678.6 411.8,679.7 412.2,680.8 411.9,681.8 412.1,682.9 411.9,683.9 412.0,685.0 412.0,686.0 411.0,686.2 410.0,685.7 408.9,686.4 407.9,686.1 406.9,686.1 405.9,685.6 404.8,686.3 403.8,685.9 402.8,685.6 401.8,685.9 400.8,685.7 399.7,686.1 398.7,686.0 397.7,686.1 396.7,686.1 395.7,686.1 394.6,686.3 393.6,685.6 392.6,685.8 391.6,685.9 390.5,686.0 389.5,686.2" fill="#22c030" />
<polygon points="393.5,686.0 394.0,685.0 394.6,684.0 395.0,683.0 395.7,682.0 396.5,681.0 397.4,680.4 398.0,679.5 398.9,679.0 400.1,679.3 401.0,678.9 402.0,678.5 403.0,678.6 404.0,678.5 405.0,678.1 406.0,678.4 407.0,678.2 408.0,677.9 409.0,678.2 410.0,677.9 411.0,678.0 412.0,677.8 412.2,678.8 411.9,679.8 412.3,680.9 412.3,681.9 412.2,682.9 412.3,684.0 411.9,685.0 412.0,686.0 411.0,686.2 409.9,686.2 408.9,685.8 407.9,685.8 406.9,686.1 405.8,686.2 404.8,685.9 403.8,686.0 402.8,686.1 401.7,686.1 400.7,686.1 399.7,686.0 398.6,686.2 397.6,686.3 396.6,686.0 395.6,686.2 394.5,686.3" fill="#e8e000" />
<polygon points="396.8,686.0 397.1,685.0 397.4,684.0 398.0,683.1 398.2,682.0 399.1,681.1 400.0,680.3 401.0,680.0 402.0,679.7 403.0,679.4 404.0,679.2 405.0,679.3 406.0,679.3 407.0,679.0 408.0,678.7 409.0,679.0 410.0,678.9 411.0,679.1 412.0,679.0 411.9,680.0 412.3,681.0 412.2,682.0 412.0,683.0 411.8,684.0 411.8,685.0 412.0,686.0 411.0,685.8 410.0,686.2 409.0,686.1 407.9,686.0 406.9,686.1 405.9,686.2 404.9,685.7 403.9,685.9 402.9,686.1 401.9,686.0 400.9,685.9 399.8,685.8 398.8,685.8 397.8,686.1" fill="#7a4010" />
<polygon points="398.0,686.0 398.2,684.7 398.8,683.7 399.2,682.5 400.0,681.6 401.0,681.0 402.0,680.7 403.0,680.4 404.0,680.3 405.0,680.5 406.0,680.3 407.0,680.4 408.0,680.5 409.0,680.2 410.0,680.2 411.0,680.0 412.0,680.2 411.8,681.4 412.3,682.5 412.1,683.7 412.2,684.8 412.0,686.0 411.0,685.9 410.0,686.0 409.0,686.0 408.0,686.0 407.0,685.8 406.0,685.7 405.0,686.1 404.0,685.8 403.0,685.9 402.0,685.9 401.0,685.7 400.0,686.2 399.0,686.1" fill="#c47424" />
<ellipse cx="301.4" cy="684.0" rx="0.79" ry="0.84" fill="#2222c8" />
<ellipse cx="338.9" cy="683.5" rx="0.51" ry="0.74" fill="#ff50ff" />
<ellipse cx="343.9" cy="683.1" rx="0.46" ry="0.43" fill="#ff50ff" />
<ellipse cx="302.9" cy="683.1" rx="0.56" ry="0.67" fill="#ff50ff" />
<ellipse cx="333.9" cy="684.3" rx="0.68" ry="1.21" fill="#ff50ff" />
<ellipse cx="333.4" cy="683.9" rx="0.58" ry="0.84" fill="#ff50ff" />
<ellipse cx="367.0" cy="683.3" rx="0.42" ry="0.40" fill="#2222c8" />
<polygon points="294.0,684.4 411.0,684.4 411.0,685.3 294.0,685.3" fill="#70b040" />
<polygon points="294.0,685.3 411.0,685.3 411.0,686.3 294.0,686.3" fill="#c09020" />
<polygon points="294.0,686.3 411.0,686.3 411.0,687.5 294.0,687.5" fill="#b06030" />
</g>
</g>
<g clip-path="url(#cl50)">
<g filter="url(#soft)">
<ellipse cx="82.0" cy="716.0" rx="1.20" ry="1.60" fill="#ff50ff" />
<ellipse cx="84.0" cy="727.0" rx="1.00" ry="2.00" fill="#ff50ff" />
<ellipse cx="83.0" cy="790.0" rx="1.50" ry="3.00" fill="#ff50ff" />
<ellipse cx="85.0" cy="805.0" rx="1.50" ry="2.00" fill="#ff50ff" />
<ellipse cx="90.0" cy="735.0" rx="0.90" ry="1.50" fill="#ff50ff" />
<ellipse cx="120.0" cy="735.0" rx="1.00" ry="1.50" fill="#ff50ff" />
<ellipse cx="140.0" cy="735.0" rx="1.00" ry="2.00" fill="#ff50ff" />
<ellipse cx="145.0" cy="730.0" rx="1.00" ry="1.50" fill="#ff50ff" />
<ellipse cx="156.0" cy="750.0" rx="1.00" ry="2.00" fill="#ff50ff" />
<ellipse cx="156.0" cy="762.0" rx="1.00" ry="2.00" fill="#ff50ff" />
<ellipse cx="158.0" cy="772.0" rx="0.80" ry="1.50" fill="#ff50ff" />
<ellipse cx="153.0" cy="782.0" rx="1.00" ry="1.50" fill="#ff50ff" />
<ellipse cx="148.0" cy="790.0" rx="0.90" ry="1.20" fill="#ff50ff" />
<ellipse cx="127.0" cy="801.0" rx="1.00" ry="1.50" fill="#ff50ff" />
<ellipse cx="135.0" cy="805.0" rx="0.80" ry="1.00" fill="#ff50ff" />
<ellipse cx="91.0" cy="809.0" rx="1.00" ry="1.20" fill="#ff50ff" />
<ellipse cx="115.0" cy="725.0" rx="0.80" ry="1.20" fill="#ff50ff" />
<ellipse cx="131.0" cy="738.0" rx="0.80" ry="1.20" fill="#ff50ff" />
<ellipse cx="86.0" cy="733.0" rx="0.80" ry="1.30" fill="#ff50ff" />
<ellipse cx="152.0" cy="736.0" rx="0.90" ry="1.50" fill="#ff50ff" />
<ellipse cx="123.0" cy="741.0" rx="0.80" ry="1.20" fill="#ff50ff" />
<ellipse cx="82.0" cy="742.6" rx="0.92" ry="1.74" fill="#ff50ff" />
<ellipse cx="93.1" cy="778.9" rx="0.82" ry="1.33" fill="#ff50ff" />
<ellipse cx="85.5" cy="739.4" rx="0.77" ry="1.51" fill="#ff50ff" />
<ellipse cx="89.1" cy="761.1" rx="1.34" ry="1.64" fill="#ff50ff" />
<ellipse cx="94.2" cy="780.3" rx="1.04" ry="1.15" fill="#ff50ff" />
<ellipse cx="92.9" cy="780.6" rx="0.88" ry="1.90" fill="#ff50ff" />
<ellipse cx="89.9" cy="774.4" rx="1.35" ry="2.93" fill="#ff50ff" />
<ellipse cx="88.2" cy="745.5" rx="1.57" ry="2.05" fill="#ff50ff" />
<ellipse cx="87.7" cy="767.7" rx="0.73" ry="1.38" fill="#ff50ff" />
<ellipse cx="89.5" cy="792.5" rx="1.19" ry="1.22" fill="#ff50ff" />
<ellipse cx="90.8" cy="806.3" rx="1.51" ry="3.25" fill="#ff50ff" />
<ellipse cx="82.3" cy="783.8" rx="0.76" ry="0.87" fill="#ff50ff" />
<ellipse cx="91.4" cy="752.4" rx="1.47" ry="2.92" fill="#ff50ff" />
<ellipse cx="91.5" cy="806.5" rx="1.16" ry="1.74" fill="#ff50ff" />
<ellipse cx="89.7" cy="804.1" rx="1.32" ry="2.29" fill="#ff90ff" />
<ellipse cx="87.4" cy="768.1" rx="0.93" ry="1.27" fill="#ff50ff" />
<ellipse cx="88.9" cy="799.0" rx="1.15" ry="2.05" fill="#ff50ff" />
<ellipse cx="88.1" cy="785.5" rx="0.89" ry="1.04" fill="#ff50ff" />
<ellipse cx="86.8" cy="791.4" rx="0.72" ry="1.51" fill="#ff90ff" />
<ellipse cx="87.8" cy="775.4" rx="0.88" ry="1.09" fill="#ff90ff" />
<ellipse cx="92.4" cy="753.7" rx="1.22" ry="1.87" fill="#ff90ff" />
<ellipse cx="86.0" cy="744.4" rx="1.28" ry="2.07" fill="#ff50ff" />
<ellipse cx="94.2" cy="790.3" rx="1.50" ry="1.88" fill="#ff50ff" />
<ellipse cx="95.5" cy="741.2" rx="1.34" ry="1.86" fill="#ff50ff" />
<ellipse cx="92.2" cy="809.8" rx="1.43" ry="1.49" fill="#ff50ff" />
<ellipse cx="88.3" cy="803.2" rx="1.00" ry="1.24" fill="#ff50ff" />
<ellipse cx="97.4" cy="752.8" rx="1.55" ry="2.70" fill="#ff90ff" />
<ellipse cx="95.7" cy="764.4" rx="1.14" ry="1.67" fill="#ff50ff" />
<ellipse cx="86.2" cy="792.8" rx="1.08" ry="1.66" fill="#ff50ff" />
<ellipse cx="83.0" cy="767.0" rx="1.26" ry="2.00" fill="#ff50ff" />
<ellipse cx="95.2" cy="781.4" rx="1.12" ry="1.31" fill="#ff50ff" />
<ellipse cx="87.7" cy="796.2" rx="0.81" ry="1.63" fill="#ff50ff" />
<ellipse cx="87.9" cy="779.7" rx="1.11" ry="2.37" fill="#ff90ff" />
<ellipse cx="93.6" cy="782.8" rx="1.29" ry="2.33" fill="#ff50ff" />
<ellipse cx="85.9" cy="762.9" rx="0.90" ry="1.69" fill="#ff90ff" />
<ellipse cx="82.7" cy="808.5" rx="1.39" ry="2.55" fill="#ff90ff" />
<ellipse cx="87.1" cy="757.7" rx="1.42" ry="2.05" fill="#ff90ff" />
<ellipse cx="93.0" cy="801.0" rx="0.99" ry="1.00" fill="#ff90ff" />
<ellipse cx="90.7" cy="776.6" rx="1.41" ry="2.29" fill="#ff50ff" />
<ellipse cx="96.6" cy="756.8" rx="1.01" ry="2.18" fill="#ff50ff" />
<ellipse cx="84.9" cy="807.0" rx="0.86" ry="1.65" fill="#ff50ff" />
<ellipse cx="88.4" cy="741.9" rx="1.23" ry="1.98" fill="#ff50ff" />
<ellipse cx="92.2" cy="737.3" rx="1.57" ry="1.88" fill="#ff90ff" />
<ellipse cx="86.7" cy="774.5" rx="0.87" ry="1.40" fill="#ff90ff" />
<ellipse cx="90.2" cy="760.4" rx="0.97" ry="1.13" fill="#ff50ff" />
<ellipse cx="82.3" cy="807.1" rx="1.08" ry="2.31" fill="#ff50ff" />
<ellipse cx="94.1" cy="776.4" rx="0.96" ry="1.38" fill="#ff90ff" />
<ellipse cx="81.2" cy="768.6" rx="0.73" ry="1.57" fill="#ff90ff" />
<ellipse cx="86.2" cy="770.1" rx="0.71" ry="1.39" fill="#ff50ff" />
<ellipse cx="88.8" cy="803.6" rx="0.86" ry="1.76" fill="#ff50ff" />
<ellipse cx="92.6" cy="765.8" rx="0.73" ry="1.22" fill="#ff90ff" />
<ellipse cx="97.3" cy="775.2" rx="1.01" ry="1.50" fill="#ff90ff" />
<ellipse cx="92.9" cy="737.2" rx="1.00" ry="1.77" fill="#ff50ff" />
<ellipse cx="90.1" cy="748.8" rx="1.06" ry="1.72" fill="#ff50ff" />
<ellipse cx="88.5" cy="804.3" rx="1.37" ry="1.54" fill="#ff90ff" />
<ellipse cx="86.9" cy="781.5" rx="0.87" ry="1.37" fill="#2222c8" />
<ellipse cx="87.1" cy="757.3" rx="0.95" ry="2.06" fill="#1a1aa8" />
<ellipse cx="91.8" cy="746.7" rx="1.37" ry="2.07" fill="#1a1aa8" />
<ellipse cx="84.7" cy="772.7" rx="1.11" ry="1.96" fill="#2222c8" />
<ellipse cx="89.4" cy="798.1" rx="0.84" ry="1.14" fill="#1a1aa8" />
<ellipse cx="86.8" cy="803.6" rx="1.31" ry="3.15" fill="#2222c8" />
<ellipse cx="87.0" cy="793.8" rx="1.09" ry="2.49" fill="#2222c8" />
<ellipse cx="95.3" cy="793.1" rx="1.31" ry="1.69" fill="#2222c8" />
<ellipse cx="88.1" cy="743.5" rx="1.36" ry="1.64" fill="#2222c8" />
<ellipse cx="86.0" cy="747.3" rx="1.41" ry="1.58" fill="#1a1aa8" />
<ellipse cx="88.5" cy="786.4" rx="0.78" ry="1.66" fill="#2222c8" />
<ellipse cx="93.3" cy="745.5" rx="0.99" ry="1.67" fill="#1a1aa8" />
<ellipse cx="94.9" cy="770.7" rx="1.11" ry="2.39" fill="#1a1aa8" />
<ellipse cx="87.6" cy="794.4" rx="1.26" ry="1.47" fill="#2222c8" />
<ellipse cx="83.6" cy="767.1" rx="1.06" ry="1.83" fill="#2222c8" />
<ellipse cx="93.4" cy="762.1" rx="1.33" ry="2.35" fill="#2222c8" />
<ellipse cx="96.0" cy="768.4" rx="0.98" ry="1.67" fill="#1a1aa8" />
<ellipse cx="91.9" cy="773.6" rx="1.17" ry="2.56" fill="#2222c8" />
<ellipse cx="84.1" cy="771.9" rx="1.38" ry="3.08" fill="#2222c8" />
<ellipse cx="82.4" cy="782.3" rx="0.71" ry="0.83" fill="#2222c8" />
<ellipse cx="94.7" cy="767.1" rx="1.41" ry="2.69" fill="#2222c8" />
<ellipse cx="85.5" cy="754.5" rx="1.12" ry="1.51" fill="#2222c8" />
<ellipse cx="92.0" cy="790.8" rx="1.35" ry="2.89" fill="#1a1aa8" />
<ellipse cx="86.2" cy="775.1" rx="1.40" ry="2.20" fill="#2222c8" />
<ellipse cx="88.8" cy="752.9" rx="1.21" ry="1.35" fill="#2222c8" />
<ellipse cx="95.4" cy="757.7" rx="1.24" ry="1.31" fill="#1a1aa8" />
<ellipse cx="82.6" cy="794.2" rx="0.88" ry="1.83" fill="#2222c8" />
<ellipse cx="86.5" cy="752.1" rx="1.23" ry="1.90" fill="#2222c8" />
<ellipse cx="86.9" cy="777.2" rx="1.17" ry="2.26" fill="#2222c8" />
<ellipse cx="86.0" cy="781.1" rx="1.08" ry="1.19" fill="#2222c8" />
<ellipse cx="91.8" cy="791.2" rx="1.46" ry="2.73" fill="#2222c8" />
<ellipse cx="90.8" cy="746.6" rx="1.05" ry="1.28" fill="#2222c8" />
<ellipse cx="89.3" cy="754.0" rx="0.91" ry="1.13" fill="#2222c8" />
<ellipse cx="94.7" cy="744.7" rx="1.02" ry="2.32" fill="#2222c8" />
<ellipse cx="91.8" cy="757.8" rx="1.30" ry="2.01" fill="#2222c8" />
<ellipse cx="91.7" cy="755.8" rx="1.26" ry="1.54" fill="#1a1aa8" />
<ellipse cx="85.9" cy="770.4" rx="1.04" ry="1.91" fill="#2222c8" />
<ellipse cx="94.6" cy="749.7" rx="0.81" ry="1.64" fill="#1a1aa8" />
<ellipse cx="83.9" cy="762.5" rx="1.23" ry="2.59" fill="#2222c8" />
<ellipse cx="95.0" cy="770.9" rx="0.87" ry="0.95" fill="#1a1aa8" />
<ellipse cx="99.0" cy="699.5" rx="1.20" ry="2.50" fill="#2222c8" />
<ellipse cx="94.0" cy="704.0" rx="1.20" ry="1.20" fill="#2222c8" />
<ellipse cx="95.5" cy="710.0" rx="1.50" ry="2.00" fill="#2222c8" />
<ellipse cx="96.0" cy="716.0" rx="1.50" ry="1.50" fill="#2222c8" />
<ellipse cx="90.0" cy="714.0" rx="1.00" ry="1.20" fill="#2222c8" />
<ellipse cx="96.0" cy="721.5" rx="1.50" ry="1.00" fill="#2222c8" />
<ellipse cx="99.0" cy="722.0" rx="1.00" ry="1.00" fill="#2222c8" />
<ellipse cx="97.0" cy="727.0" rx="1.00" ry="1.50" fill="#2222c8" />
<ellipse cx="118.0" cy="701.0" rx="1.00" ry="1.00" fill="#2222c8" />
<ellipse cx="126.0" cy="721.0" rx="1.00" ry="1.20" fill="#2222c8" />
<ellipse cx="92.0" cy="730.0" rx="1.00" ry="1.20" fill="#2222c8" />
<ellipse cx="101.0" cy="704.0" rx="0.90" ry="1.20" fill="#2222c8" />
<ellipse cx="88.0" cy="746.0" rx="1.50" ry="4.00" fill="#2222c8" />
<ellipse cx="86.0" cy="757.0" rx="1.40" ry="3.00" fill="#2222c8" />
<ellipse cx="89.0" cy="768.0" rx="1.40" ry="3.00" fill="#2222c8" />
<ellipse cx="130.8" cy="779.4" rx="0.85" ry="1.10" fill="#1a1aa8" />
<ellipse cx="142.1" cy="782.2" rx="1.07" ry="1.65" fill="#2222c8" />
<ellipse cx="155.9" cy="747.6" rx="1.01" ry="1.68" fill="#ff50ff" />
<ellipse cx="99.0" cy="769.9" rx="0.93" ry="1.80" fill="#ff50ff" />
<ellipse cx="103.5" cy="771.2" rx="0.82" ry="1.40" fill="#ff50ff" />
<ellipse cx="132.7" cy="773.9" rx="0.65" ry="0.78" fill="#ff50ff" />
<ellipse cx="145.3" cy="754.7" rx="0.68" ry="1.30" fill="#1a1aa8" />
<ellipse cx="125.1" cy="781.4" rx="0.90" ry="0.98" fill="#1a1aa8" />
<ellipse cx="120.0" cy="797.9" rx="0.64" ry="0.78" fill="#1a1aa8" />
<ellipse cx="111.7" cy="742.5" rx="0.80" ry="1.24" fill="#ff50ff" />
<ellipse cx="127.2" cy="813.5" rx="0.63" ry="1.20" fill="#ff50ff" />
<ellipse cx="112.8" cy="793.4" rx="1.08" ry="2.11" fill="#1a1aa8" />
<ellipse cx="90.7" cy="807.3" rx="0.95" ry="1.58" fill="#ff50ff" />
<ellipse cx="113.6" cy="782.6" rx="0.87" ry="1.26" fill="#1a1aa8" />
<ellipse cx="146.9" cy="768.2" rx="1.02" ry="1.46" fill="#ff50ff" />
<ellipse cx="95.6" cy="767.6" rx="1.01" ry="1.70" fill="#ff50ff" />
<ellipse cx="150.0" cy="776.4" rx="0.82" ry="0.93" fill="#2222c8" />
<ellipse cx="92.8" cy="753.7" rx="0.69" ry="1.02" fill="#ff50ff" />
<ellipse cx="132.2" cy="755.5" rx="1.03" ry="1.79" fill="#1a1aa8" />
<ellipse cx="94.3" cy="777.0" rx="0.55" ry="0.61" fill="#1a1aa8" />
<ellipse cx="102.6" cy="734.9" rx="1.05" ry="2.05" fill="#1a1aa8" />
<ellipse cx="98.6" cy="747.3" rx="0.62" ry="0.91" fill="#ff50ff" />
<ellipse cx="124.2" cy="781.6" rx="0.93" ry="1.57" fill="#2222c8" />
<ellipse cx="100.9" cy="718.6" rx="0.55" ry="0.58" fill="#1a1aa8" />
<ellipse cx="102.1" cy="788.0" rx="0.50" ry="0.54" fill="#ff50ff" />
<ellipse cx="125.4" cy="814.3" rx="0.51" ry="0.52" fill="#ff50ff" />
<ellipse cx="104.5" cy="801.8" rx="0.81" ry="0.97" fill="#ff50ff" />
<ellipse cx="108.4" cy="756.4" rx="0.62" ry="0.97" fill="#2222c8" />
<ellipse cx="133.3" cy="787.4" rx="0.90" ry="1.52" fill="#2222c8" />
<ellipse cx="105.0" cy="789.3" rx="0.59" ry="0.63" fill="#ff50ff" />
<ellipse cx="152.6" cy="768.9" rx="0.66" ry="0.95" fill="#ff50ff" />
<ellipse cx="123.7" cy="787.0" rx="0.85" ry="1.01" fill="#ff50ff" />
<ellipse cx="114.0" cy="754.2" rx="0.70" ry="1.31" fill="#ff50ff" />
<ellipse cx="153.1" cy="744.3" rx="0.72" ry="0.87" fill="#ff50ff" />
<ellipse cx="113.0" cy="781.1" rx="0.91" ry="1.59" fill="#ff50ff" />
<ellipse cx="106.3" cy="812.7" rx="0.80" ry="1.08" fill="#2222c8" />
<ellipse cx="128.4" cy="756.2" rx="0.74" ry="1.10" fill="#1a1aa8" />
<ellipse cx="140.4" cy="766.9" rx="0.99" ry="1.52" fill="#ff50ff" />
<ellipse cx="109.1" cy="745.2" rx="0.87" ry="0.91" fill="#ff50ff" />
<ellipse cx="145.7" cy="771.4" rx="0.85" ry="0.89" fill="#ff50ff" />
<ellipse cx="133.4" cy="762.1" rx="0.74" ry="0.85" fill="#ff50ff" />
<ellipse cx="127.8" cy="795.0" rx="0.62" ry="0.73" fill="#ff50ff" />
<ellipse cx="123.6" cy="757.4" rx="1.04" ry="1.16" fill="#ff50ff" />
<ellipse cx="100.5" cy="719.3" rx="0.78" ry="1.20" fill="#ff50ff" />
<ellipse cx="133.2" cy="787.9" rx="0.76" ry="1.31" fill="#2222c8" />
<ellipse cx="136.4" cy="762.1" rx="0.76" ry="1.10" fill="#1a1aa8" />
<ellipse cx="146.2" cy="773.9" rx="0.56" ry="0.76" fill="#1a1aa8" />
<ellipse cx="114.6" cy="798.3" rx="0.91" ry="1.20" fill="#1a1aa8" />
<ellipse cx="128.0" cy="756.9" rx="0.78" ry="0.90" fill="#ff50ff" />
<ellipse cx="94.1" cy="768.9" rx="0.68" ry="1.21" fill="#ff50ff" />
<polygon points="104.0,711.2 104.5,710.3 105.7,710.5 105.4,708.5 107.0,709.2 107.1,710.9 108.2,711.0 108.7,712.0 110.7,710.6 111.6,710.9 112.0,712.2 113.5,712.8 113.3,713.8 114.0,714.6 112.2,715.9 113.4,716.6 112.3,717.8 112.6,718.7 114.0,719.3 114.8,720.1 114.0,721.2 114.6,722.0 115.8,722.7 114.2,724.0 115.7,724.6 116.0,725.5 114.1,726.9 115.6,727.5 114.3,728.7 114.4,729.6 116.0,730.2 115.7,731.2 117.1,731.9 117.7,732.7 117.6,733.7 116.3,734.9 117.2,735.7 118.0,736.5 119.1,737.2 118.3,738.4 118.4,739.3 119.6,740.0 118.5,741.2 119.6,741.8 119.8,742.7 119.9,743.8 120.1,744.7 120.3,745.7 119.9,747.0 121.8,747.2 122.7,747.8 122.0,749.2 122.9,748.5 123.9,748.0 125.0,748.9 126.0,748.5 126.9,747.8 128.0,748.2 128.5,746.8 130.0,748.3 130.7,747.7 131.5,747.4 132.5,747.3 133.5,747.5 134.0,746.2 134.2,744.5 135.3,744.5 136.5,744.8 137.7,745.0 138.3,744.1 139.1,743.6 140.0,743.2 140.4,742.2 141.1,741.6 142.9,742.6 143.8,742.4 143.7,740.7 144.4,740.1 144.6,738.8 146.0,739.2 147.1,739.2 147.8,737.9 149.1,738.8 150.0,738.2 151.0,738.8 150.9,739.9 150.3,741.3 152.2,741.4 152.0,742.5 153.1,743.1 153.0,744.2 153.2,745.1 152.1,746.2 153.3,747.0 152.0,748.1 153.8,748.8 153.8,749.8 153.3,750.7 153.9,751.6 153.5,752.6 154.7,753.4 155.6,754.2 154.5,755.3 155.7,756.1 154.5,757.2 155.1,758.2 154.0,759.0 153.6,759.9 152.8,760.7 153.4,761.7 153.6,762.7 154.2,763.7 153.6,764.6 154.1,765.6 154.5,766.6 153.1,767.3 152.7,768.2 153.0,769.2 153.1,770.3 151.5,770.5 151.6,771.6 151.7,772.8 149.8,772.8 151.5,774.8 150.4,775.3 149.8,776.0 148.5,776.3 149.1,777.7 148.0,778.2 146.3,777.9 147.4,780.4 146.0,780.4 145.3,781.1 144.0,781.2 144.3,782.9 143.8,783.8 141.9,783.3 141.1,783.9 141.0,785.2 140.1,785.6 138.8,785.3 139.0,787.1 138.2,787.5 137.4,787.9 137.3,789.4 135.3,788.2 136.0,790.6 135.2,791.1 133.0,789.7 133.0,791.2 132.2,791.8 131.8,793.1 129.8,791.7 130.0,794.0 128.7,793.8 128.5,795.5 127.4,795.6 126.0,795.2 125.2,795.7 124.0,795.7 124.1,797.7 122.3,796.5 121.6,797.3 121.0,798.2 121.1,799.3 120.8,800.6 122.6,800.8 124.3,801.0 124.7,801.9 123.0,804.0 125.5,803.7 125.0,805.2 126.0,805.8 125.5,807.1 125.7,808.1 126.1,809.0 127.1,809.6 128.1,810.2 127.0,811.8 129.8,811.5 129.0,813.0 128.1,813.7 127.2,811.5 126.3,813.9 125.4,812.0 124.5,812.7 123.5,812.6 122.6,812.6 121.7,813.2 120.8,812.0 119.9,814.3 119.0,813.6 118.1,812.2 117.2,812.3 116.3,812.6 115.4,812.4 114.5,813.6 113.5,812.7 112.6,812.8 111.7,812.1 110.8,813.8 109.9,813.6 109.0,813.5 108.1,813.9 107.2,812.3 106.3,813.0 105.4,814.3 104.5,811.8 103.5,812.9 102.6,812.0 101.7,812.3 100.8,813.3 99.9,813.5 99.0,812.9 98.1,811.7 97.2,812.1 96.3,811.6 95.4,812.8 94.5,812.9 93.5,813.6 92.6,812.9 91.7,812.8 90.8,812.2 89.9,812.0 89.0,813.0 90.4,812.3 88.8,810.9 90.2,810.2 88.7,808.8 89.6,808.0 90.8,807.2 89.3,805.8 91.0,805.2 92.4,805.1 92.1,803.8 91.8,802.5 92.8,802.1 94.1,801.9 93.0,800.0 95.5,800.6 95.0,799.2 95.7,798.3 95.5,797.2 94.7,796.0 96.2,795.3 96.0,794.2 95.0,793.5 94.4,792.6 96.5,791.3 94.8,790.7 95.9,789.5 94.9,788.8 94.9,787.8 94.2,787.0 95.3,785.8 95.0,784.9 94.0,784.2 93.5,783.3 93.9,782.3 92.9,781.5 94.6,780.3 93.2,779.6 93.4,778.6 93.2,777.7 91.7,777.0 92.2,775.9 93.4,774.8 92.7,773.9 91.5,773.2 91.2,772.3 92.0,771.2 93.2,770.3 93.1,769.4 93.4,768.5 91.3,767.4 92.5,766.5 92.2,765.6 92.2,764.7 92.1,763.7 93.0,762.8 92.9,761.9 91.5,760.8 91.4,759.9 91.9,759.0 93.9,758.2 93.0,757.2 94.2,756.5 93.9,755.4 93.1,754.3 93.8,753.5 94.3,752.6 93.1,751.4 95.6,751.0 95.7,750.0 93.2,748.6 94.1,747.8 94.3,746.9 96.2,746.3 96.5,745.4 95.5,744.2 97.0,743.6 95.7,742.3 96.3,741.5 95.5,740.3 95.3,739.3 97.3,738.8 97.2,737.9 98.4,737.2 98.8,736.3 97.9,735.1 98.0,734.2 96.9,733.0 98.6,732.4 99.9,731.8 98.7,730.6 99.4,729.8 99.2,728.8 99.2,727.9 99.4,726.9 99.0,725.9 100.0,725.2 100.1,724.3 101.3,723.6 101.4,722.7 99.5,721.3 100.3,720.5 100.1,719.6 100.4,718.7 100.3,717.7 102.0,717.2 102.9,716.6 101.7,715.2 103.3,714.8 104.1,714.1 102.4,712.6 103.0,711.8" fill="#ff50ff" />
<polygon points="105.0,712.0 104.9,710.3 106.7,711.3 108.2,711.9 108.0,710.0 109.1,710.4 109.4,711.6 110.6,711.9 111.0,713.0 110.4,714.1 110.8,714.9 111.3,715.8 110.2,717.0 111.3,717.6 112.7,718.3 112.8,719.2 112.2,720.3 112.2,721.2 113.0,722.0 114.1,722.7 112.4,724.0 113.8,724.7 112.9,725.8 115.4,726.2 114.8,727.3 116.0,727.9 114.9,729.1 115.6,729.9 115.0,731.0 115.7,731.8 116.3,732.6 114.5,734.0 115.4,734.8 116.5,735.5 116.3,736.5 117.5,737.2 115.2,738.7 115.5,739.6 116.8,740.2 118.4,740.8 117.5,742.0 116.5,743.5 119.2,743.4 120.1,744.1 119.3,745.4 119.8,746.3 118.7,747.8 121.3,747.7 122.0,748.5 121.0,750.0 122.0,749.6 122.7,748.1 124.1,750.0 125.0,749.3 126.2,750.4 127.0,749.0 128.3,750.1 128.4,747.6 129.9,749.1 130.4,747.9 131.8,749.0 131.7,745.9 133.0,747.0 133.8,746.4 135.4,747.6 134.9,744.4 136.1,744.7 137.0,744.3 137.9,744.0 139.0,744.0 140.7,744.9 139.9,742.1 141.9,743.4 141.6,741.3 143.5,742.6 142.8,740.0 143.5,739.4 145.0,740.0 146.4,741.4 146.6,737.9 148.1,739.7 149.0,739.0 150.3,739.4 149.6,740.8 150.8,741.3 150.3,742.6 150.6,743.6 150.8,744.5 152.0,745.0 153.4,745.8 151.1,747.0 153.2,747.7 152.1,748.8 151.5,749.8 151.7,750.7 152.6,751.5 152.9,752.4 154.1,753.2 151.8,754.4 152.9,755.3 152.4,756.2 151.8,757.3 153.5,758.0 152.7,758.8 153.9,759.9 153.2,760.8 154.1,761.8 153.7,762.7 151.6,763.4 152.1,764.4 153.7,765.5 152.4,766.3 152.7,767.3 151.2,768.0 151.0,768.9 152.0,770.0 152.0,771.1 152.3,772.3 151.6,773.0 150.0,773.2 150.1,774.3 150.7,775.7 148.1,775.3 148.0,776.4 148.4,777.7 148.9,779.0 147.0,779.0 146.6,780.0 145.4,780.2 145.9,782.1 145.1,782.7 144.6,783.6 143.9,784.3 141.8,783.6 140.9,784.1 140.4,785.0 140.0,786.0 139.6,787.0 138.8,787.5 138.8,789.0 136.5,787.3 136.3,788.6 136.3,790.1 135.7,790.9 134.6,791.0 133.7,791.2 132.3,790.9 132.0,792.0 131.8,793.8 129.8,792.2 129.8,794.3 129.1,795.0 127.4,794.1 127.3,796.0 125.1,794.1 125.0,796.0 123.9,796.0 122.9,796.3 122.4,797.4 121.0,796.9 120.2,797.5 120.0,799.0 120.4,800.0 122.1,800.1 121.0,801.9 120.5,803.3 123.3,802.9 122.4,804.6 124.6,804.5 124.0,806.0 123.5,807.4 124.8,807.8 125.1,808.7 125.5,809.6 126.1,810.4 126.2,811.5 126.8,812.2 128.2,812.6 128.0,813.8 127.1,812.5 126.2,815.1 125.3,813.0 124.4,814.1 123.5,815.2 122.6,814.6 121.7,813.8 120.8,815.0 119.9,813.4 119.0,812.3 118.0,813.1 117.1,813.6 116.2,813.5 115.3,813.8 114.4,812.9 113.5,813.1 112.6,813.8 111.7,813.0 110.8,813.3 109.9,815.2 109.0,815.0 108.1,814.2 107.2,814.4 106.3,813.1 105.4,813.9 104.5,813.2 103.6,813.1 102.7,812.3 101.8,813.7 100.9,814.6 100.0,812.2 99.0,814.4 98.1,813.0 97.2,814.7 96.3,814.1 95.4,813.3 94.5,812.4 93.6,812.3 92.7,812.2 91.8,813.8 90.9,813.0 90.0,813.8 91.1,813.0 90.5,811.9 91.5,811.1 90.6,809.8 91.1,808.9 90.9,807.8 90.6,806.7 92.0,806.0 93.7,806.1 93.1,804.6 93.5,803.8 94.6,803.4 93.9,801.8 93.9,800.7 95.9,801.0 96.0,800.0 95.4,798.8 95.3,797.8 96.6,797.0 96.4,795.9 97.0,795.0 98.2,793.8 96.6,793.2 97.9,792.0 97.2,791.2 96.6,790.3 96.2,789.5 94.6,788.9 96.8,787.5 94.2,787.1 96.2,785.7 95.0,785.0 96.4,783.8 96.0,782.9 95.8,782.0 95.4,781.1 94.2,780.4 95.1,779.3 94.7,778.4 94.3,777.5 93.7,776.7 94.0,775.7 94.3,774.6 92.0,774.1 93.6,772.9 93.0,772.0 94.5,771.2 91.7,770.0 94.9,769.3 94.6,768.4 93.2,767.3 93.7,766.4 93.2,765.4 92.7,764.5 93.0,763.6 95.2,762.8 92.3,761.6 93.7,760.8 93.1,759.8 94.4,759.0 94.0,758.0 95.7,757.4 94.8,756.2 93.6,755.0 96.3,754.6 94.6,753.3 96.2,752.7 96.6,751.8 94.8,750.4 94.5,749.4 97.3,749.0 97.2,748.0 95.2,746.7 97.6,746.2 96.5,745.0 97.8,744.4 96.0,742.9 95.9,741.9 97.7,741.4 97.0,740.3 96.9,739.3 96.5,738.2 97.7,737.6 97.0,736.4 97.3,735.5 99.0,735.0 98.3,733.9 99.4,733.2 99.9,732.4 99.3,731.3 99.0,730.3 100.3,729.6 100.7,728.8 100.3,727.7 100.8,726.9 101.0,726.0 101.5,725.2 103.0,724.6 100.3,723.0 103.1,722.7 103.1,721.8 102.0,720.6 103.0,719.9 104.1,719.2 103.0,718.0 104.2,717.4 104.5,716.6 102.5,715.0 103.3,714.3 103.3,713.3 106.3,713.4" fill="#2222c8" />
<ellipse cx="134.7" cy="761.8" rx="1.27" ry="2.25" fill="#ff50ff" />
<ellipse cx="126.9" cy="771.6" rx="0.70" ry="1.21" fill="#ffd0ff" />
<ellipse cx="122.7" cy="788.0" rx="1.15" ry="2.49" fill="#ff50ff" />
<ellipse cx="128.7" cy="764.4" rx="0.67" ry="0.88" fill="#ffd0ff" />
<ellipse cx="141.9" cy="779.5" rx="1.39" ry="1.67" fill="#ff50ff" />
<ellipse cx="122.8" cy="757.3" rx="1.43" ry="2.55" fill="#ffffff" />
<ellipse cx="124.4" cy="789.9" rx="1.08" ry="1.41" fill="#ff50ff" />
<ellipse cx="140.6" cy="780.6" rx="1.35" ry="1.72" fill="#ffffff" />
<ellipse cx="127.9" cy="753.3" rx="0.94" ry="0.94" fill="#ffd0ff" />
<ellipse cx="149.6" cy="743.8" rx="0.61" ry="1.19" fill="#ff90ff" />
<ellipse cx="133.2" cy="750.1" rx="0.82" ry="1.44" fill="#ffd0ff" />
<ellipse cx="126.3" cy="751.5" rx="1.20" ry="1.99" fill="#ffffff" />
<ellipse cx="132.0" cy="775.9" rx="0.97" ry="1.80" fill="#ff50ff" />
<ellipse cx="124.3" cy="765.0" rx="0.61" ry="1.23" fill="#ffffff" />
<ellipse cx="127.6" cy="753.4" rx="0.67" ry="1.19" fill="#ff50ff" />
<ellipse cx="127.9" cy="765.8" rx="1.06" ry="1.57" fill="#ffd0ff" />
<ellipse cx="128.4" cy="765.6" rx="0.75" ry="0.85" fill="#ff90ff" />
<ellipse cx="150.4" cy="764.7" rx="0.60" ry="1.27" fill="#ff50ff" />
<ellipse cx="132.1" cy="779.1" rx="1.24" ry="1.99" fill="#ffd0ff" />
<ellipse cx="135.3" cy="776.4" rx="1.01" ry="2.20" fill="#ff90ff" />
<ellipse cx="123.6" cy="753.8" rx="1.46" ry="1.87" fill="#ffffff" />
<ellipse cx="148.2" cy="752.9" rx="1.35" ry="2.04" fill="#ffffff" />
<ellipse cx="132.1" cy="778.1" rx="0.82" ry="0.94" fill="#ff50ff" />
<ellipse cx="147.7" cy="764.3" rx="0.84" ry="1.61" fill="#ff90ff" />
<ellipse cx="143.0" cy="767.3" rx="0.95" ry="1.12" fill="#ff50ff" />
<ellipse cx="131.6" cy="754.9" rx="0.85" ry="1.78" fill="#ffffff" />
<ellipse cx="124.2" cy="784.5" rx="1.36" ry="1.38" fill="#ff90ff" />
<ellipse cx="146.4" cy="755.4" rx="1.34" ry="2.40" fill="#ffffff" />
<ellipse cx="142.6" cy="749.0" rx="1.39" ry="1.77" fill="#ffffff" />
<ellipse cx="136.4" cy="770.5" rx="0.80" ry="1.59" fill="#ffffff" />
<ellipse cx="136.6" cy="765.6" rx="0.63" ry="0.98" fill="#ffffff" />
<ellipse cx="145.1" cy="760.7" rx="1.19" ry="1.96" fill="#ff90ff" />
<ellipse cx="126.2" cy="761.7" rx="1.02" ry="1.28" fill="#ffffff" />
<ellipse cx="124.5" cy="771.6" rx="0.89" ry="1.51" fill="#ff50ff" />
<ellipse cx="134.2" cy="753.4" rx="1.48" ry="2.97" fill="#ffffff" />
<ellipse cx="128.2" cy="782.6" rx="1.25" ry="1.61" fill="#ffd0ff" />
<ellipse cx="134.3" cy="770.4" rx="1.30" ry="1.63" fill="#ff90ff" />
<ellipse cx="126.2" cy="766.9" rx="1.34" ry="1.43" fill="#ffffff" />
<ellipse cx="142.9" cy="754.1" rx="1.04" ry="2.10" fill="#ffd0ff" />
<ellipse cx="147.9" cy="750.9" rx="0.95" ry="0.98" fill="#ffd0ff" />
<ellipse cx="122.2" cy="783.4" rx="1.17" ry="1.26" fill="#ff50ff" />
<ellipse cx="128.1" cy="782.1" rx="0.70" ry="0.95" fill="#ff50ff" />
<ellipse cx="123.8" cy="794.3" rx="1.30" ry="2.61" fill="#ff50ff" />
<ellipse cx="135.8" cy="749.6" rx="1.05" ry="1.08" fill="#ff90ff" />
<ellipse cx="144.4" cy="768.0" rx="1.19" ry="2.03" fill="#ff50ff" />
<ellipse cx="139.7" cy="756.6" rx="1.15" ry="1.56" fill="#ff50ff" />
<ellipse cx="125.7" cy="767.4" rx="1.05" ry="2.05" fill="#ff90ff" />
<ellipse cx="145.0" cy="768.2" rx="1.45" ry="1.50" fill="#ff50ff" />
<ellipse cx="125.8" cy="762.6" rx="1.35" ry="2.84" fill="#ffffff" />
<ellipse cx="137.1" cy="776.9" rx="0.66" ry="1.09" fill="#ff50ff" />
<ellipse cx="141.5" cy="764.5" rx="1.29" ry="1.91" fill="#ffffff" />
<ellipse cx="148.0" cy="755.7" rx="1.08" ry="2.18" fill="#ff90ff" />
<ellipse cx="122.3" cy="792.6" rx="0.75" ry="1.55" fill="#ff50ff" />
<ellipse cx="133.4" cy="762.5" rx="1.06" ry="1.31" fill="#ff90ff" />
<ellipse cx="149.1" cy="765.1" rx="1.34" ry="2.35" fill="#ff50ff" />
<ellipse cx="123.3" cy="780.3" rx="1.33" ry="2.10" fill="#ff90ff" />
<ellipse cx="125.7" cy="782.2" rx="0.77" ry="1.52" fill="#ffffff" />
<ellipse cx="140.3" cy="753.3" rx="0.65" ry="0.78" fill="#ff50ff" />
<ellipse cx="136.6" cy="784.0" rx="1.14" ry="2.38" fill="#ffffff" />
<ellipse cx="152.1" cy="758.4" rx="1.07" ry="1.29" fill="#ff50ff" />
<ellipse cx="144.1" cy="763.8" rx="0.61" ry="1.19" fill="#ff50ff" />
<ellipse cx="125.5" cy="778.6" rx="1.41" ry="2.01" fill="#ff50ff" />
<ellipse cx="126.9" cy="783.1" rx="0.82" ry="1.31" fill="#ffffff" />
<ellipse cx="149.6" cy="752.2" rx="0.83" ry="1.21" fill="#ff50ff" />
<ellipse cx="138.0" cy="782.9" rx="0.68" ry="1.47" fill="#ffffff" />
<ellipse cx="138.6" cy="755.9" rx="0.77" ry="1.49" fill="#ff90ff" />
<ellipse cx="124.6" cy="777.5" rx="1.03" ry="1.61" fill="#ffffff" />
<ellipse cx="123.8" cy="757.9" rx="0.80" ry="0.94" fill="#ffd0ff" />
<ellipse cx="133.2" cy="769.9" rx="0.69" ry="0.93" fill="#ff50ff" />
<ellipse cx="145.8" cy="769.3" rx="0.95" ry="2.05" fill="#ff50ff" />
<ellipse cx="136.9" cy="765.1" rx="1.17" ry="2.55" fill="#ff50ff" />
<ellipse cx="135.1" cy="760.0" rx="0.84" ry="0.95" fill="#ff50ff" />
<ellipse cx="137.8" cy="747.1" rx="0.76" ry="1.05" fill="#ff50ff" />
<ellipse cx="131.5" cy="761.3" rx="1.30" ry="1.58" fill="#ffffff" />
<ellipse cx="144.4" cy="757.3" rx="1.40" ry="2.28" fill="#ff50ff" />
<ellipse cx="118.0" cy="774.6" rx="1.23" ry="1.90" fill="#2a6ad0" />
<ellipse cx="118.3" cy="770.1" rx="1.34" ry="1.73" fill="#34d4e0" />
<ellipse cx="123.1" cy="779.6" rx="1.39" ry="2.12" fill="#20a8b8" />
<ellipse cx="122.9" cy="761.8" rx="0.90" ry="1.66" fill="#20a8b8" />
<ellipse cx="122.7" cy="772.0" rx="1.24" ry="1.50" fill="#2a6ad0" />
<ellipse cx="118.7" cy="781.8" rx="1.28" ry="1.58" fill="#20a8b8" />
<ellipse cx="118.7" cy="764.3" rx="0.94" ry="1.86" fill="#2a6ad0" />
<ellipse cx="125.1" cy="782.4" rx="1.28" ry="1.88" fill="#34d4e0" />
<ellipse cx="120.9" cy="794.6" rx="0.80" ry="1.31" fill="#34d4e0" />
<ellipse cx="122.0" cy="787.3" rx="1.04" ry="1.71" fill="#2a6ad0" />
<ellipse cx="124.8" cy="771.4" rx="0.97" ry="1.83" fill="#2a6ad0" />
<ellipse cx="126.0" cy="780.8" rx="1.24" ry="1.29" fill="#2a6ad0" />
<polygon points="106.0,722.0 106.6,721.1 107.8,721.0 108.7,720.6 109.5,720.0 109.9,720.8 109.9,721.8 110.5,722.6 110.7,723.5 111.7,724.2 112.2,725.0 112.2,725.9 112.0,727.0 111.6,728.1 113.5,728.6 113.0,729.6 113.1,730.6 113.0,731.6 113.5,732.4 112.8,733.6 112.9,734.5 113.9,735.2 114.9,735.9 114.5,737.0 113.9,738.1 114.1,739.0 115.1,739.8 114.6,740.8 114.6,741.8 114.6,742.8 116.3,743.4 116.5,744.3 115.5,745.5 116.8,746.2 117.0,747.1 117.6,748.0 116.3,749.2 117.0,750.0 117.7,750.9 118.0,751.8 117.1,752.8 118.4,753.6 117.0,754.8 118.7,755.5 116.8,756.7 118.8,757.4 118.9,758.3 118.3,759.4 117.8,760.4 118.5,761.2 118.2,762.2 119.3,763.0 118.1,764.2 119.0,765.0 119.7,765.9 119.2,766.9 118.3,767.8 119.2,768.8 120.0,769.7 118.5,770.6 119.9,771.6 119.2,772.5 119.3,773.4 119.0,774.4 119.8,775.3 118.1,776.2 118.3,777.2 118.9,778.1 119.4,779.1 119.0,780.0 119.0,781.0 119.0,782.0 118.4,782.8 118.0,783.7 117.2,784.4 118.4,785.7 116.3,786.2 116.2,787.1 116.7,788.2 116.4,789.1 117.1,790.3 116.0,791.0 116.0,792.1 115.8,793.1 115.2,793.7 113.6,793.7 114.1,795.1 112.6,795.3 112.0,795.9 112.0,797.0 112.5,797.8 112.4,798.9 112.9,799.7 113.3,800.6 113.7,801.5 114.0,802.4 115.3,802.8 115.0,804.0 114.4,805.3 116.3,805.5 116.8,806.3 117.0,807.2 116.2,808.6 116.2,809.6 116.6,810.5 118.6,810.6 118.5,811.7 118.1,812.9 119.0,813.5 118.1,814.4 117.2,813.7 116.2,813.4 115.3,814.0 114.4,813.9 113.5,813.6 112.6,814.3 111.6,812.6 110.7,813.6 109.8,814.2 108.9,813.5 108.0,813.8 107.0,813.2 106.1,814.5 105.2,813.8 104.3,814.4 103.4,813.3 102.4,813.5 101.5,812.9 100.6,813.2 99.7,813.5 98.8,813.2 97.8,813.9 96.9,813.4 96.0,813.5 96.1,812.5 96.7,811.6 96.9,810.6 96.5,809.3 97.3,808.6 98.4,807.9 97.9,806.6 99.0,806.0 99.3,805.0 100.6,804.6 100.5,803.4 101.5,802.8 101.2,801.4 101.0,800.2 102.4,799.8 103.0,799.0 103.1,797.9 102.1,797.2 101.4,796.5 101.9,795.1 100.5,794.7 101.2,793.2 100.3,792.6 98.8,792.2 99.0,791.0 99.2,790.0 99.0,789.1 98.8,788.2 98.8,787.2 98.1,786.4 98.7,785.3 98.2,784.5 98.5,783.5 98.3,782.6 97.8,781.7 97.5,780.8 96.7,779.9 96.3,779.1 97.0,778.0 97.0,777.1 97.0,776.1 96.7,775.2 97.0,774.2 97.8,773.3 97.8,772.4 97.9,771.4 96.2,770.5 96.4,769.5 97.8,768.6 97.7,767.6 96.4,766.7 97.6,765.8 96.0,764.8 96.8,763.9 97.3,762.9 97.0,762.0 96.9,761.0 98.0,760.2 96.7,759.1 96.6,758.2 97.4,757.3 97.1,756.3 98.2,755.5 98.2,754.6 97.1,753.5 97.3,752.6 97.1,751.6 99.2,750.9 97.7,749.8 97.7,748.9 98.5,748.0 98.2,747.0 98.7,746.1 98.2,745.1 99.6,744.4 99.3,743.4 99.1,742.4 100.6,741.7 99.8,740.6 100.3,739.8 99.7,738.7 100.0,737.8 101.3,737.1 100.5,736.0 100.1,734.9 102.0,734.5 100.9,733.2 100.6,732.1 101.7,731.5 102.9,730.9 102.7,729.8 102.6,728.9 103.0,728.0 102.5,726.7 103.9,726.3 105.3,725.9 105.4,724.9 105.8,724.1 104.7,722.4" fill="#34d4e0" />
<ellipse cx="108.5" cy="800.0" rx="1.60" ry="1.50" fill="#ffffff" />
<ellipse cx="108.6" cy="722.0" rx="0.80" ry="5.00" fill="#f4f8ff" />
<polygon points="106.3,729.0 107.6,729.4 108.4,728.4 109.5,728.0 110.5,728.6 110.8,729.5 110.8,730.5 110.0,731.8 110.2,732.7 111.7,733.2 111.8,734.1 112.0,735.0 112.3,735.9 111.6,737.0 112.7,737.7 113.2,738.6 113.0,739.6 114.2,740.3 113.4,741.4 114.4,742.2 113.2,743.4 114.2,744.1 113.4,745.3 114.5,746.0 114.8,746.9 115.2,747.8 113.8,748.9 114.2,749.8 116.0,750.6 114.1,751.7 114.5,752.6 114.5,753.6 115.3,754.4 115.0,755.4 115.2,756.3 116.0,757.2 116.8,758.0 115.5,759.1 116.0,760.0 115.1,760.9 116.8,761.9 115.6,762.8 116.0,763.8 116.2,764.7 115.6,765.6 115.8,766.6 115.4,767.5 116.1,768.5 116.1,769.4 115.8,770.4 116.5,771.3 115.2,772.2 116.9,773.2 115.3,774.1 116.7,775.1 116.0,776.0 116.5,777.1 114.6,777.6 115.1,778.7 115.6,779.8 114.6,780.5 115.1,781.6 114.1,782.3 114.7,783.4 114.4,784.3 114.7,785.3 113.6,786.1 113.5,787.0 113.5,788.1 112.4,788.5 112.1,789.3 111.1,789.8 111.5,791.1 110.1,791.2 110.7,792.7 109.5,793.0 108.8,791.8 107.2,792.7 106.5,791.5 105.5,791.0 104.4,790.4 105.2,788.9 103.8,788.5 103.1,787.8 103.6,786.4 103.4,785.4 102.6,784.7 102.2,783.8 101.5,783.0 101.8,782.0 102.1,781.0 100.8,780.2 100.3,779.3 101.9,778.2 101.3,777.3 101.2,776.4 101.5,775.4 100.0,774.6 100.9,773.6 100.5,772.7 101.3,771.7 100.6,770.8 100.3,769.9 100.9,768.9 100.0,768.0 100.5,767.1 100.1,766.1 100.6,765.2 99.6,764.2 100.3,763.3 100.0,762.3 100.4,761.4 100.9,760.5 101.1,759.6 100.9,758.6 100.7,757.7 101.1,756.7 100.9,755.8 100.2,754.8 100.6,753.9 99.7,752.9 100.5,752.0 99.9,751.0 100.9,750.2 100.2,749.1 100.2,748.2 100.6,747.3 101.8,746.5 102.3,745.7 100.7,744.5 100.6,743.6 101.0,742.7 102.0,741.9 101.1,740.8 102.0,740.0 101.7,739.0 103.2,738.5 103.2,737.5 102.1,736.2 103.9,735.8 102.8,734.5 103.5,733.8 104.0,733.0 104.8,732.4 105.7,731.8 106.1,731.0 105.5,729.6" fill="#22c030" />
<polygon points="100.0,813.8 100.4,812.8 100.8,811.8 100.8,810.7 102.0,810.0 102.3,809.0 102.8,808.1 103.0,807.0 103.8,806.4 104.8,806.0 105.8,805.6 106.5,804.9 107.1,803.9 108.0,803.5 108.6,804.5 109.8,804.5 110.8,804.8 111.5,805.6 112.2,806.4 113.0,807.0 113.0,808.1 114.0,808.9 114.1,810.0 115.0,810.8 115.7,811.6 115.0,813.1 116.0,813.8 115.0,813.7 114.0,813.8 113.0,813.6 112.0,814.2 111.0,813.3 110.0,814.0 109.0,813.2 108.0,814.2 107.0,813.8 106.0,814.0 105.0,813.7 104.0,814.3 103.0,814.3 102.0,814.0 101.0,814.3" fill="#22c030" />
<polygon points="105.5,736.0 106.3,735.6 107.4,736.2 108.0,734.8 109.0,735.0 109.6,735.8 109.8,736.7 110.4,737.5 110.6,738.4 110.2,739.6 111.0,740.3 112.0,741.0 111.1,742.3 112.0,743.0 112.5,743.9 111.8,744.9 113.0,745.7 112.2,746.7 112.4,747.6 112.5,748.6 112.0,749.6 112.5,750.4 113.3,751.3 113.2,752.2 114.0,753.1 113.2,754.1 113.5,755.0 113.7,755.9 114.2,756.8 113.3,757.8 113.2,758.7 114.3,759.6 113.3,760.6 113.4,761.5 114.3,762.4 113.3,763.4 114.3,764.3 114.5,765.2 113.3,766.2 113.1,767.1 113.8,768.0 113.6,768.9 112.7,769.7 113.2,770.7 112.5,771.5 113.1,772.6 112.9,773.5 112.0,774.2 112.4,775.3 112.4,776.2 111.6,777.0 112.0,778.0 111.0,778.4 110.4,779.0 110.2,780.2 108.8,780.2 108.6,781.3 108.0,782.0 106.9,781.5 106.7,780.3 106.0,779.5 104.8,779.2 104.5,778.0 103.8,777.2 104.4,776.1 104.2,775.2 103.2,774.4 103.8,773.4 103.4,772.5 103.8,771.5 103.6,770.6 102.4,769.8 103.1,768.8 102.1,768.0 102.0,767.0 102.5,766.0 102.1,765.1 103.1,764.1 103.0,763.2 102.7,762.3 102.2,761.3 102.9,760.4 101.8,759.5 102.5,758.5 101.8,757.6 101.8,756.7 103.2,755.7 102.2,754.8 101.9,753.9 102.4,752.9 102.5,752.0 103.2,751.2 102.9,750.2 102.1,749.2 102.7,748.4 103.7,747.5 102.9,746.5 103.1,745.6 103.4,744.7 104.0,743.9 103.9,743.0 103.5,742.0 103.5,741.0 104.3,740.4 104.4,739.4 104.2,738.4 104.3,737.5 104.8,736.7" fill="#e8e000" />
<polygon points="105.5,743.0 106.7,743.0 107.6,742.1 108.8,742.0 109.3,742.8 108.9,743.9 110.0,744.5 109.8,745.5 110.0,746.5 110.1,747.4 110.9,748.1 110.6,749.2 111.0,750.0 111.1,750.9 110.7,751.9 111.8,752.7 110.8,753.7 111.8,754.5 111.1,755.5 111.6,756.4 111.3,757.4 112.1,758.2 112.0,759.1 112.4,760.0 112.0,761.0 111.6,761.9 111.9,762.8 112.2,763.7 112.2,764.7 112.3,765.6 112.1,766.5 111.6,767.4 111.7,768.3 111.3,769.2 112.1,770.1 111.5,771.0 110.6,771.6 109.8,772.3 109.5,773.2 108.9,774.0 108.5,775.0 108.0,774.0 106.7,773.8 106.2,772.8 105.5,772.0 104.9,771.2 105.5,770.1 105.1,769.3 104.4,768.5 104.7,767.5 104.9,766.5 104.5,765.7 103.9,764.9 104.7,763.8 104.0,763.0 103.5,762.1 104.4,761.2 104.6,760.2 104.3,759.3 104.5,758.4 104.0,757.5 103.7,756.5 104.0,755.6 104.3,754.7 104.3,753.8 103.9,752.8 104.5,751.9 104.0,751.0 103.6,750.0 104.3,749.2 104.0,748.2 104.5,747.4 105.4,746.7 104.5,745.6 105.7,744.9 105.8,744.0" fill="#e08a20" />
<polygon points="106.0,747.0 107.4,746.8 108.5,746.0 109.1,746.9 108.6,748.1 109.0,749.1 109.8,749.9 109.9,751.0 110.5,751.9 110.3,753.0 110.7,754.0 110.3,755.0 110.2,756.0 110.9,757.0 110.5,758.0 110.8,759.0 110.7,760.0 110.5,761.0 111.2,762.0 111.0,763.0 111.1,764.1 110.6,765.0 109.9,765.9 110.2,767.0 109.6,767.9 110.0,769.1 109.5,770.0 108.2,770.3 107.0,771.0 107.1,769.9 106.4,769.0 106.0,768.1 105.6,767.1 105.4,766.1 105.3,765.0 105.3,764.0 105.4,763.0 105.7,762.0 105.0,761.0 105.7,760.0 104.9,759.0 105.2,758.0 105.5,757.0 105.6,756.0 105.6,755.0 105.2,754.0 105.8,753.1 105.0,752.0 105.9,751.0 105.2,749.9 105.7,749.0 105.8,748.0" fill="#b86018" />
<polygon points="106.8,752.0 107.7,751.2 108.8,751.0 109.1,752.0 109.4,753.0 109.4,754.0 109.2,755.0 109.8,756.0 109.8,757.0 109.8,758.0 110.0,759.0 109.4,760.0 109.7,761.0 109.8,762.0 109.7,763.0 109.4,764.0 109.6,765.0 108.9,766.1 108.0,767.0 107.9,765.9 107.3,765.0 106.9,764.1 107.1,762.9 106.5,762.0 106.1,761.0 106.8,760.0 106.3,759.0 106.6,758.0 106.3,757.0 106.3,756.0 106.1,755.0 106.2,754.0 106.4,753.0" fill="#a03818" />
<ellipse cx="108.6" cy="701.5" rx="1.10" ry="1.10" fill="#22c030" />
<ellipse cx="106.5" cy="706.0" rx="1.30" ry="1.30" fill="#2222c8" />
<ellipse cx="108.0" cy="711.0" rx="1.00" ry="1.00" fill="#34d4e0" />
<ellipse cx="104.0" cy="716.0" rx="0.90" ry="0.90" fill="#2222c8" />
<ellipse cx="112.0" cy="717.0" rx="0.80" ry="0.80" fill="#34d4e0" />
<ellipse cx="61.5" cy="812.3" rx="0.58" ry="0.89" fill="#ff50ff" />
<ellipse cx="77.3" cy="811.7" rx="0.51" ry="0.91" fill="#ff50ff" />
<ellipse cx="77.1" cy="812.2" rx="0.70" ry="1.00" fill="#2222c8" />
<ellipse cx="59.1" cy="811.7" rx="0.89" ry="0.75" fill="#2222c8" />
<ellipse cx="96.1" cy="812.3" rx="0.87" ry="1.35" fill="#2222c8" />
<ellipse cx="95.6" cy="812.6" rx="0.81" ry="0.80" fill="#ff50ff" />
<ellipse cx="67.2" cy="812.0" rx="0.85" ry="0.91" fill="#2222c8" />
<ellipse cx="57.9" cy="812.8" rx="0.85" ry="1.47" fill="#2222c8" />
<ellipse cx="61.6" cy="812.0" rx="0.97" ry="1.11" fill="#2222c8" />
<ellipse cx="89.8" cy="811.6" rx="0.90" ry="1.60" fill="#ff50ff" />
<ellipse cx="77.6" cy="813.8" rx="0.82" ry="0.67" fill="#2222c8" />
<ellipse cx="91.7" cy="813.7" rx="0.71" ry="0.58" fill="#ff50ff" />
<ellipse cx="136.1" cy="812.7" rx="0.78" ry="0.92" fill="#2222c8" />
<ellipse cx="146.8" cy="812.4" rx="0.72" ry="1.24" fill="#2222c8" />
<ellipse cx="163.5" cy="811.6" rx="0.60" ry="0.56" fill="#ff50ff" />
<ellipse cx="150.5" cy="813.7" rx="0.59" ry="0.83" fill="#2222c8" />
<ellipse cx="150.9" cy="813.7" rx="0.61" ry="0.68" fill="#ff50ff" />
<ellipse cx="152.0" cy="813.2" rx="0.56" ry="0.61" fill="#2222c8" />
<ellipse cx="140.1" cy="812.8" rx="0.63" ry="0.65" fill="#ff50ff" />
<ellipse cx="145.4" cy="812.4" rx="0.80" ry="0.80" fill="#2222c8" />
<polygon points="50.0,813.9 167.5,813.9 167.5,815.0 50.0,815.0" fill="#6a8a10" />
<polygon points="50.0,815.0 167.5,815.0 167.5,818.0 50.0,818.0" fill="#e05020" />
</g>
</g>
<g clip-path="url(#cl51)">
<g filter="url(#soft)">
<ellipse cx="273.7" cy="735.7" rx="0.82" ry="1.01" fill="#ffffff" stroke="#2222c8" stroke-width="0.7"/>
<ellipse cx="261.9" cy="755.9" rx="0.94" ry="0.94" fill="#a0d8ff" stroke="#1a1aa8" stroke-width="0.7"/>
<ellipse cx="280.8" cy="714.4" rx="0.87" ry="1.19" fill="#2222c8" stroke="#2222c8" stroke-width="0.7"/>
<ellipse cx="281.8" cy="774.5" rx="0.82" ry="0.91" fill="#ffffff" stroke="#1a1aa8" stroke-width="0.7"/>
<ellipse cx="269.7" cy="776.7" rx="0.69" ry="1.04" fill="#2222c8" stroke="#2222c8" stroke-width="0.7"/>
<ellipse cx="271.8" cy="745.3" rx="0.98" ry="1.42" fill="#a0d8ff" stroke="#20a8b8" stroke-width="0.7"/>
<ellipse cx="266.6" cy="762.1" rx="0.71" ry="0.86" fill="#ffffff" stroke="#2222c8" stroke-width="0.7"/>
<ellipse cx="259.0" cy="733.3" rx="0.72" ry="0.84" fill="#ffffff" stroke="#2222c8" stroke-width="0.7"/>
<ellipse cx="272.3" cy="714.8" rx="0.65" ry="0.89" fill="#a0d8ff" stroke="#1a1aa8" stroke-width="0.7"/>
<ellipse cx="285.1" cy="697.3" rx="0.76" ry="0.83" fill="#a0d8ff" stroke="#2222c8" stroke-width="0.7"/>
<ellipse cx="269.8" cy="697.3" rx="0.74" ry="1.15" fill="#a0d8ff" stroke="#2222c8" stroke-width="0.7"/>
<ellipse cx="286.8" cy="732.7" rx="0.64" ry="1.00" fill="#a0d8ff" stroke="#2222c8" stroke-width="0.7"/>
<ellipse cx="284.0" cy="702.9" rx="0.81" ry="1.13" fill="#2222c8" stroke="#20a8b8" stroke-width="0.7"/>
<ellipse cx="263.3" cy="772.6" rx="0.95" ry="1.28" fill="#a0d8ff" stroke="#2222c8" stroke-width="0.7"/>
<ellipse cx="284.9" cy="777.5" rx="0.80" ry="0.96" fill="#a0d8ff" stroke="#2222c8" stroke-width="0.7"/>
<ellipse cx="285.4" cy="776.3" rx="0.97" ry="1.51" fill="#2222c8" stroke="#20a8b8" stroke-width="0.7"/>
<ellipse cx="282.4" cy="763.7" rx="0.66" ry="1.00" fill="#2222c8" stroke="#2222c8" stroke-width="0.7"/>
<ellipse cx="258.4" cy="760.1" rx="0.70" ry="1.09" fill="#2222c8" stroke="#2222c8" stroke-width="0.7"/>
<ellipse cx="282.4" cy="741.2" rx="0.66" ry="0.84" fill="#ffffff" stroke="#2222c8" stroke-width="0.7"/>
<ellipse cx="289.9" cy="730.7" rx="0.74" ry="1.10" fill="#ffffff" stroke="#2222c8" stroke-width="0.7"/>
<ellipse cx="264.7" cy="760.9" rx="0.90" ry="0.96" fill="#a0d8ff" stroke="#20a8b8" stroke-width="0.7"/>
<ellipse cx="273.2" cy="733.8" rx="0.63" ry="0.68" fill="#a0d8ff" stroke="#2222c8" stroke-width="0.7"/>
<ellipse cx="274.2" cy="755.0" rx="0.65" ry="1.02" fill="#2222c8" stroke="#2222c8" stroke-width="0.7"/>
<ellipse cx="277.5" cy="732.5" rx="0.78" ry="1.21" fill="#a0d8ff" stroke="#2222c8" stroke-width="0.7"/>
<ellipse cx="279.4" cy="738.9" rx="0.62" ry="0.70" fill="#a0d8ff" stroke="#20a8b8" stroke-width="0.7"/>
<ellipse cx="271.1" cy="734.7" rx="0.69" ry="1.09" fill="#2222c8" stroke="#2222c8" stroke-width="0.7"/>
<ellipse cx="283.3" cy="763.4" rx="0.78" ry="0.92" fill="#ffffff" stroke="#1a1aa8" stroke-width="0.7"/>
<ellipse cx="268.9" cy="755.5" rx="0.71" ry="0.80" fill="#a0d8ff" stroke="#2222c8" stroke-width="0.7"/>
<ellipse cx="257.1" cy="723.5" rx="0.95" ry="1.09" fill="#2222c8" stroke="#2222c8" stroke-width="0.7"/>
<ellipse cx="272.2" cy="782.8" rx="0.85" ry="0.99" fill="#ffffff" stroke="#2222c8" stroke-width="0.7"/>
<ellipse cx="240.0" cy="729.3" rx="0.94" ry="1.54" fill="#34d4e0" stroke="#20a8b8" stroke-width="0.8"/>
<ellipse cx="239.7" cy="708.4" rx="0.94" ry="1.79" fill="#60d040" stroke="#20a8b8" stroke-width="0.8"/>
<ellipse cx="237.2" cy="701.1" rx="1.32" ry="1.61" fill="#22c030" stroke="#2222c8" stroke-width="0.8"/>
<ellipse cx="238.3" cy="730.0" rx="1.12" ry="1.53" fill="#34d4e0" stroke="#2222c8" stroke-width="0.8"/>
<ellipse cx="239.0" cy="697.3" rx="1.60" ry="1.20" fill="#22c030" stroke="#2222c8" stroke-width="0.8"/>
<ellipse cx="240.4" cy="699.5" rx="1.25" ry="1.89" fill="#34d4e0" stroke="#20a8b8" stroke-width="0.8"/>
<ellipse cx="238.5" cy="696.1" rx="1.36" ry="1.67" fill="#22c030" stroke="#20a8b8" stroke-width="0.8"/>
<ellipse cx="240.6" cy="757.6" rx="1.47" ry="1.53" fill="#22c030" stroke="#20a8b8" stroke-width="0.8"/>
<ellipse cx="242.4" cy="724.8" rx="1.56" ry="2.23" fill="#60d040" stroke="#20a8b8" stroke-width="0.8"/>
<ellipse cx="243.9" cy="717.9" rx="1.45" ry="1.24" fill="#22c030" stroke="#2222c8" stroke-width="0.8"/>
<ellipse cx="239.3" cy="727.2" rx="1.17" ry="1.25" fill="#34d4e0" stroke="#2222c8" stroke-width="0.8"/>
<ellipse cx="241.5" cy="708.6" rx="1.27" ry="2.29" fill="#22c030" stroke="#2222c8" stroke-width="0.8"/>
<ellipse cx="238.5" cy="789.6" rx="1.26" ry="2.10" fill="#22c030" stroke="#20a8b8" stroke-width="0.8"/>
<ellipse cx="243.7" cy="791.6" rx="1.17" ry="1.87" fill="#34d4e0" stroke="#2222c8" stroke-width="0.8"/>
<ellipse cx="241.0" cy="775.7" rx="0.97" ry="1.86" fill="#60d040" stroke="#20a8b8" stroke-width="0.8"/>
<ellipse cx="239.1" cy="769.7" rx="0.94" ry="1.78" fill="#22c030" stroke="#20a8b8" stroke-width="0.8"/>
<ellipse cx="242.6" cy="730.0" rx="1.56" ry="2.06" fill="#34d4e0" stroke="#20a8b8" stroke-width="0.8"/>
<ellipse cx="242.0" cy="773.2" rx="1.37" ry="1.23" fill="#60d040" stroke="#20a8b8" stroke-width="0.8"/>
<ellipse cx="238.8" cy="789.8" rx="1.21" ry="2.29" fill="#22c030" stroke="#20a8b8" stroke-width="0.8"/>
<ellipse cx="242.2" cy="782.5" rx="1.19" ry="2.34" fill="#22c030" stroke="#20a8b8" stroke-width="0.8"/>
<ellipse cx="243.1" cy="777.9" rx="1.68" ry="1.91" fill="#60d040" stroke="#20a8b8" stroke-width="0.8"/>
<ellipse cx="241.4" cy="699.7" rx="0.92" ry="1.49" fill="#60d040" stroke="#20a8b8" stroke-width="0.8"/>
<ellipse cx="239.6" cy="754.7" rx="1.36" ry="1.75" fill="#22c030" stroke="#2222c8" stroke-width="0.8"/>
<ellipse cx="242.8" cy="754.0" rx="1.05" ry="1.96" fill="#34d4e0" stroke="#2222c8" stroke-width="0.8"/>
<ellipse cx="237.9" cy="709.5" rx="1.20" ry="1.94" fill="#22c030" stroke="#2222c8" stroke-width="0.8"/>
<ellipse cx="237.7" cy="715.2" rx="1.05" ry="2.07" fill="#22c030" stroke="#20a8b8" stroke-width="0.8"/>
<ellipse cx="242.7" cy="733.0" rx="0.96" ry="1.32" fill="#22c030" stroke="#20a8b8" stroke-width="0.8"/>
<ellipse cx="239.6" cy="735.9" rx="1.68" ry="2.10" fill="#60d040" stroke="#20a8b8" stroke-width="0.8"/>
<ellipse cx="239.9" cy="719.3" rx="1.09" ry="1.35" fill="#22c030" stroke="#2222c8" stroke-width="0.8"/>
<ellipse cx="239.2" cy="726.6" rx="1.19" ry="1.76" fill="#22c030" stroke="#20a8b8" stroke-width="0.8"/>
<ellipse cx="240.3" cy="771.6" rx="1.60" ry="2.27" fill="#60d040" stroke="#20a8b8" stroke-width="0.8"/>
<ellipse cx="241.7" cy="750.9" rx="1.11" ry="2.29" fill="#22c030" stroke="#2222c8" stroke-width="0.8"/>
<ellipse cx="243.3" cy="762.2" rx="1.62" ry="1.26" fill="#60d040" stroke="#20a8b8" stroke-width="0.8"/>
<ellipse cx="244.2" cy="764.2" rx="1.22" ry="1.72" fill="#34d4e0" stroke="#20a8b8" stroke-width="0.8"/>
<ellipse cx="242.3" cy="700.0" rx="1.20" ry="1.56" fill="#34d4e0" stroke="#2222c8" stroke-width="0.8"/>
<ellipse cx="244.0" cy="790.9" rx="1.31" ry="1.72" fill="#22c030" stroke="#20a8b8" stroke-width="0.8"/>
<ellipse cx="238.4" cy="699.9" rx="1.17" ry="1.56" fill="#34d4e0" stroke="#20a8b8" stroke-width="0.8"/>
<ellipse cx="237.1" cy="717.9" rx="1.52" ry="1.38" fill="#22c030" stroke="#20a8b8" stroke-width="0.8"/>
<ellipse cx="244.1" cy="752.0" rx="1.58" ry="1.36" fill="#22c030" stroke="#2222c8" stroke-width="0.8"/>
<ellipse cx="242.6" cy="713.5" rx="1.22" ry="1.74" fill="#22c030" stroke="#2222c8" stroke-width="0.8"/>
<ellipse cx="239.9" cy="721.1" rx="0.97" ry="1.23" fill="#22c030" stroke="#20a8b8" stroke-width="0.8"/>
<ellipse cx="242.0" cy="784.9" rx="1.58" ry="1.93" fill="#60d040" stroke="#20a8b8" stroke-width="0.8"/>
<ellipse cx="241.8" cy="732.8" rx="1.63" ry="2.06" fill="#60d040" stroke="#20a8b8" stroke-width="0.8"/>
<ellipse cx="242.3" cy="715.8" rx="1.00" ry="1.99" fill="#22c030" stroke="#20a8b8" stroke-width="0.8"/>
<ellipse cx="243.7" cy="727.1" rx="1.06" ry="1.68" fill="#34d4e0" stroke="#2222c8" stroke-width="0.8"/>
<ellipse cx="242.6" cy="762.8" rx="1.64" ry="1.53" fill="#22c030" stroke="#2222c8" stroke-width="0.8"/>
<ellipse cx="253.7" cy="719.8" rx="0.85" ry="1.28" fill="#20a8b8" stroke="#20a8b8" stroke-width="0.8"/>
<ellipse cx="250.5" cy="744.8" rx="1.08" ry="1.37" fill="#ffffff" stroke="#20a8b8" stroke-width="0.8"/>
<ellipse cx="253.3" cy="749.2" rx="1.10" ry="2.02" fill="#20a8b8" stroke="#2222c8" stroke-width="0.8"/>
<ellipse cx="250.0" cy="699.9" rx="0.86" ry="2.11" fill="#34d4e0" stroke="#1a1aa8" stroke-width="0.8"/>
<ellipse cx="255.4" cy="717.1" rx="1.03" ry="1.36" fill="#34d4e0" stroke="#1a1aa8" stroke-width="0.8"/>
<ellipse cx="253.9" cy="721.0" rx="1.18" ry="1.90" fill="#ffffff" stroke="#2222c8" stroke-width="0.8"/>
<ellipse cx="256.8" cy="728.0" rx="1.40" ry="1.67" fill="#20a8b8" stroke="#1a1aa8" stroke-width="0.8"/>
<ellipse cx="252.3" cy="700.4" rx="0.84" ry="1.63" fill="#ffffff" stroke="#2222c8" stroke-width="0.8"/>
<ellipse cx="251.5" cy="743.0" rx="1.29" ry="1.21" fill="#20a8b8" stroke="#20a8b8" stroke-width="0.8"/>
<ellipse cx="253.7" cy="728.4" rx="1.46" ry="1.47" fill="#ffffff" stroke="#2222c8" stroke-width="0.8"/>
<ellipse cx="251.9" cy="724.5" rx="1.49" ry="2.01" fill="#20a8b8" stroke="#2222c8" stroke-width="0.8"/>
<ellipse cx="250.7" cy="736.0" rx="1.15" ry="1.55" fill="#20a8b8" stroke="#2222c8" stroke-width="0.8"/>
<ellipse cx="253.8" cy="701.0" rx="1.06" ry="1.20" fill="#ffffff" stroke="#1a1aa8" stroke-width="0.8"/>
<ellipse cx="253.3" cy="754.0" rx="1.01" ry="2.28" fill="#34d4e0" stroke="#20a8b8" stroke-width="0.8"/>
<ellipse cx="257.0" cy="744.0" rx="1.80" ry="3.50" fill="#20a8b8" stroke="#2222c8" stroke-width="1.0"/>
<ellipse cx="258.5" cy="751.0" rx="1.50" ry="3.00" fill="#20a8b8" stroke="#2222c8" stroke-width="1.0"/>
<ellipse cx="244.0" cy="772.0" rx="1.50" ry="3.00" fill="#20a8b8" stroke="#2222c8" stroke-width="1.0"/>
<ellipse cx="248.0" cy="779.0" rx="1.20" ry="2.50" fill="#20a8b8" stroke="#2222c8" stroke-width="1.0"/>
<ellipse cx="258.0" cy="695.0" rx="1.00" ry="1.50" fill="#ff50ff" />
<ellipse cx="262.0" cy="703.0" rx="1.00" ry="1.20" fill="#ff50ff" />
<ellipse cx="247.0" cy="760.0" rx="0.80" ry="1.20" fill="#ff50ff" />
<ellipse cx="266.0" cy="770.0" rx="0.80" ry="1.50" fill="#ff50ff" />
<ellipse cx="288.0" cy="790.0" rx="1.00" ry="1.50" fill="#ff50ff" />
<ellipse cx="283.0" cy="788.0" rx="1.00" ry="1.20" fill="#ff50ff" />
<polygon points="242.0,798.0 241.1,796.8 242.3,796.0 242.5,795.0 244.1,794.2 243.8,793.2 243.0,792.0 244.3,791.4 244.7,790.3 243.9,788.5 246.5,788.6 246.0,787.0 246.6,786.1 247.7,785.7 247.4,783.9 249.0,784.0 250.3,784.2 250.4,786.2 252.0,786.0 253.5,785.5 254.6,785.9 255.2,787.0 256.0,788.0 257.1,787.8 258.0,788.5 259.0,788.7 260.0,789.0 261.2,788.3 262.3,787.9 263.1,789.2 264.1,789.2 265.0,790.0 266.0,790.3 267.0,790.6 267.9,791.2 269.0,790.6 270.0,791.0 271.0,790.6 272.0,791.2 273.1,791.9 274.0,791.1 275.0,790.5 276.4,789.4 277.2,790.5 277.6,792.7 278.6,793.0 280.0,792.0 280.9,791.2 281.8,790.8 282.7,789.9 283.8,790.1 285.0,791.0 285.8,789.6 287.2,792.1 288.2,791.8 288.9,789.9 289.8,788.8 291.0,790.0 289.8,791.0 290.6,792.0 289.8,793.0 291.6,794.0 289.9,795.0 290.1,796.0 290.5,797.0 290.5,798.0 290.4,799.0 291.1,800.0 289.6,801.0 292.2,802.0 291.3,803.0 291.4,804.0 291.0,805.0 290.0,806.0 292.3,807.0 291.3,808.0 291.2,809.0 291.4,810.0 290.7,811.0 290.4,812.0 290.6,813.0 291.0,814.0 291.0,815.0 290.0,815.4 289.0,813.5 288.0,814.1 287.0,814.5 285.9,816.3 284.9,815.3 283.9,814.4 282.9,815.9 281.9,815.2 280.9,815.2 279.9,816.1 278.9,814.0 277.9,813.8 276.9,815.7 275.8,816.0 274.8,815.7 273.8,814.4 272.8,815.8 271.8,814.3 270.8,813.8 269.8,816.2 268.8,814.4 267.8,814.4 266.8,814.6 265.7,814.5 264.7,815.6 263.7,816.1 262.7,813.8 261.7,815.9 260.7,813.8 259.7,814.1 258.7,815.3 257.7,815.0 256.7,815.6 255.6,815.8 254.6,814.1 253.6,816.3 252.6,815.9 251.6,813.6 250.6,815.4 249.6,814.7 248.6,814.6 247.6,814.4 246.6,814.0 245.5,814.1 244.5,815.6 243.5,815.5 242.5,813.5 241.5,815.0 242.8,814.0 241.3,813.0 240.9,812.0 241.3,811.0 242.6,810.0 240.9,809.0 240.3,808.0 240.6,807.0 240.9,806.0 243.0,805.0 240.8,804.0 240.8,803.0 242.6,802.0 243.1,801.0 243.4,800.0 243.2,799.0" fill="#ff50ff" />
<polygon points="241.5,815.0 241.5,814.0 243.1,813.1 239.8,811.9 241.1,811.0 239.7,809.9 242.4,809.0 240.4,808.0 240.9,807.0 243.2,806.0 239.9,804.9 240.3,803.9 241.0,803.0 243.3,802.0 241.9,801.0 242.0,800.0 242.7,799.1 244.1,798.3 241.3,796.8 242.4,796.0 241.4,794.8 243.0,794.0 244.7,793.6 242.4,790.9 245.8,791.6 244.8,789.7 246.0,789.0 247.0,788.5 246.5,786.5 249.6,788.1 249.0,786.0 250.4,786.0 251.1,787.2 252.0,788.0 252.1,790.2 253.8,789.4 255.4,788.8 256.0,790.0 257.3,789.1 257.6,792.3 258.8,791.7 260.0,791.0 260.9,791.8 262.0,791.6 262.6,793.4 264.3,790.2 265.0,792.0 266.1,791.6 266.7,793.7 267.9,793.3 268.9,793.3 270.0,793.0 271.1,793.6 272.0,792.7 273.0,793.0 274.0,792.3 275.0,792.5 275.4,794.7 277.3,792.1 278.3,792.4 279.2,792.9 280.0,794.0 280.7,792.3 282.1,794.1 283.1,793.7 283.6,791.3 285.0,793.0 285.8,791.8 287.3,794.3 287.8,791.5 289.1,793.1 289.9,791.8 291.0,792.0 292.5,793.0 288.9,794.0 290.4,795.0 292.1,796.0 290.7,797.0 291.9,798.0 289.7,799.0 293.1,800.0 291.3,801.0 290.4,802.0 290.0,803.0 292.7,804.0 293.0,805.0 291.2,806.0 290.6,807.0 291.2,808.0 292.9,809.0 292.0,810.0 290.1,811.0 290.9,812.0 289.0,813.0 293.0,814.0 291.0,815.0 290.0,814.5 289.0,814.6 288.0,815.2 287.0,816.9 285.9,815.5 284.9,815.8 283.9,816.5 282.9,813.5 281.9,816.8 280.9,817.0 279.9,813.2 278.9,813.0 277.9,814.4 276.9,815.0 275.8,814.1 274.8,817.0 273.8,816.1 272.8,815.0 271.8,816.7 270.8,813.3 269.8,814.6 268.8,816.2 267.8,814.5 266.8,813.5 265.7,814.3 264.7,813.3 263.7,813.8 262.7,814.8 261.7,813.2 260.7,813.3 259.7,815.9 258.7,816.3 257.7,816.5 256.7,814.1 255.6,813.6 254.6,814.8 253.6,812.8 252.6,815.7 251.6,816.2 250.6,815.6 249.6,814.2 248.6,815.2 247.6,813.1 246.6,815.6 245.5,813.4 244.5,814.1 243.5,814.9 242.5,812.9" fill="#2222c8" />
<polygon points="251.0,815.0 250.7,814.0 250.1,812.9 252.7,812.1 251.8,811.0 251.6,810.0 252.3,809.1 252.9,808.1 252.4,807.1 250.5,805.9 253.7,805.2 252.0,804.0 252.0,802.3 252.9,801.7 253.8,801.1 255.1,801.1 256.5,801.1 257.0,800.0 258.2,798.9 259.2,799.1 260.0,800.3 260.8,801.9 262.2,799.1 262.8,802.3 264.0,801.0 264.6,799.7 266.5,801.4 266.6,798.8 268.6,800.7 269.7,800.5 270.7,800.0 271.0,798.0 271.9,798.8 272.6,800.1 273.8,799.7 275.4,797.3 276.0,799.2 277.1,799.1 278.1,799.3 279.0,800.0 280.0,799.6 281.0,799.1 281.8,798.3 282.5,797.1 283.9,797.6 284.7,796.8 286.0,797.0 287.0,798.3 288.0,795.3 289.0,795.7 290.0,797.2 291.0,797.0 292.5,798.0 291.8,799.0 290.3,800.0 289.3,801.0 291.5,802.0 292.7,803.0 291.1,804.0 291.5,805.0 291.6,806.0 290.6,807.0 291.4,808.0 291.6,809.0 290.3,810.0 290.9,811.0 290.7,812.0 291.6,813.0 291.1,814.0 291.0,815.0 290.0,814.5 289.0,813.3 288.0,813.9 287.0,813.5 286.0,813.8 285.0,816.7 284.0,815.6 283.0,815.9 282.0,815.2 281.0,814.0 280.0,814.3 279.0,816.5 278.0,816.6 277.0,815.7 276.0,816.7 275.0,814.8 274.0,816.1 273.0,813.2 272.0,814.4 271.0,814.1 270.0,815.2 269.0,815.1 268.0,816.3 267.0,815.4 266.0,813.3 265.0,813.3 264.0,814.2 263.0,814.4 262.0,816.3 261.0,813.2 260.0,813.6 259.0,815.7 258.0,814.6 257.0,815.8 256.0,813.6 255.0,815.8 254.0,813.6 253.0,813.5 252.0,816.1" fill="#34d4e0" />
<ellipse cx="280.0" cy="812.6" rx="1.04" ry="1.04" fill="#20a8b8" />
<ellipse cx="284.2" cy="805.4" rx="1.85" ry="3.25" fill="#20a8b8" />
<ellipse cx="275.0" cy="806.7" rx="1.76" ry="2.22" fill="#22c030" />
<ellipse cx="266.3" cy="812.3" rx="1.33" ry="1.62" fill="#22c030" />
<ellipse cx="251.8" cy="811.0" rx="1.15" ry="1.72" fill="#20a8b8" />
<ellipse cx="272.0" cy="798.2" rx="1.20" ry="1.71" fill="#20a8b8" />
<ellipse cx="278.8" cy="802.3" rx="1.91" ry="2.10" fill="#34d4e0" />
<ellipse cx="281.2" cy="813.8" rx="1.73" ry="2.56" fill="#50e8f0" />
<ellipse cx="286.2" cy="807.5" rx="1.93" ry="2.23" fill="#50e8f0" />
<ellipse cx="263.1" cy="803.9" rx="1.31" ry="2.56" fill="#22c030" />
<ellipse cx="267.3" cy="806.9" rx="1.65" ry="2.68" fill="#34d4e0" />
<ellipse cx="250.5" cy="811.6" rx="1.59" ry="3.07" fill="#50e8f0" />
<ellipse cx="267.9" cy="808.3" rx="1.38" ry="2.28" fill="#20a8b8" />
<ellipse cx="264.5" cy="808.6" rx="1.35" ry="1.72" fill="#34d4e0" />
<ellipse cx="282.5" cy="802.6" rx="1.35" ry="2.58" fill="#20a8b8" />
<ellipse cx="274.2" cy="807.1" rx="1.22" ry="2.09" fill="#22c030" />
<ellipse cx="273.5" cy="802.3" rx="1.76" ry="2.97" fill="#20a8b8" />
<ellipse cx="254.4" cy="801.5" rx="1.72" ry="2.02" fill="#22c030" />
<ellipse cx="284.3" cy="805.0" rx="1.82" ry="2.05" fill="#34d4e0" />
<ellipse cx="290.3" cy="806.8" rx="1.13" ry="1.40" fill="#20a8b8" />
<ellipse cx="267.6" cy="803.5" rx="1.04" ry="1.07" fill="#22c030" />
<ellipse cx="254.5" cy="803.8" rx="1.67" ry="2.27" fill="#34d4e0" />
<ellipse cx="288.0" cy="805.4" rx="1.00" ry="1.74" fill="#34d4e0" />
<ellipse cx="264.0" cy="813.9" rx="1.68" ry="3.23" fill="#20a8b8" />
<ellipse cx="274.3" cy="803.6" rx="1.93" ry="2.16" fill="#34d4e0" />
<ellipse cx="268.6" cy="803.3" rx="1.79" ry="2.74" fill="#20a8b8" />
<ellipse cx="254.7" cy="802.9" rx="1.31" ry="1.60" fill="#50e8f0" />
<ellipse cx="286.6" cy="803.0" rx="1.93" ry="3.28" fill="#20a8b8" />
<ellipse cx="278.6" cy="813.1" rx="1.48" ry="2.53" fill="#20a8b8" />
<ellipse cx="251.8" cy="813.1" rx="1.76" ry="1.91" fill="#34d4e0" />
<ellipse cx="276.5" cy="813.5" rx="1.51" ry="1.64" fill="#22c030" />
<ellipse cx="260.2" cy="808.3" rx="1.36" ry="2.71" fill="#22c030" />
<ellipse cx="271.9" cy="804.2" rx="1.57" ry="2.82" fill="#20a8b8" />
<ellipse cx="264.4" cy="803.9" rx="1.01" ry="1.83" fill="#34d4e0" />
<ellipse cx="279.1" cy="803.8" rx="1.39" ry="2.72" fill="#22c030" />
<ellipse cx="287.2" cy="810.1" rx="1.39" ry="2.54" fill="#34d4e0" />
<ellipse cx="268.1" cy="802.9" rx="1.84" ry="3.05" fill="#50e8f0" />
<ellipse cx="254.0" cy="809.7" rx="1.74" ry="2.73" fill="#50e8f0" />
<ellipse cx="290.3" cy="813.8" rx="1.98" ry="3.87" fill="#20a8b8" />
<ellipse cx="256.4" cy="807.0" rx="1.29" ry="1.87" fill="#50e8f0" />
<ellipse cx="246.8" cy="805.5" rx="1.02" ry="1.94" fill="#40c860" />
<ellipse cx="247.2" cy="809.1" rx="1.83" ry="2.47" fill="#40c860" />
<ellipse cx="255.9" cy="803.8" rx="1.83" ry="2.24" fill="#2222c8" />
<ellipse cx="254.6" cy="794.6" rx="1.65" ry="1.77" fill="#2222c8" />
<ellipse cx="254.8" cy="802.0" rx="1.92" ry="3.23" fill="#40c860" />
<ellipse cx="245.4" cy="807.1" rx="1.02" ry="1.99" fill="#22c030" />
<ellipse cx="250.3" cy="795.2" rx="1.81" ry="3.03" fill="#40c860" />
<ellipse cx="243.8" cy="810.9" rx="1.68" ry="3.29" fill="#40c860" />
<ellipse cx="246.0" cy="795.8" rx="1.37" ry="2.42" fill="#40c860" />
<ellipse cx="247.7" cy="806.5" rx="1.95" ry="2.29" fill="#20a8b8" />
<ellipse cx="245.8" cy="801.9" rx="1.07" ry="1.87" fill="#20a8b8" />
<ellipse cx="246.8" cy="796.0" rx="1.61" ry="1.65" fill="#2222c8" />
<ellipse cx="245.6" cy="813.3" rx="1.04" ry="2.07" fill="#20a8b8" />
<ellipse cx="250.0" cy="796.0" rx="1.19" ry="1.66" fill="#22c030" />
<ellipse cx="245.9" cy="803.3" rx="1.48" ry="2.92" fill="#20a8b8" />
<ellipse cx="247.3" cy="807.9" rx="1.38" ry="1.99" fill="#20a8b8" />
<ellipse cx="254.7" cy="806.4" rx="1.14" ry="1.94" fill="#2222c8" />
<ellipse cx="248.6" cy="798.9" rx="1.65" ry="2.22" fill="#2222c8" />
<ellipse cx="245.7" cy="806.9" rx="1.41" ry="1.64" fill="#2222c8" />
<ellipse cx="249.2" cy="799.5" rx="1.86" ry="2.98" fill="#20a8b8" />
<ellipse cx="245.4" cy="805.3" rx="1.93" ry="1.97" fill="#40c860" />
<ellipse cx="257.9" cy="801.1" rx="1.00" ry="1.02" fill="#2222c8" />
<ellipse cx="247.9" cy="804.1" rx="0.98" ry="1.00" fill="#22c030" />
<ellipse cx="246.0" cy="813.4" rx="1.87" ry="2.38" fill="#22c030" />
<ellipse cx="243.4" cy="796.7" rx="1.32" ry="1.51" fill="#40c860" />
<ellipse cx="248.8" cy="807.8" rx="1.23" ry="1.62" fill="#40c860" />
<ellipse cx="256.9" cy="799.5" rx="1.02" ry="2.00" fill="#40c860" />
<ellipse cx="251.8" cy="794.4" rx="1.75" ry="3.36" fill="#40c860" />
<ellipse cx="245.1" cy="797.5" rx="1.18" ry="1.95" fill="#2222c8" />
<ellipse cx="250.4" cy="800.1" rx="1.69" ry="2.65" fill="#2222c8" />
<ellipse cx="284.3" cy="801.2" rx="0.71" ry="0.76" fill="#1a1aa8" />
<ellipse cx="283.7" cy="806.2" rx="0.77" ry="1.44" fill="#2222c8" />
<ellipse cx="289.6" cy="802.1" rx="0.70" ry="1.24" fill="#2222c8" />
<ellipse cx="286.0" cy="799.7" rx="0.90" ry="0.98" fill="#1a1aa8" />
<ellipse cx="259.8" cy="806.1" rx="0.96" ry="1.37" fill="#1a1aa8" />
<ellipse cx="279.1" cy="800.0" rx="1.29" ry="2.31" fill="#1a1aa8" />
<ellipse cx="266.1" cy="805.4" rx="0.96" ry="1.68" fill="#1a1aa8" />
<ellipse cx="276.5" cy="802.4" rx="1.24" ry="1.45" fill="#1a1aa8" />
<ellipse cx="283.1" cy="802.5" rx="0.74" ry="0.81" fill="#2222c8" />
<ellipse cx="287.2" cy="799.0" rx="0.97" ry="1.43" fill="#2222c8" />
<ellipse cx="273.8" cy="806.2" rx="1.15" ry="2.27" fill="#2222c8" />
<ellipse cx="271.0" cy="802.4" rx="0.74" ry="0.96" fill="#2222c8" />
<ellipse cx="266.5" cy="801.8" rx="1.20" ry="2.01" fill="#1a1aa8" />
<ellipse cx="280.0" cy="805.0" rx="1.24" ry="1.29" fill="#1a1aa8" />
<ellipse cx="275.4" cy="798.9" rx="0.88" ry="0.90" fill="#1a1aa8" />
<ellipse cx="267.7" cy="800.2" rx="0.90" ry="1.18" fill="#1a1aa8" />
<ellipse cx="271.1" cy="806.8" rx="0.73" ry="0.78" fill="#2222c8" />
<ellipse cx="257.6" cy="807.7" rx="0.72" ry="0.92" fill="#2222c8" />
<ellipse cx="185.0" cy="812.2" rx="0.74" ry="0.80" fill="#ff50ff" />
<ellipse cx="196.8" cy="812.9" rx="0.53" ry="0.90" fill="#ff50ff" />
<ellipse cx="176.9" cy="812.6" rx="0.44" ry="0.57" fill="#2222c8" />
<ellipse cx="231.3" cy="811.9" rx="0.67" ry="1.17" fill="#2222c8" />
<ellipse cx="219.4" cy="813.7" rx="0.52" ry="0.64" fill="#2222c8" />
<ellipse cx="220.9" cy="813.6" rx="0.57" ry="0.58" fill="#2222c8" />
<ellipse cx="197.5" cy="812.2" rx="0.64" ry="1.03" fill="#2222c8" />
<ellipse cx="211.9" cy="811.9" rx="0.52" ry="0.93" fill="#2222c8" />
<ellipse cx="227.7" cy="813.3" rx="0.65" ry="0.83" fill="#2222c8" />
<polygon points="172.0,813.5 289.5,813.5 289.5,814.3 172.0,814.3" fill="#60a840" />
<polygon points="172.0,814.3 289.5,814.3 289.5,818.0 172.0,818.0" fill="#d84020" />
</g>
</g>
<g clip-path="url(#cl52)">
<g filter="url(#soft)">
<ellipse cx="398.0" cy="788.0" rx="0.90" ry="2.50" fill="#ff50ff" />
<ellipse cx="404.5" cy="791.0" rx="0.80" ry="2.00" fill="#ff50ff" />
<ellipse cx="388.0" cy="798.0" rx="0.80" ry="1.50" fill="#ff50ff" />
<ellipse cx="383.0" cy="803.0" rx="0.70" ry="1.50" fill="#ff50ff" />
<ellipse cx="395.0" cy="790.0" rx="0.70" ry="1.50" fill="#ff50ff" />
<ellipse cx="381.0" cy="809.0" rx="0.70" ry="1.20" fill="#ff50ff" />
<ellipse cx="297.0" cy="812.0" rx="0.80" ry="1.00" fill="#ff50ff" />
<ellipse cx="401.0" cy="793.0" rx="0.80" ry="1.50" fill="#ff50ff" />
<ellipse cx="392.0" cy="796.0" rx="0.70" ry="1.20" fill="#ff50ff" />
<polygon points="380.4,815.0 379.7,813.9 380.0,812.9 381.1,812.0 380.2,810.9 381.0,810.0 382.3,809.4 382.6,808.3 382.9,807.2 383.0,806.0 384.0,805.3 385.4,805.2 386.0,804.0 386.7,802.8 388.0,802.5 388.9,802.1 389.4,801.1 390.4,800.7 391.8,800.8 392.0,799.5 392.3,798.3 393.9,798.4 394.6,797.6 395.0,796.5 394.8,795.2 396.9,795.2 396.4,793.8 397.1,792.9 397.5,792.0 397.3,790.8 398.0,789.8 399.0,788.9 398.0,787.5 398.5,786.5 398.6,787.9 399.0,789.1 400.0,790.0 400.1,791.4 401.0,792.2 402.0,793.0 402.6,793.8 403.3,794.6 403.7,795.5 404.0,796.5 405.0,796.4 405.9,797.6 407.0,797.0 408.2,797.3 408.8,795.8 410.0,796.0 411.0,795.5 412.0,796.0 412.9,797.0 411.1,798.0 412.9,799.0 412.2,800.0 412.6,801.0 412.6,802.0 411.1,803.0 412.1,804.0 411.7,805.0 411.3,806.0 412.0,807.0 411.4,808.0 411.5,809.0 411.8,810.0 411.9,811.0 411.2,812.0 411.6,813.0 412.3,814.0 412.0,815.0 411.0,814.2 410.0,814.4 408.9,814.1 407.9,814.7 406.9,815.1 405.9,815.3 404.9,814.8 403.8,815.6 402.8,814.5 401.8,814.6 400.8,814.2 399.8,815.6 398.7,814.8 397.7,814.9 396.7,814.8 395.7,815.2 394.7,816.0 393.7,814.1 392.6,814.2 391.6,815.7 390.6,814.2 389.6,814.8 388.6,816.0 387.5,814.7 386.5,815.4 385.5,815.3 384.5,815.8 383.5,814.3 382.4,814.7 381.4,815.5" fill="#2222c8" />
<ellipse cx="387.8" cy="807.7" rx="0.69" ry="1.26" fill="#ffffff" />
<ellipse cx="399.2" cy="802.3" rx="0.52" ry="0.98" fill="#ff50ff" />
<ellipse cx="395.1" cy="804.8" rx="0.91" ry="1.13" fill="#ff50ff" />
<ellipse cx="387.5" cy="806.8" rx="0.77" ry="0.90" fill="#ffffff" />
<ellipse cx="389.0" cy="802.0" rx="0.53" ry="0.93" fill="#ffffff" />
<ellipse cx="390.3" cy="807.6" rx="0.54" ry="0.57" fill="#ffffff" />
<ellipse cx="397.2" cy="794.4" rx="0.54" ry="0.86" fill="#ffffff" />
<ellipse cx="396.9" cy="803.0" rx="0.76" ry="0.77" fill="#ffc0ff" />
<ellipse cx="383.5" cy="810.3" rx="0.87" ry="1.64" fill="#ffffff" />
<ellipse cx="408.0" cy="801.7" rx="0.81" ry="1.25" fill="#ffffff" />
<ellipse cx="398.4" cy="799.0" rx="0.89" ry="1.28" fill="#ffc0ff" />
<ellipse cx="403.9" cy="797.9" rx="1.00" ry="1.34" fill="#ffffff" />
<ellipse cx="397.1" cy="801.1" rx="1.00" ry="1.69" fill="#ffc0ff" />
<ellipse cx="395.3" cy="800.0" rx="0.76" ry="0.89" fill="#ff50ff" />
<polygon points="385.5,815.0 385.7,814.0 386.2,813.0 386.5,812.0 386.8,811.0 387.0,810.0 388.2,809.4 389.3,808.7 390.0,807.5 391.1,807.0 392.2,806.5 393.0,805.7 394.0,805.0 395.0,804.4 396.2,804.0 397.3,803.5 398.0,802.5 399.0,802.3 400.0,802.0 400.9,801.2 402.0,801.3 403.0,801.7 404.0,801.5 405.0,801.6 406.0,801.5 407.0,801.1 408.0,801.4 409.0,801.4 410.0,800.8 411.0,801.0 412.0,801.0 411.8,802.0 411.7,803.0 411.8,804.0 411.8,805.0 411.5,806.0 411.7,807.0 412.4,808.0 412.1,809.0 412.5,810.0 411.6,811.0 411.8,812.0 412.3,813.0 412.3,814.0 412.0,815.0 411.0,815.3 410.0,814.9 408.9,815.0 407.9,815.5 406.9,814.8 405.9,815.2 404.9,815.2 403.8,814.5 402.8,814.6 401.8,814.6 400.8,814.6 399.8,814.9 398.8,815.4 397.7,815.1 396.7,814.9 395.7,814.6 394.7,815.2 393.7,815.4 392.6,814.5 391.6,814.8 390.6,814.7 389.6,815.0 388.6,815.2 387.5,815.2 386.5,815.4" fill="#34d4e0" />
<polygon points="388.5,815.0 389.3,814.0 389.5,812.7 390.0,811.5 390.8,810.8 391.4,809.9 392.0,809.0 393.0,808.5 393.7,807.8 394.4,807.1 395.2,806.5 396.0,805.9 397.0,805.5 397.8,804.7 399.0,804.5 399.9,803.7 401.0,803.5 402.0,803.5 403.0,803.2 404.0,803.5 405.0,803.2 406.0,803.0 407.0,803.2 408.0,803.1 409.0,803.2 410.0,803.4 411.0,803.4 412.0,803.0 412.3,804.0 412.2,805.0 412.2,806.0 412.2,807.0 411.8,808.0 411.7,809.0 412.3,810.0 412.3,811.0 411.7,812.0 412.3,813.0 412.3,814.0 412.0,815.0 411.0,814.7 410.0,815.2 408.9,815.4 407.9,814.9 406.9,815.2 405.9,815.1 404.8,815.1 403.8,814.7 402.8,814.6 401.8,814.6 400.8,815.0 399.7,814.7 398.7,814.8 397.7,815.0 396.7,814.9 395.7,814.9 394.6,814.7 393.6,815.2 392.6,814.7 391.6,814.7 390.5,814.9 389.5,815.0" fill="#22c030" />
<polygon points="394.5,815.0 394.9,813.9 395.0,812.7 395.5,811.6 396.0,810.5 396.6,809.6 396.9,808.5 397.9,807.9 398.5,807.0 399.8,806.8 400.8,805.8 402.0,805.3 403.0,805.4 404.1,805.4 404.9,804.5 405.9,804.4 407.0,804.6 408.0,804.6 409.0,805.0 410.0,804.7 411.0,805.0 412.0,804.8 411.9,805.8 412.4,806.8 412.0,807.9 411.9,808.9 412.3,809.9 412.3,810.9 411.9,811.9 412.2,813.0 411.8,814.0 412.0,815.0 411.0,815.2 409.9,815.3 408.9,815.1 407.9,814.8 406.9,815.1 405.8,815.0 404.8,814.8 403.8,815.2 402.7,814.7 401.7,815.4 400.7,815.0 399.6,815.2 398.6,815.3 397.6,814.7 396.6,815.3 395.5,814.8" fill="#e8e000" />
<polygon points="397.0,815.0 397.4,813.9 397.5,812.8 398.0,811.7 398.0,810.5 398.9,809.5 399.9,808.7 400.5,807.5 401.6,806.9 402.8,806.8 404.0,806.4 405.0,806.2 406.0,806.1 407.0,806.1 408.0,806.2 409.0,806.2 410.0,806.4 411.0,806.3 412.0,806.3 412.2,807.4 411.9,808.5 412.1,809.6 411.9,810.6 412.1,811.7 412.2,812.8 412.2,813.9 412.0,815.0 411.0,814.7 410.0,814.9 409.0,814.9 408.0,814.9 407.0,815.0 406.0,815.2 405.0,814.9 404.0,814.9 403.0,814.8 402.0,815.0 401.0,815.3 400.0,815.1 399.0,815.0 398.0,814.9" fill="#7a4010" />
<polygon points="398.0,815.0 398.2,814.0 398.7,813.0 398.7,812.0 399.0,811.0 399.5,810.0 400.5,809.3 401.2,808.4 402.3,808.2 403.4,807.8 404.5,807.4 405.6,807.1 406.6,807.4 407.7,807.2 408.8,807.1 409.9,807.6 410.9,807.4 412.0,807.3 412.1,808.4 411.8,809.5 411.8,810.6 412.3,811.7 412.1,812.8 412.1,813.9 412.0,815.0 411.0,815.3 410.0,814.9 409.0,814.8 408.0,815.0 407.0,814.8 406.0,815.0 405.0,815.1 404.0,815.0 403.0,814.8 402.0,815.1 401.0,815.0 400.0,815.2 399.0,815.0" fill="#c47424" />
<ellipse cx="326.4" cy="813.6" rx="0.56" ry="0.50" fill="#ff50ff" />
<ellipse cx="324.0" cy="811.9" rx="0.75" ry="0.91" fill="#ff50ff" />
<ellipse cx="321.8" cy="812.3" rx="0.54" ry="0.50" fill="#2222c8" />
<ellipse cx="362.2" cy="813.5" rx="0.59" ry="0.74" fill="#2222c8" />
<ellipse cx="316.0" cy="813.5" rx="0.61" ry="0.51" fill="#2222c8" />
<ellipse cx="301.0" cy="812.7" rx="0.73" ry="0.63" fill="#2222c8" />
<ellipse cx="307.0" cy="813.3" rx="0.78" ry="1.38" fill="#2222c8" />
<ellipse cx="342.2" cy="812.3" rx="0.67" ry="1.06" fill="#ff50ff" />
<polygon points="294.0,813.9 411.0,813.9 411.0,814.8 294.0,814.8" fill="#6a8a10" />
<polygon points="294.0,814.8 411.0,814.8 411.0,818.0 294.0,818.0" fill="#d03030" />
</g>
</g>
<path d="M79.38 42.50V48.50 M108.75 42.50V48.50 M138.12 42.50V48.50 M50.00 77.30H56.00 M167.50 77.30H161.50 M50.00 112.30H56.00 M167.50 112.30H161.50" stroke="#666" stroke-width="0.9" fill="none"/>
<path d="M79.38 167.30V161.30 M108.75 167.30V161.30 M138.12 167.30V161.30" stroke="#3a2010" stroke-width="0.9" fill="none" opacity="0.6"/>
<path d="M49.40 42.50H167.50V167.30H49.40" stroke="#000" stroke-width="1.15" fill="none" stroke-linejoin="miter"/>
<path d="M50.00 42.00V167.80" stroke="#000" stroke-width="1.0" fill="none"/>
<path d="M201.38 42.50V48.50 M230.75 42.50V48.50 M260.12 42.50V48.50 M172.00 77.30H178.00 M289.50 77.30H283.50 M172.00 112.30H178.00 M289.50 112.30H283.50" stroke="#666" stroke-width="0.9" fill="none"/>
<path d="M201.38 167.30V161.30 M230.75 167.30V161.30 M260.12 167.30V161.30" stroke="#3a2010" stroke-width="0.9" fill="none" opacity="0.6"/>
<path d="M171.40 42.50H289.50V167.30H171.40" stroke="#000" stroke-width="1.15" fill="none" stroke-linejoin="miter"/>
<path d="M172.00 42.00V167.80" stroke="#000" stroke-width="1.0" fill="none"/>
<path d="M323.25 42.50V48.50 M352.50 42.50V48.50 M381.75 42.50V48.50 M294.00 77.30H300.00 M411.00 77.30H405.00 M294.00 112.30H300.00 M411.00 112.30H405.00" stroke="#666" stroke-width="0.9" fill="none"/>
<path d="M323.25 167.30V161.30 M352.50 167.30V161.30 M381.75 167.30V161.30" stroke="#3a2010" stroke-width="0.9" fill="none" opacity="0.6"/>
<path d="M293.40 42.50H411.00V167.30H293.40" stroke="#000" stroke-width="1.15" fill="none" stroke-linejoin="miter"/>
<path d="M294.00 42.00V167.80" stroke="#000" stroke-width="1.0" fill="none"/>
<path d="M79.38 173.10V179.10 M108.75 173.10V179.10 M138.12 173.10V179.10 M50.00 207.90H56.00 M167.50 207.90H161.50 M50.00 242.90H56.00 M167.50 242.90H161.50" stroke="#666" stroke-width="0.9" fill="none"/>
<path d="M79.38 298.20V292.20 M108.75 298.20V292.20 M138.12 298.20V292.20" stroke="#3a2010" stroke-width="0.9" fill="none" opacity="0.6"/>
<path d="M49.40 173.10H167.50V298.20H49.40" stroke="#000" stroke-width="1.15" fill="none" stroke-linejoin="miter"/>
<path d="M50.00 172.60V298.70" stroke="#000" stroke-width="1.0" fill="none"/>
<path d="M201.38 173.10V179.10 M230.75 173.10V179.10 M260.12 173.10V179.10 M172.00 207.90H178.00 M289.50 207.90H283.50 M172.00 242.90H178.00 M289.50 242.90H283.50" stroke="#666" stroke-width="0.9" fill="none"/>
<path d="M201.38 298.20V292.20 M230.75 298.20V292.20 M260.12 298.20V292.20" stroke="#3a2010" stroke-width="0.9" fill="none" opacity="0.6"/>
<path d="M171.40 173.10H289.50V298.20H171.40" stroke="#000" stroke-width="1.15" fill="none" stroke-linejoin="miter"/>
<path d="M172.00 172.60V298.70" stroke="#000" stroke-width="1.0" fill="none"/>
<path d="M323.25 173.10V179.10 M352.50 173.10V179.10 M381.75 173.10V179.10 M294.00 207.90H300.00 M411.00 207.90H405.00 M294.00 242.90H300.00 M411.00 242.90H405.00" stroke="#666" stroke-width="0.9" fill="none"/>
<path d="M323.25 298.20V292.20 M352.50 298.20V292.20 M381.75 298.20V292.20" stroke="#3a2010" stroke-width="0.9" fill="none" opacity="0.6"/>
<path d="M293.40 173.10H411.00V298.20H293.40" stroke="#000" stroke-width="1.15" fill="none" stroke-linejoin="miter"/>
<path d="M294.00 172.60V298.70" stroke="#000" stroke-width="1.0" fill="none"/>
<path d="M79.38 301.70V307.70 M108.75 301.70V307.70 M138.12 301.70V307.70 M50.00 336.50H56.00 M167.50 336.50H161.50 M50.00 371.50H56.00 M167.50 371.50H161.50" stroke="#666" stroke-width="0.9" fill="none"/>
<path d="M79.38 427.10V421.10 M108.75 427.10V421.10 M138.12 427.10V421.10" stroke="#3a2010" stroke-width="0.9" fill="none" opacity="0.6"/>
<path d="M49.40 301.70H167.50V427.10H49.40" stroke="#000" stroke-width="1.15" fill="none" stroke-linejoin="miter"/>
<path d="M50.00 301.20V427.60" stroke="#000" stroke-width="1.0" fill="none"/>
<path d="M201.38 301.70V307.70 M230.75 301.70V307.70 M260.12 301.70V307.70 M172.00 336.50H178.00 M289.50 336.50H283.50 M172.00 371.50H178.00 M289.50 371.50H283.50" stroke="#666" stroke-width="0.9" fill="none"/>
<path d="M201.38 427.10V421.10 M230.75 427.10V421.10 M260.12 427.10V421.10" stroke="#3a2010" stroke-width="0.9" fill="none" opacity="0.6"/>
<path d="M171.40 301.70H289.50V427.10H171.40" stroke="#000" stroke-width="1.15" fill="none" stroke-linejoin="miter"/>
<path d="M172.00 301.20V427.60" stroke="#000" stroke-width="1.0" fill="none"/>
<path d="M323.25 301.70V307.70 M352.50 301.70V307.70 M381.75 301.70V307.70 M294.00 336.50H300.00 M411.00 336.50H405.00 M294.00 371.50H300.00 M411.00 371.50H405.00" stroke="#666" stroke-width="0.9" fill="none"/>
<path d="M323.25 427.10V421.10 M352.50 427.10V421.10 M381.75 427.10V421.10" stroke="#3a2010" stroke-width="0.9" fill="none" opacity="0.6"/>
<path d="M293.40 301.70H411.00V427.10H293.40" stroke="#000" stroke-width="1.15" fill="none" stroke-linejoin="miter"/>
<path d="M294.00 301.20V427.60" stroke="#000" stroke-width="1.0" fill="none"/>
<path d="M79.38 431.60V437.60 M108.75 431.60V437.60 M138.12 431.60V437.60 M50.00 462.90H56.00 M167.50 462.90H161.50 M50.00 494.20H56.00 M167.50 494.20H161.50 M50.00 525.60H56.00 M167.50 525.60H161.50" stroke="#666" stroke-width="0.9" fill="none"/>
<path d="M79.38 556.70V550.70 M108.75 556.70V550.70 M138.12 556.70V550.70" stroke="#555" stroke-width="0.9" fill="none" opacity="1"/>
<path d="M49.40 431.60H167.50V556.70H49.40" stroke="#000" stroke-width="1.15" fill="none" stroke-linejoin="miter"/>
<path d="M50.00 431.10V557.20" stroke="#000" stroke-width="1.0" fill="none"/>
<path d="M201.38 431.60V437.60 M230.75 431.60V437.60 M260.12 431.60V437.60 M172.00 462.90H178.00 M289.50 462.90H283.50 M172.00 494.20H178.00 M289.50 494.20H283.50 M172.00 525.60H178.00 M289.50 525.60H283.50" stroke="#666" stroke-width="0.9" fill="none"/>
<path d="M201.38 556.70V550.70 M230.75 556.70V550.70 M260.12 556.70V550.70" stroke="#555" stroke-width="0.9" fill="none" opacity="1"/>
<path d="M171.40 431.60H289.50V556.70H171.40" stroke="#000" stroke-width="1.15" fill="none" stroke-linejoin="miter"/>
<path d="M172.00 431.10V557.20" stroke="#000" stroke-width="1.0" fill="none"/>
<path d="M323.25 431.60V437.60 M352.50 431.60V437.60 M381.75 431.60V437.60 M294.00 462.90H300.00 M411.00 462.90H405.00 M294.00 494.20H300.00 M411.00 494.20H405.00 M294.00 525.60H300.00 M411.00 525.60H405.00" stroke="#666" stroke-width="0.9" fill="none"/>
<path d="M323.25 556.70V550.70 M352.50 556.70V550.70 M381.75 556.70V550.70" stroke="#555" stroke-width="0.9" fill="none" opacity="1"/>
<path d="M293.40 431.60H411.00V556.70H293.40" stroke="#000" stroke-width="1.15" fill="none" stroke-linejoin="miter"/>
<path d="M294.00 431.10V557.20" stroke="#000" stroke-width="1.0" fill="none"/>
<path d="M79.38 562.20V568.20 M108.75 562.20V568.20 M138.12 562.20V568.20 M50.00 593.50H56.00 M167.50 593.50H161.50 M50.00 624.80H56.00 M167.50 624.80H161.50 M50.00 656.20H56.00 M167.50 656.20H161.50" stroke="#666" stroke-width="0.9" fill="none"/>
<path d="M79.38 687.30V681.30 M108.75 687.30V681.30 M138.12 687.30V681.30" stroke="#555" stroke-width="0.9" fill="none" opacity="1"/>
<path d="M49.40 562.20H167.50V687.30H49.40" stroke="#000" stroke-width="1.15" fill="none" stroke-linejoin="miter"/>
<path d="M50.00 561.70V687.80" stroke="#000" stroke-width="1.0" fill="none"/>
<path d="M201.38 562.20V568.20 M230.75 562.20V568.20 M260.12 562.20V568.20 M172.00 593.50H178.00 M289.50 593.50H283.50 M172.00 624.80H178.00 M289.50 624.80H283.50 M172.00 656.20H178.00 M289.50 656.20H283.50" stroke="#666" stroke-width="0.9" fill="none"/>
<path d="M201.38 687.30V681.30 M230.75 687.30V681.30 M260.12 687.30V681.30" stroke="#555" stroke-width="0.9" fill="none" opacity="1"/>
<path d="M171.40 562.20H289.50V687.30H171.40" stroke="#000" stroke-width="1.15" fill="none" stroke-linejoin="miter"/>
<path d="M172.00 561.70V687.80" stroke="#000" stroke-width="1.0" fill="none"/>
<path d="M323.25 562.20V568.20 M352.50 562.20V568.20 M381.75 562.20V568.20 M294.00 593.50H300.00 M411.00 593.50H405.00 M294.00 624.80H300.00 M411.00 624.80H405.00 M294.00 656.20H300.00 M411.00 656.20H405.00" stroke="#666" stroke-width="0.9" fill="none"/>
<path d="M323.25 687.30V681.30 M352.50 687.30V681.30 M381.75 687.30V681.30" stroke="#555" stroke-width="0.9" fill="none" opacity="1"/>
<path d="M293.40 562.20H411.00V687.30H293.40" stroke="#000" stroke-width="1.15" fill="none" stroke-linejoin="miter"/>
<path d="M294.00 561.70V687.80" stroke="#000" stroke-width="1.0" fill="none"/>
<path d="M79.38 692.50V698.50 M108.75 692.50V698.50 M138.12 692.50V698.50 M50.00 723.80H56.00 M167.50 723.80H161.50 M50.00 755.10H56.00 M167.50 755.10H161.50 M50.00 786.50H56.00 M167.50 786.50H161.50" stroke="#666" stroke-width="0.9" fill="none"/>
<path d="M79.38 817.60V811.60 M108.75 817.60V811.60 M138.12 817.60V811.60" stroke="#555" stroke-width="0.9" fill="none" opacity="1"/>
<path d="M49.40 692.50H167.50V817.60H49.40" stroke="#000" stroke-width="1.15" fill="none" stroke-linejoin="miter"/>
<path d="M50.00 692.00V818.10" stroke="#000" stroke-width="1.0" fill="none"/>
<path d="M201.38 692.50V698.50 M230.75 692.50V698.50 M260.12 692.50V698.50 M172.00 723.80H178.00 M289.50 723.80H283.50 M172.00 755.10H178.00 M289.50 755.10H283.50 M172.00 786.50H178.00 M289.50 786.50H283.50" stroke="#666" stroke-width="0.9" fill="none"/>
<path d="M201.38 817.60V811.60 M230.75 817.60V811.60 M260.12 817.60V811.60" stroke="#555" stroke-width="0.9" fill="none" opacity="1"/>
<path d="M171.40 692.50H289.50V817.60H171.40" stroke="#000" stroke-width="1.15" fill="none" stroke-linejoin="miter"/>
<path d="M172.00 692.00V818.10" stroke="#000" stroke-width="1.0" fill="none"/>
<path d="M323.25 692.50V698.50 M352.50 692.50V698.50 M381.75 692.50V698.50 M294.00 723.80H300.00 M411.00 723.80H405.00 M294.00 755.10H300.00 M411.00 755.10H405.00 M294.00 786.50H300.00 M411.00 786.50H405.00" stroke="#666" stroke-width="0.9" fill="none"/>
<path d="M323.25 817.60V811.60 M352.50 817.60V811.60 M381.75 817.60V811.60" stroke="#555" stroke-width="0.9" fill="none" opacity="1"/>
<path d="M293.40 692.50H411.00V817.60H293.40" stroke="#000" stroke-width="1.15" fill="none" stroke-linejoin="miter"/>
<path d="M294.00 692.00V818.10" stroke="#000" stroke-width="1.0" fill="none"/>
<text transform="translate(95.8 16.6) scale(1.0 0.99)" font-size="22.3" text-anchor="start" >Filament</text>
<text transform="translate(186.4 16.6) scale(1.0 0.99)" font-size="22.3" text-anchor="start" >to</text>
<text transform="translate(210.3 16.6) scale(1.0 0.99)" font-size="22.3" text-anchor="start" >the</text>
<text transform="translate(246.6 16.6) scale(1.0 0.99)" font-size="22.3" text-anchor="start" >right:</text>
<text transform="translate(309.6 16.6) scale(1.0 0.99)" font-size="22.3" text-anchor="start" >IEAD</text>
<text transform="translate(106.3 36.6) scale(0.99 1.07)" font-size="22" text-anchor="middle" >A</text>
<text transform="translate(232.4 37.6) scale(0.99 1.08)" font-size="22" text-anchor="middle" >B</text>
<text transform="translate(350.6 36.4) scale(0.99 1.08)" font-size="22" text-anchor="middle" >C</text>
<text transform="translate(44.6 53.6) scale(1.0 1.08)" font-size="18.4" text-anchor="end" >2</text>
<text transform="translate(44.6 118.4) scale(1.0 1.08)" font-size="18.4" text-anchor="end" >1</text>
<text transform="translate(44.6 164.3) scale(1.0 1.08)" font-size="18.4" text-anchor="end" >0</text>
<text transform="translate(44.6 183.6) scale(1.0 1.08)" font-size="18.4" text-anchor="end" >2</text>
<text transform="translate(44.6 247.4) scale(1.0 1.08)" font-size="18.4" text-anchor="end" >1</text>
<text transform="translate(44.6 293.8) scale(1.0 1.08)" font-size="18.4" text-anchor="end" >0</text>
<text transform="translate(44.6 317.7) scale(1.0 1.08)" font-size="18.4" text-anchor="end" >2</text>
<text transform="translate(44.6 381.5) scale(1.0 1.08)" font-size="18.4" text-anchor="end" >1</text>
<text transform="translate(44.6 427.1) scale(1.0 1.08)" font-size="18.4" text-anchor="end" >0</text>
<text transform="translate(45.2 472.9) scale(1.0 1.08)" font-size="18.4" text-anchor="end" >15</text>
<text transform="translate(45.2 504.0) scale(1.0 1.08)" font-size="18.4" text-anchor="end" >10</text>
<text transform="translate(45.2 534.7) scale(1.0 1.08)" font-size="18.4" text-anchor="end" >5</text>
<text transform="translate(45.2 556.3) scale(1.0 1.08)" font-size="18.4" text-anchor="end" >0</text>
<text transform="translate(45.2 601.0) scale(1.0 1.08)" font-size="18.4" text-anchor="end" >15</text>
<text transform="translate(45.2 632.0) scale(1.0 1.08)" font-size="18.4" text-anchor="end" >10</text>
<text transform="translate(45.2 662.7) scale(1.0 1.08)" font-size="18.4" text-anchor="end" >5</text>
<text transform="translate(45.2 683.8) scale(1.0 1.08)" font-size="18.4" text-anchor="end" >0</text>
<text transform="translate(45.2 729.4) scale(1.0 1.08)" font-size="18.4" text-anchor="end" >15</text>
<text transform="translate(45.2 762.3) scale(1.0 1.08)" font-size="18.4" text-anchor="end" >10</text>
<text transform="translate(45.2 792.3) scale(1.0 1.08)" font-size="18.4" text-anchor="end" >5</text>
<text transform="translate(45.2 821.2) scale(1.0 1.08)" font-size="18.4" text-anchor="end" >0</text>
<text transform="translate(336.2 60.6) scale(1.0 1.0)" font-size="19.5" text-anchor="start" >0.30 ns</text>
<text transform="translate(340.3 193.1) scale(1.0 1.0)" font-size="19.5" text-anchor="start" >0.32 ns</text>
<text transform="translate(341.4 318.6) scale(1.0 1.0)" font-size="19.5" text-anchor="start" >0.34 ns</text>
<text transform="translate(340.3 451.0) scale(1.0 1.0)" font-size="19.5" text-anchor="start" >0.36 ns</text>
<text transform="translate(340.7 580.6) scale(1.0 1.0)" font-size="19.5" text-anchor="start" >0.38 ns</text>
<text transform="translate(341.8 710.2) scale(1.0 1.0)" font-size="19.5" text-anchor="start" >0.40 ns</text>
<text transform="translate(42.75 836.6) scale(1.0 1.03)" font-size="19.6" text-anchor="middle" >-90</text>
<text transform="translate(75.9 836.6) scale(1.0 1.03)" font-size="19.6" text-anchor="middle" >-45</text>
<text transform="translate(106.2 836.6) scale(1.0 1.03)" font-size="19.6" text-anchor="middle" >0</text>
<text transform="translate(135.2 836.6) scale(1.0 1.03)" font-size="19.6" text-anchor="middle" >45</text>
<text transform="translate(166.5 836.6) scale(1.0 1.03)" font-size="19.6" text-anchor="middle" >90</text>
<text transform="translate(61.6 852.9) scale(1.0 1.05)" font-size="20" text-anchor="start" >Angle</text>
<text transform="translate(117.6 852.9) scale(1.0 1.05)" font-size="20" text-anchor="start" >(</text>
<text transform="translate(129.0 852.9) scale(1.0 1.05)" font-size="20" text-anchor="middle" >&#176;</text>
<text transform="translate(139.0 852.9) scale(1.0 1.05)" font-size="20" text-anchor="end" >)</text>
<text x="0" y="0" font-size="19.5" transform="translate(14.9,808.6) rotate(-90) scale(1 1.04)">Energy (eV)</text>
<defs>
<linearGradient id="cb0" x1="0" x2="1" y1="0" y2="0"><stop offset="0" stop-color="#f0f0f0"/><stop offset="1" stop-color="#f0f0f0"/></linearGradient>
<linearGradient id="cb1" x1="0" x2="1" y1="0" y2="0"><stop offset="0" stop-color="#f4e6f0"/><stop offset="1" stop-color="#c0609a"/></linearGradient>
<linearGradient id="cb2" x1="0" x2="1" y1="0" y2="0"><stop offset="0" stop-color="#3a3a8e"/><stop offset="1" stop-color="#4a4aa0"/></linearGradient>
<linearGradient id="cb3" x1="0" x2="1" y1="0" y2="0"><stop offset="0" stop-color="#18857f"/><stop offset="1" stop-color="#98cad6"/></linearGradient>
<linearGradient id="cb4" x1="0" x2="1" y1="0" y2="0"><stop offset="0" stop-color="#1f7e3a"/><stop offset="1" stop-color="#6cc060"/></linearGradient>
<linearGradient id="cb5" x1="0" x2="1" y1="0" y2="0"><stop offset="0" stop-color="#7a6a40"/><stop offset="1" stop-color="#ecea00"/></linearGradient>
<linearGradient id="cb6" x1="0" x2="1" y1="0" y2="0"><stop offset="0" stop-color="#7a3a2a"/><stop offset="1" stop-color="#d87420"/></linearGradient>
<linearGradient id="cb7" x1="0" x2="1" y1="0" y2="0"><stop offset="0" stop-color="#7a2a38"/><stop offset="1" stop-color="#d83030"/></linearGradient>
</defs>
<rect x="137.30" y="864.8" width="22.80" height="15.00" fill="url(#cb0)"/>
<rect x="159.80" y="864.8" width="22.00" height="15.00" fill="url(#cb1)"/>
<rect x="181.50" y="864.8" width="22.70" height="15.00" fill="url(#cb2)"/>
<rect x="203.90" y="864.8" width="24.40" height="15.00" fill="url(#cb3)"/>
<rect x="228.00" y="864.8" width="23.10" height="15.00" fill="url(#cb4)"/>
<rect x="250.80" y="864.8" width="22.90" height="15.00" fill="url(#cb5)"/>
<rect x="273.40" y="864.8" width="22.70" height="15.00" fill="url(#cb6)"/>
<rect x="295.80" y="864.8" width="19.70" height="15.00" fill="url(#cb7)"/>
<text transform="translate(107.9 878.7) scale(1.0 1.07)" font-size="17.6" text-anchor="start" >Min</text>
<text transform="translate(317.4 878.6) scale(1.0 1.07)" font-size="17.6" text-anchor="start" >Max</text>
</svg></body></html>
